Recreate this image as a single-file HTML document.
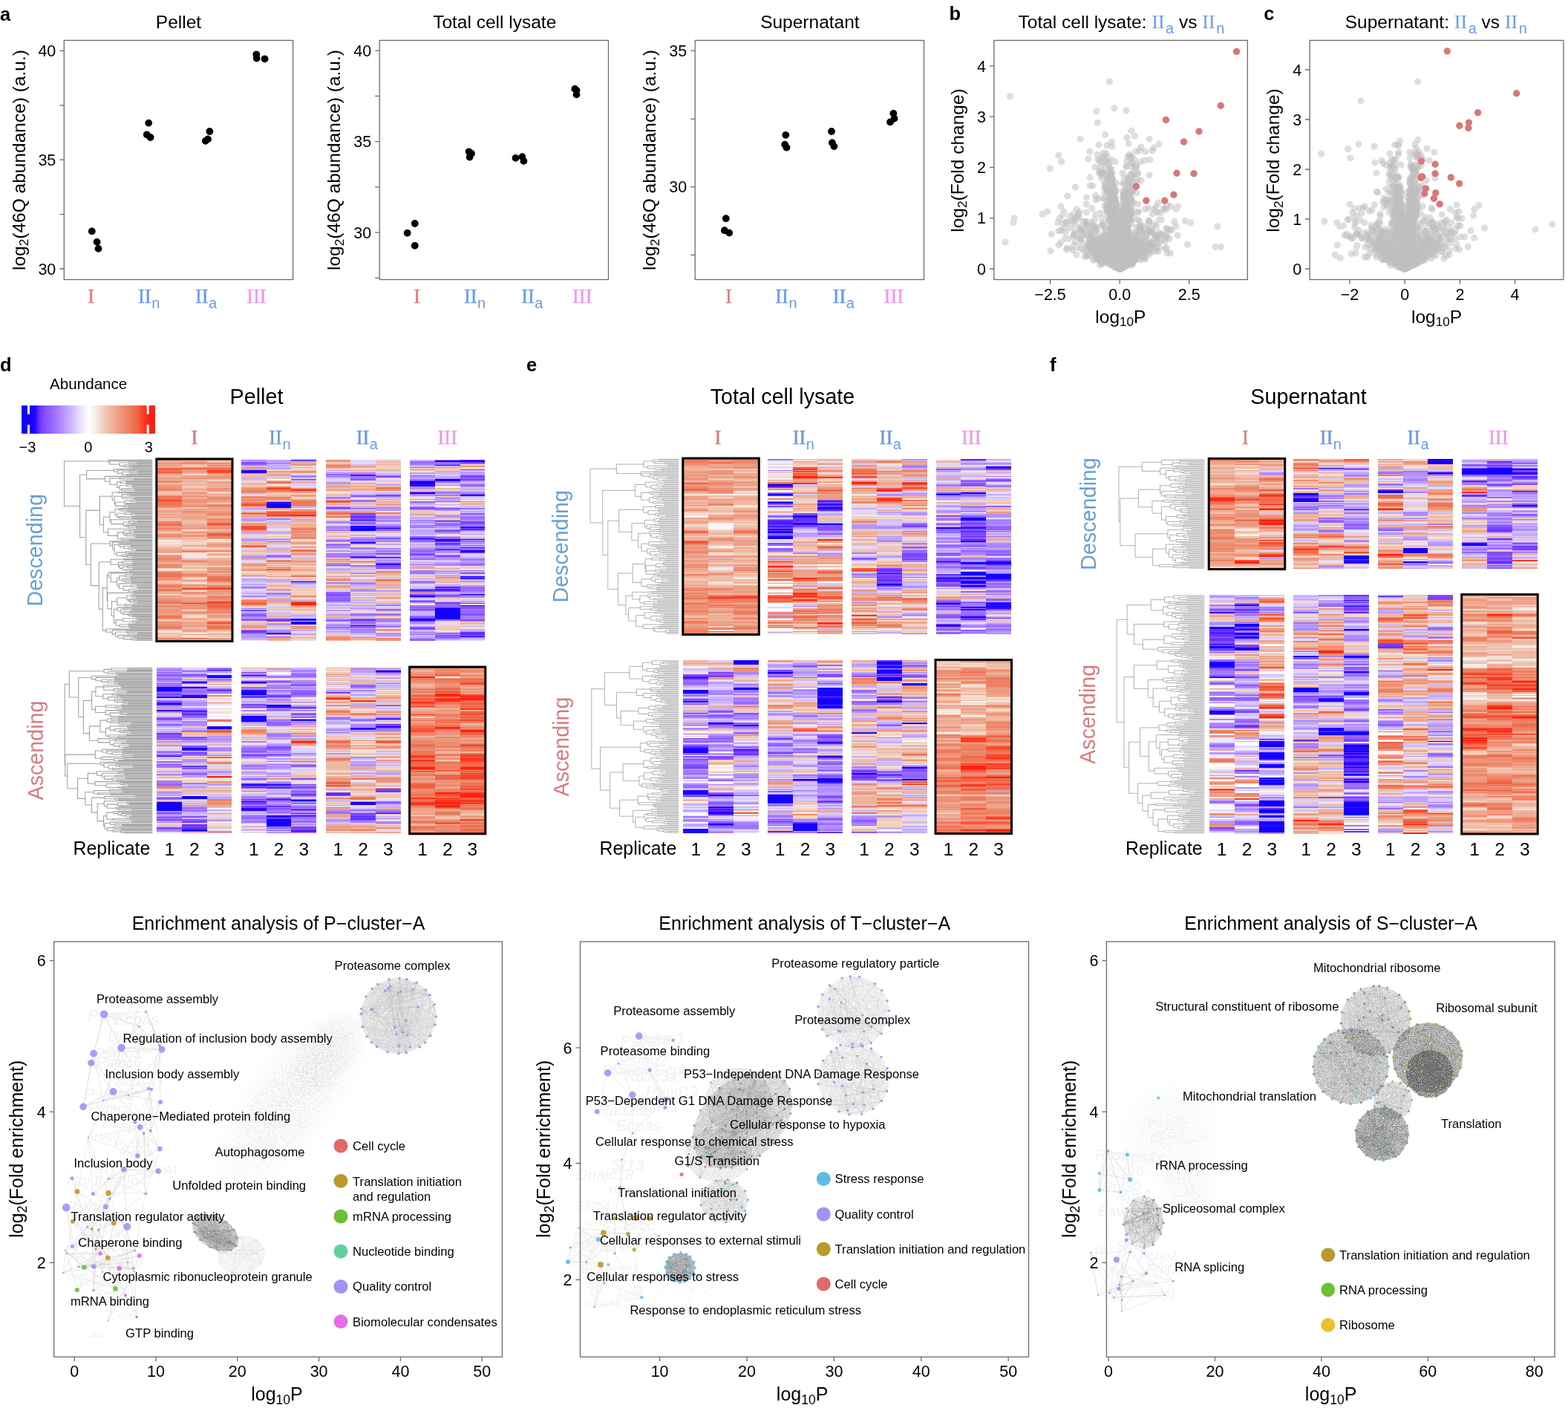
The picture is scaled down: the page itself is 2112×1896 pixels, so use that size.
<!DOCTYPE html><html><head><meta charset="utf-8"><style>html,body{margin:0;padding:0;background:#fff;}#w{position:relative;width:2112px;height:1896px;overflow:hidden;background:#fff;}#w>div{position:absolute;}svg{position:absolute;left:0;top:0;}text{font-family:'Liberation Sans',Arial,Helvetica,sans-serif;}</style></head><body><div id="w"><div style="left:211.3px;top:618.5px;width:34.1px;height:244.5px;background:linear-gradient(#f06c4f 0 1px,#eea790 0 3px,#efb29b 0 4px,#ed9479 0 6px,#efb29b 0 7px,#ed9479 0 8px,#eea790 0 10px,#efb29b 0 11px,#f25e42 0 13px,#f06c4f 0 14px,#ef7759 0 15px,#f06c4f 0 17px,#f25e42 0 18px,#ef7759 0 19px,#eea790 0 22px,#f0bda7 0 24px,#ee8b6e 0 25px,#eea790 0 29px,#ef7759 0 31px,#f3d6c6 0 32px,#eea790 0 35px,#ed9479 0 39px,#ee8163 0 40px,#ee8b6e 0 42px,#eea790 0 43px,#f3d6c6 0 44px,#f0bda7 0 46px,#f1c9b6 0 47px,#eea790 0 49px,#f06c4f 0 50px,#ef7759 0 54px,#fa492e 0 56px,#ef7759 0 61px,#ee8163 0 64px,#eea790 0 65px,#efb29b 0 67px,#f1c9b6 0 68px,#ed9479 0 69px,#eea790 0 71px,#efb29b 0 74px,#ed9479 0 75px,#f1c9b6 0 76px,#eea790 0 78px,#efb29b 0 79px,#f0bda7 0 81px,#f1c9b6 0 82px,#efb29b 0 83px,#ee8163 0 85px,#ee8b6e 0 86px,#f06c4f 0 89px,#ed9479 0 90px,#ed9d85 0 92px,#ef7759 0 93px,#ed9479 0 96px,#efb29b 0 97px,#f1c9b6 0 99px,#eea790 0 100px,#ed9479 0 101px,#ee8b6e 0 103px,#ee8163 0 104px,#eea790 0 106px,#f1c9b6 0 107px,#efb29b 0 108px,#f8ece5 0 110px,#f3d6c6 0 111px,#f4e2d7 0 114px,#f3d6c6 0 117px,#efb29b 0 118px,#f0bda7 0 119px,#efb29b 0 121px,#ed9d85 0 122px,#eea790 0 124px,#ed9479 0 125px,#f0bda7 0 126px,#f4e2d7 0 128px,#ed9d85 0 129px,#ed9479 0 132px,#ee8163 0 133px,#ee8b6e 0 136px,#ed9d85 0 138px,#eea790 0 139px,#f0bda7 0 140px,#ed9479 0 142px,#ee8163 0 143px,#ed9479 0 144px,#ee8b6e 0 146px,#f1c9b6 0 147px,#f8ece5 0 149px,#f4e2d7 0 150px,#ed9479 0 151px,#ee8b6e 0 153px,#f06c4f 0 154px,#ef7759 0 156px,#f06c4f 0 158px,#ed9479 0 160px,#ee8163 0 161px,#ed9d85 0 163px,#f0bda7 0 164px,#f1c9b6 0 165px,#f0bda7 0 167px,#eea790 0 168px,#ee8b6e 0 169px,#ee8163 0 171px,#f06c4f 0 172px,#ed9d85 0 174px,#ee8163 0 175px,#f25e42 0 176px,#ed9479 0 178px,#eea790 0 179px,#efb29b 0 181px,#f1c9b6 0 182px,#f3d6c6 0 183px,#ed9d85 0 185px,#efb29b 0 186px,#ed9d85 0 188px,#ee8b6e 0 189px,#ed9479 0 190px,#ee8163 0 192px,#ef7759 0 193px,#f06c4f 0 194px,#eea790 0 196px,#ee8b6e 0 199px,#eea790 0 200px,#ed9d85 0 201px,#ed9479 0 203px,#ed9d85 0 204px,#ed9479 0 206px,#ed9d85 0 207px,#eea790 0 208px,#ed9479 0 210px,#ef7759 0 213px,#ee8163 0 214px,#ee8b6e 0 215px,#f1c9b6 0 217px,#efb29b 0 218px,#ed9479 0 222px,#ee8b6e 0 225px,#f06c4f 0 226px,#ee8163 0 228px,#ed9479 0 229px,#f3d6c6 0 231px,#f8ece5 0 232px,#f4e2d7 0 233px,#f0bda7 0 235px,#f1c9b6 0 238px,#efb29b 0 239px,#f0bda7 0 240px,#ee8b6e 0 243px,#ed9479 0)"></div><div style="left:245px;top:618.5px;width:34.1px;height:244.5px;background:linear-gradient(#ed9479 0 1px,#eea790 0 3px,#ed9479 0 4px,#ee8b6e 0 6px,#f0bda7 0 8px,#f1c9b6 0 10px,#ee8b6e 0 11px,#f06c4f 0 13px,#ee8b6e 0 14px,#ed9479 0 15px,#ed9d85 0 18px,#f0bda7 0 19px,#f3d6c6 0 21px,#ed9d85 0 22px,#eea790 0 24px,#ed9479 0 25px,#ee8b6e 0 26px,#efb29b 0 31px,#e2d8ff 0 32px,#ed9d85 0 33px,#f0bda7 0 36px,#f1c9b6 0 38px,#f0bda7 0 39px,#eea790 0 42px,#f3d6c6 0 43px,#ed9d85 0 44px,#ed9479 0 46px,#efb29b 0 47px,#eea790 0 49px,#ee8b6e 0 50px,#ed9d85 0 51px,#efb29b 0 53px,#ed9479 0 57px,#ee8b6e 0 58px,#eea790 0 60px,#ed9d85 0 61px,#ed9479 0 63px,#ee8b6e 0 64px,#f1c9b6 0 65px,#efb29b 0 67px,#ed9479 0 68px,#efb29b 0 69px,#ee8b6e 0 71px,#ed9d85 0 72px,#eea790 0 74px,#efb29b 0 76px,#ed9d85 0 78px,#efb29b 0 79px,#ed9d85 0 81px,#f1c9b6 0 82px,#eea790 0 83px,#f1c9b6 0 85px,#efb29b 0 88px,#eea790 0 89px,#ed9d85 0 90px,#eea790 0 92px,#ee8b6e 0 93px,#f0bda7 0 94px,#f3d6c6 0 96px,#f0bda7 0 97px,#ed9479 0 99px,#eea790 0 100px,#f0bda7 0 101px,#ed9479 0 104px,#f0bda7 0 106px,#eea790 0 107px,#f1c9b6 0 110px,#f3d6c6 0 114px,#f1c9b6 0 115px,#eea790 0 117px,#f3d6c6 0 118px,#ece5ff 0 119px,#f1c9b6 0 121px,#f0bda7 0 122px,#ee8163 0 124px,#ed9479 0 125px,#f4e2d7 0 129px,#ece5ff 0 131px,#f4e2d7 0 133px,#f0bda7 0 135px,#ed9d85 0 136px,#ee8b6e 0 138px,#ed9d85 0 139px,#f0bda7 0 140px,#efb29b 0 142px,#f0bda7 0 143px,#f3d6c6 0 144px,#f0bda7 0 146px,#efb29b 0 147px,#f3d6c6 0 149px,#f1c9b6 0 150px,#eea790 0 151px,#efb29b 0 153px,#ed9479 0 154px,#ee8163 0 156px,#ee8b6e 0 157px,#ed9479 0 158px,#f1c9b6 0 160px,#f8ece5 0 161px,#eea790 0 164px,#f0bda7 0 165px,#f4e2d7 0 167px,#f1c9b6 0 168px,#ed9d85 0 169px,#ed9479 0 171px,#f0bda7 0 172px,#f25e42 0 174px,#fa492e 0 175px,#eea790 0 176px,#f3d6c6 0 178px,#ed9479 0 181px,#ed9d85 0 182px,#f3d6c6 0 183px,#f0bda7 0 186px,#ed9479 0 188px,#eea790 0 190px,#ed9479 0 192px,#ee8b6e 0 193px,#ff341c 0 194px,#ee8b6e 0 196px,#ed9d85 0 197px,#ed9479 0 199px,#ed9d85 0 200px,#ee8163 0 201px,#f0bda7 0 203px,#f3d6c6 0 204px,#ed9479 0 208px,#f1c9b6 0 210px,#f3d6c6 0 213px,#efb29b 0 214px,#eea790 0 217px,#f3d6c6 0 218px,#eea790 0 219px,#ed9d85 0 221px,#efb29b 0 222px,#ed9d85 0 224px,#eea790 0 225px,#ed9d85 0 226px,#f1c9b6 0 228px,#ed9479 0 229px,#eea790 0 231px,#ed9d85 0 232px,#f1c9b6 0 233px,#f4e2d7 0 235px,#ed9479 0 236px,#f4e2d7 0 238px,#f8ece5 0 239px,#f0bda7 0 240px,#ef7759 0 242px,#efb29b 0 243px,#ed9d85 0)"></div><div style="left:278.8px;top:618.5px;width:33.7px;height:244.5px;background:linear-gradient(#ed9d85 0 1px,#f0bda7 0 3px,#f1c9b6 0 4px,#ee8b6e 0 6px,#efb29b 0 7px,#ee8163 0 8px,#ed9d85 0 11px,#f06c4f 0 13px,#ef7759 0 14px,#ff341c 0 15px,#fa492e 0 18px,#ed9d85 0 19px,#eea790 0 22px,#ed9479 0 25px,#ed9d85 0 26px,#f0bda7 0 28px,#f4e2d7 0 29px,#ed9d85 0 31px,#efb29b 0 32px,#ed9d85 0 33px,#efb29b 0 35px,#eea790 0 36px,#efb29b 0 38px,#ed9d85 0 39px,#ee8b6e 0 40px,#ed9d85 0 43px,#f1c9b6 0 44px,#f3d6c6 0 46px,#ed9d85 0 47px,#efb29b 0 50px,#ee8163 0 51px,#ee8b6e 0 53px,#ed9479 0 54px,#ed9d85 0 56px,#eea790 0 58px,#f1c9b6 0 60px,#ee8b6e 0 61px,#ee8163 0 63px,#ee8b6e 0 64px,#efb29b 0 65px,#ed9d85 0 67px,#efb29b 0 68px,#eea790 0 69px,#ed9d85 0 71px,#ed9479 0 72px,#ee8b6e 0 74px,#ee8163 0 75px,#eea790 0 76px,#efb29b 0 79px,#ee8b6e 0 82px,#ed9479 0 83px,#ee8b6e 0 85px,#ef7759 0 86px,#fa492e 0 88px,#ee8163 0 89px,#ed9479 0 94px,#f0bda7 0 96px,#eea790 0 97px,#ed9479 0 99px,#f25e42 0 103px,#ee8b6e 0 104px,#ee8163 0 106px,#eea790 0 107px,#f8ece5 0 108px,#f3d6c6 0 110px,#f8ece5 0 111px,#efb29b 0 113px,#ed9d85 0 114px,#ed9479 0 115px,#ed9d85 0 117px,#eea790 0 118px,#f0bda7 0 119px,#f3d6c6 0 121px,#eea790 0 122px,#ed9479 0 124px,#eea790 0 125px,#fbf6f2 0 126px,#eea790 0 129px,#f3d6c6 0 132px,#f1c9b6 0 133px,#efb29b 0 135px,#eea790 0 138px,#ee8b6e 0 139px,#efb29b 0 140px,#ed9d85 0 142px,#efb29b 0 143px,#f4e2d7 0 144px,#eea790 0 146px,#ed9479 0 149px,#eea790 0 150px,#ee8b6e 0 151px,#ed9479 0 153px,#f0bda7 0 154px,#ed9d85 0 156px,#ed9479 0 157px,#ef7759 0 160px,#f06c4f 0 163px,#ef7759 0 164px,#ed9479 0 165px,#eea790 0 167px,#f1c9b6 0 168px,#eea790 0 169px,#ee8163 0 171px,#ee8b6e 0 172px,#fa492e 0 174px,#ff341c 0 175px,#eea790 0 176px,#ed9479 0 178px,#ed9d85 0 181px,#eea790 0 182px,#efb29b 0 183px,#ee8b6e 0 185px,#f06c4f 0 186px,#ee8b6e 0 189px,#eea790 0 190px,#f06c4f 0 192px,#ff2010 0 193px,#f25e42 0 194px,#f06c4f 0 196px,#f25e42 0 199px,#f06c4f 0 200px,#ef7759 0 201px,#ee8163 0 203px,#ed9479 0 204px,#ee8163 0 206px,#ee8b6e 0 207px,#efb29b 0 208px,#eea790 0 210px,#ee8163 0 211px,#eea790 0 213px,#ed9d85 0 214px,#f4e2d7 0 215px,#f0bda7 0 217px,#ed9d85 0 218px,#ef7759 0 219px,#fa492e 0 221px,#ed9479 0 222px,#ee8b6e 0 224px,#f06c4f 0 225px,#ee8163 0 226px,#f06c4f 0 228px,#ed9d85 0 229px,#eea790 0 231px,#f1c9b6 0 232px,#f8ece5 0 233px,#f0bda7 0 235px,#efb29b 0 236px,#f1c9b6 0 239px,#fbf6f2 0 240px,#ed9479 0 242px,#ed9d85 0 243px,#ee8b6e 0)"></div><div style="left:324.9px;top:618.5px;width:34.1px;height:244.5px;background:linear-gradient(#a074ff 0 1px,#bb9dff 0 3px,#854fff 0 6px,#9668ff 0 7px,#aa80ff 0 8px,#cebbff 0 10px,#ed9479 0 11px,#ed9d85 0 14px,#280bff 0 15px,#1400ff 0 18px,#ee8163 0 19px,#f0bda7 0 21px,#f1c9b6 0 22px,#efb29b 0 24px,#f0bda7 0 25px,#c4acff 0 26px,#cebbff 0 28px,#f3d6c6 0 31px,#f1c9b6 0 32px,#eea790 0 33px,#f0bda7 0 35px,#f3d6c6 0 36px,#efb29b 0 38px,#ee8b6e 0 39px,#ed9479 0 40px,#ee8b6e 0 42px,#ef7759 0 44px,#eea790 0 46px,#d8c9ff 0 47px,#f3d6c6 0 49px,#ed9479 0 50px,#ee8163 0 51px,#ed9479 0 54px,#ee8b6e 0 56px,#efb29b 0 57px,#ee8163 0 58px,#f06c4f 0 60px,#ff341c 0 61px,#f06c4f 0 63px,#eea790 0 64px,#d8c9ff 0 65px,#bb9dff 0 67px,#cebbff 0 68px,#e2d8ff 0 69px,#f0bda7 0 71px,#ee8163 0 72px,#f25e42 0 74px,#f3d6c6 0 75px,#ee8b6e 0 76px,#eea790 0 78px,#d8c9ff 0 79px,#b38fff 0 81px,#cebbff 0 82px,#a074ff 0 83px,#f3d6c6 0 85px,#ed9d85 0 86px,#ed9479 0 88px,#ed9d85 0 89px,#f25e42 0 90px,#fa492e 0 94px,#ef7759 0 96px,#f0bda7 0 97px,#bb9dff 0 99px,#cebbff 0 100px,#f0bda7 0 101px,#f3d6c6 0 103px,#e2d8ff 0 104px,#f1c9b6 0 106px,#c4acff 0 107px,#aa80ff 0 108px,#bb9dff 0 110px,#f1c9b6 0 111px,#efb29b 0 114px,#f0bda7 0 115px,#ef7759 0 117px,#ff341c 0 118px,#f3d6c6 0 119px,#d8c9ff 0 121px,#f3d6c6 0 122px,#efb29b 0 124px,#e2d8ff 0 125px,#f1c9b6 0 128px,#f0bda7 0 129px,#bb9dff 0 131px,#b38fff 0 133px,#eea790 0 135px,#d8c9ff 0 136px,#e2d8ff 0 138px,#f3d6c6 0 139px,#efb29b 0 140px,#ed9d85 0 142px,#ed9479 0 143px,#eea790 0 144px,#f0bda7 0 146px,#efb29b 0 147px,#ed9d85 0 149px,#ed9479 0 150px,#f4e2d7 0 151px,#f3d6c6 0 153px,#d8c9ff 0 154px,#f0bda7 0 156px,#aa80ff 0 157px,#f1c9b6 0 158px,#f4e2d7 0 160px,#b38fff 0 161px,#c4acff 0 164px,#d8c9ff 0 167px,#cebbff 0 168px,#b38fff 0 169px,#d8c9ff 0 171px,#8c5cff 0 172px,#b38fff 0 174px,#e2d8ff 0 175px,#f4e2d7 0 176px,#d8c9ff 0 179px,#c4acff 0 181px,#d8c9ff 0 183px,#aa80ff 0 185px,#d8c9ff 0 186px,#f3d6c6 0 188px,#eea790 0 189px,#ef7759 0 190px,#ee8b6e 0 192px,#f25e42 0 194px,#f06c4f 0 196px,#efb29b 0 197px,#f1c9b6 0 199px,#e2d8ff 0 200px,#aa80ff 0 201px,#bb9dff 0 203px,#1400ff 0 204px,#d8c9ff 0 206px,#9668ff 0 207px,#bb9dff 0 208px,#854fff 0 210px,#9668ff 0 211px,#aa80ff 0 213px,#c4acff 0 214px,#8c5cff 0 217px,#cebbff 0 218px,#f4e2d7 0 219px,#f0bda7 0 221px,#d8c9ff 0 222px,#eea790 0 224px,#ed9479 0 225px,#ee8b6e 0 226px,#eea790 0 228px,#e2d8ff 0 229px,#854fff 0 231px,#652eff 0 233px,#a074ff 0 235px,#bb9dff 0 238px,#b38fff 0 239px,#bb9dff 0 240px,#c4acff 0 242px,#cebbff 0 243px,#f4e2d7 0)"></div><div style="left:358.6px;top:618.5px;width:34.1px;height:244.5px;background:linear-gradient(#c4acff 0 1px,#bb9dff 0 3px,#c4acff 0 4px,#aa80ff 0 6px,#cebbff 0 7px,#c4acff 0 10px,#f0bda7 0 11px,#bb9dff 0 13px,#f3d6c6 0 14px,#f4e2d7 0 15px,#ed9d85 0 17px,#efb29b 0 18px,#f0bda7 0 19px,#eea790 0 21px,#bb9dff 0 22px,#d8c9ff 0 24px,#f0bda7 0 25px,#f1c9b6 0 26px,#ffffff 0 28px,#eea790 0 29px,#ee8163 0 31px,#f25e42 0 32px,#f1c9b6 0 33px,#f4e2d7 0 36px,#ee8163 0 38px,#ff341c 0 39px,#fa492e 0 40px,#f06c4f 0 42px,#ed9479 0 43px,#ee8b6e 0 44px,#f1c9b6 0 46px,#f3d6c6 0 47px,#f0bda7 0 49px,#efb29b 0 50px,#ee8b6e 0 51px,#ee8163 0 53px,#ee8b6e 0 54px,#efb29b 0 56px,#ed9479 0 57px,#1400ff 0 58px,#280bff 0 60px,#1400ff 0 65px,#ed9d85 0 67px,#efb29b 0 68px,#f4e2d7 0 69px,#ef7759 0 71px,#fa492e 0 72px,#f25e42 0 74px,#fa492e 0 75px,#ff2010 0 76px,#ed9d85 0 78px,#e2d8ff 0 79px,#a074ff 0 81px,#e2d8ff 0 82px,#cebbff 0 85px,#eea790 0 86px,#f0bda7 0 88px,#cebbff 0 89px,#d8c9ff 0 90px,#f0bda7 0 92px,#e2d8ff 0 94px,#f4e2d7 0 96px,#c4acff 0 100px,#f1c9b6 0 101px,#f4e2d7 0 103px,#f1c9b6 0 104px,#f3d6c6 0 106px,#c4acff 0 107px,#aa80ff 0 108px,#cebbff 0 110px,#9668ff 0 111px,#f0bda7 0 113px,#efb29b 0 114px,#e2d8ff 0 117px,#f1c9b6 0 118px,#d8c9ff 0 119px,#c4acff 0 121px,#eea790 0 122px,#f0bda7 0 124px,#bb9dff 0 125px,#f4e2d7 0 126px,#d8c9ff 0 128px,#b38fff 0 129px,#8c5cff 0 131px,#bb9dff 0 132px,#c4acff 0 133px,#f3d6c6 0 135px,#ee8b6e 0 136px,#ef7759 0 138px,#f3d6c6 0 139px,#b38fff 0 140px,#f1c9b6 0 142px,#ed9d85 0 143px,#f4e2d7 0 144px,#ed9479 0 146px,#eea790 0 147px,#f25e42 0 149px,#eea790 0 150px,#efb29b 0 151px,#f0bda7 0 153px,#f4e2d7 0 154px,#f0bda7 0 156px,#f3d6c6 0 157px,#ed9479 0 158px,#e2d8ff 0 160px,#f1c9b6 0 161px,#bb9dff 0 163px,#d8c9ff 0 164px,#aa80ff 0 165px,#f3d6c6 0 167px,#f0bda7 0 168px,#f3d6c6 0 169px,#eea790 0 171px,#f3d6c6 0 172px,#f1c9b6 0 174px,#ed9d85 0 175px,#ee8b6e 0 176px,#cebbff 0 178px,#f4e2d7 0 179px,#a074ff 0 181px,#b38fff 0 182px,#bb9dff 0 183px,#cebbff 0 185px,#f1c9b6 0 186px,#eea790 0 188px,#ed9d85 0 189px,#bb9dff 0 190px,#ed9d85 0 192px,#efb29b 0 193px,#cebbff 0 194px,#f1c9b6 0 196px,#f4e2d7 0 197px,#d8c9ff 0 199px,#f0bda7 0 200px,#f3d6c6 0 201px,#cebbff 0 203px,#f4e2d7 0 204px,#d8c9ff 0 206px,#f0bda7 0 207px,#c4acff 0 208px,#d8c9ff 0 210px,#eea790 0 211px,#efb29b 0 213px,#cebbff 0 214px,#7d41ff 0 217px,#652eff 0 218px,#f4e2d7 0 219px,#efb29b 0 221px,#a074ff 0 222px,#c4acff 0 224px,#f3d6c6 0 225px,#efb29b 0 226px,#e2d8ff 0 228px,#cebbff 0 229px,#b38fff 0 231px,#a074ff 0 232px,#bb9dff 0 233px,#280bff 0 235px,#aa80ff 0 236px,#f3d6c6 0 238px,#a074ff 0 239px,#aa80ff 0 240px,#eea790 0 243px,#efb29b 0)"></div><div style="left:392.4px;top:618.5px;width:33.7px;height:244.5px;background:linear-gradient(#1400ff 0 1px,#aa80ff 0 3px,#efb29b 0 4px,#eea790 0 6px,#ed9d85 0 7px,#aa80ff 0 8px,#f4e2d7 0 10px,#c4acff 0 11px,#f3d6c6 0 14px,#f1c9b6 0 15px,#ee8b6e 0 17px,#ed9d85 0 18px,#f1c9b6 0 19px,#e2d8ff 0 21px,#aa80ff 0 24px,#d8c9ff 0 26px,#8c5cff 0 28px,#f8ece5 0 29px,#eea790 0 31px,#efb29b 0 32px,#f4e2d7 0 33px,#d8c9ff 0 35px,#e2d8ff 0 38px,#ee8163 0 39px,#ee8b6e 0 40px,#ff2010 0 42px,#cebbff 0 43px,#f25e42 0 44px,#f1c9b6 0 46px,#f3d6c6 0 47px,#ed9d85 0 49px,#eea790 0 50px,#f1c9b6 0 51px,#f3d6c6 0 53px,#eea790 0 54px,#ee8b6e 0 56px,#f06c4f 0 57px,#ee8163 0 58px,#ef7759 0 61px,#ee8163 0 63px,#cebbff 0 64px,#eea790 0 65px,#e2d8ff 0 67px,#ee8b6e 0 68px,#ed9d85 0 69px,#ef7759 0 71px,#fa492e 0 72px,#f06c4f 0 74px,#ff2010 0 76px,#ed9479 0 78px,#f3d6c6 0 79px,#c4acff 0 81px,#eea790 0 82px,#efb29b 0 85px,#e2d8ff 0 86px,#eea790 0 88px,#f0bda7 0 89px,#efb29b 0 90px,#eea790 0 92px,#ee8b6e 0 93px,#f25e42 0 94px,#ed9479 0 96px,#ee8163 0 97px,#ed9479 0 99px,#ed9d85 0 100px,#ed9479 0 103px,#eea790 0 104px,#ef7759 0 106px,#eea790 0 107px,#f1c9b6 0 108px,#f4e2d7 0 110px,#efb29b 0 111px,#ed9d85 0 113px,#eea790 0 114px,#f1c9b6 0 115px,#e2d8ff 0 117px,#ee8163 0 118px,#f0bda7 0 119px,#f1c9b6 0 121px,#ee8b6e 0 122px,#f25e42 0 124px,#f4e2d7 0 125px,#ee8163 0 126px,#eea790 0 128px,#ed9479 0 129px,#e2d8ff 0 131px,#c4acff 0 132px,#d8c9ff 0 133px,#efb29b 0 136px,#ed9479 0 138px,#ed9d85 0 139px,#f3d6c6 0 140px,#eea790 0 142px,#f1c9b6 0 143px,#f4e2d7 0 144px,#f0bda7 0 147px,#efb29b 0 149px,#ed9d85 0 150px,#d8c9ff 0 151px,#f1c9b6 0 153px,#f4e2d7 0 154px,#efb29b 0 156px,#ef7759 0 158px,#e2d8ff 0 160px,#f0bda7 0 161px,#f1c9b6 0 163px,#aa80ff 0 164px,#280bff 0 165px,#b38fff 0 168px,#f3d6c6 0 169px,#d8c9ff 0 171px,#cebbff 0 172px,#f1c9b6 0 174px,#f3d6c6 0 175px,#f0bda7 0 176px,#f3d6c6 0 178px,#f1c9b6 0 179px,#f3d6c6 0 181px,#f1c9b6 0 183px,#ee8b6e 0 185px,#efb29b 0 186px,#f4e2d7 0 188px,#efb29b 0 189px,#cebbff 0 190px,#ee8163 0 192px,#ff2010 0 196px,#ed9479 0 199px,#f3d6c6 0 200px,#f0bda7 0 204px,#f4e2d7 0 206px,#f0bda7 0 207px,#f4e2d7 0 208px,#c4acff 0 211px,#cebbff 0 213px,#e2d8ff 0 214px,#1400ff 0 215px,#280bff 0 217px,#cebbff 0 218px,#280bff 0 219px,#1400ff 0 222px,#f3d6c6 0 224px,#ee8163 0 225px,#eea790 0 226px,#ed9479 0 228px,#cebbff 0 229px,#c4acff 0 231px,#f4e2d7 0 233px,#cebbff 0 235px,#b38fff 0 236px,#f3d6c6 0 239px,#eea790 0 240px,#f1c9b6 0 242px,#f3d6c6 0 243px,#e2d8ff 0)"></div><div style="left:438.5px;top:618.5px;width:34.1px;height:244.5px;background:linear-gradient(#ed9479 0 3px,#f1c9b6 0 6px,#ed9479 0 8px,#ee8163 0 10px,#ed9479 0 11px,#f0bda7 0 13px,#f4e2d7 0 14px,#bb9dff 0 15px,#f1c9b6 0 17px,#b38fff 0 18px,#c4acff 0 19px,#9668ff 0 21px,#aa80ff 0 24px,#d8c9ff 0 25px,#cebbff 0 26px,#e2d8ff 0 29px,#efb29b 0 31px,#aa80ff 0 32px,#bb9dff 0 33px,#cebbff 0 35px,#ed9479 0 36px,#eea790 0 38px,#f0bda7 0 39px,#efb29b 0 40px,#ed9d85 0 42px,#e2d8ff 0 43px,#f4e2d7 0 46px,#f0bda7 0 49px,#e2d8ff 0 50px,#a074ff 0 51px,#aa80ff 0 53px,#f3d6c6 0 54px,#ee8163 0 56px,#ff2010 0 57px,#ef7759 0 58px,#efb29b 0 60px,#eea790 0 61px,#d8c9ff 0 63px,#a074ff 0 64px,#854fff 0 67px,#e2d8ff 0 68px,#cebbff 0 69px,#ed9d85 0 71px,#f06c4f 0 72px,#ef7759 0 74px,#ed9d85 0 75px,#efb29b 0 76px,#ef7759 0 78px,#f1c9b6 0 79px,#f4e2d7 0 81px,#d8c9ff 0 82px,#f0bda7 0 83px,#aa80ff 0 85px,#b38fff 0 86px,#e2d8ff 0 88px,#d8c9ff 0 89px,#bb9dff 0 90px,#aa80ff 0 92px,#a074ff 0 93px,#c4acff 0 94px,#a074ff 0 96px,#d8c9ff 0 97px,#f0bda7 0 99px,#e2d8ff 0 101px,#f1c9b6 0 103px,#eea790 0 104px,#f3d6c6 0 106px,#cebbff 0 107px,#c4acff 0 108px,#9668ff 0 110px,#b38fff 0 111px,#f3d6c6 0 113px,#aa80ff 0 114px,#8c5cff 0 115px,#aa80ff 0 117px,#b38fff 0 118px,#a074ff 0 119px,#cebbff 0 121px,#f4e2d7 0 122px,#b38fff 0 124px,#f3d6c6 0 125px,#d8c9ff 0 126px,#a074ff 0 128px,#b38fff 0 129px,#a074ff 0 131px,#b38fff 0 132px,#e2d8ff 0 133px,#ed9479 0 135px,#efb29b 0 136px,#ed9d85 0 138px,#f3d6c6 0 139px,#aa80ff 0 142px,#854fff 0 143px,#c4acff 0 144px,#f3d6c6 0 146px,#c4acff 0 147px,#bb9dff 0 149px,#d8c9ff 0 150px,#efb29b 0 151px,#f0bda7 0 153px,#cebbff 0 154px,#f4e2d7 0 156px,#cebbff 0 157px,#eea790 0 158px,#f1c9b6 0 160px,#ed9479 0 161px,#ee8b6e 0 163px,#f0bda7 0 164px,#e2d8ff 0 165px,#aa80ff 0 167px,#f0bda7 0 168px,#d8c9ff 0 169px,#eea790 0 171px,#ee8b6e 0 172px,#f0bda7 0 174px,#f1c9b6 0 175px,#d8c9ff 0 178px,#9668ff 0 179px,#8c5cff 0 181px,#854fff 0 183px,#8c5cff 0 185px,#aa80ff 0 186px,#8c5cff 0 188px,#9668ff 0 189px,#854fff 0 190px,#a074ff 0 192px,#c4acff 0 193px,#f4e2d7 0 194px,#cebbff 0 196px,#bb9dff 0 197px,#d8c9ff 0 199px,#efb29b 0 200px,#d8c9ff 0 203px,#a074ff 0 204px,#e2d8ff 0 206px,#f0bda7 0 207px,#f1c9b6 0 208px,#bb9dff 0 210px,#efb29b 0 213px,#bb9dff 0 214px,#cebbff 0 215px,#8c5cff 0 217px,#a074ff 0 218px,#d8c9ff 0 221px,#c4acff 0 222px,#aa80ff 0 224px,#c4acff 0 225px,#8c5cff 0 226px,#aa80ff 0 228px,#bb9dff 0 229px,#cebbff 0 231px,#bb9dff 0 232px,#c4acff 0 233px,#d8c9ff 0 235px,#f1c9b6 0 236px,#f0bda7 0 238px,#ee8b6e 0 239px,#ed9d85 0 240px,#ee8163 0 242px,#ed9479 0 243px,#efb29b 0)"></div><div style="left:472.2px;top:618.5px;width:34.1px;height:244.5px;background:linear-gradient(#e2d8ff 0 6px,#cebbff 0 7px,#f0bda7 0 8px,#eea790 0 11px,#f3d6c6 0 14px,#eea790 0 15px,#f1c9b6 0 17px,#aa80ff 0 18px,#bb9dff 0 19px,#854fff 0 21px,#1400ff 0 22px,#a074ff 0 24px,#aa80ff 0 25px,#8c5cff 0 28px,#d8c9ff 0 29px,#f3d6c6 0 31px,#f0bda7 0 32px,#ed9479 0 33px,#f3d6c6 0 35px,#ee8b6e 0 36px,#f0bda7 0 38px,#efb29b 0 40px,#eea790 0 42px,#e2d8ff 0 43px,#d8c9ff 0 47px,#a074ff 0 49px,#854fff 0 50px,#b38fff 0 51px,#f4e2d7 0 53px,#e2d8ff 0 54px,#a074ff 0 56px,#9668ff 0 57px,#f1c9b6 0 58px,#cebbff 0 60px,#f1c9b6 0 63px,#bb9dff 0 64px,#c4acff 0 65px,#a074ff 0 67px,#e2d8ff 0 68px,#c4acff 0 69px,#eea790 0 71px,#ee8b6e 0 72px,#7d41ff 0 74px,#8c5cff 0 75px,#854fff 0 76px,#652eff 0 78px,#7d41ff 0 79px,#854fff 0 81px,#280bff 0 82px,#9668ff 0 83px,#aa80ff 0 85px,#854fff 0 86px,#a074ff 0 88px,#d8c9ff 0 89px,#1400ff 0 90px,#280bff 0 92px,#1400ff 0 96px,#c4acff 0 97px,#d8c9ff 0 99px,#f3d6c6 0 101px,#c4acff 0 103px,#f4e2d7 0 104px,#bb9dff 0 106px,#a074ff 0 110px,#8c5cff 0 111px,#280bff 0 113px,#bb9dff 0 114px,#cebbff 0 115px,#f4e2d7 0 117px,#f1c9b6 0 118px,#b38fff 0 119px,#a074ff 0 121px,#e2d8ff 0 122px,#c4acff 0 124px,#bb9dff 0 125px,#c4acff 0 126px,#a074ff 0 128px,#cebbff 0 129px,#854fff 0 131px,#1400ff 0 132px,#8c5cff 0 133px,#cebbff 0 135px,#fbf6f2 0 136px,#ee8163 0 138px,#f0bda7 0 139px,#c4acff 0 140px,#f4e2d7 0 142px,#9668ff 0 143px,#a074ff 0 144px,#c4acff 0 146px,#d8c9ff 0 147px,#efb29b 0 149px,#f1c9b6 0 150px,#f3d6c6 0 151px,#c4acff 0 153px,#a074ff 0 154px,#f3d6c6 0 156px,#b38fff 0 157px,#f0bda7 0 158px,#f4e2d7 0 160px,#e2d8ff 0 161px,#efb29b 0 163px,#cebbff 0 164px,#f1c9b6 0 165px,#aa80ff 0 167px,#9668ff 0 168px,#cebbff 0 169px,#c4acff 0 171px,#d8c9ff 0 172px,#f0bda7 0 174px,#b38fff 0 178px,#f4e2d7 0 179px,#cebbff 0 181px,#f1c9b6 0 182px,#c4acff 0 183px,#e2d8ff 0 185px,#eea790 0 186px,#f1c9b6 0 188px,#efb29b 0 189px,#c4acff 0 190px,#cebbff 0 193px,#efb29b 0 194px,#f1c9b6 0 196px,#ed9479 0 197px,#cebbff 0 199px,#c4acff 0 200px,#b38fff 0 201px,#f0bda7 0 203px,#e2d8ff 0 204px,#f4e2d7 0 206px,#c4acff 0 207px,#bb9dff 0 208px,#8c5cff 0 210px,#cebbff 0 211px,#c4acff 0 213px,#f8ece5 0 214px,#652eff 0 215px,#7d41ff 0 218px,#bb9dff 0 219px,#8c5cff 0 221px,#f3d6c6 0 222px,#652eff 0 224px,#854fff 0 225px,#7d41ff 0 226px,#b38fff 0 228px,#a074ff 0 229px,#aa80ff 0 231px,#b38fff 0 232px,#a074ff 0 233px,#c4acff 0 235px,#cebbff 0 236px,#f3d6c6 0 238px,#cebbff 0 239px,#b38fff 0 240px,#eea790 0 242px,#efb29b 0 243px,#f3d6c6 0)"></div><div style="left:506px;top:618.5px;width:33.7px;height:244.5px;background:linear-gradient(#f1c9b6 0 1px,#d8c9ff 0 3px,#efb29b 0 4px,#f1c9b6 0 6px,#efb29b 0 7px,#f1c9b6 0 10px,#e2d8ff 0 11px,#f1c9b6 0 13px,#efb29b 0 15px,#d8c9ff 0 17px,#e2d8ff 0 18px,#f0bda7 0 19px,#c4acff 0 21px,#aa80ff 0 22px,#7d41ff 0 24px,#d8c9ff 0 25px,#f3d6c6 0 26px,#e2d8ff 0 28px,#cebbff 0 29px,#f3d6c6 0 32px,#d8c9ff 0 33px,#bb9dff 0 35px,#f4e2d7 0 36px,#ed9479 0 38px,#f25e42 0 39px,#ed9479 0 40px,#ee8b6e 0 42px,#f4e2d7 0 43px,#e2d8ff 0 44px,#cebbff 0 47px,#7d41ff 0 49px,#a074ff 0 50px,#aa80ff 0 51px,#d8c9ff 0 53px,#bb9dff 0 54px,#f1c9b6 0 56px,#cebbff 0 57px,#eea790 0 58px,#cebbff 0 60px,#ee8163 0 61px,#f0bda7 0 63px,#cebbff 0 64px,#a074ff 0 65px,#bb9dff 0 67px,#aa80ff 0 68px,#bb9dff 0 69px,#f4e2d7 0 71px,#f06c4f 0 72px,#ed9d85 0 74px,#e2d8ff 0 75px,#bb9dff 0 76px,#b38fff 0 78px,#a074ff 0 79px,#bb9dff 0 82px,#8c5cff 0 83px,#c4acff 0 85px,#f5f2ff 0 86px,#bb9dff 0 88px,#b38fff 0 89px,#9668ff 0 90px,#854fff 0 92px,#1400ff 0 93px,#8c5cff 0 96px,#c4acff 0 97px,#f0bda7 0 99px,#f3d6c6 0 100px,#e2d8ff 0 103px,#c4acff 0 104px,#aa80ff 0 106px,#652eff 0 107px,#bb9dff 0 108px,#b38fff 0 110px,#9668ff 0 111px,#f4e2d7 0 113px,#b38fff 0 114px,#c4acff 0 115px,#f3d6c6 0 117px,#f4e2d7 0 118px,#d8c9ff 0 119px,#aa80ff 0 121px,#d8c9ff 0 122px,#9668ff 0 124px,#c4acff 0 125px,#a074ff 0 126px,#854fff 0 128px,#cebbff 0 131px,#280bff 0 132px,#8c5cff 0 133px,#c4acff 0 135px,#aa80ff 0 136px,#bb9dff 0 138px,#aa80ff 0 139px,#854fff 0 140px,#280bff 0 142px,#8c5cff 0 143px,#7d41ff 0 144px,#8c5cff 0 146px,#7d41ff 0 147px,#d8c9ff 0 149px,#f1c9b6 0 150px,#ee8163 0 151px,#ed9479 0 153px,#cebbff 0 154px,#efb29b 0 156px,#f3d6c6 0 157px,#f1c9b6 0 158px,#cebbff 0 160px,#f1c9b6 0 161px,#f06c4f 0 163px,#ed9479 0 164px,#ed9d85 0 165px,#f0bda7 0 167px,#ed9d85 0 168px,#efb29b 0 171px,#c4acff 0 172px,#efb29b 0 174px,#f4e2d7 0 175px,#cebbff 0 176px,#bb9dff 0 178px,#e2d8ff 0 179px,#f0bda7 0 182px,#d8c9ff 0 183px,#f1c9b6 0 185px,#ed9d85 0 186px,#eea790 0 188px,#f4e2d7 0 189px,#ece5ff 0 190px,#f1c9b6 0 192px,#efb29b 0 193px,#d8c9ff 0 194px,#bb9dff 0 196px,#8c5cff 0 197px,#e2d8ff 0 199px,#f0bda7 0 200px,#d8c9ff 0 201px,#9668ff 0 203px,#b38fff 0 204px,#f1c9b6 0 206px,#f4e2d7 0 207px,#9668ff 0 208px,#a074ff 0 210px,#eea790 0 211px,#f3d6c6 0 213px,#efb29b 0 214px,#a074ff 0 215px,#aa80ff 0 217px,#9668ff 0 218px,#bb9dff 0 219px,#d8c9ff 0 221px,#c4acff 0 222px,#bb9dff 0 224px,#8c5cff 0 225px,#aa80ff 0 226px,#f3d6c6 0 228px,#ee8b6e 0 229px,#ed9d85 0 231px,#f4e2d7 0 233px,#b38fff 0 236px,#bb9dff 0 238px,#d8c9ff 0 239px,#f3d6c6 0 240px,#ee8163 0 242px,#ed9d85 0 243px,#ed9479 0)"></div><div style="left:552.1px;top:618.5px;width:34.1px;height:244.5px;background:linear-gradient(#d8c9ff 0 1px,#b38fff 0 3px,#854fff 0 4px,#a074ff 0 7px,#c4acff 0 8px,#cebbff 0 10px,#a074ff 0 11px,#f1c9b6 0 13px,#ed9d85 0 14px,#f0bda7 0 15px,#f4e2d7 0 17px,#c4acff 0 18px,#b38fff 0 19px,#d8c9ff 0 21px,#9668ff 0 22px,#b38fff 0 25px,#cebbff 0 26px,#a074ff 0 28px,#7d41ff 0 29px,#1400ff 0 33px,#280bff 0 35px,#1400ff 0 36px,#b38fff 0 38px,#a074ff 0 39px,#efb29b 0 42px,#d8c9ff 0 43px,#8c5cff 0 44px,#1400ff 0 46px,#9668ff 0 47px,#b38fff 0 49px,#d8c9ff 0 50px,#e2d8ff 0 51px,#f4e2d7 0 53px,#b38fff 0 54px,#f4e2d7 0 56px,#8c5cff 0 57px,#9668ff 0 58px,#bb9dff 0 60px,#cebbff 0 61px,#d8c9ff 0 63px,#a074ff 0 64px,#8c5cff 0 65px,#854fff 0 67px,#bb9dff 0 68px,#f0bda7 0 69px,#d8c9ff 0 71px,#f1c9b6 0 72px,#efb29b 0 74px,#ed9d85 0 75px,#f1c9b6 0 76px,#d8c9ff 0 78px,#aa80ff 0 79px,#d8c9ff 0 81px,#9668ff 0 82px,#bb9dff 0 83px,#b38fff 0 86px,#cebbff 0 88px,#9668ff 0 89px,#b38fff 0 90px,#a074ff 0 92px,#d8c9ff 0 93px,#c4acff 0 96px,#b38fff 0 97px,#c4acff 0 100px,#bb9dff 0 101px,#d8c9ff 0 103px,#9668ff 0 104px,#854fff 0 106px,#1400ff 0 107px,#7d41ff 0 108px,#9668ff 0 110px,#8c5cff 0 111px,#cebbff 0 113px,#d8c9ff 0 114px,#bb9dff 0 115px,#cebbff 0 117px,#f0bda7 0 118px,#bb9dff 0 119px,#b38fff 0 121px,#8c5cff 0 122px,#a074ff 0 124px,#7d41ff 0 125px,#c4acff 0 126px,#7d41ff 0 128px,#854fff 0 129px,#b38fff 0 133px,#9668ff 0 135px,#e2d8ff 0 136px,#f1c9b6 0 138px,#bb9dff 0 139px,#e2d8ff 0 140px,#b38fff 0 142px,#c4acff 0 143px,#cebbff 0 144px,#eea790 0 146px,#ed9d85 0 147px,#e2d8ff 0 149px,#a074ff 0 150px,#aa80ff 0 151px,#a074ff 0 154px,#d8c9ff 0 156px,#f3d6c6 0 157px,#f0bda7 0 158px,#f3d6c6 0 160px,#bb9dff 0 161px,#d8c9ff 0 163px,#b38fff 0 164px,#8c5cff 0 165px,#aa80ff 0 167px,#d8c9ff 0 168px,#f3d6c6 0 169px,#d8c9ff 0 172px,#c4acff 0 174px,#aa80ff 0 175px,#1400ff 0 176px,#7d41ff 0 178px,#ee8b6e 0 179px,#b38fff 0 181px,#854fff 0 182px,#7d41ff 0 183px,#1400ff 0 185px,#a074ff 0 186px,#cebbff 0 188px,#f4e2d7 0 189px,#9668ff 0 190px,#854fff 0 192px,#b38fff 0 193px,#d8c9ff 0 194px,#f8ece5 0 196px,#9668ff 0 197px,#a074ff 0 199px,#854fff 0 200px,#aa80ff 0 201px,#854fff 0 203px,#aa80ff 0 204px,#cebbff 0 206px,#c4acff 0 207px,#cebbff 0 208px,#c4acff 0 210px,#aa80ff 0 211px,#854fff 0 213px,#7d41ff 0 214px,#1400ff 0 217px,#854fff 0 218px,#a074ff 0 219px,#b38fff 0 221px,#c4acff 0 222px,#e2d8ff 0 224px,#bb9dff 0 225px,#a074ff 0 226px,#7d41ff 0 228px,#8c5cff 0 229px,#cebbff 0 231px,#c4acff 0 232px,#aa80ff 0 233px,#bb9dff 0 235px,#9668ff 0 236px,#cebbff 0 238px,#c4acff 0 240px,#aa80ff 0 242px,#854fff 0 243px,#9668ff 0)"></div><div style="left:585.8px;top:618.5px;width:34.1px;height:244.5px;background:linear-gradient(#b38fff 0 1px,#1400ff 0 3px,#8c5cff 0 4px,#a074ff 0 7px,#280bff 0 8px,#c4acff 0 10px,#cebbff 0 11px,#f0bda7 0 13px,#e2d8ff 0 14px,#f1c9b6 0 15px,#eea790 0 17px,#cebbff 0 18px,#efb29b 0 19px,#d8c9ff 0 22px,#c4acff 0 24px,#bb9dff 0 25px,#b38fff 0 26px,#1400ff 0 28px,#280bff 0 29px,#a074ff 0 31px,#b38fff 0 32px,#f4e2d7 0 33px,#bb9dff 0 35px,#f3d6c6 0 36px,#f5f2ff 0 38px,#f0bda7 0 39px,#efb29b 0 40px,#f3d6c6 0 42px,#c4acff 0 43px,#aa80ff 0 44px,#a074ff 0 46px,#cebbff 0 47px,#a074ff 0 49px,#f3d6c6 0 50px,#ed9d85 0 51px,#b38fff 0 53px,#c4acff 0 54px,#bb9dff 0 56px,#a074ff 0 57px,#f0bda7 0 58px,#f4e2d7 0 60px,#c4acff 0 61px,#e2d8ff 0 64px,#bb9dff 0 65px,#8c5cff 0 67px,#aa80ff 0 68px,#b38fff 0 69px,#f3d6c6 0 74px,#bb9dff 0 75px,#b38fff 0 78px,#d8c9ff 0 79px,#f0bda7 0 81px,#f1c9b6 0 82px,#280bff 0 83px,#b38fff 0 85px,#aa80ff 0 86px,#9668ff 0 89px,#aa80ff 0 90px,#bb9dff 0 92px,#c4acff 0 93px,#e2d8ff 0 94px,#854fff 0 97px,#aa80ff 0 99px,#c4acff 0 100px,#f1c9b6 0 101px,#f4e2d7 0 103px,#bb9dff 0 104px,#9668ff 0 107px,#1400ff 0 108px,#280bff 0 110px,#7d41ff 0 111px,#9668ff 0 113px,#1400ff 0 114px,#9668ff 0 115px,#a074ff 0 117px,#cebbff 0 118px,#9668ff 0 121px,#1400ff 0 122px,#b38fff 0 124px,#a074ff 0 125px,#c4acff 0 126px,#d8c9ff 0 128px,#aa80ff 0 129px,#7d41ff 0 131px,#aa80ff 0 132px,#b38fff 0 135px,#cebbff 0 136px,#d8c9ff 0 138px,#bb9dff 0 140px,#aa80ff 0 142px,#b38fff 0 143px,#e2d8ff 0 144px,#f3d6c6 0 146px,#eea790 0 147px,#f1c9b6 0 149px,#cebbff 0 150px,#aa80ff 0 151px,#c4acff 0 154px,#d8c9ff 0 156px,#aa80ff 0 157px,#f1c9b6 0 158px,#ee8b6e 0 160px,#f1c9b6 0 161px,#efb29b 0 163px,#f3d6c6 0 164px,#bb9dff 0 165px,#f1c9b6 0 167px,#f3d6c6 0 168px,#bb9dff 0 169px,#c4acff 0 171px,#280bff 0 172px,#7d41ff 0 174px,#652eff 0 175px,#1400ff 0 176px,#7d41ff 0 178px,#cebbff 0 179px,#c4acff 0 181px,#aa80ff 0 182px,#7d41ff 0 183px,#8c5cff 0 185px,#bb9dff 0 186px,#f1c9b6 0 189px,#f4e2d7 0 190px,#cebbff 0 192px,#652eff 0 193px,#7d41ff 0 194px,#9668ff 0 199px,#652eff 0 200px,#1400ff 0 215px,#9668ff 0 217px,#cebbff 0 218px,#ece5ff 0 219px,#f3d6c6 0 221px,#e2d8ff 0 222px,#f3d6c6 0 224px,#f0bda7 0 225px,#e2d8ff 0 226px,#f1c9b6 0 228px,#cebbff 0 229px,#f3d6c6 0 231px,#f4e2d7 0 232px,#cebbff 0 233px,#9668ff 0 235px,#b38fff 0 236px,#854fff 0 238px,#9668ff 0 239px,#854fff 0 240px,#aa80ff 0 242px,#cebbff 0 243px,#d8c9ff 0)"></div><div style="left:619.6px;top:618.5px;width:33.7px;height:244.5px;background:linear-gradient(#7d41ff 0 1px,#1400ff 0 3px,#652eff 0 4px,#8c5cff 0 6px,#f3d6c6 0 7px,#d8c9ff 0 8px,#ed9479 0 10px,#f4e2d7 0 11px,#f3d6c6 0 13px,#7d41ff 0 14px,#cebbff 0 17px,#aa80ff 0 18px,#c4acff 0 19px,#bb9dff 0 21px,#7d41ff 0 24px,#9668ff 0 25px,#8c5cff 0 26px,#7d41ff 0 28px,#aa80ff 0 29px,#c4acff 0 31px,#d8c9ff 0 32px,#aa80ff 0 33px,#a074ff 0 35px,#854fff 0 36px,#c4acff 0 38px,#f4e2d7 0 39px,#aa80ff 0 40px,#d8c9ff 0 42px,#bb9dff 0 43px,#c4acff 0 44px,#aa80ff 0 46px,#8c5cff 0 47px,#280bff 0 49px,#c4acff 0 50px,#cebbff 0 51px,#e2d8ff 0 53px,#f0bda7 0 54px,#f4e2d7 0 56px,#aa80ff 0 57px,#f3d6c6 0 58px,#efb29b 0 61px,#d8c9ff 0 63px,#c4acff 0 64px,#e2d8ff 0 65px,#9668ff 0 67px,#e2d8ff 0 68px,#cebbff 0 69px,#c4acff 0 71px,#cebbff 0 72px,#8c5cff 0 74px,#b38fff 0 75px,#c4acff 0 76px,#a074ff 0 78px,#9668ff 0 79px,#a074ff 0 81px,#bb9dff 0 82px,#a074ff 0 83px,#854fff 0 85px,#652eff 0 86px,#9668ff 0 89px,#b38fff 0 90px,#280bff 0 92px,#8c5cff 0 93px,#1400ff 0 94px,#8c5cff 0 96px,#cebbff 0 97px,#d8c9ff 0 99px,#f1c9b6 0 100px,#bb9dff 0 101px,#e2d8ff 0 103px,#f3d6c6 0 104px,#cebbff 0 106px,#b38fff 0 107px,#280bff 0 108px,#aa80ff 0 110px,#854fff 0 111px,#bb9dff 0 113px,#aa80ff 0 114px,#e2d8ff 0 115px,#a074ff 0 117px,#cebbff 0 118px,#280bff 0 119px,#a074ff 0 121px,#854fff 0 122px,#1400ff 0 124px,#280bff 0 125px,#7d41ff 0 126px,#d8c9ff 0 128px,#e2d8ff 0 129px,#d8c9ff 0 131px,#c4acff 0 132px,#cebbff 0 133px,#a074ff 0 135px,#aa80ff 0 136px,#bb9dff 0 139px,#aa80ff 0 140px,#9668ff 0 142px,#a074ff 0 143px,#f3d6c6 0 144px,#f1c9b6 0 146px,#f3d6c6 0 147px,#f4e2d7 0 149px,#8c5cff 0 150px,#ece5ff 0 151px,#a074ff 0 153px,#854fff 0 154px,#e2d8ff 0 156px,#c4acff 0 157px,#1400ff 0 158px,#652eff 0 160px,#1400ff 0 161px,#cebbff 0 163px,#bb9dff 0 164px,#b38fff 0 165px,#f1c9b6 0 167px,#e2d8ff 0 168px,#f3d6c6 0 169px,#b38fff 0 171px,#aa80ff 0 172px,#8c5cff 0 174px,#b38fff 0 175px,#854fff 0 176px,#a074ff 0 178px,#b38fff 0 179px,#bb9dff 0 181px,#1400ff 0 182px,#854fff 0 183px,#aa80ff 0 185px,#b38fff 0 186px,#f3d6c6 0 188px,#d8c9ff 0 189px,#e2d8ff 0 190px,#bb9dff 0 192px,#cebbff 0 193px,#ff2010 0 194px,#f4e2d7 0 196px,#280bff 0 197px,#854fff 0 201px,#a074ff 0 203px,#9668ff 0 207px,#8c5cff 0 208px,#854fff 0 210px,#b38fff 0 211px,#a074ff 0 213px,#b38fff 0 214px,#a074ff 0 215px,#854fff 0 217px,#a074ff 0 218px,#f3d6c6 0 219px,#efb29b 0 221px,#f0bda7 0 222px,#f3d6c6 0 224px,#c4acff 0 225px,#f4e2d7 0 228px,#c4acff 0 231px,#b38fff 0 232px,#652eff 0 236px,#7d41ff 0 238px,#1400ff 0 239px,#aa80ff 0 240px,#c4acff 0 242px,#d8c9ff 0 243px,#e2d8ff 0)"></div><div style="left:211.3px;top:898.6px;width:34.1px;height:223.7px;background:linear-gradient(#b38fff 0 1px,#bb9dff 0 3px,#8c5cff 0 4px,#bb9dff 0 6px,#9668ff 0 7px,#aa80ff 0 8px,#a074ff 0 10px,#854fff 0 11px,#9668ff 0 12px,#b38fff 0 14px,#a074ff 0 15px,#9668ff 0 17px,#b38fff 0 18px,#a074ff 0 19px,#c4acff 0 21px,#854fff 0 22px,#b38fff 0 23px,#9668ff 0 25px,#a074ff 0 26px,#1400ff 0 32px,#854fff 0 33px,#8c5cff 0 36px,#652eff 0 37px,#9668ff 0 39px,#280bff 0 41px,#d8c9ff 0 43px,#c4acff 0 44px,#a074ff 0 46px,#652eff 0 47px,#7d41ff 0 48px,#1400ff 0 50px,#9668ff 0 51px,#a074ff 0 52px,#bb9dff 0 55px,#ed9479 0 57px,#280bff 0 59px,#b38fff 0 61px,#d8c9ff 0 62px,#f3d6c6 0 64px,#d8c9ff 0 65px,#e2d8ff 0 66px,#aa80ff 0 68px,#7d41ff 0 69px,#652eff 0 70px,#aa80ff 0 72px,#bb9dff 0 73px,#c4acff 0 76px,#854fff 0 77px,#a074ff 0 79px,#d8c9ff 0 80px,#c4acff 0 81px,#e2d8ff 0 83px,#bb9dff 0 84px,#d8c9ff 0 86px,#aa80ff 0 87px,#d8c9ff 0 88px,#652eff 0 90px,#9668ff 0 91px,#854fff 0 93px,#8c5cff 0 95px,#9668ff 0 97px,#aa80ff 0 98px,#f1c9b6 0 99px,#b38fff 0 101px,#f1c9b6 0 102px,#efb29b 0 104px,#c4acff 0 105px,#a074ff 0 106px,#e2d8ff 0 108px,#f8ece5 0 109px,#f0bda7 0 110px,#e2d8ff 0 112px,#b38fff 0 113px,#9668ff 0 115px,#c4acff 0 116px,#bb9dff 0 117px,#854fff 0 119px,#1400ff 0 120px,#cebbff 0 122px,#d8c9ff 0 123px,#cebbff 0 124px,#f4e2d7 0 126px,#9668ff 0 127px,#a074ff 0 128px,#c4acff 0 130px,#854fff 0 131px,#a074ff 0 134px,#aa80ff 0 135px,#f3d6c6 0 138px,#d8c9ff 0 139px,#c4acff 0 141px,#f1c9b6 0 142px,#cebbff 0 144px,#7d41ff 0 145px,#f4e2d7 0 146px,#f1c9b6 0 148px,#ed9d85 0 149px,#f8ece5 0 151px,#f1c9b6 0 152px,#b38fff 0 153px,#a074ff 0 155px,#b38fff 0 156px,#8c5cff 0 157px,#9668ff 0 159px,#aa80ff 0 160px,#ef7759 0 162px,#eea790 0 163px,#efb29b 0 164px,#f3d6c6 0 166px,#cebbff 0 167px,#aa80ff 0 168px,#bb9dff 0 170px,#c4acff 0 171px,#bb9dff 0 173px,#f4e2d7 0 174px,#b38fff 0 175px,#854fff 0 177px,#a074ff 0 178px,#f1c9b6 0 180px,#ee8b6e 0 181px,#1400ff 0 193px,#b38fff 0 195px,#7d41ff 0 196px,#8c5cff 0 197px,#b38fff 0 199px,#c4acff 0 200px,#9668ff 0 202px,#7d41ff 0 203px,#b38fff 0 204px,#7d41ff 0 206px,#bb9dff 0 207px,#b38fff 0 209px,#e2d8ff 0 210px,#d8c9ff 0 211px,#f1c9b6 0 213px,#c4acff 0 214px,#f0bda7 0 215px,#7d41ff 0 217px,#8c5cff 0 218px,#aa80ff 0 221px,#f4e2d7 0 222px,#e2d8ff 0)"></div><div style="left:245px;top:898.6px;width:34.1px;height:223.7px;background:linear-gradient(#d8c9ff 0 1px,#e2d8ff 0 3px,#bb9dff 0 4px,#a074ff 0 6px,#c4acff 0 7px,#e2d8ff 0 8px,#9668ff 0 10px,#854fff 0 11px,#8c5cff 0 12px,#bb9dff 0 14px,#f4e2d7 0 15px,#eea790 0 17px,#cebbff 0 18px,#854fff 0 19px,#280bff 0 21px,#9668ff 0 22px,#d8c9ff 0 23px,#f3d6c6 0 25px,#b38fff 0 26px,#1400ff 0 28px,#b38fff 0 29px,#a074ff 0 32px,#8c5cff 0 33px,#a074ff 0 35px,#bb9dff 0 36px,#7d41ff 0 37px,#280bff 0 39px,#1400ff 0 41px,#f1c9b6 0 43px,#cebbff 0 44px,#c4acff 0 46px,#b38fff 0 47px,#aa80ff 0 48px,#b38fff 0 52px,#e2d8ff 0 54px,#bb9dff 0 55px,#aa80ff 0 57px,#8c5cff 0 58px,#1400ff 0 59px,#7d41ff 0 62px,#652eff 0 64px,#7d41ff 0 65px,#a074ff 0 66px,#9668ff 0 68px,#d8c9ff 0 69px,#b38fff 0 70px,#d8c9ff 0 72px,#aa80ff 0 75px,#c4acff 0 76px,#9668ff 0 77px,#bb9dff 0 79px,#f0bda7 0 80px,#d8c9ff 0 81px,#c4acff 0 83px,#cebbff 0 84px,#a074ff 0 86px,#f06c4f 0 87px,#efb29b 0 88px,#f1c9b6 0 90px,#efb29b 0 91px,#d8c9ff 0 93px,#8c5cff 0 94px,#7d41ff 0 95px,#9668ff 0 97px,#a074ff 0 98px,#bb9dff 0 99px,#b38fff 0 101px,#f1c9b6 0 102px,#d8c9ff 0 105px,#7d41ff 0 106px,#854fff 0 108px,#1400ff 0 110px,#280bff 0 112px,#ece5ff 0 113px,#8c5cff 0 115px,#7d41ff 0 116px,#854fff 0 117px,#9668ff 0 119px,#f4e2d7 0 120px,#f0bda7 0 122px,#f4e2d7 0 123px,#b38fff 0 126px,#aa80ff 0 127px,#c4acff 0 128px,#efb29b 0 130px,#f4e2d7 0 131px,#aa80ff 0 133px,#1400ff 0 134px,#b38fff 0 135px,#854fff 0 137px,#d8c9ff 0 138px,#c4acff 0 141px,#a074ff 0 142px,#9668ff 0 144px,#8c5cff 0 145px,#f0bda7 0 146px,#bb9dff 0 148px,#f4e2d7 0 152px,#f1c9b6 0 153px,#f3d6c6 0 155px,#b38fff 0 156px,#8c5cff 0 157px,#cebbff 0 159px,#c4acff 0 160px,#bb9dff 0 162px,#c4acff 0 163px,#f3d6c6 0 164px,#efb29b 0 167px,#cebbff 0 168px,#f0bda7 0 170px,#cebbff 0 171px,#f4e2d7 0 173px,#1400ff 0 177px,#cebbff 0 178px,#e2d8ff 0 180px,#cebbff 0 181px,#d8c9ff 0 182px,#efb29b 0 184px,#f0bda7 0 185px,#bb9dff 0 188px,#9668ff 0 189px,#a074ff 0 191px,#bb9dff 0 192px,#854fff 0 193px,#b38fff 0 195px,#e2d8ff 0 196px,#b38fff 0 197px,#d8c9ff 0 199px,#bb9dff 0 200px,#854fff 0 202px,#cebbff 0 203px,#c4acff 0 204px,#8c5cff 0 206px,#7d41ff 0 209px,#cebbff 0 210px,#d8c9ff 0 211px,#652eff 0 213px,#7d41ff 0 215px,#652eff 0 218px,#1400ff 0 220px,#652eff 0 221px,#e2d8ff 0 222px,#ed9d85 0)"></div><div style="left:278.8px;top:898.6px;width:33.7px;height:223.7px;background:linear-gradient(#aa80ff 0 1px,#9668ff 0 3px,#280bff 0 4px,#aa80ff 0 6px,#c4acff 0 7px,#d8c9ff 0 8px,#e2d8ff 0 10px,#280bff 0 11px,#1400ff 0 14px,#c4acff 0 15px,#a074ff 0 17px,#b38fff 0 18px,#bb9dff 0 19px,#f1c9b6 0 21px,#f4e2d7 0 22px,#ed9d85 0 23px,#f4e2d7 0 25px,#d8c9ff 0 26px,#cebbff 0 28px,#a074ff 0 29px,#854fff 0 30px,#652eff 0 32px,#b38fff 0 33px,#a074ff 0 35px,#e2d8ff 0 36px,#fbf6f2 0 37px,#ee8163 0 39px,#f4e2d7 0 40px,#fbf6f2 0 41px,#f3d6c6 0 43px,#f8ece5 0 44px,#ece5ff 0 46px,#f5f2ff 0 47px,#ee8163 0 48px,#ece5ff 0 50px,#e2d8ff 0 51px,#ffffff 0 54px,#f4e2d7 0 55px,#f8ece5 0 57px,#ece5ff 0 58px,#f8ece5 0 59px,#f4e2d7 0 61px,#f3d6c6 0 62px,#ffffff 0 65px,#e2d8ff 0 66px,#ffffff 0 68px,#ece5ff 0 69px,#f3d6c6 0 70px,#ef7759 0 72px,#ee8163 0 73px,#f5f2ff 0 75px,#fbf6f2 0 76px,#f5f2ff 0 77px,#fbf6f2 0 79px,#1400ff 0 83px,#ef7759 0 84px,#f06c4f 0 86px,#ff2010 0 87px,#ed9d85 0 88px,#eea790 0 90px,#efb29b 0 91px,#c4acff 0 93px,#a074ff 0 94px,#cebbff 0 95px,#b38fff 0 97px,#aa80ff 0 98px,#c4acff 0 99px,#bb9dff 0 101px,#e2d8ff 0 102px,#f0bda7 0 104px,#eea790 0 105px,#ece5ff 0 106px,#cebbff 0 108px,#9668ff 0 109px,#b38fff 0 110px,#aa80ff 0 112px,#b38fff 0 113px,#f3d6c6 0 115px,#c4acff 0 116px,#f4e2d7 0 117px,#b38fff 0 119px,#f4e2d7 0 120px,#f25e42 0 122px,#f4e2d7 0 126px,#f0bda7 0 127px,#ee8163 0 130px,#f4e2d7 0 131px,#d8c9ff 0 133px,#e2d8ff 0 134px,#f3d6c6 0 135px,#f1c9b6 0 137px,#cebbff 0 138px,#d8c9ff 0 139px,#b38fff 0 142px,#cebbff 0 145px,#f1c9b6 0 146px,#ff2010 0 148px,#eea790 0 149px,#f4e2d7 0 151px,#f3d6c6 0 152px,#f4e2d7 0 153px,#ee8b6e 0 155px,#f0bda7 0 156px,#bb9dff 0 159px,#f4e2d7 0 160px,#d8c9ff 0 162px,#efb29b 0 163px,#e2d8ff 0 164px,#efb29b 0 168px,#f3d6c6 0 170px,#d8c9ff 0 171px,#cebbff 0 173px,#d8c9ff 0 174px,#b38fff 0 175px,#c4acff 0 177px,#aa80ff 0 178px,#ee8163 0 180px,#ed9d85 0 182px,#ee8163 0 184px,#eea790 0 185px,#ed9479 0 186px,#efb29b 0 188px,#f0bda7 0 189px,#ffffff 0 191px,#bb9dff 0 192px,#cebbff 0 193px,#e2d8ff 0 195px,#f4e2d7 0 196px,#b38fff 0 197px,#f3d6c6 0 200px,#e2d8ff 0 202px,#f0bda7 0 203px,#f4e2d7 0 204px,#bb9dff 0 206px,#aa80ff 0 207px,#fbf6f2 0 209px,#e2d8ff 0 210px,#f4e2d7 0 211px,#f3d6c6 0 214px,#f0bda7 0 215px,#d8c9ff 0 217px,#f4e2d7 0 220px,#b38fff 0 221px,#ef7759 0 222px,#c4acff 0)"></div><div style="left:324.9px;top:898.6px;width:34.1px;height:223.7px;background:linear-gradient(#eea790 0 1px,#f3d6c6 0 3px,#d8c9ff 0 6px,#7d41ff 0 7px,#b38fff 0 8px,#aa80ff 0 10px,#1400ff 0 11px,#8c5cff 0 12px,#bb9dff 0 14px,#f3d6c6 0 17px,#b38fff 0 18px,#8c5cff 0 19px,#280bff 0 21px,#854fff 0 22px,#f1c9b6 0 25px,#f3d6c6 0 26px,#9668ff 0 28px,#aa80ff 0 30px,#280bff 0 33px,#1400ff 0 37px,#8c5cff 0 39px,#280bff 0 40px,#8c5cff 0 41px,#cebbff 0 43px,#f1c9b6 0 44px,#cebbff 0 46px,#aa80ff 0 47px,#e2d8ff 0 48px,#aa80ff 0 50px,#1400ff 0 51px,#cebbff 0 52px,#7d41ff 0 54px,#bb9dff 0 55px,#f4e2d7 0 57px,#b38fff 0 58px,#aa80ff 0 59px,#f4e2d7 0 61px,#f1c9b6 0 62px,#bb9dff 0 64px,#b38fff 0 65px,#280bff 0 66px,#1400ff 0 69px,#280bff 0 70px,#1400ff 0 73px,#b38fff 0 75px,#d8c9ff 0 76px,#c4acff 0 77px,#cebbff 0 79px,#fbf6f2 0 80px,#c4acff 0 81px,#f0bda7 0 83px,#ed9479 0 84px,#ee8163 0 86px,#ee8b6e 0 87px,#ef7759 0 88px,#eea790 0 90px,#efb29b 0 91px,#e2d8ff 0 93px,#cebbff 0 95px,#f1c9b6 0 97px,#cebbff 0 98px,#f4e2d7 0 99px,#aa80ff 0 101px,#f4e2d7 0 104px,#cebbff 0 105px,#c4acff 0 106px,#aa80ff 0 108px,#a074ff 0 109px,#8c5cff 0 110px,#a074ff 0 112px,#854fff 0 113px,#9668ff 0 115px,#cebbff 0 116px,#9668ff 0 117px,#7d41ff 0 119px,#9668ff 0 120px,#aa80ff 0 122px,#cebbff 0 123px,#f3d6c6 0 124px,#f4e2d7 0 126px,#cebbff 0 127px,#e2d8ff 0 128px,#f0bda7 0 130px,#bb9dff 0 131px,#a074ff 0 134px,#bb9dff 0 135px,#aa80ff 0 137px,#efb29b 0 138px,#f4e2d7 0 139px,#c4acff 0 141px,#b38fff 0 142px,#c4acff 0 144px,#f1c9b6 0 145px,#e2d8ff 0 146px,#c4acff 0 148px,#cebbff 0 149px,#8c5cff 0 151px,#bb9dff 0 152px,#cebbff 0 153px,#f4e2d7 0 155px,#aa80ff 0 156px,#854fff 0 157px,#1400ff 0 159px,#854fff 0 160px,#652eff 0 162px,#9668ff 0 163px,#d8c9ff 0 164px,#f0bda7 0 166px,#aa80ff 0 167px,#f1c9b6 0 168px,#e2d8ff 0 170px,#c4acff 0 171px,#cebbff 0 173px,#a074ff 0 174px,#aa80ff 0 177px,#7d41ff 0 178px,#8c5cff 0 180px,#1400ff 0 181px,#7d41ff 0 184px,#854fff 0 185px,#bb9dff 0 186px,#7d41ff 0 189px,#280bff 0 191px,#1400ff 0 192px,#280bff 0 193px,#bb9dff 0 195px,#f3d6c6 0 196px,#bb9dff 0 197px,#cebbff 0 199px,#8c5cff 0 200px,#a074ff 0 202px,#8c5cff 0 203px,#9668ff 0 204px,#b38fff 0 206px,#a074ff 0 209px,#d8c9ff 0 211px,#f5f2ff 0 213px,#c4acff 0 214px,#efb29b 0 215px,#f3d6c6 0 217px,#f1c9b6 0 218px,#c4acff 0 220px,#ffffff 0 221px,#d8c9ff 0 222px,#f4e2d7 0)"></div><div style="left:358.6px;top:898.6px;width:34.1px;height:223.7px;background:linear-gradient(#cebbff 0 1px,#ed9479 0 3px,#d8c9ff 0 4px,#cebbff 0 6px,#f8ece5 0 7px,#ffffff 0 8px,#ece5ff 0 10px,#d8c9ff 0 11px,#a074ff 0 14px,#f4e2d7 0 17px,#aa80ff 0 18px,#7d41ff 0 19px,#a074ff 0 21px,#d8c9ff 0 22px,#cebbff 0 23px,#aa80ff 0 25px,#b38fff 0 26px,#a074ff 0 28px,#aa80ff 0 29px,#f3d6c6 0 30px,#a074ff 0 32px,#b38fff 0 33px,#bb9dff 0 35px,#d8c9ff 0 36px,#8c5cff 0 37px,#7d41ff 0 39px,#652eff 0 40px,#aa80ff 0 41px,#c4acff 0 43px,#8c5cff 0 44px,#c4acff 0 46px,#aa80ff 0 47px,#efb29b 0 48px,#c4acff 0 50px,#1400ff 0 52px,#280bff 0 54px,#9668ff 0 55px,#a074ff 0 57px,#8c5cff 0 58px,#bb9dff 0 59px,#e2d8ff 0 61px,#cebbff 0 62px,#e2d8ff 0 64px,#f0bda7 0 65px,#c4acff 0 66px,#f0bda7 0 68px,#f3d6c6 0 69px,#bb9dff 0 70px,#a074ff 0 72px,#b38fff 0 73px,#8c5cff 0 75px,#a074ff 0 76px,#854fff 0 77px,#a074ff 0 79px,#f3d6c6 0 80px,#d8c9ff 0 81px,#f4e2d7 0 83px,#f0bda7 0 84px,#e2d8ff 0 86px,#cebbff 0 87px,#f3d6c6 0 88px,#aa80ff 0 90px,#9668ff 0 91px,#aa80ff 0 93px,#b38fff 0 94px,#bb9dff 0 97px,#d8c9ff 0 98px,#f4e2d7 0 99px,#e2d8ff 0 102px,#bb9dff 0 104px,#b38fff 0 105px,#aa80ff 0 106px,#854fff 0 109px,#8c5cff 0 110px,#9668ff 0 112px,#c4acff 0 113px,#aa80ff 0 115px,#cebbff 0 116px,#7d41ff 0 117px,#8c5cff 0 119px,#b38fff 0 120px,#e2d8ff 0 122px,#b38fff 0 123px,#bb9dff 0 124px,#d8c9ff 0 126px,#a074ff 0 127px,#f5f2ff 0 128px,#d8c9ff 0 130px,#8c5cff 0 131px,#c4acff 0 133px,#a074ff 0 134px,#bb9dff 0 137px,#d8c9ff 0 138px,#e2d8ff 0 141px,#c4acff 0 142px,#b38fff 0 144px,#c4acff 0 145px,#cebbff 0 146px,#bb9dff 0 148px,#f4e2d7 0 149px,#ee8b6e 0 151px,#f4e2d7 0 152px,#e2d8ff 0 153px,#bb9dff 0 155px,#854fff 0 156px,#aa80ff 0 157px,#1400ff 0 159px,#aa80ff 0 160px,#652eff 0 163px,#c4acff 0 164px,#cebbff 0 166px,#bb9dff 0 167px,#d8c9ff 0 168px,#bb9dff 0 170px,#b38fff 0 171px,#d8c9ff 0 173px,#f4e2d7 0 174px,#c4acff 0 175px,#8c5cff 0 177px,#280bff 0 178px,#854fff 0 180px,#b38fff 0 182px,#bb9dff 0 184px,#a074ff 0 185px,#aa80ff 0 186px,#652eff 0 188px,#aa80ff 0 189px,#854fff 0 191px,#a074ff 0 192px,#9668ff 0 193px,#aa80ff 0 195px,#854fff 0 196px,#cebbff 0 197px,#c4acff 0 199px,#1400ff 0 200px,#280bff 0 202px,#854fff 0 203px,#652eff 0 204px,#1400ff 0 214px,#b38fff 0 215px,#8c5cff 0 217px,#d8c9ff 0 218px,#a074ff 0 220px,#d8c9ff 0 221px,#c4acff 0 222px,#a074ff 0)"></div><div style="left:392.4px;top:898.6px;width:33.7px;height:223.7px;background:linear-gradient(#c4acff 0 1px,#cebbff 0 3px,#a074ff 0 4px,#aa80ff 0 6px,#c4acff 0 7px,#b38fff 0 8px,#9668ff 0 10px,#aa80ff 0 11px,#7d41ff 0 12px,#b38fff 0 14px,#d8c9ff 0 15px,#f3d6c6 0 17px,#aa80ff 0 18px,#b38fff 0 19px,#aa80ff 0 22px,#9668ff 0 23px,#854fff 0 25px,#cebbff 0 26px,#b38fff 0 28px,#aa80ff 0 29px,#cebbff 0 30px,#9668ff 0 32px,#8c5cff 0 35px,#854fff 0 36px,#8c5cff 0 37px,#a074ff 0 39px,#bb9dff 0 40px,#f4e2d7 0 43px,#cebbff 0 44px,#e2d8ff 0 46px,#aa80ff 0 47px,#f0bda7 0 48px,#f4e2d7 0 50px,#c4acff 0 51px,#bb9dff 0 52px,#9668ff 0 54px,#1400ff 0 55px,#cebbff 0 57px,#a074ff 0 58px,#bb9dff 0 59px,#f3d6c6 0 61px,#9668ff 0 62px,#854fff 0 64px,#bb9dff 0 65px,#b38fff 0 66px,#9668ff 0 68px,#ffffff 0 69px,#7d41ff 0 70px,#280bff 0 72px,#c4acff 0 73px,#aa80ff 0 75px,#cebbff 0 76px,#aa80ff 0 77px,#cebbff 0 79px,#ed9d85 0 80px,#f3d6c6 0 83px,#efb29b 0 84px,#f3d6c6 0 86px,#d8c9ff 0 87px,#f0bda7 0 88px,#ee8b6e 0 90px,#f1c9b6 0 91px,#b38fff 0 93px,#cebbff 0 94px,#f3d6c6 0 95px,#b38fff 0 97px,#ed9479 0 98px,#ee8163 0 99px,#ff2010 0 101px,#f25e42 0 102px,#ed9479 0 104px,#cebbff 0 106px,#f4e2d7 0 108px,#e2d8ff 0 109px,#d8c9ff 0 110px,#e2d8ff 0 112px,#d8c9ff 0 115px,#aa80ff 0 116px,#b38fff 0 117px,#c4acff 0 119px,#f3d6c6 0 120px,#e2d8ff 0 122px,#c4acff 0 124px,#f0bda7 0 126px,#9668ff 0 127px,#cebbff 0 128px,#f1c9b6 0 130px,#b38fff 0 131px,#854fff 0 133px,#a074ff 0 134px,#cebbff 0 135px,#e2d8ff 0 137px,#cebbff 0 138px,#e2d8ff 0 141px,#f1c9b6 0 142px,#f3d6c6 0 144px,#f0bda7 0 148px,#c4acff 0 149px,#854fff 0 151px,#d8c9ff 0 152px,#e2d8ff 0 153px,#f4e2d7 0 156px,#d8c9ff 0 157px,#8c5cff 0 159px,#b38fff 0 160px,#7d41ff 0 162px,#8c5cff 0 163px,#bb9dff 0 164px,#b38fff 0 166px,#854fff 0 167px,#9668ff 0 170px,#652eff 0 171px,#7d41ff 0 173px,#b38fff 0 174px,#c4acff 0 175px,#d8c9ff 0 177px,#8c5cff 0 178px,#1400ff 0 180px,#aa80ff 0 181px,#b38fff 0 182px,#9668ff 0 184px,#e2d8ff 0 185px,#bb9dff 0 186px,#a074ff 0 188px,#9668ff 0 191px,#1400ff 0 192px,#9668ff 0 193px,#b38fff 0 195px,#aa80ff 0 196px,#652eff 0 197px,#aa80ff 0 199px,#1400ff 0 200px,#854fff 0 202px,#b38fff 0 203px,#8c5cff 0 204px,#b38fff 0 206px,#9668ff 0 209px,#c4acff 0 210px,#bb9dff 0 211px,#b38fff 0 213px,#f1c9b6 0 214px,#652eff 0 215px,#7d41ff 0 217px,#854fff 0 218px,#652eff 0 220px,#280bff 0 221px,#854fff 0 222px,#aa80ff 0)"></div><div style="left:438.5px;top:898.6px;width:34.1px;height:223.7px;background:linear-gradient(#eea790 0 1px,#f4e2d7 0 3px,#f0bda7 0 4px,#f4e2d7 0 6px,#f1c9b6 0 8px,#eea790 0 10px,#f1c9b6 0 11px,#bb9dff 0 12px,#f3d6c6 0 14px,#f0bda7 0 15px,#f1c9b6 0 17px,#f0bda7 0 18px,#f4e2d7 0 19px,#d8c9ff 0 22px,#ed9d85 0 23px,#e2d8ff 0 25px,#d8c9ff 0 26px,#ece5ff 0 28px,#efb29b 0 29px,#e2d8ff 0 30px,#bb9dff 0 33px,#7d41ff 0 35px,#d8c9ff 0 36px,#f3d6c6 0 37px,#efb29b 0 39px,#ee8b6e 0 40px,#ef7759 0 41px,#ff2010 0 43px,#f0bda7 0 44px,#f1c9b6 0 46px,#ed9479 0 47px,#eea790 0 48px,#f3d6c6 0 50px,#bb9dff 0 51px,#aa80ff 0 52px,#f3d6c6 0 54px,#f4e2d7 0 55px,#f0bda7 0 57px,#eea790 0 58px,#ee8163 0 59px,#ef7759 0 61px,#f0bda7 0 62px,#ed9479 0 64px,#d8c9ff 0 65px,#f4e2d7 0 66px,#aa80ff 0 68px,#a074ff 0 69px,#8c5cff 0 70px,#cebbff 0 72px,#efb29b 0 73px,#c4acff 0 75px,#bb9dff 0 76px,#cebbff 0 77px,#f4e2d7 0 79px,#e2d8ff 0 80px,#f4e2d7 0 81px,#c4acff 0 83px,#aa80ff 0 84px,#bb9dff 0 86px,#f1c9b6 0 87px,#9668ff 0 88px,#cebbff 0 90px,#f4e2d7 0 91px,#f1c9b6 0 93px,#f0bda7 0 94px,#f3d6c6 0 95px,#f1c9b6 0 97px,#ed9d85 0 98px,#ed9479 0 99px,#f25e42 0 101px,#ee8b6e 0 102px,#ed9479 0 104px,#ed9d85 0 105px,#f06c4f 0 106px,#ed9479 0 109px,#efb29b 0 110px,#f1c9b6 0 112px,#c4acff 0 113px,#e2d8ff 0 115px,#ee8163 0 116px,#ed9d85 0 117px,#d8c9ff 0 120px,#eea790 0 122px,#ee8163 0 123px,#f06c4f 0 124px,#ed9479 0 126px,#eea790 0 127px,#f1c9b6 0 128px,#efb29b 0 130px,#f1c9b6 0 131px,#efb29b 0 133px,#f0bda7 0 134px,#efb29b 0 135px,#f0bda7 0 137px,#efb29b 0 138px,#f3d6c6 0 141px,#f1c9b6 0 142px,#eea790 0 144px,#f3d6c6 0 145px,#ece5ff 0 146px,#efb29b 0 148px,#eea790 0 149px,#ed9479 0 152px,#efb29b 0 153px,#ef7759 0 155px,#fa492e 0 156px,#ef7759 0 157px,#ee8163 0 159px,#ff2010 0 160px,#f0bda7 0 162px,#f3d6c6 0 163px,#b38fff 0 164px,#f0bda7 0 166px,#f4e2d7 0 167px,#f3d6c6 0 168px,#7d41ff 0 170px,#280bff 0 171px,#7d41ff 0 173px,#e2d8ff 0 174px,#f1c9b6 0 175px,#ee8b6e 0 177px,#efb29b 0 178px,#cebbff 0 180px,#efb29b 0 181px,#f3d6c6 0 182px,#d8c9ff 0 184px,#f1c9b6 0 185px,#efb29b 0 186px,#e2d8ff 0 188px,#aa80ff 0 189px,#eea790 0 191px,#b38fff 0 192px,#bb9dff 0 193px,#a074ff 0 196px,#9668ff 0 197px,#eea790 0 202px,#f0bda7 0 203px,#d8c9ff 0 204px,#b38fff 0 207px,#c4acff 0 209px,#f3d6c6 0 210px,#c4acff 0 211px,#efb29b 0 213px,#ed9d85 0 214px,#ed9479 0 215px,#eea790 0 217px,#ed9d85 0 218px,#ed9479 0 220px,#f4e2d7 0 221px,#efb29b 0 222px,#f1c9b6 0)"></div><div style="left:472.2px;top:898.6px;width:34.1px;height:223.7px;background:linear-gradient(#ed9479 0 1px,#b38fff 0 3px,#bb9dff 0 7px,#d8c9ff 0 8px,#cebbff 0 10px,#e2d8ff 0 11px,#f3d6c6 0 12px,#f1c9b6 0 14px,#d8c9ff 0 17px,#efb29b 0 19px,#f0bda7 0 21px,#c4acff 0 23px,#9668ff 0 25px,#854fff 0 26px,#aa80ff 0 28px,#cebbff 0 29px,#d8c9ff 0 30px,#aa80ff 0 32px,#f0bda7 0 33px,#d8c9ff 0 35px,#e2d8ff 0 36px,#aa80ff 0 37px,#cebbff 0 39px,#f5f2ff 0 40px,#eea790 0 41px,#efb29b 0 43px,#f3d6c6 0 44px,#ff2010 0 46px,#f1c9b6 0 48px,#c4acff 0 50px,#bb9dff 0 51px,#c4acff 0 52px,#eea790 0 55px,#e2d8ff 0 57px,#f4e2d7 0 58px,#f1c9b6 0 59px,#f3d6c6 0 61px,#ed9479 0 62px,#ef7759 0 64px,#efb29b 0 65px,#f0bda7 0 66px,#d8c9ff 0 68px,#c4acff 0 69px,#aa80ff 0 70px,#9668ff 0 72px,#bb9dff 0 73px,#e2d8ff 0 75px,#f0bda7 0 76px,#aa80ff 0 77px,#b38fff 0 79px,#aa80ff 0 80px,#b38fff 0 81px,#280bff 0 83px,#652eff 0 84px,#b38fff 0 86px,#bb9dff 0 87px,#e2d8ff 0 88px,#f0bda7 0 90px,#f1c9b6 0 91px,#d8c9ff 0 93px,#f3d6c6 0 94px,#e2d8ff 0 97px,#f0bda7 0 98px,#ed9d85 0 99px,#f3d6c6 0 101px,#efb29b 0 102px,#f4e2d7 0 104px,#eea790 0 106px,#f1c9b6 0 108px,#ed9479 0 109px,#efb29b 0 110px,#f4e2d7 0 115px,#d8c9ff 0 116px,#f0bda7 0 117px,#f3d6c6 0 119px,#f4e2d7 0 120px,#aa80ff 0 122px,#cebbff 0 124px,#e2d8ff 0 126px,#bb9dff 0 127px,#b38fff 0 128px,#c4acff 0 130px,#b38fff 0 133px,#f0bda7 0 134px,#ed9d85 0 135px,#eea790 0 137px,#efb29b 0 138px,#cebbff 0 139px,#f3d6c6 0 141px,#c4acff 0 144px,#e2d8ff 0 145px,#eea790 0 146px,#efb29b 0 148px,#cebbff 0 149px,#f06c4f 0 151px,#fbf6f2 0 152px,#f4e2d7 0 155px,#bb9dff 0 156px,#d8c9ff 0 157px,#ed9d85 0 159px,#eea790 0 160px,#f1c9b6 0 163px,#efb29b 0 164px,#eea790 0 166px,#e2d8ff 0 167px,#f0bda7 0 168px,#f3d6c6 0 171px,#d8c9ff 0 173px,#ed9d85 0 174px,#ed9479 0 175px,#f06c4f 0 177px,#ef7759 0 178px,#f3d6c6 0 180px,#ee8b6e 0 181px,#1400ff 0 185px,#f1c9b6 0 186px,#f3d6c6 0 188px,#e2d8ff 0 189px,#cebbff 0 191px,#9668ff 0 192px,#a074ff 0 193px,#c4acff 0 196px,#652eff 0 197px,#854fff 0 199px,#7d41ff 0 200px,#652eff 0 202px,#8c5cff 0 203px,#280bff 0 204px,#854fff 0 206px,#a074ff 0 207px,#aa80ff 0 209px,#d8c9ff 0 211px,#f0bda7 0 213px,#ed9d85 0 215px,#efb29b 0 217px,#ed9479 0 218px,#ee8163 0 220px,#f3d6c6 0 221px,#f0bda7 0 222px,#efb29b 0)"></div><div style="left:506px;top:898.6px;width:33.7px;height:223.7px;background:linear-gradient(#efb29b 0 1px,#c4acff 0 3px,#9668ff 0 4px,#1400ff 0 6px,#854fff 0 7px,#a074ff 0 8px,#c4acff 0 10px,#cebbff 0 11px,#e2d8ff 0 12px,#f1c9b6 0 14px,#aa80ff 0 15px,#f4e2d7 0 17px,#f0bda7 0 18px,#f1c9b6 0 19px,#cebbff 0 21px,#a074ff 0 22px,#e2d8ff 0 23px,#c4acff 0 25px,#cebbff 0 28px,#f3d6c6 0 29px,#bb9dff 0 30px,#f4e2d7 0 32px,#f1c9b6 0 36px,#f4e2d7 0 37px,#efb29b 0 39px,#eea790 0 40px,#ed9479 0 41px,#eea790 0 43px,#d8c9ff 0 44px,#efb29b 0 46px,#d8c9ff 0 47px,#f0bda7 0 48px,#f1c9b6 0 50px,#a074ff 0 51px,#7d41ff 0 52px,#e2d8ff 0 54px,#c4acff 0 55px,#d8c9ff 0 58px,#efb29b 0 59px,#ee8b6e 0 61px,#f1c9b6 0 62px,#ed9479 0 64px,#efb29b 0 65px,#d8c9ff 0 66px,#b38fff 0 68px,#652eff 0 69px,#1400ff 0 70px,#cebbff 0 73px,#f3d6c6 0 75px,#cebbff 0 76px,#652eff 0 77px,#7d41ff 0 79px,#1400ff 0 80px,#280bff 0 81px,#9668ff 0 83px,#a074ff 0 84px,#aa80ff 0 86px,#eea790 0 87px,#f3d6c6 0 88px,#ed9d85 0 90px,#eea790 0 91px,#f4e2d7 0 93px,#ed9d85 0 94px,#eea790 0 95px,#f1c9b6 0 97px,#efb29b 0 98px,#ee8b6e 0 99px,#fa492e 0 101px,#ee8163 0 102px,#f0bda7 0 104px,#d8c9ff 0 105px,#ed9d85 0 106px,#ee8b6e 0 108px,#efb29b 0 109px,#eea790 0 110px,#f4e2d7 0 112px,#bb9dff 0 113px,#d8c9ff 0 115px,#f1c9b6 0 116px,#cebbff 0 117px,#f3d6c6 0 119px,#eea790 0 122px,#f4e2d7 0 123px,#e2d8ff 0 124px,#ed9479 0 126px,#f1c9b6 0 127px,#bb9dff 0 128px,#d8c9ff 0 130px,#f0bda7 0 131px,#cebbff 0 133px,#e2d8ff 0 134px,#d8c9ff 0 135px,#f3d6c6 0 137px,#f0bda7 0 138px,#f1c9b6 0 139px,#eea790 0 141px,#c4acff 0 142px,#bb9dff 0 144px,#c4acff 0 145px,#e2d8ff 0 146px,#f0bda7 0 148px,#ee8b6e 0 151px,#ed9d85 0 152px,#ed9479 0 155px,#e2d8ff 0 156px,#d8c9ff 0 157px,#f3d6c6 0 159px,#ee8163 0 160px,#fbf6f2 0 162px,#ed9479 0 163px,#7d41ff 0 166px,#652eff 0 167px,#7d41ff 0 168px,#e2d8ff 0 170px,#f3d6c6 0 171px,#f0bda7 0 173px,#f4e2d7 0 174px,#ed9d85 0 175px,#f4e2d7 0 178px,#d8c9ff 0 180px,#a074ff 0 181px,#7d41ff 0 182px,#a074ff 0 184px,#c4acff 0 185px,#f1c9b6 0 186px,#c4acff 0 189px,#efb29b 0 191px,#aa80ff 0 193px,#9668ff 0 195px,#854fff 0 196px,#1400ff 0 197px,#f3d6c6 0 199px,#e2d8ff 0 200px,#cebbff 0 202px,#f1c9b6 0 203px,#aa80ff 0 204px,#e2d8ff 0 207px,#b38fff 0 209px,#9668ff 0 210px,#f1c9b6 0 213px,#efb29b 0 214px,#e2d8ff 0 215px,#ee8b6e 0 217px,#f1c9b6 0 218px,#e2d8ff 0 220px,#f3d6c6 0 221px,#f0bda7 0 222px,#ed9479 0)"></div><div style="left:552.1px;top:898.6px;width:34.1px;height:223.7px;background:linear-gradient(#ef7759 0 1px,#ed9479 0 3px,#efb29b 0 6px,#ed9479 0 7px,#eea790 0 8px,#ee8b6e 0 12px,#ff2010 0 14px,#ee8b6e 0 15px,#ef7759 0 17px,#ee8b6e 0 19px,#ed9479 0 21px,#eea790 0 23px,#f0bda7 0 25px,#eea790 0 28px,#ee8b6e 0 29px,#f06c4f 0 30px,#ed9479 0 32px,#ef7759 0 33px,#ee8b6e 0 35px,#ed9d85 0 36px,#ee8163 0 37px,#f25e42 0 39px,#ee8163 0 41px,#f25e42 0 43px,#f06c4f 0 46px,#ff341c 0 47px,#ff2010 0 48px,#f25e42 0 50px,#ef7759 0 51px,#f25e42 0 54px,#f1c9b6 0 55px,#efb29b 0 57px,#eea790 0 58px,#efb29b 0 59px,#ed9479 0 61px,#efb29b 0 62px,#f25e42 0 64px,#ee8163 0 65px,#ed9d85 0 66px,#f1c9b6 0 68px,#ee8b6e 0 69px,#eea790 0 70px,#ee8163 0 72px,#eea790 0 73px,#ed9d85 0 75px,#ed9479 0 77px,#ee8163 0 79px,#f25e42 0 80px,#ef7759 0 81px,#f25e42 0 84px,#fa492e 0 86px,#f25e42 0 87px,#f06c4f 0 88px,#ed9479 0 90px,#f06c4f 0 91px,#eea790 0 93px,#f0bda7 0 94px,#ed9d85 0 97px,#ed9479 0 98px,#ee8b6e 0 99px,#ee8163 0 101px,#ed9d85 0 102px,#ef7759 0 104px,#f06c4f 0 106px,#ef7759 0 108px,#ed9d85 0 109px,#ef7759 0 110px,#ed9479 0 112px,#ef7759 0 116px,#ee8163 0 117px,#f25e42 0 119px,#ff2010 0 120px,#fa492e 0 122px,#ef7759 0 124px,#ff341c 0 127px,#ef7759 0 128px,#f25e42 0 130px,#f06c4f 0 133px,#fa492e 0 134px,#ff2010 0 137px,#f25e42 0 138px,#ee8b6e 0 139px,#f25e42 0 141px,#ed9d85 0 142px,#ee8163 0 144px,#ef7759 0 146px,#eea790 0 148px,#ed9d85 0 149px,#ee8b6e 0 151px,#ed9d85 0 152px,#eea790 0 153px,#ed9d85 0 155px,#ee8163 0 156px,#f06c4f 0 157px,#f25e42 0 162px,#f06c4f 0 163px,#ee8b6e 0 168px,#ee8163 0 170px,#f06c4f 0 171px,#ef7759 0 173px,#ee8163 0 175px,#ff341c 0 177px,#f06c4f 0 178px,#ef7759 0 180px,#fa492e 0 181px,#f25e42 0 182px,#ff2010 0 184px,#fa492e 0 186px,#ee8163 0 188px,#ee8b6e 0 189px,#ed9d85 0 191px,#efb29b 0 192px,#ee8b6e 0 193px,#efb29b 0 195px,#ed9d85 0 196px,#eea790 0 199px,#f3d6c6 0 200px,#ee8b6e 0 202px,#ed9d85 0 203px,#ee8b6e 0 204px,#eea790 0 206px,#ef7759 0 209px,#ee8b6e 0 210px,#eea790 0 211px,#f0bda7 0 213px,#ee8163 0 214px,#f06c4f 0 215px,#ef7759 0 218px,#ee8b6e 0 220px,#eea790 0 221px,#ed9479 0 222px,#ef7759 0)"></div><div style="left:585.8px;top:898.6px;width:34.1px;height:223.7px;background:linear-gradient(#ef7759 0 1px,#ee8b6e 0 3px,#ef7759 0 4px,#ed9479 0 6px,#ef7759 0 7px,#ed9479 0 8px,#f06c4f 0 11px,#ee8163 0 12px,#f5f2ff 0 14px,#ee8b6e 0 15px,#f06c4f 0 17px,#ef7759 0 18px,#ee8163 0 21px,#ed9479 0 26px,#ee8163 0 28px,#f25e42 0 30px,#ee8163 0 32px,#ff341c 0 33px,#f06c4f 0 35px,#ff341c 0 36px,#ff2010 0 39px,#f06c4f 0 40px,#ee8163 0 41px,#ff341c 0 43px,#ff2010 0 44px,#ff341c 0 46px,#f06c4f 0 47px,#ef7759 0 50px,#eea790 0 51px,#ee8b6e 0 52px,#ed9479 0 54px,#ed9d85 0 55px,#efb29b 0 57px,#ee8b6e 0 58px,#ed9d85 0 62px,#ee8163 0 64px,#ef7759 0 65px,#ee8163 0 66px,#ee8b6e 0 68px,#ed9479 0 69px,#ee8b6e 0 70px,#f06c4f 0 72px,#ee8163 0 73px,#f06c4f 0 75px,#ed9d85 0 76px,#ee8163 0 77px,#ef7759 0 79px,#f25e42 0 80px,#ff2010 0 81px,#ff341c 0 83px,#ef7759 0 84px,#ee8b6e 0 86px,#ed9d85 0 87px,#ed9479 0 90px,#ed9d85 0 91px,#eea790 0 93px,#ed9479 0 94px,#ef7759 0 95px,#ed9d85 0 97px,#ed9479 0 101px,#ee8163 0 102px,#ed9479 0 104px,#ee8163 0 105px,#ed9479 0 106px,#ef7759 0 108px,#efb29b 0 109px,#eea790 0 110px,#ee8b6e 0 112px,#eea790 0 113px,#efb29b 0 116px,#ee8b6e 0 117px,#ef7759 0 119px,#eea790 0 122px,#ee8b6e 0 124px,#f1c9b6 0 126px,#ed9479 0 127px,#ef7759 0 130px,#ee8163 0 131px,#ee8b6e 0 133px,#f06c4f 0 134px,#ee8b6e 0 135px,#ee8163 0 137px,#ed9479 0 138px,#ff341c 0 139px,#ee8b6e 0 141px,#f0bda7 0 142px,#ed9d85 0 144px,#ee8163 0 145px,#fa492e 0 146px,#f06c4f 0 148px,#fa492e 0 149px,#f06c4f 0 151px,#ef7759 0 152px,#eea790 0 153px,#ee8b6e 0 155px,#ed9d85 0 157px,#ee8b6e 0 160px,#eea790 0 163px,#ee8b6e 0 164px,#ee8163 0 166px,#ee8b6e 0 167px,#f25e42 0 168px,#ff2010 0 170px,#fa492e 0 173px,#f06c4f 0 174px,#ef7759 0 175px,#fa492e 0 178px,#ff341c 0 181px,#ff2010 0 184px,#fa492e 0 185px,#ff2010 0 188px,#fa492e 0 189px,#ee8163 0 191px,#efb29b 0 192px,#eea790 0 193px,#ee8b6e 0 195px,#ef7759 0 196px,#f25e42 0 197px,#ee8b6e 0 199px,#eea790 0 200px,#f0bda7 0 202px,#f1c9b6 0 203px,#f0bda7 0 204px,#ed9d85 0 206px,#ee8163 0 207px,#ef7759 0 209px,#ff341c 0 210px,#f06c4f 0 211px,#ed9d85 0 213px,#ef7759 0 214px,#ee8b6e 0 220px,#ee8163 0 221px,#f06c4f 0 222px,#ef7759 0)"></div><div style="left:619.6px;top:898.6px;width:33.7px;height:223.7px;background:linear-gradient(#f25e42 0 1px,#ed9d85 0 3px,#ee8163 0 4px,#ee8b6e 0 6px,#ed9479 0 7px,#efb29b 0 8px,#eea790 0 10px,#ef7759 0 11px,#ed9479 0 12px,#ed9d85 0 14px,#ee8163 0 15px,#f06c4f 0 17px,#ef7759 0 19px,#f25e42 0 21px,#fa492e 0 22px,#ff341c 0 23px,#ed9d85 0 26px,#efb29b 0 28px,#ed9479 0 29px,#ee8b6e 0 30px,#eea790 0 32px,#ee8b6e 0 33px,#ed9d85 0 35px,#ed9479 0 36px,#f25e42 0 37px,#ff341c 0 39px,#ff2010 0 40px,#ff341c 0 41px,#ff2010 0 44px,#f06c4f 0 46px,#ef7759 0 47px,#f25e42 0 50px,#ef7759 0 51px,#f06c4f 0 54px,#f25e42 0 55px,#ff341c 0 57px,#f0bda7 0 58px,#ed9479 0 59px,#f25e42 0 62px,#fa492e 0 64px,#ee8b6e 0 65px,#f06c4f 0 66px,#f25e42 0 68px,#ef7759 0 69px,#f06c4f 0 70px,#fa492e 0 72px,#f06c4f 0 73px,#ee8b6e 0 75px,#ed9d85 0 76px,#f1c9b6 0 77px,#ed9d85 0 80px,#ef7759 0 81px,#ee8b6e 0 83px,#f25e42 0 84px,#ff2010 0 87px,#f06c4f 0 88px,#f25e42 0 90px,#f06c4f 0 91px,#ee8b6e 0 93px,#ef7759 0 94px,#eea790 0 97px,#ee8b6e 0 99px,#ed9d85 0 101px,#eea790 0 102px,#ef7759 0 104px,#ff2010 0 105px,#f25e42 0 106px,#f06c4f 0 108px,#ee8163 0 112px,#ef7759 0 113px,#f0bda7 0 115px,#f06c4f 0 116px,#ef7759 0 117px,#ff341c 0 119px,#fa492e 0 122px,#ff341c 0 126px,#f25e42 0 127px,#fa492e 0 128px,#ef7759 0 130px,#f25e42 0 131px,#ef7759 0 133px,#fa492e 0 134px,#ff2010 0 137px,#fa492e 0 138px,#ef7759 0 139px,#f25e42 0 141px,#ee8163 0 142px,#ff341c 0 144px,#ef7759 0 145px,#ff2010 0 146px,#fa492e 0 148px,#ff2010 0 149px,#f25e42 0 151px,#f06c4f 0 152px,#ed9479 0 153px,#ee8b6e 0 155px,#ef7759 0 156px,#f06c4f 0 157px,#ef7759 0 159px,#f25e42 0 162px,#ee8163 0 163px,#ff2010 0 164px,#f06c4f 0 167px,#ef7759 0 168px,#ff341c 0 170px,#ff2010 0 175px,#f25e42 0 177px,#f06c4f 0 178px,#ff341c 0 180px,#ff2010 0 181px,#f25e42 0 182px,#ff341c 0 184px,#ed9479 0 185px,#f06c4f 0 186px,#ee8163 0 188px,#ef7759 0 189px,#f06c4f 0 191px,#ee8163 0 192px,#efb29b 0 193px,#eea790 0 195px,#f0bda7 0 196px,#efb29b 0 197px,#f1c9b6 0 199px,#eea790 0 200px,#ed9479 0 202px,#efb29b 0 204px,#ff341c 0 206px,#ee8b6e 0 209px,#f25e42 0 210px,#ee8b6e 0 211px,#ee8163 0 213px,#f25e42 0 214px,#ef7759 0 215px,#ee8163 0 217px,#f06c4f 0 221px,#ef7759 0 222px,#fa492e 0)"></div><div style="left:920.3px;top:617.6px;width:34.2px;height:236.4px;background:linear-gradient(#ee8163 0 3px,#ef7759 0 5px,#ee8b6e 0 8px,#ed9d85 0 10px,#eea790 0 11px,#efb29b 0 16px,#ed9d85 0 18px,#ed9479 0 19px,#eea790 0 21px,#ed9479 0 23px,#eea790 0 24px,#ed9d85 0 26px,#ed9479 0 29px,#f0bda7 0 31px,#ed9479 0 32px,#f06c4f 0 34px,#ee8b6e 0 36px,#eea790 0 37px,#ee8163 0 39px,#ed9479 0 40px,#f25e42 0 42px,#ee8163 0 44px,#efb29b 0 47px,#f4e2d7 0 49px,#f1c9b6 0 50px,#ed9d85 0 52px,#eea790 0 53px,#ed9d85 0 55px,#efb29b 0 57px,#f1c9b6 0 58px,#eea790 0 60px,#f0bda7 0 62px,#ed9479 0 63px,#f0bda7 0 65px,#f3d6c6 0 66px,#eea790 0 68px,#ed9479 0 70px,#eea790 0 71px,#f1c9b6 0 73px,#f8ece5 0 74px,#f3d6c6 0 76px,#fbf6f2 0 79px,#eea790 0 81px,#efb29b 0 84px,#ed9d85 0 86px,#eea790 0 87px,#f1c9b6 0 89px,#f3d6c6 0 91px,#f1c9b6 0 92px,#f0bda7 0 94px,#efb29b 0 96px,#ed9479 0 97px,#f06c4f 0 99px,#f25e42 0 100px,#eea790 0 102px,#efb29b 0 104px,#f3d6c6 0 105px,#efb29b 0 110px,#f25e42 0 112px,#fa492e 0 113px,#f06c4f 0 115px,#ed9479 0 117px,#eea790 0 118px,#ed9479 0 121px,#ed9d85 0 123px,#ed9479 0 125px,#ef7759 0 126px,#ed9479 0 128px,#eea790 0 130px,#ed9d85 0 133px,#eea790 0 134px,#efb29b 0 136px,#ed9d85 0 138px,#ed9479 0 139px,#efb29b 0 141px,#ed9479 0 144px,#ee8b6e 0 146px,#ed9479 0 147px,#eea790 0 151px,#efb29b 0 152px,#f0bda7 0 155px,#ee8163 0 157px,#eea790 0 159px,#f0bda7 0 162px,#f1c9b6 0 164px,#efb29b 0 167px,#f0bda7 0 168px,#efb29b 0 170px,#eea790 0 172px,#f0bda7 0 173px,#ee8b6e 0 175px,#ee8163 0 178px,#eea790 0 180px,#ef7759 0 181px,#ee8b6e 0 185px,#ee8163 0 188px,#f06c4f 0 189px,#ed9d85 0 191px,#eea790 0 193px,#ee8b6e 0 194px,#ef7759 0 196px,#ee8b6e 0 198px,#ed9479 0 199px,#ee8b6e 0 202px,#ed9479 0 204px,#ef7759 0 206px,#ee8b6e 0 207px,#ed9479 0 210px,#efb29b 0 212px,#f1c9b6 0 214px,#ef7759 0 215px,#eea790 0 217px,#ed9d85 0 219px,#f25e42 0 220px,#ee8163 0 222px,#eea790 0 223px,#ed9d85 0 227px,#ee8b6e 0 230px,#ee8163 0 235px,#ee8b6e 0)"></div><div style="left:954.1px;top:617.6px;width:34.2px;height:236.4px;background:linear-gradient(#ef7759 0 2px,#efb29b 0 3px,#ee8163 0 5px,#f25e42 0 6px,#ed9d85 0 8px,#eea790 0 10px,#ed9d85 0 13px,#f1c9b6 0 15px,#ed9d85 0 16px,#ed9479 0 21px,#efb29b 0 23px,#eea790 0 24px,#ed9d85 0 26px,#f1c9b6 0 28px,#f0bda7 0 29px,#ed9d85 0 31px,#ed9479 0 32px,#ee8163 0 34px,#ed9479 0 36px,#ed9d85 0 37px,#eea790 0 39px,#ee8b6e 0 40px,#ed9479 0 42px,#ee8163 0 44px,#ee8b6e 0 45px,#ed9479 0 47px,#f8ece5 0 49px,#f0bda7 0 52px,#f8ece5 0 53px,#eea790 0 60px,#ee8163 0 63px,#f3d6c6 0 65px,#f0bda7 0 66px,#f1c9b6 0 68px,#f0bda7 0 70px,#efb29b 0 71px,#f1c9b6 0 73px,#fbf6f2 0 74px,#f0bda7 0 76px,#eea790 0 79px,#ee8b6e 0 81px,#ed9d85 0 83px,#f1c9b6 0 84px,#f0bda7 0 86px,#f5f2ff 0 87px,#fbf6f2 0 89px,#f5f2ff 0 91px,#fbf6f2 0 92px,#f5f2ff 0 94px,#f8ece5 0 96px,#f0bda7 0 97px,#f1c9b6 0 99px,#f0bda7 0 100px,#efb29b 0 102px,#f3d6c6 0 104px,#f1c9b6 0 105px,#eea790 0 107px,#ee8163 0 108px,#ee8b6e 0 110px,#eea790 0 112px,#f0bda7 0 113px,#efb29b 0 115px,#f1c9b6 0 117px,#f4e2d7 0 118px,#fbf6f2 0 120px,#f1c9b6 0 121px,#efb29b 0 123px,#ed9d85 0 125px,#eea790 0 126px,#f4e2d7 0 128px,#f3d6c6 0 130px,#efb29b 0 131px,#ed9479 0 133px,#d8c9ff 0 134px,#ed9d85 0 136px,#efb29b 0 139px,#f1c9b6 0 142px,#eea790 0 144px,#f1c9b6 0 146px,#f8ece5 0 147px,#ece5ff 0 149px,#f3d6c6 0 151px,#f0bda7 0 152px,#efb29b 0 154px,#ee8163 0 155px,#ed9d85 0 157px,#f0bda7 0 164px,#efb29b 0 165px,#f4e2d7 0 168px,#f3d6c6 0 170px,#efb29b 0 172px,#f1c9b6 0 173px,#ed9479 0 175px,#ef7759 0 176px,#ed9479 0 178px,#eea790 0 180px,#ed9d85 0 181px,#f0bda7 0 183px,#ef7759 0 185px,#f25e42 0 186px,#ff341c 0 188px,#f06c4f 0 189px,#ef7759 0 191px,#ee8b6e 0 193px,#ef7759 0 194px,#ed9d85 0 196px,#ef7759 0 198px,#ee8b6e 0 201px,#efb29b 0 202px,#eea790 0 204px,#ed9d85 0 206px,#ee8b6e 0 207px,#eea790 0 209px,#f1c9b6 0 210px,#eea790 0 212px,#efb29b 0 214px,#eea790 0 215px,#efb29b 0 219px,#ed9479 0 220px,#eea790 0 222px,#ed9d85 0 225px,#f1c9b6 0 227px,#ed9479 0 228px,#ef7759 0 230px,#f8ece5 0 232px,#f25e42 0 233px,#efb29b 0 235px,#f0bda7 0)"></div><div style="left:988px;top:617.6px;width:33.8px;height:236.4px;background:linear-gradient(#ee8163 0 3px,#ee8b6e 0 5px,#ee8163 0 6px,#ed9d85 0 11px,#ee8b6e 0 13px,#f1c9b6 0 15px,#eea790 0 16px,#f0bda7 0 18px,#f3d6c6 0 19px,#eea790 0 23px,#ed9d85 0 24px,#ed9479 0 26px,#efb29b 0 28px,#f1c9b6 0 29px,#efb29b 0 31px,#ee8163 0 32px,#eea790 0 34px,#ed9d85 0 36px,#efb29b 0 37px,#f1c9b6 0 39px,#ed9d85 0 40px,#ed9479 0 42px,#f0bda7 0 44px,#fbf6f2 0 45px,#f1c9b6 0 47px,#f8ece5 0 49px,#f0bda7 0 50px,#efb29b 0 52px,#ed9d85 0 53px,#eea790 0 55px,#efb29b 0 58px,#f0bda7 0 60px,#efb29b 0 62px,#f8ece5 0 63px,#f4e2d7 0 65px,#f3d6c6 0 66px,#efb29b 0 68px,#eea790 0 70px,#ee8163 0 71px,#eea790 0 73px,#f1c9b6 0 74px,#eea790 0 76px,#ed9479 0 78px,#eea790 0 81px,#efb29b 0 83px,#f1c9b6 0 86px,#efb29b 0 87px,#f3d6c6 0 89px,#f0bda7 0 91px,#f1c9b6 0 92px,#efb29b 0 94px,#eea790 0 96px,#ee8163 0 97px,#ef7759 0 100px,#ed9d85 0 102px,#f0bda7 0 104px,#f4e2d7 0 105px,#efb29b 0 108px,#eea790 0 110px,#ed9479 0 112px,#efb29b 0 113px,#ed9d85 0 117px,#f3d6c6 0 118px,#f0bda7 0 120px,#eea790 0 121px,#f0bda7 0 123px,#efb29b 0 125px,#f0bda7 0 126px,#f1c9b6 0 128px,#f3d6c6 0 130px,#ed9d85 0 133px,#f1c9b6 0 134px,#f0bda7 0 136px,#eea790 0 138px,#efb29b 0 139px,#f0bda7 0 141px,#f3d6c6 0 142px,#ed9479 0 144px,#efb29b 0 146px,#ee8163 0 147px,#ed9479 0 149px,#ee8163 0 151px,#efb29b 0 152px,#eea790 0 154px,#f4e2d7 0 155px,#efb29b 0 157px,#f1c9b6 0 159px,#f3d6c6 0 160px,#f8ece5 0 162px,#efb29b 0 164px,#f3d6c6 0 165px,#efb29b 0 167px,#f0bda7 0 168px,#f4e2d7 0 170px,#eea790 0 172px,#ed9d85 0 176px,#eea790 0 178px,#ed9479 0 180px,#eea790 0 181px,#efb29b 0 183px,#ef7759 0 185px,#ff2010 0 186px,#fa492e 0 188px,#f06c4f 0 189px,#ee8163 0 191px,#ef7759 0 193px,#ed9d85 0 196px,#ee8163 0 198px,#ee8b6e 0 199px,#ef7759 0 201px,#ed9479 0 204px,#ee8163 0 206px,#ef7759 0 209px,#ee8b6e 0 210px,#eea790 0 212px,#efb29b 0 214px,#f25e42 0 215px,#ed9d85 0 217px,#efb29b 0 219px,#ed9479 0 220px,#ed9d85 0 222px,#f0bda7 0 223px,#ed9d85 0 225px,#ee8b6e 0 227px,#ef7759 0 228px,#ee8163 0 230px,#efb29b 0 232px,#eea790 0 233px,#ed9d85 0 235px,#ed9479 0)"></div><div style="left:1033.7px;top:617.6px;width:34.2px;height:236.4px;background:linear-gradient(#a074ff 0 2px,#ece5ff 0 5px,#ffffff 0 6px,#f3d6c6 0 8px,#ffffff 0 10px,#e2d8ff 0 13px,#ffffff 0 15px,#a074ff 0 16px,#f3d6c6 0 18px,#f0bda7 0 19px,#f8ece5 0 21px,#e2d8ff 0 23px,#f8ece5 0 24px,#f3d6c6 0 26px,#fbf6f2 0 28px,#ed9479 0 29px,#f3d6c6 0 31px,#ed9479 0 32px,#f25e42 0 34px,#1400ff 0 36px,#280bff 0 37px,#652eff 0 39px,#efb29b 0 40px,#ed9479 0 42px,#f8ece5 0 44px,#fbf6f2 0 45px,#9668ff 0 47px,#1400ff 0 49px,#652eff 0 50px,#ece5ff 0 52px,#fbf6f2 0 53px,#ee8163 0 55px,#fbf6f2 0 57px,#7d41ff 0 58px,#1400ff 0 60px,#854fff 0 62px,#d8c9ff 0 63px,#854fff 0 65px,#cebbff 0 66px,#ece5ff 0 68px,#f8ece5 0 70px,#f0bda7 0 71px,#efb29b 0 73px,#ffffff 0 74px,#d8c9ff 0 76px,#9668ff 0 78px,#8c5cff 0 79px,#e2d8ff 0 81px,#8c5cff 0 83px,#1400ff 0 84px,#652eff 0 86px,#1400ff 0 87px,#652eff 0 91px,#1400ff 0 92px,#854fff 0 94px,#1400ff 0 96px,#7d41ff 0 97px,#1400ff 0 100px,#9668ff 0 102px,#7d41ff 0 104px,#1400ff 0 108px,#ece5ff 0 110px,#d8c9ff 0 112px,#f5f2ff 0 113px,#7d41ff 0 115px,#9668ff 0 117px,#ece5ff 0 118px,#f5f2ff 0 120px,#9668ff 0 121px,#8c5cff 0 123px,#a074ff 0 125px,#eea790 0 126px,#e2d8ff 0 128px,#ece5ff 0 130px,#ed9d85 0 133px,#cebbff 0 134px,#bb9dff 0 136px,#eea790 0 138px,#ff341c 0 139px,#ed9479 0 141px,#cebbff 0 142px,#ed9d85 0 144px,#ff2010 0 146px,#ee8163 0 147px,#eea790 0 149px,#ee8163 0 151px,#ff341c 0 152px,#ed9d85 0 154px,#f06c4f 0 155px,#ee8b6e 0 159px,#ed9479 0 160px,#f0bda7 0 162px,#f25e42 0 164px,#fbf6f2 0 167px,#eea790 0 168px,#ffffff 0 170px,#f8ece5 0 172px,#ee8b6e 0 175px,#fbf6f2 0 176px,#f5f2ff 0 178px,#fbf6f2 0 180px,#ed9479 0 181px,#ece5ff 0 183px,#ee8163 0 185px,#ff341c 0 186px,#fa492e 0 188px,#f06c4f 0 193px,#ed9d85 0 194px,#ffffff 0 198px,#f5f2ff 0 199px,#e2d8ff 0 201px,#f5f2ff 0 202px,#ffffff 0 204px,#f5f2ff 0 206px,#ee8163 0 207px,#ee8b6e 0 209px,#c4acff 0 210px,#ed9479 0 212px,#ef7759 0 214px,#cebbff 0 215px,#fbf6f2 0 217px,#eea790 0 219px,#ed9d85 0 220px,#f06c4f 0 222px,#fbf6f2 0 223px,#ee8b6e 0 225px,#ed9479 0 228px,#ffffff 0 230px,#fbf6f2 0 232px,#f3d6c6 0 233px,#cebbff 0 235px,#ffffff 0)"></div><div style="left:1067.5px;top:617.6px;width:34.2px;height:236.4px;background:linear-gradient(#f1c9b6 0 2px,#f4e2d7 0 3px,#efb29b 0 5px,#f0bda7 0 6px,#f1c9b6 0 8px,#f3d6c6 0 10px,#f1c9b6 0 11px,#f25e42 0 13px,#ff341c 0 15px,#ee8b6e 0 16px,#fa492e 0 18px,#ed9d85 0 19px,#f25e42 0 21px,#f06c4f 0 23px,#ff2010 0 26px,#ee8163 0 28px,#f0bda7 0 29px,#ee8b6e 0 31px,#efb29b 0 32px,#ff2010 0 34px,#d8c9ff 0 36px,#c4acff 0 37px,#f1c9b6 0 40px,#f3d6c6 0 42px,#f1c9b6 0 44px,#f0bda7 0 45px,#ed9479 0 47px,#d8c9ff 0 49px,#eea790 0 50px,#efb29b 0 52px,#cebbff 0 53px,#f1c9b6 0 55px,#f3d6c6 0 57px,#d8c9ff 0 58px,#f3d6c6 0 60px,#ed9d85 0 62px,#f0bda7 0 63px,#efb29b 0 65px,#f4e2d7 0 66px,#eea790 0 68px,#f0bda7 0 71px,#f4e2d7 0 73px,#7d41ff 0 74px,#854fff 0 76px,#1400ff 0 79px,#652eff 0 84px,#7d41ff 0 86px,#1400ff 0 87px,#280bff 0 89px,#7d41ff 0 91px,#854fff 0 92px,#b38fff 0 94px,#cebbff 0 96px,#d8c9ff 0 97px,#e2d8ff 0 99px,#bb9dff 0 105px,#d8c9ff 0 107px,#f1c9b6 0 108px,#f3d6c6 0 110px,#f0bda7 0 112px,#ed9479 0 113px,#cebbff 0 115px,#efb29b 0 117px,#eea790 0 118px,#f1c9b6 0 120px,#efb29b 0 121px,#f3d6c6 0 123px,#f0bda7 0 125px,#cebbff 0 126px,#aa80ff 0 128px,#f3d6c6 0 130px,#cebbff 0 131px,#ed9479 0 133px,#f1c9b6 0 134px,#eea790 0 139px,#ed9d85 0 141px,#efb29b 0 142px,#f4e2d7 0 144px,#efb29b 0 146px,#d8c9ff 0 147px,#e2d8ff 0 149px,#ed9d85 0 151px,#eea790 0 152px,#ed9d85 0 154px,#efb29b 0 155px,#ed9d85 0 157px,#eea790 0 159px,#ee8b6e 0 160px,#ff341c 0 162px,#f06c4f 0 164px,#ef7759 0 165px,#f0bda7 0 167px,#c4acff 0 168px,#f0bda7 0 170px,#bb9dff 0 172px,#f0bda7 0 173px,#f1c9b6 0 175px,#f06c4f 0 176px,#ee8b6e 0 178px,#ed9479 0 180px,#ff341c 0 183px,#fa492e 0 185px,#ff2010 0 186px,#ef7759 0 188px,#eea790 0 189px,#ff2010 0 191px,#ee8b6e 0 193px,#efb29b 0 194px,#d8c9ff 0 196px,#f0bda7 0 198px,#aa80ff 0 199px,#e2d8ff 0 201px,#efb29b 0 202px,#ee8b6e 0 204px,#f06c4f 0 206px,#ee8b6e 0 207px,#ee8163 0 209px,#f1c9b6 0 210px,#ed9479 0 212px,#f25e42 0 214px,#ed9479 0 215px,#ee8163 0 217px,#ed9479 0 219px,#eea790 0 220px,#ed9479 0 222px,#f1c9b6 0 225px,#eea790 0 227px,#fa492e 0 228px,#f0bda7 0 230px,#fbf6f2 0 232px,#ee8b6e 0 233px,#f4e2d7 0 235px,#f3d6c6 0)"></div><div style="left:1101.4px;top:617.6px;width:33.8px;height:236.4px;background:linear-gradient(#efb29b 0 2px,#f1c9b6 0 3px,#e2d8ff 0 5px,#f1c9b6 0 6px,#ed9d85 0 8px,#f4e2d7 0 10px,#d8c9ff 0 11px,#efb29b 0 13px,#f1c9b6 0 15px,#ef7759 0 16px,#ed9d85 0 18px,#e2d8ff 0 19px,#f3d6c6 0 21px,#eea790 0 23px,#ed9479 0 24px,#ff341c 0 26px,#f0bda7 0 28px,#f3d6c6 0 29px,#f1c9b6 0 31px,#ef7759 0 32px,#f8ece5 0 34px,#efb29b 0 36px,#f1c9b6 0 37px,#ed9d85 0 40px,#ee8163 0 42px,#f25e42 0 44px,#eea790 0 45px,#ee8163 0 47px,#eea790 0 49px,#ed9479 0 50px,#ed9d85 0 52px,#ee8b6e 0 53px,#eea790 0 55px,#7d41ff 0 57px,#1400ff 0 58px,#854fff 0 60px,#280bff 0 62px,#652eff 0 65px,#1400ff 0 66px,#280bff 0 68px,#652eff 0 70px,#b38fff 0 71px,#d8c9ff 0 73px,#cebbff 0 74px,#bb9dff 0 76px,#f1c9b6 0 78px,#d8c9ff 0 79px,#f0bda7 0 83px,#d8c9ff 0 84px,#cebbff 0 86px,#b38fff 0 87px,#1400ff 0 89px,#8c5cff 0 91px,#854fff 0 96px,#9668ff 0 97px,#bb9dff 0 99px,#b38fff 0 100px,#8c5cff 0 102px,#c4acff 0 105px,#f1c9b6 0 107px,#f3d6c6 0 108px,#ff2010 0 110px,#eea790 0 112px,#ed9479 0 113px,#ffffff 0 115px,#f0bda7 0 117px,#ed9479 0 118px,#f25e42 0 120px,#ee8b6e 0 121px,#ed9d85 0 123px,#cebbff 0 125px,#ffffff 0 126px,#b38fff 0 128px,#bb9dff 0 130px,#b38fff 0 131px,#eea790 0 133px,#ee8163 0 134px,#eea790 0 138px,#f0bda7 0 139px,#ed9d85 0 141px,#f0bda7 0 142px,#f5f2ff 0 144px,#f0bda7 0 146px,#f5f2ff 0 149px,#ed9479 0 151px,#ef7759 0 152px,#f25e42 0 154px,#ee8163 0 155px,#ed9d85 0 157px,#eea790 0 159px,#ef7759 0 160px,#f06c4f 0 162px,#ee8163 0 164px,#ed9d85 0 165px,#ffffff 0 167px,#d8c9ff 0 170px,#f0bda7 0 172px,#ee8b6e 0 173px,#f06c4f 0 175px,#ee8b6e 0 176px,#e2d8ff 0 178px,#ee8b6e 0 180px,#ee8163 0 181px,#ee8b6e 0 183px,#ed9479 0 185px,#fa492e 0 186px,#f25e42 0 188px,#fa492e 0 189px,#efb29b 0 191px,#ed9479 0 193px,#ffffff 0 194px,#efb29b 0 196px,#ed9479 0 198px,#ee8b6e 0 199px,#ed9d85 0 201px,#ed9479 0 202px,#ef7759 0 204px,#ee8b6e 0 206px,#ef7759 0 207px,#ee8b6e 0 209px,#f5f2ff 0 210px,#ee8163 0 212px,#ee8b6e 0 214px,#eea790 0 215px,#ed9d85 0 217px,#eea790 0 219px,#f0bda7 0 220px,#ff2010 0 222px,#f25e42 0 223px,#ed9479 0 225px,#f06c4f 0 227px,#f0bda7 0 228px,#c4acff 0 230px,#efb29b 0 232px,#ee8163 0 233px,#eea790 0)"></div><div style="left:1147.1px;top:617.6px;width:34.2px;height:236.4px;background:linear-gradient(#f1c9b6 0 2px,#eea790 0 3px,#ed9d85 0 5px,#c4acff 0 6px,#d8c9ff 0 8px,#ed9d85 0 11px,#f0bda7 0 13px,#ef7759 0 16px,#f06c4f 0 18px,#ef7759 0 19px,#f25e42 0 21px,#ed9d85 0 23px,#fa492e 0 24px,#f25e42 0 26px,#e2d8ff 0 29px,#ee8b6e 0 31px,#ff2010 0 34px,#ee8163 0 36px,#d8c9ff 0 39px,#f06c4f 0 40px,#eea790 0 42px,#ed9d85 0 44px,#f0bda7 0 45px,#efb29b 0 47px,#f4e2d7 0 49px,#f3d6c6 0 50px,#efb29b 0 52px,#f1c9b6 0 53px,#ed9d85 0 55px,#efb29b 0 57px,#ee8b6e 0 58px,#ee8163 0 60px,#e2d8ff 0 63px,#f3d6c6 0 66px,#c4acff 0 68px,#e2d8ff 0 73px,#d8c9ff 0 74px,#f4e2d7 0 78px,#cebbff 0 79px,#f3d6c6 0 81px,#efb29b 0 83px,#ed9d85 0 84px,#ee8163 0 86px,#f0bda7 0 87px,#c4acff 0 89px,#b38fff 0 91px,#bb9dff 0 92px,#b38fff 0 94px,#f0bda7 0 96px,#f3d6c6 0 97px,#efb29b 0 100px,#eea790 0 102px,#f0bda7 0 104px,#ed9479 0 105px,#f3d6c6 0 107px,#e2d8ff 0 108px,#eea790 0 110px,#f3d6c6 0 113px,#cebbff 0 115px,#f0bda7 0 117px,#e2d8ff 0 121px,#f1c9b6 0 123px,#f0bda7 0 126px,#aa80ff 0 128px,#e2d8ff 0 130px,#cebbff 0 133px,#854fff 0 134px,#8c5cff 0 136px,#cebbff 0 138px,#f5f2ff 0 139px,#e2d8ff 0 141px,#f0bda7 0 144px,#f3d6c6 0 147px,#f25e42 0 149px,#fa492e 0 151px,#f06c4f 0 152px,#d8c9ff 0 154px,#aa80ff 0 157px,#bb9dff 0 159px,#a074ff 0 160px,#f3d6c6 0 162px,#f1c9b6 0 164px,#f0bda7 0 165px,#eea790 0 167px,#efb29b 0 168px,#f1c9b6 0 170px,#cebbff 0 173px,#e2d8ff 0 175px,#f3d6c6 0 176px,#ed9479 0 178px,#c4acff 0 180px,#cebbff 0 181px,#ed9d85 0 183px,#eea790 0 185px,#f1c9b6 0 186px,#ed9479 0 188px,#ee8b6e 0 191px,#f0bda7 0 193px,#aa80ff 0 194px,#efb29b 0 196px,#ee8b6e 0 198px,#f3d6c6 0 199px,#f0bda7 0 201px,#ed9479 0 202px,#efb29b 0 204px,#ed9479 0 206px,#f1c9b6 0 207px,#e2d8ff 0 209px,#f0bda7 0 210px,#ff341c 0 212px,#f3d6c6 0 214px,#efb29b 0 215px,#f25e42 0 217px,#ed9479 0 219px,#ee8b6e 0 220px,#f25e42 0 222px,#ee8b6e 0 225px,#efb29b 0 227px,#ed9d85 0 228px,#f1c9b6 0 230px,#f4e2d7 0 232px,#ed9479 0 233px,#e2d8ff 0 235px,#ed9d85 0)"></div><div style="left:1180.9px;top:617.6px;width:34.2px;height:236.4px;background:linear-gradient(#f3d6c6 0 2px,#ee8b6e 0 3px,#ee8163 0 5px,#eea790 0 6px,#f4e2d7 0 8px,#e2d8ff 0 10px,#f3d6c6 0 11px,#f0bda7 0 13px,#d8c9ff 0 15px,#f1c9b6 0 16px,#ee8b6e 0 18px,#eea790 0 19px,#ed9479 0 21px,#d8c9ff 0 23px,#f1c9b6 0 24px,#efb29b 0 26px,#f1c9b6 0 28px,#f0bda7 0 31px,#eea790 0 36px,#d8c9ff 0 37px,#efb29b 0 39px,#ef7759 0 40px,#ff341c 0 42px,#ff2010 0 44px,#f0bda7 0 45px,#d8c9ff 0 47px,#b38fff 0 50px,#f0bda7 0 52px,#fa492e 0 53px,#ff341c 0 57px,#f06c4f 0 58px,#ee8b6e 0 60px,#efb29b 0 62px,#f3d6c6 0 63px,#cebbff 0 66px,#e2d8ff 0 68px,#efb29b 0 70px,#d8c9ff 0 71px,#bb9dff 0 73px,#cebbff 0 76px,#f4e2d7 0 78px,#d8c9ff 0 79px,#f3d6c6 0 81px,#cebbff 0 84px,#d8c9ff 0 86px,#f1c9b6 0 87px,#d8c9ff 0 89px,#c4acff 0 91px,#aa80ff 0 92px,#b38fff 0 94px,#cebbff 0 96px,#f4e2d7 0 97px,#efb29b 0 99px,#f0bda7 0 102px,#d8c9ff 0 104px,#b38fff 0 105px,#c4acff 0 107px,#bb9dff 0 110px,#aa80ff 0 112px,#f1c9b6 0 113px,#d8c9ff 0 115px,#f4e2d7 0 117px,#f0bda7 0 118px,#f1c9b6 0 120px,#f0bda7 0 121px,#d8c9ff 0 123px,#f0bda7 0 125px,#f3d6c6 0 126px,#e2d8ff 0 128px,#f1c9b6 0 130px,#bb9dff 0 133px,#d8c9ff 0 134px,#e2d8ff 0 136px,#f3d6c6 0 138px,#f0bda7 0 141px,#e2d8ff 0 142px,#ee8b6e 0 144px,#ed9d85 0 146px,#c4acff 0 147px,#7d41ff 0 149px,#652eff 0 151px,#7d41ff 0 154px,#280bff 0 155px,#854fff 0 157px,#7d41ff 0 159px,#652eff 0 160px,#7d41ff 0 162px,#652eff 0 165px,#854fff 0 167px,#7d41ff 0 168px,#1400ff 0 170px,#652eff 0 172px,#cebbff 0 173px,#aa80ff 0 175px,#b38fff 0 176px,#c4acff 0 178px,#f4e2d7 0 180px,#efb29b 0 181px,#cebbff 0 183px,#ed9d85 0 186px,#ef7759 0 188px,#ee8b6e 0 189px,#ef7759 0 191px,#f3d6c6 0 193px,#f4e2d7 0 194px,#eea790 0 196px,#f4e2d7 0 199px,#cebbff 0 201px,#f0bda7 0 202px,#d8c9ff 0 204px,#f0bda7 0 206px,#ed9479 0 207px,#e2d8ff 0 209px,#f0bda7 0 210px,#cebbff 0 212px,#aa80ff 0 214px,#f3d6c6 0 215px,#eea790 0 217px,#f3d6c6 0 219px,#ed9479 0 220px,#eea790 0 222px,#ed9d85 0 223px,#ef7759 0 225px,#ee8b6e 0 227px,#ed9d85 0 228px,#fbf6f2 0 230px,#f3d6c6 0 232px,#f0bda7 0 233px,#c4acff 0 235px,#f3d6c6 0)"></div><div style="left:1214.8px;top:617.6px;width:33.8px;height:236.4px;background:linear-gradient(#b38fff 0 2px,#cebbff 0 3px,#ed9d85 0 5px,#eea790 0 8px,#b38fff 0 10px,#8c5cff 0 11px,#bb9dff 0 13px,#c4acff 0 15px,#f06c4f 0 16px,#ee8b6e 0 18px,#f0bda7 0 19px,#eea790 0 21px,#ee8b6e 0 23px,#eea790 0 24px,#c4acff 0 26px,#d8c9ff 0 28px,#c4acff 0 29px,#efb29b 0 31px,#ef7759 0 32px,#ff2010 0 34px,#f25e42 0 36px,#eea790 0 37px,#f06c4f 0 39px,#ff341c 0 40px,#ee8163 0 42px,#efb29b 0 44px,#f8ece5 0 45px,#bb9dff 0 50px,#efb29b 0 52px,#eea790 0 53px,#f4e2d7 0 55px,#f06c4f 0 57px,#f3d6c6 0 58px,#ed9d85 0 60px,#eea790 0 62px,#f06c4f 0 63px,#f1c9b6 0 66px,#ee8b6e 0 68px,#f3d6c6 0 71px,#bb9dff 0 73px,#b38fff 0 76px,#f3d6c6 0 78px,#e2d8ff 0 79px,#f1c9b6 0 81px,#e2d8ff 0 83px,#f1c9b6 0 84px,#d8c9ff 0 86px,#aa80ff 0 87px,#9668ff 0 89px,#7d41ff 0 92px,#bb9dff 0 94px,#cebbff 0 96px,#f1c9b6 0 97px,#b38fff 0 99px,#f0bda7 0 100px,#ee8b6e 0 102px,#efb29b 0 105px,#f3d6c6 0 107px,#e2d8ff 0 110px,#cebbff 0 112px,#f3d6c6 0 113px,#aa80ff 0 115px,#eea790 0 117px,#f3d6c6 0 118px,#854fff 0 120px,#bb9dff 0 121px,#c4acff 0 123px,#8c5cff 0 125px,#aa80ff 0 126px,#854fff 0 128px,#7d41ff 0 131px,#854fff 0 133px,#8c5cff 0 134px,#7d41ff 0 136px,#a074ff 0 138px,#aa80ff 0 139px,#f4e2d7 0 141px,#efb29b 0 146px,#cebbff 0 149px,#ed9479 0 151px,#f1c9b6 0 154px,#bb9dff 0 157px,#d8c9ff 0 159px,#9668ff 0 160px,#e2d8ff 0 162px,#f0bda7 0 164px,#f3d6c6 0 165px,#c4acff 0 167px,#cebbff 0 170px,#c4acff 0 172px,#9668ff 0 173px,#cebbff 0 176px,#efb29b 0 178px,#eea790 0 180px,#ed9479 0 181px,#f4e2d7 0 183px,#efb29b 0 185px,#ece5ff 0 186px,#efb29b 0 188px,#ff341c 0 189px,#ee8163 0 191px,#ee8b6e 0 193px,#ed9d85 0 194px,#efb29b 0 196px,#f3d6c6 0 198px,#e2d8ff 0 199px,#f0bda7 0 201px,#ee8163 0 204px,#f3d6c6 0 206px,#e2d8ff 0 207px,#c4acff 0 209px,#b38fff 0 212px,#f5f2ff 0 214px,#f1c9b6 0 215px,#ed9d85 0 217px,#f3d6c6 0 219px,#eea790 0 222px,#f1c9b6 0 223px,#f3d6c6 0 225px,#f0bda7 0 227px,#eea790 0 228px,#f0bda7 0 230px,#e2d8ff 0 232px,#f1c9b6 0 235px,#9668ff 0)"></div><div style="left:1260.5px;top:617.6px;width:34.2px;height:236.4px;background:linear-gradient(#f8ece5 0 2px,#f1c9b6 0 3px,#efb29b 0 5px,#e2d8ff 0 8px,#f3d6c6 0 11px,#c4acff 0 13px,#8c5cff 0 15px,#bb9dff 0 18px,#f3d6c6 0 19px,#d8c9ff 0 21px,#cebbff 0 23px,#bb9dff 0 24px,#c4acff 0 26px,#eea790 0 28px,#c4acff 0 29px,#e2d8ff 0 31px,#f3d6c6 0 32px,#cebbff 0 34px,#aa80ff 0 36px,#a074ff 0 37px,#c4acff 0 39px,#eea790 0 40px,#efb29b 0 42px,#eea790 0 44px,#cebbff 0 45px,#8c5cff 0 47px,#1400ff 0 49px,#bb9dff 0 50px,#aa80ff 0 52px,#d8c9ff 0 53px,#b38fff 0 55px,#e2d8ff 0 57px,#fbf6f2 0 58px,#efb29b 0 60px,#e2d8ff 0 62px,#bb9dff 0 65px,#cebbff 0 66px,#e2d8ff 0 68px,#c4acff 0 70px,#aa80ff 0 71px,#bb9dff 0 73px,#f1c9b6 0 76px,#7d41ff 0 78px,#e2d8ff 0 79px,#aa80ff 0 81px,#a074ff 0 83px,#f1c9b6 0 84px,#f4e2d7 0 86px,#b38fff 0 87px,#9668ff 0 89px,#c4acff 0 92px,#1400ff 0 94px,#8c5cff 0 96px,#9668ff 0 100px,#c4acff 0 104px,#d8c9ff 0 105px,#bb9dff 0 107px,#8c5cff 0 108px,#c4acff 0 110px,#b38fff 0 112px,#a074ff 0 113px,#e2d8ff 0 115px,#a074ff 0 117px,#854fff 0 118px,#aa80ff 0 120px,#c4acff 0 121px,#cebbff 0 123px,#bb9dff 0 125px,#e2d8ff 0 126px,#8c5cff 0 130px,#aa80ff 0 131px,#e2d8ff 0 133px,#9668ff 0 136px,#854fff 0 138px,#1400ff 0 139px,#854fff 0 141px,#aa80ff 0 142px,#b38fff 0 144px,#a074ff 0 146px,#8c5cff 0 147px,#bb9dff 0 149px,#c4acff 0 152px,#cebbff 0 154px,#d8c9ff 0 155px,#652eff 0 157px,#8c5cff 0 159px,#652eff 0 160px,#280bff 0 162px,#652eff 0 164px,#1400ff 0 165px,#8c5cff 0 167px,#9668ff 0 168px,#854fff 0 170px,#7d41ff 0 172px,#f4e2d7 0 173px,#c4acff 0 175px,#f1c9b6 0 176px,#f4e2d7 0 178px,#d8c9ff 0 180px,#e2d8ff 0 181px,#f1c9b6 0 183px,#f3d6c6 0 185px,#efb29b 0 186px,#ed9479 0 188px,#f0bda7 0 189px,#aa80ff 0 191px,#854fff 0 193px,#7d41ff 0 194px,#1400ff 0 196px,#9668ff 0 198px,#7d41ff 0 199px,#a074ff 0 204px,#cebbff 0 206px,#f0bda7 0 207px,#c4acff 0 209px,#9668ff 0 210px,#8c5cff 0 212px,#854fff 0 214px,#a074ff 0 215px,#cebbff 0 217px,#bb9dff 0 219px,#cebbff 0 222px,#8c5cff 0 223px,#1400ff 0 225px,#652eff 0 227px,#f1c9b6 0 228px,#854fff 0 230px,#aa80ff 0 232px,#e2d8ff 0 233px,#8c5cff 0 235px,#9668ff 0)"></div><div style="left:1294.3px;top:617.6px;width:34.2px;height:236.4px;background:linear-gradient(#652eff 0 2px,#a074ff 0 3px,#cebbff 0 5px,#b38fff 0 8px,#e2d8ff 0 10px,#f3d6c6 0 11px,#bb9dff 0 13px,#aa80ff 0 15px,#d8c9ff 0 16px,#f4e2d7 0 18px,#e2d8ff 0 19px,#d8c9ff 0 21px,#f0bda7 0 23px,#bb9dff 0 24px,#e2d8ff 0 26px,#f3d6c6 0 28px,#aa80ff 0 29px,#8c5cff 0 31px,#aa80ff 0 32px,#8c5cff 0 34px,#854fff 0 37px,#f1c9b6 0 39px,#ed9d85 0 40px,#f4e2d7 0 42px,#eea790 0 44px,#bb9dff 0 45px,#1400ff 0 47px,#9668ff 0 49px,#8c5cff 0 50px,#b38fff 0 52px,#d8c9ff 0 53px,#cebbff 0 55px,#f3d6c6 0 57px,#e2d8ff 0 58px,#cebbff 0 60px,#eea790 0 62px,#e2d8ff 0 63px,#a074ff 0 66px,#bb9dff 0 68px,#c4acff 0 70px,#8c5cff 0 71px,#d8c9ff 0 73px,#cebbff 0 74px,#bb9dff 0 76px,#8c5cff 0 79px,#1400ff 0 83px,#8c5cff 0 84px,#9668ff 0 86px,#652eff 0 87px,#854fff 0 89px,#8c5cff 0 91px,#652eff 0 92px,#280bff 0 94px,#854fff 0 97px,#652eff 0 99px,#854fff 0 100px,#7d41ff 0 102px,#854fff 0 104px,#652eff 0 105px,#8c5cff 0 107px,#854fff 0 108px,#652eff 0 110px,#280bff 0 112px,#a074ff 0 113px,#b38fff 0 115px,#a074ff 0 117px,#7d41ff 0 118px,#bb9dff 0 120px,#b38fff 0 123px,#9668ff 0 125px,#a074ff 0 126px,#aa80ff 0 128px,#b38fff 0 130px,#d8c9ff 0 131px,#efb29b 0 133px,#a074ff 0 134px,#aa80ff 0 136px,#bb9dff 0 138px,#a074ff 0 139px,#1400ff 0 142px,#a074ff 0 144px,#9668ff 0 146px,#652eff 0 147px,#8c5cff 0 149px,#f4e2d7 0 151px,#c4acff 0 152px,#1400ff 0 157px,#aa80ff 0 159px,#280bff 0 160px,#1400ff 0 162px,#854fff 0 164px,#1400ff 0 168px,#8c5cff 0 170px,#1400ff 0 172px,#652eff 0 173px,#aa80ff 0 175px,#cebbff 0 176px,#f3d6c6 0 178px,#9668ff 0 180px,#e2d8ff 0 181px,#efb29b 0 183px,#d8c9ff 0 185px,#b38fff 0 186px,#eea790 0 188px,#ed9d85 0 189px,#e2d8ff 0 191px,#c4acff 0 193px,#652eff 0 194px,#aa80ff 0 196px,#a074ff 0 199px,#280bff 0 201px,#a074ff 0 202px,#280bff 0 204px,#a074ff 0 206px,#9668ff 0 207px,#a074ff 0 209px,#9668ff 0 210px,#8c5cff 0 212px,#1400ff 0 214px,#7d41ff 0 215px,#652eff 0 217px,#bb9dff 0 219px,#f0bda7 0 220px,#e2d8ff 0 222px,#cebbff 0 223px,#b38fff 0 225px,#a074ff 0 227px,#e2d8ff 0 228px,#ece5ff 0 230px,#8c5cff 0 232px,#b38fff 0 233px,#a074ff 0 235px,#cebbff 0)"></div><div style="left:1328.2px;top:617.6px;width:33.8px;height:236.4px;background:linear-gradient(#c4acff 0 2px,#f4e2d7 0 3px,#e2d8ff 0 5px,#aa80ff 0 6px,#bb9dff 0 8px,#d8c9ff 0 10px,#1400ff 0 11px,#280bff 0 13px,#7d41ff 0 15px,#efb29b 0 16px,#f0bda7 0 18px,#bb9dff 0 19px,#d8c9ff 0 21px,#f4e2d7 0 23px,#9668ff 0 24px,#f4e2d7 0 26px,#aa80ff 0 28px,#652eff 0 29px,#9668ff 0 31px,#e2d8ff 0 32px,#f3d6c6 0 34px,#c4acff 0 36px,#7d41ff 0 37px,#bb9dff 0 39px,#e2d8ff 0 40px,#efb29b 0 42px,#f0bda7 0 44px,#e2d8ff 0 45px,#f4e2d7 0 47px,#c4acff 0 49px,#d8c9ff 0 50px,#e2d8ff 0 52px,#c4acff 0 53px,#e2d8ff 0 55px,#f1c9b6 0 57px,#f4e2d7 0 58px,#f0bda7 0 60px,#e2d8ff 0 62px,#f4e2d7 0 63px,#8c5cff 0 65px,#d8c9ff 0 66px,#eea790 0 68px,#f1c9b6 0 70px,#d8c9ff 0 71px,#ed9d85 0 73px,#bb9dff 0 74px,#b38fff 0 79px,#e2d8ff 0 81px,#b38fff 0 83px,#9668ff 0 84px,#b38fff 0 86px,#9668ff 0 87px,#b38fff 0 89px,#aa80ff 0 91px,#854fff 0 92px,#9668ff 0 94px,#8c5cff 0 96px,#bb9dff 0 97px,#aa80ff 0 99px,#f3d6c6 0 100px,#bb9dff 0 102px,#cebbff 0 104px,#a074ff 0 105px,#eea790 0 107px,#f0bda7 0 108px,#ed9d85 0 110px,#d8c9ff 0 112px,#c4acff 0 113px,#b38fff 0 115px,#aa80ff 0 117px,#b38fff 0 118px,#aa80ff 0 120px,#cebbff 0 121px,#b38fff 0 123px,#9668ff 0 125px,#8c5cff 0 126px,#a074ff 0 128px,#8c5cff 0 130px,#b38fff 0 131px,#e2d8ff 0 133px,#9668ff 0 134px,#a074ff 0 136px,#7d41ff 0 138px,#1400ff 0 142px,#7d41ff 0 144px,#a074ff 0 146px,#9668ff 0 149px,#c4acff 0 151px,#bb9dff 0 154px,#854fff 0 155px,#1400ff 0 162px,#652eff 0 164px,#7d41ff 0 165px,#b38fff 0 167px,#9668ff 0 170px,#aa80ff 0 172px,#854fff 0 173px,#bb9dff 0 175px,#fbf6f2 0 176px,#aa80ff 0 178px,#9668ff 0 180px,#f1c9b6 0 181px,#aa80ff 0 183px,#cebbff 0 186px,#efb29b 0 188px,#9668ff 0 189px,#8c5cff 0 191px,#bb9dff 0 193px,#280bff 0 198px,#1400ff 0 199px,#280bff 0 202px,#854fff 0 204px,#c4acff 0 206px,#cebbff 0 207px,#ed9d85 0 209px,#d8c9ff 0 210px,#f4e2d7 0 212px,#bb9dff 0 214px,#652eff 0 215px,#d8c9ff 0 217px,#f0bda7 0 219px,#f3d6c6 0 220px,#c4acff 0 222px,#aa80ff 0 223px,#a074ff 0 225px,#9668ff 0 227px,#d8c9ff 0 228px,#9668ff 0 230px,#aa80ff 0 232px,#b38fff 0 233px,#bb9dff 0 235px,#aa80ff 0)"></div><div style="left:920.3px;top:889px;width:34.2px;height:233px;background:linear-gradient(#efb29b 0 2px,#f1c9b6 0 3px,#eea790 0 5px,#efb29b 0 6px,#f1c9b6 0 8px,#f5f2ff 0 10px,#f4e2d7 0 11px,#cebbff 0 13px,#d8c9ff 0 15px,#f4e2d7 0 18px,#e2d8ff 0 19px,#854fff 0 21px,#652eff 0 23px,#1400ff 0 24px,#652eff 0 26px,#9668ff 0 28px,#aa80ff 0 29px,#9668ff 0 31px,#8c5cff 0 32px,#a074ff 0 34px,#c4acff 0 36px,#f0bda7 0 37px,#f3d6c6 0 39px,#d8c9ff 0 40px,#1400ff 0 45px,#aa80ff 0 47px,#a074ff 0 49px,#d8c9ff 0 50px,#cebbff 0 52px,#652eff 0 53px,#8c5cff 0 55px,#280bff 0 57px,#bb9dff 0 58px,#9668ff 0 60px,#efb29b 0 61px,#f3d6c6 0 63px,#f0bda7 0 65px,#e2d8ff 0 66px,#f0bda7 0 68px,#c4acff 0 70px,#bb9dff 0 71px,#8c5cff 0 73px,#d8c9ff 0 74px,#8c5cff 0 76px,#aa80ff 0 78px,#cebbff 0 79px,#f3d6c6 0 81px,#cebbff 0 83px,#f0bda7 0 84px,#bb9dff 0 86px,#b38fff 0 89px,#fbf6f2 0 91px,#aa80ff 0 92px,#b38fff 0 94px,#f0bda7 0 95px,#f8ece5 0 97px,#fbf6f2 0 99px,#9668ff 0 100px,#fbf6f2 0 102px,#f4e2d7 0 104px,#ffffff 0 105px,#854fff 0 107px,#c4acff 0 108px,#8c5cff 0 110px,#aa80ff 0 112px,#ffffff 0 113px,#9668ff 0 115px,#7d41ff 0 116px,#652eff 0 118px,#280bff 0 120px,#1400ff 0 125px,#8c5cff 0 126px,#a074ff 0 128px,#ffffff 0 129px,#854fff 0 131px,#bb9dff 0 133px,#7d41ff 0 134px,#9668ff 0 136px,#a074ff 0 138px,#aa80ff 0 139px,#9668ff 0 141px,#7d41ff 0 142px,#854fff 0 144px,#7d41ff 0 146px,#aa80ff 0 147px,#b38fff 0 149px,#9668ff 0 150px,#aa80ff 0 152px,#9668ff 0 154px,#bb9dff 0 155px,#c4acff 0 157px,#aa80ff 0 160px,#fbf6f2 0 162px,#bb9dff 0 163px,#ffffff 0 165px,#c4acff 0 167px,#aa80ff 0 168px,#a074ff 0 170px,#9668ff 0 172px,#c4acff 0 173px,#cebbff 0 175px,#280bff 0 176px,#1400ff 0 181px,#854fff 0 183px,#652eff 0 184px,#e2d8ff 0 186px,#f4e2d7 0 188px,#ef7759 0 189px,#f8ece5 0 193px,#c4acff 0 196px,#f5f2ff 0 197px,#cebbff 0 199px,#e2d8ff 0 201px,#cebbff 0 202px,#bb9dff 0 204px,#e2d8ff 0 205px,#f5f2ff 0 207px,#fbf6f2 0 209px,#e2d8ff 0 210px,#a074ff 0 212px,#cebbff 0 214px,#b38fff 0 215px,#aa80ff 0 217px,#c4acff 0 218px,#f5f2ff 0 220px,#c4acff 0 222px,#bb9dff 0 223px,#cebbff 0 225px,#ece5ff 0 227px,#280bff 0 228px,#1400ff 0 230px,#280bff 0 231px,#1400ff 0)"></div><div style="left:954.1px;top:889px;width:34.2px;height:233px;background:linear-gradient(#d8c9ff 0 2px,#f3d6c6 0 3px,#eea790 0 5px,#efb29b 0 6px,#d8c9ff 0 8px,#f4e2d7 0 10px,#ed9d85 0 11px,#efb29b 0 13px,#cebbff 0 15px,#c4acff 0 16px,#7d41ff 0 18px,#a074ff 0 19px,#854fff 0 21px,#7d41ff 0 23px,#c4acff 0 24px,#ed9479 0 26px,#e2d8ff 0 28px,#f4e2d7 0 29px,#bb9dff 0 32px,#cebbff 0 36px,#e2d8ff 0 37px,#d8c9ff 0 40px,#b38fff 0 42px,#aa80ff 0 44px,#b38fff 0 45px,#aa80ff 0 47px,#e2d8ff 0 49px,#c4acff 0 50px,#cebbff 0 52px,#bb9dff 0 53px,#c4acff 0 55px,#cebbff 0 57px,#c4acff 0 58px,#d8c9ff 0 60px,#f3d6c6 0 61px,#eea790 0 63px,#c4acff 0 65px,#cebbff 0 66px,#bb9dff 0 68px,#854fff 0 70px,#9668ff 0 71px,#cebbff 0 73px,#a074ff 0 74px,#854fff 0 76px,#a074ff 0 78px,#bb9dff 0 79px,#cebbff 0 81px,#c4acff 0 83px,#aa80ff 0 84px,#1400ff 0 86px,#652eff 0 87px,#9668ff 0 89px,#aa80ff 0 91px,#b38fff 0 92px,#f0bda7 0 94px,#f1c9b6 0 95px,#f4e2d7 0 99px,#bb9dff 0 100px,#b38fff 0 102px,#a074ff 0 104px,#9668ff 0 105px,#8c5cff 0 107px,#b38fff 0 108px,#8c5cff 0 110px,#bb9dff 0 112px,#fbf6f2 0 113px,#aa80ff 0 115px,#a074ff 0 116px,#b38fff 0 118px,#c4acff 0 120px,#b38fff 0 121px,#aa80ff 0 123px,#ffffff 0 125px,#b38fff 0 128px,#f8ece5 0 129px,#7d41ff 0 131px,#854fff 0 134px,#f1c9b6 0 136px,#f3d6c6 0 138px,#ed9479 0 139px,#f0bda7 0 141px,#fbf6f2 0 144px,#f4e2d7 0 146px,#ffffff 0 147px,#fbf6f2 0 149px,#f8ece5 0 150px,#f1c9b6 0 152px,#ffffff 0 154px,#8c5cff 0 155px,#f5f2ff 0 157px,#ffffff 0 159px,#bb9dff 0 160px,#aa80ff 0 162px,#854fff 0 163px,#fbf6f2 0 165px,#f5f2ff 0 167px,#aa80ff 0 168px,#f1c9b6 0 170px,#f3d6c6 0 172px,#c4acff 0 173px,#efb29b 0 175px,#f1c9b6 0 176px,#f3d6c6 0 178px,#8c5cff 0 180px,#7d41ff 0 181px,#280bff 0 183px,#8c5cff 0 184px,#b38fff 0 186px,#c4acff 0 188px,#e2d8ff 0 189px,#b38fff 0 191px,#854fff 0 193px,#9668ff 0 196px,#bb9dff 0 197px,#280bff 0 199px,#652eff 0 201px,#280bff 0 202px,#652eff 0 204px,#280bff 0 205px,#1400ff 0 207px,#652eff 0 209px,#efb29b 0 210px,#d8c9ff 0 212px,#e2d8ff 0 214px,#bb9dff 0 217px,#9668ff 0 218px,#854fff 0 220px,#1400ff 0 222px,#652eff 0 223px,#9668ff 0 225px,#a074ff 0 227px,#d8c9ff 0 228px,#c4acff 0 230px,#b38fff 0 231px,#aa80ff 0)"></div><div style="left:988px;top:889px;width:33.8px;height:233px;background:linear-gradient(#1400ff 0 6px,#f0bda7 0 10px,#ed9479 0 11px,#ee8163 0 13px,#ed9479 0 16px,#aa80ff 0 19px,#c4acff 0 21px,#d8c9ff 0 23px,#f0bda7 0 24px,#f3d6c6 0 26px,#efb29b 0 28px,#c4acff 0 29px,#e2d8ff 0 31px,#c4acff 0 32px,#aa80ff 0 34px,#bb9dff 0 36px,#aa80ff 0 37px,#1400ff 0 40px,#a074ff 0 44px,#e2d8ff 0 45px,#aa80ff 0 47px,#f0bda7 0 49px,#d8c9ff 0 50px,#aa80ff 0 52px,#a074ff 0 53px,#aa80ff 0 55px,#a074ff 0 57px,#8c5cff 0 58px,#a074ff 0 60px,#f3d6c6 0 61px,#ee8163 0 63px,#eea790 0 65px,#d8c9ff 0 66px,#f1c9b6 0 70px,#d8c9ff 0 71px,#854fff 0 73px,#a074ff 0 74px,#aa80ff 0 76px,#b38fff 0 78px,#9668ff 0 79px,#bb9dff 0 81px,#e2d8ff 0 83px,#f4e2d7 0 84px,#8c5cff 0 86px,#9668ff 0 87px,#280bff 0 89px,#9668ff 0 91px,#a074ff 0 92px,#bb9dff 0 94px,#f1c9b6 0 95px,#cebbff 0 97px,#8c5cff 0 99px,#bb9dff 0 100px,#ed9479 0 102px,#f1c9b6 0 105px,#f3d6c6 0 107px,#c4acff 0 108px,#f8ece5 0 110px,#cebbff 0 112px,#bb9dff 0 113px,#f4e2d7 0 115px,#c4acff 0 116px,#9668ff 0 118px,#a074ff 0 120px,#1400ff 0 121px,#652eff 0 123px,#7d41ff 0 125px,#854fff 0 126px,#652eff 0 128px,#b38fff 0 129px,#bb9dff 0 131px,#cebbff 0 133px,#d8c9ff 0 134px,#efb29b 0 136px,#c4acff 0 138px,#f3d6c6 0 139px,#c4acff 0 141px,#bb9dff 0 142px,#aa80ff 0 144px,#cebbff 0 146px,#c4acff 0 147px,#f1c9b6 0 149px,#bb9dff 0 150px,#f4e2d7 0 152px,#bb9dff 0 154px,#aa80ff 0 155px,#b38fff 0 157px,#aa80ff 0 159px,#d8c9ff 0 160px,#c4acff 0 162px,#b38fff 0 163px,#f4e2d7 0 165px,#bb9dff 0 168px,#f1c9b6 0 170px,#f8ece5 0 173px,#ece5ff 0 175px,#c4acff 0 176px,#d8c9ff 0 178px,#bb9dff 0 180px,#cebbff 0 181px,#9668ff 0 183px,#d8c9ff 0 184px,#e2d8ff 0 186px,#d8c9ff 0 188px,#f8ece5 0 189px,#d8c9ff 0 191px,#bb9dff 0 193px,#a074ff 0 194px,#f5f2ff 0 196px,#ece5ff 0 197px,#cebbff 0 199px,#e2d8ff 0 201px,#ee8163 0 202px,#f4e2d7 0 204px,#f3d6c6 0 205px,#f25e42 0 207px,#f8ece5 0 209px,#ed9479 0 210px,#f5f2ff 0 212px,#ece5ff 0 214px,#f5f2ff 0 215px,#e2d8ff 0 217px,#c4acff 0 218px,#aa80ff 0 222px,#9668ff 0 223px,#a074ff 0 227px,#b38fff 0 228px,#e2d8ff 0 230px,#cebbff 0 231px,#e2d8ff 0)"></div><div style="left:1033.7px;top:889px;width:34.2px;height:233px;background:linear-gradient(#ed9479 0 2px,#efb29b 0 3px,#e2d8ff 0 5px,#c4acff 0 6px,#bb9dff 0 10px,#d8c9ff 0 13px,#7d41ff 0 15px,#854fff 0 16px,#1400ff 0 18px,#854fff 0 19px,#aa80ff 0 21px,#8c5cff 0 23px,#f0bda7 0 24px,#f3d6c6 0 26px,#eea790 0 28px,#cebbff 0 29px,#f3d6c6 0 31px,#f1c9b6 0 32px,#ee8b6e 0 34px,#cebbff 0 36px,#ed9d85 0 39px,#cebbff 0 42px,#aa80ff 0 44px,#854fff 0 45px,#cebbff 0 47px,#b38fff 0 50px,#f4e2d7 0 52px,#f3d6c6 0 53px,#f0bda7 0 55px,#d8c9ff 0 57px,#f1c9b6 0 58px,#f4e2d7 0 60px,#ee8163 0 61px,#ee8b6e 0 63px,#ed9479 0 65px,#f0bda7 0 66px,#f4e2d7 0 68px,#bb9dff 0 70px,#e2d8ff 0 71px,#b38fff 0 73px,#aa80ff 0 74px,#cebbff 0 76px,#f4e2d7 0 78px,#d8c9ff 0 79px,#f3d6c6 0 81px,#ed9d85 0 83px,#efb29b 0 84px,#ee8b6e 0 86px,#efb29b 0 87px,#f3d6c6 0 89px,#ed9479 0 91px,#efb29b 0 92px,#d8c9ff 0 94px,#eea790 0 95px,#f1c9b6 0 97px,#cebbff 0 99px,#f1c9b6 0 100px,#d8c9ff 0 102px,#bb9dff 0 104px,#9668ff 0 105px,#7d41ff 0 107px,#a074ff 0 108px,#d8c9ff 0 110px,#c4acff 0 112px,#854fff 0 113px,#9668ff 0 115px,#854fff 0 116px,#c4acff 0 118px,#bb9dff 0 120px,#b38fff 0 121px,#c4acff 0 123px,#8c5cff 0 125px,#652eff 0 126px,#bb9dff 0 128px,#a074ff 0 129px,#b38fff 0 131px,#f1c9b6 0 133px,#d8c9ff 0 134px,#cebbff 0 136px,#b38fff 0 142px,#f3d6c6 0 144px,#d8c9ff 0 146px,#e2d8ff 0 147px,#c4acff 0 150px,#f0bda7 0 152px,#f3d6c6 0 154px,#c4acff 0 155px,#d8c9ff 0 157px,#cebbff 0 159px,#f4e2d7 0 160px,#b38fff 0 162px,#c4acff 0 163px,#ed9d85 0 165px,#ed9479 0 167px,#eea790 0 168px,#d8c9ff 0 170px,#eea790 0 172px,#e2d8ff 0 173px,#bb9dff 0 175px,#d8c9ff 0 176px,#8c5cff 0 178px,#d8c9ff 0 180px,#b38fff 0 181px,#1400ff 0 193px,#c4acff 0 194px,#9668ff 0 196px,#b38fff 0 197px,#f3d6c6 0 199px,#d8c9ff 0 201px,#f5f2ff 0 202px,#bb9dff 0 204px,#eea790 0 205px,#c4acff 0 209px,#8c5cff 0 210px,#aa80ff 0 212px,#bb9dff 0 214px,#8c5cff 0 215px,#9668ff 0 217px,#7d41ff 0 218px,#9668ff 0 220px,#b38fff 0 222px,#8c5cff 0 223px,#e2d8ff 0 225px,#bb9dff 0 227px,#d8c9ff 0 228px,#f0bda7 0 230px,#1400ff 0 231px,#a074ff 0)"></div><div style="left:1067.5px;top:889px;width:34.2px;height:233px;background:linear-gradient(#f0bda7 0 2px,#e2d8ff 0 3px,#bb9dff 0 5px,#c4acff 0 6px,#9668ff 0 8px,#8c5cff 0 10px,#f3d6c6 0 11px,#c4acff 0 15px,#b38fff 0 18px,#bb9dff 0 19px,#c4acff 0 21px,#cebbff 0 23px,#f06c4f 0 24px,#f0bda7 0 26px,#cebbff 0 28px,#e2d8ff 0 31px,#d8c9ff 0 32px,#f1c9b6 0 34px,#d8c9ff 0 36px,#ee8b6e 0 37px,#ffffff 0 39px,#b38fff 0 40px,#aa80ff 0 42px,#bb9dff 0 44px,#b38fff 0 45px,#bb9dff 0 47px,#cebbff 0 49px,#aa80ff 0 50px,#cebbff 0 52px,#f4e2d7 0 53px,#cebbff 0 55px,#f1c9b6 0 57px,#ee8b6e 0 58px,#eea790 0 63px,#f3d6c6 0 65px,#f1c9b6 0 66px,#f0bda7 0 68px,#f3d6c6 0 70px,#efb29b 0 71px,#bb9dff 0 73px,#c4acff 0 74px,#9668ff 0 76px,#bb9dff 0 78px,#cebbff 0 79px,#eea790 0 81px,#f1c9b6 0 83px,#c4acff 0 84px,#bb9dff 0 86px,#f3d6c6 0 87px,#f4e2d7 0 89px,#e2d8ff 0 91px,#ee8b6e 0 92px,#ef7759 0 94px,#ff2010 0 95px,#ed9479 0 97px,#e2d8ff 0 99px,#bb9dff 0 100px,#b38fff 0 102px,#e2d8ff 0 104px,#f3d6c6 0 105px,#cebbff 0 107px,#b38fff 0 108px,#a074ff 0 110px,#bb9dff 0 113px,#cebbff 0 115px,#b38fff 0 116px,#e2d8ff 0 118px,#aa80ff 0 120px,#854fff 0 121px,#b38fff 0 123px,#9668ff 0 125px,#d8c9ff 0 126px,#f3d6c6 0 128px,#bb9dff 0 131px,#f1c9b6 0 133px,#f3d6c6 0 134px,#d8c9ff 0 136px,#e2d8ff 0 139px,#cebbff 0 141px,#b38fff 0 144px,#f4e2d7 0 146px,#d8c9ff 0 147px,#f1c9b6 0 149px,#cebbff 0 150px,#f1c9b6 0 152px,#e2d8ff 0 154px,#8c5cff 0 155px,#b38fff 0 159px,#cebbff 0 160px,#1400ff 0 162px,#7d41ff 0 163px,#cebbff 0 165px,#f0bda7 0 167px,#cebbff 0 168px,#c4acff 0 170px,#d8c9ff 0 175px,#a074ff 0 176px,#c4acff 0 178px,#d8c9ff 0 181px,#b38fff 0 183px,#c4acff 0 184px,#cebbff 0 186px,#d8c9ff 0 189px,#cebbff 0 191px,#f1c9b6 0 193px,#efb29b 0 194px,#f4e2d7 0 196px,#e2d8ff 0 197px,#f4e2d7 0 199px,#f3d6c6 0 202px,#efb29b 0 204px,#f3d6c6 0 205px,#f4e2d7 0 207px,#ee8b6e 0 209px,#f3d6c6 0 212px,#f1c9b6 0 214px,#a074ff 0 215px,#b38fff 0 218px,#652eff 0 220px,#1400ff 0 227px,#280bff 0 228px,#1400ff 0 230px,#bb9dff 0 231px,#a074ff 0)"></div><div style="left:1101.4px;top:889px;width:33.8px;height:233px;background:linear-gradient(#eea790 0 2px,#ef7759 0 3px,#f1c9b6 0 5px,#f3d6c6 0 6px,#9668ff 0 8px,#e2d8ff 0 11px,#b38fff 0 13px,#f3d6c6 0 15px,#aa80ff 0 16px,#c4acff 0 18px,#b38fff 0 19px,#7d41ff 0 21px,#854fff 0 23px,#e2d8ff 0 24px,#f4e2d7 0 26px,#d8c9ff 0 28px,#aa80ff 0 29px,#bb9dff 0 31px,#7d41ff 0 32px,#bb9dff 0 34px,#d8c9ff 0 36px,#e2d8ff 0 37px,#1400ff 0 40px,#280bff 0 42px,#1400ff 0 44px,#280bff 0 45px,#1400ff 0 47px,#280bff 0 49px,#652eff 0 50px,#280bff 0 52px,#1400ff 0 60px,#652eff 0 61px,#1400ff 0 63px,#280bff 0 65px,#bb9dff 0 66px,#d8c9ff 0 68px,#f0bda7 0 71px,#aa80ff 0 73px,#f3d6c6 0 74px,#bb9dff 0 76px,#d8c9ff 0 78px,#b38fff 0 79px,#bb9dff 0 81px,#f3d6c6 0 83px,#cebbff 0 84px,#f1c9b6 0 86px,#bb9dff 0 87px,#f1c9b6 0 89px,#ed9479 0 91px,#ed9d85 0 92px,#f3d6c6 0 94px,#ee8b6e 0 95px,#ed9479 0 97px,#ece5ff 0 99px,#bb9dff 0 100px,#8c5cff 0 102px,#7d41ff 0 105px,#9668ff 0 107px,#a074ff 0 108px,#854fff 0 110px,#280bff 0 112px,#652eff 0 113px,#b38fff 0 115px,#cebbff 0 116px,#f3d6c6 0 118px,#d8c9ff 0 120px,#aa80ff 0 121px,#bb9dff 0 123px,#d8c9ff 0 125px,#efb29b 0 126px,#f1c9b6 0 128px,#9668ff 0 129px,#1400ff 0 131px,#854fff 0 133px,#a074ff 0 134px,#cebbff 0 136px,#a074ff 0 138px,#8c5cff 0 141px,#bb9dff 0 144px,#aa80ff 0 146px,#c4acff 0 147px,#9668ff 0 150px,#e2d8ff 0 152px,#bb9dff 0 154px,#9668ff 0 155px,#8c5cff 0 159px,#1400ff 0 165px,#854fff 0 167px,#bb9dff 0 168px,#aa80ff 0 170px,#bb9dff 0 172px,#b38fff 0 178px,#bb9dff 0 180px,#c4acff 0 181px,#aa80ff 0 183px,#652eff 0 184px,#8c5cff 0 186px,#aa80ff 0 188px,#c4acff 0 189px,#652eff 0 191px,#8c5cff 0 193px,#d8c9ff 0 194px,#c4acff 0 196px,#bb9dff 0 197px,#d8c9ff 0 199px,#bb9dff 0 201px,#f0bda7 0 202px,#eea790 0 205px,#d8c9ff 0 209px,#c4acff 0 212px,#9668ff 0 214px,#854fff 0 215px,#aa80ff 0 217px,#cebbff 0 218px,#aa80ff 0 220px,#9668ff 0 222px,#bb9dff 0 223px,#b38fff 0 227px,#aa80ff 0 228px,#a074ff 0 230px,#f3d6c6 0 231px,#652eff 0)"></div><div style="left:1147.1px;top:889px;width:34.2px;height:233px;background:linear-gradient(#eea790 0 2px,#f0bda7 0 3px,#cebbff 0 5px,#b38fff 0 6px,#bb9dff 0 8px,#c4acff 0 10px,#f3d6c6 0 11px,#f1c9b6 0 13px,#f0bda7 0 15px,#f4e2d7 0 16px,#bb9dff 0 18px,#aa80ff 0 19px,#a074ff 0 21px,#8c5cff 0 23px,#d8c9ff 0 24px,#ef7759 0 26px,#ee8b6e 0 28px,#ed9479 0 29px,#ee8163 0 31px,#ed9479 0 32px,#eea790 0 34px,#c4acff 0 37px,#f3d6c6 0 39px,#e2d8ff 0 40px,#9668ff 0 42px,#a074ff 0 44px,#bb9dff 0 45px,#d8c9ff 0 47px,#b38fff 0 49px,#c4acff 0 50px,#bb9dff 0 52px,#f4e2d7 0 55px,#8c5cff 0 57px,#9668ff 0 58px,#a074ff 0 60px,#bb9dff 0 61px,#f0bda7 0 63px,#eea790 0 65px,#cebbff 0 66px,#9668ff 0 68px,#aa80ff 0 70px,#bb9dff 0 71px,#cebbff 0 73px,#efb29b 0 74px,#f0bda7 0 76px,#d8c9ff 0 78px,#bb9dff 0 79px,#c4acff 0 81px,#ed9d85 0 83px,#f0bda7 0 84px,#f4e2d7 0 86px,#ed9d85 0 87px,#efb29b 0 89px,#f1c9b6 0 91px,#d8c9ff 0 92px,#c4acff 0 94px,#f0bda7 0 95px,#eea790 0 97px,#280bff 0 99px,#cebbff 0 100px,#f3d6c6 0 102px,#efb29b 0 104px,#e2d8ff 0 105px,#d8c9ff 0 107px,#e2d8ff 0 108px,#eea790 0 110px,#f3d6c6 0 112px,#efb29b 0 113px,#f0bda7 0 115px,#efb29b 0 116px,#ed9479 0 118px,#f3d6c6 0 120px,#cebbff 0 121px,#f3d6c6 0 123px,#f4e2d7 0 125px,#cebbff 0 126px,#f4e2d7 0 129px,#c4acff 0 131px,#f3d6c6 0 133px,#f1c9b6 0 134px,#f0bda7 0 136px,#cebbff 0 138px,#f0bda7 0 139px,#ed9d85 0 141px,#f4e2d7 0 142px,#bb9dff 0 144px,#aa80ff 0 146px,#d8c9ff 0 147px,#854fff 0 149px,#652eff 0 150px,#854fff 0 152px,#1400ff 0 154px,#7d41ff 0 157px,#652eff 0 159px,#854fff 0 162px,#cebbff 0 163px,#e2d8ff 0 165px,#eea790 0 167px,#ef7759 0 168px,#c4acff 0 170px,#f1c9b6 0 172px,#efb29b 0 175px,#f3d6c6 0 176px,#eea790 0 178px,#ed9479 0 180px,#ed9d85 0 181px,#f0bda7 0 183px,#f1c9b6 0 184px,#efb29b 0 193px,#c4acff 0 194px,#f1c9b6 0 196px,#f06c4f 0 197px,#ed9479 0 199px,#f3d6c6 0 201px,#cebbff 0 205px,#ef7759 0 207px,#e2d8ff 0 209px,#bb9dff 0 210px,#b38fff 0 212px,#aa80ff 0 215px,#8c5cff 0 217px,#9668ff 0 218px,#a074ff 0 220px,#b38fff 0 222px,#9668ff 0 223px,#f4e2d7 0 227px,#cebbff 0 228px,#f0bda7 0 230px,#cebbff 0 231px,#8c5cff 0)"></div><div style="left:1180.9px;top:889px;width:34.2px;height:233px;background:linear-gradient(#652eff 0 2px,#1400ff 0 6px,#652eff 0 8px,#1400ff 0 10px,#652eff 0 11px,#854fff 0 13px,#1400ff 0 15px,#280bff 0 16px,#1400ff 0 18px,#7d41ff 0 19px,#652eff 0 21px,#7d41ff 0 23px,#1400ff 0 28px,#f0bda7 0 29px,#ee8b6e 0 31px,#f0bda7 0 32px,#f3d6c6 0 34px,#d8c9ff 0 37px,#cebbff 0 40px,#f0bda7 0 42px,#d8c9ff 0 44px,#efb29b 0 45px,#ed9479 0 47px,#f1c9b6 0 49px,#1400ff 0 50px,#8c5cff 0 52px,#aa80ff 0 53px,#652eff 0 55px,#1400ff 0 57px,#aa80ff 0 58px,#a074ff 0 60px,#e2d8ff 0 61px,#efb29b 0 63px,#ee8163 0 65px,#f4e2d7 0 66px,#f3d6c6 0 68px,#f1c9b6 0 70px,#c4acff 0 71px,#f1c9b6 0 73px,#efb29b 0 74px,#f0bda7 0 76px,#ee8b6e 0 78px,#ee8163 0 79px,#ed9d85 0 81px,#d8c9ff 0 83px,#cebbff 0 84px,#c4acff 0 86px,#aa80ff 0 87px,#8c5cff 0 89px,#cebbff 0 91px,#c4acff 0 94px,#ee8163 0 95px,#efb29b 0 97px,#f4e2d7 0 99px,#f1c9b6 0 100px,#f3d6c6 0 102px,#f4e2d7 0 104px,#aa80ff 0 105px,#d8c9ff 0 108px,#cebbff 0 110px,#c4acff 0 112px,#f4e2d7 0 113px,#f3d6c6 0 115px,#cebbff 0 116px,#f4e2d7 0 118px,#f0bda7 0 120px,#efb29b 0 121px,#f1c9b6 0 123px,#f0bda7 0 126px,#f3d6c6 0 128px,#f0bda7 0 129px,#f4e2d7 0 131px,#efb29b 0 133px,#bb9dff 0 134px,#c4acff 0 136px,#d8c9ff 0 138px,#bb9dff 0 139px,#d8c9ff 0 141px,#bb9dff 0 142px,#f4e2d7 0 144px,#f3d6c6 0 146px,#f1c9b6 0 147px,#cebbff 0 149px,#9668ff 0 150px,#8c5cff 0 152px,#a074ff 0 154px,#1400ff 0 155px,#8c5cff 0 157px,#a074ff 0 159px,#e2d8ff 0 160px,#854fff 0 163px,#c4acff 0 165px,#cebbff 0 167px,#f1c9b6 0 168px,#e2d8ff 0 170px,#efb29b 0 172px,#f25e42 0 173px,#efb29b 0 175px,#f3d6c6 0 176px,#f0bda7 0 178px,#e2d8ff 0 180px,#f3d6c6 0 181px,#ed9d85 0 183px,#f1c9b6 0 184px,#efb29b 0 186px,#ee8163 0 189px,#f0bda7 0 191px,#f06c4f 0 193px,#f0bda7 0 194px,#ed9479 0 196px,#ff341c 0 197px,#f1c9b6 0 199px,#f4e2d7 0 201px,#f8ece5 0 202px,#ed9479 0 204px,#f3d6c6 0 205px,#f0bda7 0 207px,#f4e2d7 0 209px,#b38fff 0 212px,#f1c9b6 0 214px,#d8c9ff 0 215px,#f1c9b6 0 217px,#f3d6c6 0 222px,#d8c9ff 0 223px,#f3d6c6 0 225px,#c4acff 0 227px,#f3d6c6 0 228px,#fbf6f2 0 230px,#d8c9ff 0 231px,#b38fff 0)"></div><div style="left:1214.8px;top:889px;width:33.8px;height:233px;background:linear-gradient(#eea790 0 2px,#cebbff 0 3px,#aa80ff 0 5px,#cebbff 0 6px,#8c5cff 0 8px,#a074ff 0 10px,#f0bda7 0 11px,#efb29b 0 13px,#ed9479 0 15px,#e2d8ff 0 16px,#b38fff 0 18px,#f4e2d7 0 19px,#8c5cff 0 21px,#854fff 0 23px,#a074ff 0 24px,#f3d6c6 0 26px,#ed9479 0 28px,#eea790 0 29px,#d8c9ff 0 31px,#1400ff 0 34px,#ed9479 0 39px,#efb29b 0 40px,#ed9d85 0 42px,#f0bda7 0 45px,#efb29b 0 47px,#f1c9b6 0 49px,#b38fff 0 50px,#a074ff 0 52px,#f4e2d7 0 53px,#d8c9ff 0 55px,#a074ff 0 57px,#f3d6c6 0 58px,#c4acff 0 60px,#f3d6c6 0 61px,#efb29b 0 63px,#c4acff 0 65px,#bb9dff 0 66px,#f3d6c6 0 68px,#b38fff 0 70px,#f0bda7 0 71px,#f1c9b6 0 73px,#f4e2d7 0 74px,#f0bda7 0 78px,#ed9479 0 79px,#efb29b 0 81px,#ed9479 0 83px,#f3d6c6 0 84px,#1400ff 0 86px,#f0bda7 0 87px,#f3d6c6 0 89px,#c4acff 0 92px,#f1c9b6 0 94px,#ee8b6e 0 95px,#ed9d85 0 97px,#f3d6c6 0 99px,#cebbff 0 100px,#c4acff 0 102px,#bb9dff 0 104px,#d8c9ff 0 105px,#f4e2d7 0 108px,#f5f2ff 0 110px,#f3d6c6 0 115px,#ee8163 0 116px,#e2d8ff 0 118px,#f0bda7 0 120px,#ed9d85 0 121px,#f1c9b6 0 123px,#efb29b 0 125px,#ed9d85 0 126px,#ef7759 0 128px,#ee8b6e 0 129px,#f1c9b6 0 131px,#f3d6c6 0 133px,#f0bda7 0 134px,#ed9479 0 136px,#f3d6c6 0 138px,#f0bda7 0 139px,#e2d8ff 0 141px,#efb29b 0 142px,#a074ff 0 144px,#1400ff 0 146px,#9668ff 0 147px,#854fff 0 150px,#9668ff 0 155px,#8c5cff 0 157px,#9668ff 0 160px,#1400ff 0 162px,#eea790 0 163px,#f25e42 0 165px,#ee8163 0 167px,#ff2010 0 168px,#f3d6c6 0 170px,#eea790 0 172px,#d8c9ff 0 173px,#bb9dff 0 175px,#f3d6c6 0 176px,#efb29b 0 180px,#e2d8ff 0 181px,#c4acff 0 183px,#d8c9ff 0 184px,#ed9d85 0 186px,#f0bda7 0 188px,#ee8163 0 189px,#e2d8ff 0 193px,#d8c9ff 0 194px,#ee8b6e 0 196px,#f06c4f 0 197px,#efb29b 0 199px,#f1c9b6 0 201px,#f4e2d7 0 202px,#f1c9b6 0 204px,#f0bda7 0 205px,#f4e2d7 0 207px,#cebbff 0 209px,#bb9dff 0 210px,#d8c9ff 0 212px,#e2d8ff 0 215px,#f3d6c6 0 217px,#cebbff 0 220px,#f4e2d7 0 222px,#e2d8ff 0 223px,#c4acff 0 225px,#d8c9ff 0 227px,#c4acff 0 230px,#cebbff 0 231px,#c4acff 0)"></div><div style="left:1260.5px;top:889px;width:34.2px;height:233px;background:linear-gradient(#f0bda7 0 3px,#f3d6c6 0 5px,#efb29b 0 6px,#f4e2d7 0 8px,#efb29b 0 10px,#f0bda7 0 11px,#f1c9b6 0 13px,#ed9479 0 15px,#ee8163 0 16px,#ed9479 0 21px,#ed9d85 0 23px,#efb29b 0 24px,#ee8163 0 26px,#eea790 0 29px,#f3d6c6 0 31px,#eea790 0 32px,#ed9d85 0 34px,#efb29b 0 36px,#ee8b6e 0 37px,#f1c9b6 0 39px,#f0bda7 0 40px,#ed9479 0 42px,#f3d6c6 0 44px,#f0bda7 0 45px,#ef7759 0 47px,#ed9479 0 49px,#f1c9b6 0 50px,#f0bda7 0 52px,#f4e2d7 0 53px,#efb29b 0 55px,#eea790 0 58px,#f4e2d7 0 60px,#ed9d85 0 61px,#efb29b 0 63px,#eea790 0 65px,#f1c9b6 0 66px,#f4e2d7 0 68px,#f8ece5 0 70px,#f4e2d7 0 71px,#f8ece5 0 73px,#efb29b 0 74px,#ed9479 0 76px,#ed9d85 0 78px,#f0bda7 0 79px,#efb29b 0 81px,#eea790 0 83px,#efb29b 0 87px,#f0bda7 0 89px,#ed9479 0 91px,#ed9d85 0 92px,#efb29b 0 94px,#ed9d85 0 95px,#f0bda7 0 97px,#fbf6f2 0 99px,#f3d6c6 0 100px,#ee8163 0 102px,#ee8b6e 0 105px,#efb29b 0 107px,#eea790 0 108px,#ed9479 0 110px,#f0bda7 0 112px,#ee8b6e 0 113px,#ee8163 0 116px,#eea790 0 118px,#ed9d85 0 120px,#ee8b6e 0 121px,#ef7759 0 125px,#ed9479 0 126px,#ee8b6e 0 128px,#ed9d85 0 131px,#ee8163 0 133px,#ef7759 0 134px,#ee8163 0 136px,#ed9d85 0 139px,#ed9479 0 141px,#ef7759 0 142px,#ee8163 0 144px,#f06c4f 0 146px,#ee8163 0 147px,#eea790 0 149px,#f1c9b6 0 150px,#ed9d85 0 152px,#eea790 0 154px,#ee8163 0 155px,#ed9d85 0 157px,#f06c4f 0 159px,#ee8163 0 160px,#ef7759 0 162px,#fa492e 0 163px,#ef7759 0 165px,#ee8b6e 0 167px,#ee8163 0 168px,#f25e42 0 170px,#ef7759 0 172px,#ed9479 0 173px,#ed9d85 0 175px,#ed9479 0 176px,#ee8163 0 180px,#ed9d85 0 181px,#f1c9b6 0 183px,#ee8b6e 0 184px,#ed9479 0 189px,#ee8b6e 0 191px,#eea790 0 194px,#ed9d85 0 196px,#ed9479 0 199px,#ed9d85 0 201px,#ed9479 0 202px,#efb29b 0 205px,#f1c9b6 0 207px,#eea790 0 210px,#efb29b 0 212px,#ed9d85 0 214px,#ee8b6e 0 215px,#eea790 0 217px,#ee8163 0 218px,#ef7759 0 220px,#ed9479 0 223px,#f06c4f 0 225px,#ee8163 0 228px,#f06c4f 0 230px,#ee8163 0 231px,#f06c4f 0)"></div><div style="left:1294.3px;top:889px;width:34.2px;height:233px;background:linear-gradient(#ed9479 0 2px,#ee8b6e 0 3px,#f3d6c6 0 5px,#f1c9b6 0 6px,#f4e2d7 0 8px,#f1c9b6 0 10px,#ed9479 0 11px,#ee8b6e 0 15px,#ef7759 0 18px,#ed9d85 0 19px,#ef7759 0 21px,#eea790 0 23px,#ee8b6e 0 26px,#eea790 0 28px,#ed9d85 0 29px,#ee8163 0 31px,#ed9d85 0 32px,#f3d6c6 0 34px,#f4e2d7 0 36px,#f3d6c6 0 37px,#efb29b 0 39px,#f0bda7 0 42px,#f1c9b6 0 44px,#f4e2d7 0 45px,#efb29b 0 47px,#f4e2d7 0 50px,#f3d6c6 0 52px,#f8ece5 0 53px,#f1c9b6 0 55px,#ffffff 0 57px,#f1c9b6 0 58px,#f8ece5 0 60px,#efb29b 0 61px,#ed9d85 0 63px,#efb29b 0 65px,#ed9d85 0 66px,#eea790 0 68px,#efb29b 0 70px,#ed9d85 0 71px,#f0bda7 0 74px,#fbf6f2 0 76px,#f0bda7 0 78px,#efb29b 0 79px,#ed9479 0 81px,#eea790 0 83px,#ed9d85 0 84px,#eea790 0 86px,#f0bda7 0 87px,#f3d6c6 0 89px,#f0bda7 0 91px,#f3d6c6 0 92px,#efb29b 0 95px,#f1c9b6 0 97px,#f3d6c6 0 99px,#f8ece5 0 100px,#eea790 0 102px,#ef7759 0 104px,#fa492e 0 105px,#ff341c 0 107px,#fa492e 0 108px,#ff341c 0 110px,#ee8163 0 112px,#eea790 0 113px,#ee8163 0 120px,#f06c4f 0 121px,#ee8b6e 0 125px,#ef7759 0 126px,#ee8b6e 0 128px,#ef7759 0 129px,#f06c4f 0 133px,#ef7759 0 136px,#ee8163 0 138px,#ef7759 0 139px,#fa492e 0 141px,#f25e42 0 142px,#ff2010 0 147px,#fa492e 0 149px,#f25e42 0 150px,#ef7759 0 152px,#ee8b6e 0 154px,#ed9d85 0 155px,#ef7759 0 157px,#fa492e 0 160px,#f06c4f 0 162px,#fa492e 0 163px,#ee8163 0 167px,#ff341c 0 170px,#ef7759 0 172px,#ee8163 0 173px,#f25e42 0 176px,#ee8b6e 0 178px,#ee8163 0 180px,#ee8b6e 0 181px,#f0bda7 0 183px,#ee8b6e 0 184px,#ee8163 0 186px,#ef7759 0 189px,#eea790 0 191px,#efb29b 0 193px,#ef7759 0 194px,#ee8b6e 0 196px,#ee8163 0 197px,#ed9479 0 199px,#f25e42 0 201px,#f06c4f 0 202px,#ee8b6e 0 204px,#ed9479 0 205px,#ef7759 0 207px,#ee8163 0 209px,#eea790 0 210px,#ee8163 0 212px,#ef7759 0 214px,#ed9d85 0 215px,#ee8b6e 0 217px,#ee8163 0 218px,#fa492e 0 220px,#ef7759 0 222px,#ed9d85 0 223px,#ee8b6e 0 227px,#f06c4f 0 228px,#ff341c 0 230px,#f06c4f 0)"></div><div style="left:1328.2px;top:889px;width:33.8px;height:233px;background:linear-gradient(#ee8b6e 0 2px,#ed9479 0 3px,#efb29b 0 5px,#f1c9b6 0 6px,#f0bda7 0 10px,#f1c9b6 0 11px,#efb29b 0 13px,#ee8b6e 0 15px,#ed9d85 0 16px,#eea790 0 18px,#f0bda7 0 19px,#ed9d85 0 23px,#ef7759 0 26px,#ee8163 0 36px,#ee8b6e 0 37px,#ed9d85 0 39px,#ed9479 0 40px,#ed9d85 0 42px,#ed9479 0 44px,#eea790 0 45px,#ed9d85 0 47px,#eea790 0 49px,#f0bda7 0 50px,#f4e2d7 0 52px,#f0bda7 0 53px,#f4e2d7 0 55px,#f3d6c6 0 57px,#f1c9b6 0 58px,#f0bda7 0 60px,#ed9d85 0 61px,#ee8163 0 63px,#eea790 0 65px,#f3d6c6 0 68px,#f1c9b6 0 70px,#eea790 0 71px,#ed9d85 0 73px,#ee8b6e 0 74px,#eea790 0 76px,#f0bda7 0 78px,#efb29b 0 79px,#f0bda7 0 81px,#eea790 0 83px,#ef7759 0 84px,#ee8b6e 0 89px,#ee8163 0 91px,#ed9479 0 95px,#efb29b 0 97px,#ed9d85 0 100px,#ee8163 0 102px,#f25e42 0 104px,#ee8163 0 105px,#ee8b6e 0 107px,#f06c4f 0 110px,#ee8b6e 0 112px,#eea790 0 113px,#ed9d85 0 115px,#ef7759 0 116px,#fa492e 0 120px,#f25e42 0 121px,#f06c4f 0 123px,#ef7759 0 125px,#ee8163 0 126px,#f25e42 0 128px,#ff341c 0 129px,#fa492e 0 131px,#ff341c 0 133px,#f25e42 0 134px,#f06c4f 0 136px,#ee8b6e 0 139px,#ff341c 0 141px,#f25e42 0 142px,#fa492e 0 146px,#ff341c 0 147px,#ed9d85 0 149px,#ee8163 0 150px,#ed9d85 0 154px,#ee8b6e 0 155px,#f25e42 0 157px,#ff2010 0 159px,#f06c4f 0 162px,#f25e42 0 163px,#ef7759 0 165px,#f25e42 0 167px,#ff341c 0 168px,#f06c4f 0 170px,#ef7759 0 172px,#f25e42 0 173px,#ef7759 0 175px,#eea790 0 176px,#bb9dff 0 178px,#ee8163 0 180px,#ed9479 0 181px,#f1c9b6 0 183px,#efb29b 0 184px,#ed9479 0 188px,#eea790 0 189px,#ed9479 0 191px,#ee8b6e 0 193px,#ed9479 0 194px,#eea790 0 196px,#ed9d85 0 197px,#eea790 0 199px,#ed9479 0 201px,#ee8163 0 202px,#ee8b6e 0 204px,#ee8163 0 207px,#ee8b6e 0 209px,#efb29b 0 210px,#f25e42 0 212px,#ff341c 0 214px,#ef7759 0 215px,#ed9479 0 217px,#f06c4f 0 218px,#f25e42 0 220px,#ef7759 0 222px,#ed9d85 0 223px,#ed9479 0 225px,#ed9d85 0 227px,#fa492e 0 228px,#ff2010 0 231px,#f25e42 0)"></div><div style="left:1628.7px;top:618px;width:34.2px;height:148px;background:linear-gradient(#ee8b6e 0 2px,#ee8163 0 3px,#eea790 0 8px,#f1c9b6 0 10px,#efb29b 0 12px,#eea790 0 13px,#efb29b 0 15px,#f1c9b6 0 16px,#efb29b 0 20px,#f3d6c6 0 21px,#ed9d85 0 23px,#efb29b 0 25px,#ee8163 0 26px,#ed9d85 0 28px,#efb29b 0 30px,#eea790 0 31px,#f0bda7 0 33px,#f4e2d7 0 35px,#f0bda7 0 36px,#eea790 0 38px,#efb29b 0 39px,#ee8b6e 0 41px,#ed9d85 0 43px,#eea790 0 48px,#ee8163 0 49px,#ed9479 0 51px,#fa492e 0 53px,#ff2010 0 56px,#fa492e 0 58px,#ef7759 0 61px,#ee8b6e 0 62px,#ed9d85 0 64px,#eea790 0 66px,#ef7759 0 69px,#efb29b 0 71px,#eea790 0 72px,#f1c9b6 0 74px,#ed9479 0 76px,#eea790 0 77px,#ee8b6e 0 79px,#ee8163 0 81px,#ee8b6e 0 82px,#eea790 0 84px,#efb29b 0 86px,#f0bda7 0 87px,#ed9479 0 89px,#ee8163 0 90px,#f0bda7 0 92px,#f3d6c6 0 94px,#eea790 0 95px,#ee8163 0 97px,#ed9479 0 99px,#ef7759 0 100px,#ed9479 0 105px,#ef7759 0 107px,#ee8163 0 109px,#eea790 0 110px,#ed9d85 0 113px,#ee8b6e 0 117px,#ee8163 0 118px,#ed9479 0 120px,#ee8163 0 122px,#ed9479 0 123px,#ee8163 0 125px,#efb29b 0 127px,#eea790 0 128px,#ed9479 0 130px,#efb29b 0 132px,#eea790 0 133px,#ed9d85 0 135px,#ed9479 0 136px,#ee8163 0 138px,#eea790 0 140px,#ed9d85 0 141px,#eea790 0 143px,#efb29b 0 145px,#f3d6c6 0 146px,#f4e2d7 0)"></div><div style="left:1662.5px;top:618px;width:34.2px;height:148px;background:linear-gradient(#ee8163 0 2px,#ed9479 0 3px,#ee8b6e 0 5px,#efb29b 0 7px,#ee8163 0 8px,#f3d6c6 0 10px,#f0bda7 0 12px,#efb29b 0 13px,#f8ece5 0 15px,#eea790 0 16px,#f1c9b6 0 18px,#f3d6c6 0 20px,#f4e2d7 0 21px,#f0bda7 0 25px,#efb29b 0 26px,#eea790 0 28px,#f1c9b6 0 30px,#ed9d85 0 31px,#f0bda7 0 35px,#eea790 0 36px,#ed9479 0 38px,#ee8163 0 41px,#ee8b6e 0 43px,#ed9479 0 44px,#eea790 0 46px,#f0bda7 0 48px,#eea790 0 49px,#ed9d85 0 51px,#ef7759 0 53px,#f06c4f 0 54px,#fa492e 0 56px,#ed9479 0 58px,#ee8b6e 0 59px,#ed9d85 0 61px,#f3d6c6 0 62px,#f0bda7 0 64px,#ed9d85 0 66px,#eea790 0 67px,#f1c9b6 0 69px,#ed9479 0 71px,#efb29b 0 72px,#ed9479 0 76px,#ee8b6e 0 77px,#ed9479 0 79px,#eea790 0 81px,#ee8b6e 0 82px,#f06c4f 0 84px,#ed9d85 0 86px,#ee8b6e 0 87px,#ed9d85 0 89px,#ee8b6e 0 90px,#eea790 0 92px,#f0bda7 0 94px,#f5f2ff 0 95px,#f4e2d7 0 97px,#f1c9b6 0 99px,#eea790 0 100px,#f4e2d7 0 102px,#fbf6f2 0 104px,#f0bda7 0 107px,#ed9479 0 113px,#eea790 0 115px,#ee8b6e 0 117px,#ee8163 0 118px,#ed9479 0 120px,#ed9d85 0 122px,#f0bda7 0 125px,#efb29b 0 127px,#f0bda7 0 128px,#ee8b6e 0 130px,#ed9d85 0 132px,#f3d6c6 0 136px,#fa492e 0 138px,#ff2010 0 141px,#ed9d85 0 143px,#efb29b 0 145px,#f3d6c6 0 146px,#efb29b 0)"></div><div style="left:1696.4px;top:618px;width:33.8px;height:148px;background:linear-gradient(#eea790 0 5px,#f0bda7 0 7px,#ed9479 0 8px,#ed9d85 0 10px,#f1c9b6 0 12px,#efb29b 0 13px,#cebbff 0 15px,#f1c9b6 0 16px,#d8c9ff 0 18px,#b38fff 0 20px,#a074ff 0 21px,#c4acff 0 23px,#efb29b 0 25px,#ed9479 0 26px,#f06c4f 0 28px,#ee8163 0 30px,#ed9d85 0 31px,#f0bda7 0 33px,#ed9d85 0 35px,#f1c9b6 0 36px,#f0bda7 0 38px,#efb29b 0 39px,#eea790 0 41px,#f25e42 0 43px,#ee8163 0 44px,#efb29b 0 46px,#f06c4f 0 48px,#ff341c 0 51px,#ef7759 0 53px,#f06c4f 0 58px,#ef7759 0 59px,#f06c4f 0 61px,#ff2010 0 62px,#ee8b6e 0 64px,#ed9479 0 66px,#f25e42 0 67px,#ff2010 0 69px,#f0bda7 0 72px,#d8c9ff 0 74px,#efb29b 0 76px,#ed9479 0 79px,#ee8163 0 81px,#fa492e 0 82px,#ff2010 0 84px,#ff341c 0 86px,#ff2010 0 89px,#ed9d85 0 92px,#ef7759 0 94px,#f0bda7 0 95px,#ed9d85 0 97px,#f0bda7 0 99px,#f4e2d7 0 100px,#e2d8ff 0 102px,#f0bda7 0 105px,#ed9479 0 107px,#f0bda7 0 109px,#ff2010 0 110px,#ed9479 0 112px,#f25e42 0 113px,#fa492e 0 115px,#f06c4f 0 118px,#ed9479 0 120px,#ee8b6e 0 122px,#efb29b 0 123px,#e2d8ff 0 125px,#eea790 0 127px,#ef7759 0 128px,#fa492e 0 130px,#ff2010 0 132px,#f1c9b6 0 133px,#bb9dff 0 135px,#efb29b 0 136px,#ed9d85 0 138px,#eea790 0 140px,#ed9479 0 143px,#f1c9b6 0 145px,#f0bda7 0 146px,#ee8163 0)"></div><div style="left:1742.2px;top:618px;width:34.2px;height:148px;background:linear-gradient(#ee8163 0 2px,#eea790 0 3px,#f3d6c6 0 5px,#ee8b6e 0 7px,#f06c4f 0 8px,#ee8b6e 0 10px,#ed9d85 0 12px,#ff2010 0 13px,#eea790 0 15px,#ee8163 0 16px,#f0bda7 0 18px,#e2d8ff 0 20px,#f3d6c6 0 21px,#efb29b 0 25px,#ed9d85 0 26px,#f3d6c6 0 28px,#ee8b6e 0 30px,#f1c9b6 0 31px,#efb29b 0 33px,#f1c9b6 0 36px,#eea790 0 38px,#d8c9ff 0 39px,#a074ff 0 41px,#f4e2d7 0 43px,#f3d6c6 0 44px,#efb29b 0 46px,#1400ff 0 49px,#652eff 0 51px,#7d41ff 0 53px,#1400ff 0 58px,#f1c9b6 0 59px,#bb9dff 0 64px,#9668ff 0 66px,#aa80ff 0 67px,#9668ff 0 69px,#cebbff 0 72px,#b38fff 0 74px,#efb29b 0 79px,#f0bda7 0 81px,#ed9d85 0 84px,#d8c9ff 0 86px,#e2d8ff 0 87px,#cebbff 0 89px,#bb9dff 0 92px,#cebbff 0 94px,#a074ff 0 95px,#c4acff 0 97px,#f3d6c6 0 99px,#e2d8ff 0 100px,#eea790 0 102px,#ee8b6e 0 104px,#ed9d85 0 105px,#ee8b6e 0 107px,#f3d6c6 0 109px,#bb9dff 0 110px,#d8c9ff 0 112px,#f0bda7 0 113px,#ee8b6e 0 115px,#f0bda7 0 117px,#ee8b6e 0 118px,#ee8163 0 120px,#fa492e 0 122px,#ff341c 0 123px,#f06c4f 0 127px,#ee8163 0 128px,#ee8b6e 0 130px,#f1c9b6 0 132px,#f3d6c6 0 133px,#ed9479 0 136px,#eea790 0 138px,#f1c9b6 0 140px,#eea790 0 141px,#efb29b 0 143px,#f1c9b6 0 145px,#f4e2d7 0 146px,#ed9d85 0)"></div><div style="left:1776px;top:618px;width:34.2px;height:148px;background:linear-gradient(#efb29b 0 2px,#ef7759 0 3px,#eea790 0 5px,#f3d6c6 0 7px,#f4e2d7 0 8px,#eea790 0 10px,#d8c9ff 0 12px,#1400ff 0 13px,#aa80ff 0 15px,#c4acff 0 16px,#e2d8ff 0 18px,#efb29b 0 20px,#f4e2d7 0 23px,#f0bda7 0 25px,#efb29b 0 26px,#d8c9ff 0 28px,#f1c9b6 0 30px,#f0bda7 0 31px,#ee8b6e 0 33px,#f1c9b6 0 36px,#f0bda7 0 38px,#bb9dff 0 39px,#d8c9ff 0 41px,#ed9d85 0 43px,#c4acff 0 44px,#f1c9b6 0 46px,#cebbff 0 48px,#bb9dff 0 49px,#a074ff 0 51px,#b38fff 0 53px,#aa80ff 0 54px,#f3d6c6 0 56px,#9668ff 0 58px,#d8c9ff 0 59px,#b38fff 0 61px,#cebbff 0 62px,#a074ff 0 64px,#bb9dff 0 66px,#b38fff 0 67px,#e2d8ff 0 69px,#f1c9b6 0 71px,#efb29b 0 72px,#e2d8ff 0 74px,#f0bda7 0 77px,#f1c9b6 0 79px,#9668ff 0 81px,#c4acff 0 82px,#9668ff 0 84px,#8c5cff 0 86px,#f4e2d7 0 87px,#f1c9b6 0 89px,#c4acff 0 90px,#f4e2d7 0 92px,#ed9d85 0 94px,#e2d8ff 0 95px,#a074ff 0 99px,#f1c9b6 0 100px,#ed9479 0 102px,#ee8163 0 104px,#fa492e 0 105px,#ed9479 0 107px,#f0bda7 0 109px,#f4e2d7 0 110px,#f3d6c6 0 113px,#cebbff 0 115px,#ed9d85 0 117px,#ff2010 0 118px,#f06c4f 0 120px,#ed9d85 0 123px,#f1c9b6 0 125px,#f4e2d7 0 127px,#d8c9ff 0 128px,#ee8b6e 0 130px,#f0bda7 0 132px,#efb29b 0 133px,#f0bda7 0 135px,#efb29b 0 136px,#e2d8ff 0 138px,#f4e2d7 0 140px,#e2d8ff 0 141px,#f0bda7 0 143px,#b38fff 0 145px,#aa80ff 0 146px,#c4acff 0)"></div><div style="left:1809.9px;top:618px;width:33.8px;height:148px;background:linear-gradient(#f25e42 0 2px,#f06c4f 0 3px,#ed9479 0 5px,#f0bda7 0 7px,#d8c9ff 0 8px,#f4e2d7 0 10px,#d8c9ff 0 12px,#a074ff 0 13px,#854fff 0 15px,#e2d8ff 0 16px,#d8c9ff 0 18px,#bb9dff 0 20px,#cebbff 0 21px,#a074ff 0 23px,#c4acff 0 25px,#efb29b 0 26px,#ee8b6e 0 28px,#efb29b 0 31px,#f1c9b6 0 33px,#c4acff 0 35px,#b38fff 0 36px,#bb9dff 0 38px,#cebbff 0 39px,#f4e2d7 0 41px,#d8c9ff 0 43px,#a074ff 0 44px,#cebbff 0 46px,#a074ff 0 48px,#c4acff 0 49px,#eea790 0 51px,#efb29b 0 53px,#f0bda7 0 54px,#e2d8ff 0 56px,#c4acff 0 58px,#f4e2d7 0 59px,#bb9dff 0 62px,#d8c9ff 0 64px,#b38fff 0 66px,#cebbff 0 67px,#652eff 0 69px,#bb9dff 0 71px,#f0bda7 0 72px,#a074ff 0 74px,#cebbff 0 76px,#d8c9ff 0 77px,#c4acff 0 79px,#b38fff 0 81px,#9668ff 0 82px,#bb9dff 0 84px,#aa80ff 0 86px,#b38fff 0 87px,#8c5cff 0 90px,#a074ff 0 92px,#9668ff 0 95px,#e2d8ff 0 97px,#ece5ff 0 99px,#d8c9ff 0 100px,#f3d6c6 0 102px,#d8c9ff 0 104px,#ee8b6e 0 105px,#cebbff 0 107px,#f3d6c6 0 109px,#b38fff 0 110px,#aa80ff 0 112px,#f1c9b6 0 113px,#f3d6c6 0 115px,#eea790 0 117px,#ed9d85 0 118px,#f25e42 0 120px,#ed9479 0 122px,#eea790 0 125px,#fa492e 0 127px,#eea790 0 128px,#f3d6c6 0 130px,#1400ff 0 135px,#652eff 0 136px,#280bff 0 138px,#1400ff 0 140px,#280bff 0 141px,#f1c9b6 0 143px,#f4e2d7 0 145px,#cebbff 0 146px,#d8c9ff 0)"></div><div style="left:1855.7px;top:618px;width:34.2px;height:148px;background:linear-gradient(#eea790 0 2px,#f3d6c6 0 3px,#eea790 0 5px,#e2d8ff 0 7px,#eea790 0 8px,#f1c9b6 0 10px,#ed9479 0 12px,#efb29b 0 13px,#bb9dff 0 15px,#f4e2d7 0 16px,#b38fff 0 18px,#9668ff 0 20px,#c4acff 0 21px,#ef7759 0 23px,#f4e2d7 0 26px,#cebbff 0 28px,#e2d8ff 0 30px,#c4acff 0 31px,#f3d6c6 0 33px,#a074ff 0 36px,#cebbff 0 38px,#efb29b 0 39px,#f3d6c6 0 41px,#652eff 0 43px,#1400ff 0 46px,#d8c9ff 0 48px,#f06c4f 0 53px,#ee8b6e 0 54px,#f4e2d7 0 56px,#efb29b 0 58px,#ed9479 0 59px,#f06c4f 0 61px,#f25e42 0 62px,#ef7759 0 64px,#eea790 0 66px,#ef7759 0 67px,#ff2010 0 69px,#f0bda7 0 71px,#cebbff 0 72px,#c4acff 0 74px,#f4e2d7 0 76px,#f3d6c6 0 77px,#f1c9b6 0 79px,#c4acff 0 81px,#ed9d85 0 82px,#ee8b6e 0 84px,#f1c9b6 0 86px,#d8c9ff 0 89px,#bb9dff 0 90px,#efb29b 0 92px,#aa80ff 0 94px,#a074ff 0 95px,#8c5cff 0 97px,#d8c9ff 0 99px,#bb9dff 0 100px,#b38fff 0 102px,#cebbff 0 104px,#f0bda7 0 105px,#f4e2d7 0 107px,#f0bda7 0 110px,#cebbff 0 112px,#d8c9ff 0 113px,#eea790 0 115px,#f3d6c6 0 118px,#f0bda7 0 120px,#f1c9b6 0 122px,#ed9d85 0 123px,#ee8b6e 0 125px,#ed9d85 0 127px,#ed9479 0 128px,#ff2010 0 130px,#f25e42 0 132px,#f06c4f 0 133px,#f1c9b6 0 136px,#eea790 0 138px,#ed9d85 0 140px,#ee8b6e 0 141px,#f25e42 0 143px,#efb29b 0 145px,#ed9479 0)"></div><div style="left:1889.5px;top:618px;width:34.2px;height:148px;background:linear-gradient(#f3d6c6 0 2px,#f1c9b6 0 3px,#ed9479 0 5px,#ed9d85 0 8px,#f3d6c6 0 10px,#f4e2d7 0 12px,#e2d8ff 0 13px,#cebbff 0 15px,#f1c9b6 0 16px,#a074ff 0 18px,#b38fff 0 23px,#bb9dff 0 25px,#c4acff 0 26px,#aa80ff 0 30px,#bb9dff 0 33px,#d8c9ff 0 35px,#e2d8ff 0 38px,#ed9d85 0 39px,#efb29b 0 41px,#cebbff 0 43px,#c4acff 0 44px,#aa80ff 0 46px,#f4e2d7 0 48px,#d8c9ff 0 49px,#f4e2d7 0 51px,#d8c9ff 0 53px,#eea790 0 54px,#e2d8ff 0 56px,#f4e2d7 0 58px,#d8c9ff 0 59px,#f3d6c6 0 61px,#d8c9ff 0 62px,#f1c9b6 0 64px,#f3d6c6 0 66px,#f4e2d7 0 69px,#d8c9ff 0 71px,#bb9dff 0 72px,#aa80ff 0 74px,#b38fff 0 76px,#aa80ff 0 77px,#f4e2d7 0 79px,#b38fff 0 81px,#d8c9ff 0 82px,#ed9d85 0 84px,#e2d8ff 0 86px,#f8ece5 0 87px,#c4acff 0 89px,#d8c9ff 0 90px,#ed9d85 0 94px,#bb9dff 0 95px,#cebbff 0 97px,#f3d6c6 0 99px,#ed9d85 0 100px,#eea790 0 102px,#f0bda7 0 104px,#c4acff 0 105px,#bb9dff 0 107px,#b38fff 0 109px,#bb9dff 0 110px,#f4e2d7 0 112px,#f3d6c6 0 113px,#f4e2d7 0 115px,#e2d8ff 0 117px,#efb29b 0 118px,#f1c9b6 0 120px,#1400ff 0 127px,#efb29b 0 128px,#ee8163 0 130px,#ed9d85 0 132px,#f4e2d7 0 135px,#ed9d85 0 136px,#d8c9ff 0 138px,#1400ff 0 140px,#aa80ff 0 141px,#a074ff 0 143px,#c4acff 0 145px,#f4e2d7 0 146px,#c4acff 0)"></div><div style="left:1923.4px;top:618px;width:33.8px;height:148px;background:linear-gradient(#1400ff 0 2px,#280bff 0 3px,#1400ff 0 7px,#eea790 0 8px,#f1c9b6 0 10px,#f0bda7 0 12px,#efb29b 0 13px,#f0bda7 0 15px,#e2d8ff 0 16px,#b38fff 0 18px,#1400ff 0 20px,#652eff 0 21px,#aa80ff 0 23px,#f1c9b6 0 25px,#efb29b 0 26px,#e2d8ff 0 28px,#f0bda7 0 30px,#ed9479 0 31px,#ed9d85 0 33px,#efb29b 0 35px,#ed9d85 0 36px,#cebbff 0 38px,#f4e2d7 0 39px,#e2d8ff 0 41px,#ed9479 0 43px,#efb29b 0 44px,#ed9479 0 46px,#ee8163 0 48px,#eea790 0 49px,#f1c9b6 0 51px,#f3d6c6 0 53px,#ee8b6e 0 56px,#cebbff 0 58px,#eea790 0 59px,#ef7759 0 62px,#f06c4f 0 64px,#ee8b6e 0 67px,#ed9d85 0 69px,#efb29b 0 71px,#d8c9ff 0 72px,#cebbff 0 74px,#f1c9b6 0 76px,#f4e2d7 0 77px,#efb29b 0 79px,#f1c9b6 0 82px,#efb29b 0 84px,#f0bda7 0 86px,#f1c9b6 0 87px,#a074ff 0 89px,#f4e2d7 0 90px,#ef7759 0 92px,#ed9479 0 94px,#f1c9b6 0 95px,#cebbff 0 97px,#e2d8ff 0 99px,#f4e2d7 0 100px,#efb29b 0 102px,#d8c9ff 0 104px,#f3d6c6 0 105px,#f4e2d7 0 107px,#f3d6c6 0 109px,#cebbff 0 112px,#b38fff 0 113px,#bb9dff 0 115px,#b38fff 0 117px,#cebbff 0 118px,#f3d6c6 0 120px,#f1c9b6 0 122px,#f0bda7 0 123px,#f4e2d7 0 125px,#e2d8ff 0 127px,#eea790 0 128px,#ef7759 0 130px,#ee8163 0 132px,#ee8b6e 0 133px,#efb29b 0 135px,#f4e2d7 0 136px,#c4acff 0 138px,#a074ff 0 140px,#9668ff 0 141px,#f4e2d7 0 143px,#c4acff 0 145px,#cebbff 0 146px,#f1c9b6 0)"></div><div style="left:1969.2px;top:618px;width:34.2px;height:148px;background:linear-gradient(#d8c9ff 0 2px,#aa80ff 0 3px,#c4acff 0 5px,#d8c9ff 0 7px,#8c5cff 0 10px,#c4acff 0 12px,#8c5cff 0 13px,#1400ff 0 15px,#280bff 0 16px,#1400ff 0 21px,#8c5cff 0 23px,#c4acff 0 25px,#e2d8ff 0 26px,#f4e2d7 0 28px,#9668ff 0 30px,#1400ff 0 31px,#a074ff 0 35px,#d8c9ff 0 36px,#f3d6c6 0 38px,#ed9d85 0 39px,#ee8b6e 0 41px,#ef7759 0 43px,#f1c9b6 0 44px,#ff2010 0 46px,#c4acff 0 48px,#652eff 0 51px,#cebbff 0 53px,#d8c9ff 0 54px,#c4acff 0 56px,#bb9dff 0 58px,#b38fff 0 59px,#e2d8ff 0 61px,#f1c9b6 0 62px,#aa80ff 0 64px,#b38fff 0 66px,#ed9d85 0 67px,#ed9479 0 71px,#c4acff 0 72px,#aa80ff 0 74px,#e2d8ff 0 76px,#d8c9ff 0 77px,#cebbff 0 79px,#aa80ff 0 81px,#bb9dff 0 82px,#f1c9b6 0 84px,#f3d6c6 0 86px,#d8c9ff 0 87px,#f3d6c6 0 89px,#b38fff 0 90px,#c4acff 0 92px,#efb29b 0 94px,#f4e2d7 0 95px,#eea790 0 99px,#f1c9b6 0 100px,#d8c9ff 0 102px,#f4e2d7 0 104px,#e2d8ff 0 105px,#cebbff 0 107px,#f3d6c6 0 109px,#f1c9b6 0 110px,#d8c9ff 0 112px,#9668ff 0 113px,#280bff 0 115px,#1400ff 0 117px,#b38fff 0 118px,#bb9dff 0 120px,#aa80ff 0 122px,#8c5cff 0 123px,#bb9dff 0 125px,#9668ff 0 127px,#bb9dff 0 128px,#cebbff 0 130px,#d8c9ff 0 132px,#b38fff 0 133px,#f0bda7 0 135px,#eea790 0 136px,#ed9479 0 138px,#f4e2d7 0 140px,#c4acff 0 141px,#efb29b 0 143px,#f0bda7 0 145px,#cebbff 0)"></div><div style="left:2003px;top:618px;width:34.2px;height:148px;background:linear-gradient(#efb29b 0 2px,#bb9dff 0 3px,#652eff 0 5px,#8c5cff 0 7px,#a074ff 0 8px,#7d41ff 0 10px,#854fff 0 12px,#1400ff 0 21px,#8c5cff 0 23px,#9668ff 0 25px,#bb9dff 0 26px,#a074ff 0 28px,#9668ff 0 30px,#b38fff 0 31px,#cebbff 0 33px,#8c5cff 0 35px,#652eff 0 36px,#b38fff 0 38px,#f4e2d7 0 41px,#b38fff 0 44px,#bb9dff 0 46px,#c4acff 0 48px,#b38fff 0 49px,#cebbff 0 51px,#9668ff 0 53px,#f4e2d7 0 56px,#aa80ff 0 58px,#f1c9b6 0 59px,#d8c9ff 0 61px,#a074ff 0 62px,#bb9dff 0 64px,#aa80ff 0 66px,#f3d6c6 0 67px,#f4e2d7 0 69px,#cebbff 0 72px,#aa80ff 0 76px,#9668ff 0 77px,#c4acff 0 79px,#aa80ff 0 81px,#a074ff 0 82px,#bb9dff 0 84px,#aa80ff 0 86px,#bb9dff 0 87px,#b38fff 0 89px,#854fff 0 90px,#8c5cff 0 92px,#7d41ff 0 94px,#854fff 0 95px,#652eff 0 97px,#854fff 0 99px,#c4acff 0 100px,#d8c9ff 0 102px,#f3d6c6 0 104px,#efb29b 0 105px,#c4acff 0 107px,#652eff 0 109px,#bb9dff 0 110px,#c4acff 0 112px,#b38fff 0 113px,#c4acff 0 115px,#aa80ff 0 118px,#b38fff 0 120px,#8c5cff 0 122px,#e2d8ff 0 123px,#f0bda7 0 125px,#854fff 0 127px,#7d41ff 0 128px,#854fff 0 130px,#8c5cff 0 133px,#7d41ff 0 135px,#854fff 0 138px,#652eff 0 141px,#b38fff 0 143px,#9668ff 0 145px,#b38fff 0 146px,#8c5cff 0)"></div><div style="left:2036.9px;top:618px;width:33.8px;height:148px;background:linear-gradient(#c4acff 0 2px,#bb9dff 0 3px,#b38fff 0 5px,#8c5cff 0 7px,#e2d8ff 0 8px,#a074ff 0 10px,#cebbff 0 12px,#aa80ff 0 13px,#1400ff 0 15px,#7d41ff 0 18px,#280bff 0 20px,#1400ff 0 21px,#aa80ff 0 23px,#652eff 0 26px,#854fff 0 28px,#cebbff 0 30px,#c4acff 0 31px,#aa80ff 0 33px,#7d41ff 0 35px,#e2d8ff 0 36px,#f1c9b6 0 38px,#f3d6c6 0 39px,#f1c9b6 0 41px,#ed9d85 0 43px,#280bff 0 44px,#9668ff 0 46px,#aa80ff 0 48px,#cebbff 0 49px,#b38fff 0 51px,#c4acff 0 53px,#b38fff 0 54px,#cebbff 0 56px,#a074ff 0 58px,#f4e2d7 0 59px,#aa80ff 0 61px,#7d41ff 0 62px,#280bff 0 64px,#8c5cff 0 66px,#f3d6c6 0 67px,#f4e2d7 0 69px,#b38fff 0 71px,#aa80ff 0 72px,#d8c9ff 0 74px,#854fff 0 76px,#a074ff 0 77px,#bb9dff 0 79px,#f1c9b6 0 81px,#a074ff 0 82px,#cebbff 0 84px,#f4e2d7 0 86px,#cebbff 0 87px,#bb9dff 0 89px,#f3d6c6 0 90px,#b38fff 0 92px,#c4acff 0 94px,#aa80ff 0 95px,#b38fff 0 97px,#cebbff 0 100px,#c4acff 0 104px,#d8c9ff 0 105px,#f0bda7 0 107px,#d8c9ff 0 109px,#cebbff 0 110px,#f3d6c6 0 112px,#b38fff 0 113px,#854fff 0 115px,#b38fff 0 117px,#652eff 0 118px,#7d41ff 0 123px,#bb9dff 0 125px,#aa80ff 0 127px,#efb29b 0 128px,#f0bda7 0 130px,#e2d8ff 0 132px,#bb9dff 0 133px,#cebbff 0 135px,#e2d8ff 0 136px,#ff341c 0 138px,#f4e2d7 0 140px,#e2d8ff 0 141px,#f0bda7 0 143px,#f3d6c6 0 145px,#d8c9ff 0 146px,#eea790 0)"></div><div style="left:1628.7px;top:801px;width:34.2px;height:321.5px;background:linear-gradient(#c4acff 0 2px,#a074ff 0 3px,#cebbff 0 5px,#f3d6c6 0 7px,#cebbff 0 10px,#f1c9b6 0 11px,#f4e2d7 0 13px,#aa80ff 0 15px,#bb9dff 0 16px,#efb29b 0 18px,#a074ff 0 20px,#652eff 0 21px,#aa80ff 0 23px,#280bff 0 25px,#cebbff 0 26px,#efb29b 0 28px,#eea790 0 30px,#f1c9b6 0 34px,#f3d6c6 0 36px,#bb9dff 0 38px,#aa80ff 0 39px,#b38fff 0 41px,#d8c9ff 0 43px,#1400ff 0 46px,#652eff 0 51px,#280bff 0 52px,#652eff 0 56px,#854fff 0 57px,#7d41ff 0 59px,#652eff 0 62px,#854fff 0 66px,#1400ff 0 67px,#7d41ff 0 69px,#1400ff 0 72px,#7d41ff 0 74px,#652eff 0 75px,#b38fff 0 77px,#aa80ff 0 79px,#f8ece5 0 80px,#f0bda7 0 82px,#f8ece5 0 84px,#f4e2d7 0 85px,#ffffff 0 87px,#9668ff 0 90px,#280bff 0 92px,#1400ff 0 95px,#280bff 0 97px,#1400ff 0 98px,#854fff 0 100px,#9668ff 0 102px,#aa80ff 0 103px,#a074ff 0 105px,#aa80ff 0 107px,#a074ff 0 108px,#8c5cff 0 110px,#280bff 0 112px,#f4e2d7 0 113px,#f8ece5 0 115px,#f3d6c6 0 116px,#bb9dff 0 118px,#8c5cff 0 121px,#f3d6c6 0 123px,#ffffff 0 125px,#f4e2d7 0 126px,#f0bda7 0 128px,#fbf6f2 0 130px,#b38fff 0 131px,#a074ff 0 133px,#aa80ff 0 136px,#fbf6f2 0 138px,#854fff 0 139px,#9668ff 0 143px,#f8ece5 0 144px,#bb9dff 0 146px,#fbf6f2 0 148px,#ffffff 0 149px,#f8ece5 0 151px,#b38fff 0 154px,#8c5cff 0 156px,#1400ff 0 161px,#a074ff 0 162px,#ffffff 0 164px,#f4e2d7 0 166px,#f8ece5 0 167px,#aa80ff 0 169px,#ffffff 0 171px,#f5f2ff 0 172px,#b38fff 0 174px,#aa80ff 0 176px,#b38fff 0 177px,#9668ff 0 179px,#b38fff 0 180px,#f3d6c6 0 182px,#ee8163 0 184px,#ef7759 0 185px,#ee8163 0 187px,#f5f2ff 0 189px,#b38fff 0 190px,#ed9d85 0 192px,#ece5ff 0 197px,#fbf6f2 0 198px,#d8c9ff 0 200px,#aa80ff 0 202px,#a074ff 0 203px,#9668ff 0 205px,#c4acff 0 207px,#bb9dff 0 208px,#eea790 0 210px,#fbf6f2 0 212px,#b38fff 0 213px,#bb9dff 0 215px,#ece5ff 0 217px,#f5f2ff 0 218px,#ece5ff 0 220px,#ed9d85 0 221px,#ee8163 0 223px,#ef7759 0 225px,#ee8b6e 0 226px,#ece5ff 0 228px,#ffffff 0 231px,#fbf6f2 0 235px,#e2d8ff 0 238px,#ed9d85 0 239px,#e2d8ff 0 241px,#ece5ff 0 243px,#ed9479 0 244px,#ece5ff 0 246px,#ee8163 0 248px,#ece5ff 0 249px,#ffffff 0 251px,#eea790 0 253px,#ef7759 0 254px,#ed9d85 0 256px,#f5f2ff 0 258px,#ed9d85 0 259px,#fbf6f2 0 261px,#ff2010 0 262px,#f25e42 0 264px,#ed9479 0 266px,#ef7759 0 267px,#eea790 0 269px,#ed9d85 0 272px,#fbf6f2 0 274px,#eea790 0 276px,#cebbff 0 277px,#a074ff 0 279px,#854fff 0 280px,#c4acff 0 282px,#ffffff 0 284px,#fbf6f2 0 287px,#ffffff 0 289px,#e2d8ff 0 292px,#ffffff 0 294px,#ee8163 0 295px,#ed9479 0 297px,#d8c9ff 0 299px,#a074ff 0 300px,#ffffff 0 302px,#e2d8ff 0 303px,#cebbff 0 305px,#b38fff 0 307px,#bb9dff 0 308px,#ee8b6e 0 310px,#ed9479 0 312px,#bb9dff 0 313px,#7d41ff 0 315px,#9668ff 0 317px,#aa80ff 0 318px,#cebbff 0 320px,#fbf6f2 0)"></div><div style="left:1662.5px;top:801px;width:34.2px;height:321.5px;background:linear-gradient(#cebbff 0 3px,#aa80ff 0 5px,#bb9dff 0 7px,#cebbff 0 8px,#efb29b 0 10px,#f3d6c6 0 11px,#8c5cff 0 13px,#280bff 0 15px,#a074ff 0 18px,#8c5cff 0 20px,#280bff 0 21px,#9668ff 0 23px,#854fff 0 25px,#c4acff 0 26px,#9668ff 0 28px,#c4acff 0 30px,#bb9dff 0 31px,#cebbff 0 33px,#bb9dff 0 34px,#eea790 0 36px,#aa80ff 0 38px,#b38fff 0 39px,#1400ff 0 43px,#8c5cff 0 44px,#652eff 0 46px,#280bff 0 48px,#a074ff 0 49px,#aa80ff 0 51px,#1400ff 0 54px,#7d41ff 0 56px,#1400ff 0 59px,#aa80ff 0 61px,#bb9dff 0 62px,#eea790 0 64px,#d8c9ff 0 66px,#f3d6c6 0 67px,#7d41ff 0 71px,#1400ff 0 74px,#280bff 0 75px,#efb29b 0 77px,#cebbff 0 79px,#e2d8ff 0 80px,#ed9479 0 82px,#f1c9b6 0 84px,#cebbff 0 85px,#f0bda7 0 87px,#bb9dff 0 89px,#c4acff 0 90px,#a074ff 0 92px,#c4acff 0 93px,#a074ff 0 95px,#aa80ff 0 97px,#bb9dff 0 100px,#7d41ff 0 102px,#b38fff 0 103px,#f0bda7 0 105px,#f1c9b6 0 107px,#b38fff 0 110px,#854fff 0 112px,#b38fff 0 113px,#c4acff 0 116px,#d8c9ff 0 118px,#c4acff 0 120px,#b38fff 0 121px,#8c5cff 0 123px,#aa80ff 0 125px,#b38fff 0 126px,#d8c9ff 0 128px,#f3d6c6 0 130px,#cebbff 0 133px,#b38fff 0 135px,#854fff 0 136px,#c4acff 0 138px,#8c5cff 0 141px,#9668ff 0 143px,#f1c9b6 0 144px,#d8c9ff 0 148px,#c4acff 0 151px,#f4e2d7 0 153px,#d8c9ff 0 154px,#9668ff 0 156px,#8c5cff 0 157px,#7d41ff 0 159px,#d8c9ff 0 161px,#cebbff 0 162px,#d8c9ff 0 164px,#e2d8ff 0 166px,#cebbff 0 167px,#a074ff 0 169px,#9668ff 0 171px,#854fff 0 172px,#bb9dff 0 174px,#a074ff 0 176px,#280bff 0 177px,#7d41ff 0 179px,#9668ff 0 180px,#f1c9b6 0 182px,#ee8163 0 184px,#f5f2ff 0 185px,#ee8163 0 187px,#ed9479 0 189px,#ed9d85 0 190px,#eea790 0 192px,#bb9dff 0 194px,#c4acff 0 195px,#fbf6f2 0 197px,#c4acff 0 198px,#ffffff 0 203px,#e2d8ff 0 205px,#ece5ff 0 207px,#f5f2ff 0 208px,#ece5ff 0 210px,#c4acff 0 212px,#bb9dff 0 213px,#aa80ff 0 215px,#d8c9ff 0 217px,#eea790 0 218px,#ece5ff 0 220px,#cebbff 0 221px,#e2d8ff 0 223px,#efb29b 0 225px,#cebbff 0 228px,#d8c9ff 0 230px,#ffffff 0 231px,#ece5ff 0 233px,#efb29b 0 235px,#eea790 0 236px,#652eff 0 238px,#c4acff 0 239px,#9668ff 0 241px,#ffffff 0 243px,#e2d8ff 0 244px,#aa80ff 0 246px,#ece5ff 0 248px,#cebbff 0 249px,#ed9d85 0 251px,#ee8163 0 253px,#ee8b6e 0 254px,#fbf6f2 0 256px,#ffffff 0 259px,#b38fff 0 261px,#f5f2ff 0 262px,#d8c9ff 0 264px,#f5f2ff 0 266px,#fbf6f2 0 267px,#ee8163 0 269px,#ee8b6e 0 272px,#f5f2ff 0 274px,#ff341c 0 276px,#fbf6f2 0 277px,#d8c9ff 0 279px,#cebbff 0 280px,#b38fff 0 282px,#7d41ff 0 284px,#854fff 0 285px,#c4acff 0 287px,#b38fff 0 289px,#aa80ff 0 290px,#bb9dff 0 292px,#d8c9ff 0 294px,#f5f2ff 0 295px,#eea790 0 297px,#e2d8ff 0 299px,#ece5ff 0 300px,#d8c9ff 0 302px,#cebbff 0 303px,#b38fff 0 305px,#8c5cff 0 308px,#9668ff 0 310px,#cebbff 0 312px,#ffffff 0 313px,#fbf6f2 0 315px,#bb9dff 0 317px,#cebbff 0 318px,#b38fff 0 320px,#d8c9ff 0)"></div><div style="left:1696.4px;top:801px;width:33.8px;height:321.5px;background:linear-gradient(#d8c9ff 0 2px,#ffffff 0 3px,#efb29b 0 5px,#ee8163 0 8px,#f25e42 0 10px,#f06c4f 0 11px,#d8c9ff 0 13px,#e2d8ff 0 15px,#d8c9ff 0 16px,#aa80ff 0 20px,#8c5cff 0 21px,#c4acff 0 23px,#b38fff 0 25px,#ee8b6e 0 26px,#f25e42 0 28px,#efb29b 0 30px,#ed9479 0 31px,#fa492e 0 33px,#ee8b6e 0 34px,#ef7759 0 36px,#f1c9b6 0 38px,#ece5ff 0 39px,#e2d8ff 0 41px,#ed9479 0 43px,#f5f2ff 0 44px,#eea790 0 46px,#ed9d85 0 48px,#ef7759 0 49px,#ed9479 0 51px,#f5f2ff 0 52px,#efb29b 0 54px,#f0bda7 0 56px,#ece5ff 0 57px,#d8c9ff 0 59px,#e2d8ff 0 61px,#eea790 0 64px,#efb29b 0 66px,#ece5ff 0 67px,#ffffff 0 69px,#efb29b 0 71px,#d8c9ff 0 72px,#f0bda7 0 74px,#eea790 0 75px,#efb29b 0 77px,#f5f2ff 0 79px,#efb29b 0 80px,#f3d6c6 0 82px,#eea790 0 84px,#efb29b 0 85px,#eea790 0 87px,#f0bda7 0 89px,#ee8163 0 90px,#efb29b 0 92px,#f0bda7 0 93px,#ed9d85 0 95px,#efb29b 0 97px,#ff2010 0 98px,#ee8b6e 0 100px,#e2d8ff 0 102px,#efb29b 0 103px,#ffffff 0 105px,#f5f2ff 0 107px,#cebbff 0 108px,#d8c9ff 0 110px,#e2d8ff 0 112px,#ffffff 0 113px,#f0bda7 0 115px,#efb29b 0 116px,#ffffff 0 118px,#ef7759 0 120px,#ee8b6e 0 121px,#ef7759 0 123px,#fa492e 0 125px,#f25e42 0 128px,#f06c4f 0 130px,#ece5ff 0 131px,#ed9d85 0 133px,#fa492e 0 136px,#f25e42 0 138px,#f06c4f 0 139px,#eea790 0 141px,#ffffff 0 143px,#d8c9ff 0 144px,#ece5ff 0 146px,#eea790 0 148px,#f25e42 0 151px,#ff341c 0 153px,#ef7759 0 154px,#f5f2ff 0 156px,#c4acff 0 157px,#d8c9ff 0 159px,#eea790 0 161px,#ff341c 0 162px,#fa492e 0 164px,#ff2010 0 166px,#ed9479 0 167px,#f5f2ff 0 169px,#f0bda7 0 171px,#b38fff 0 172px,#ed9d85 0 174px,#f0bda7 0 176px,#ed9479 0 177px,#eea790 0 179px,#efb29b 0 180px,#f1c9b6 0 182px,#f3d6c6 0 184px,#fbf6f2 0 185px,#f5f2ff 0 187px,#ece5ff 0 189px,#c4acff 0 190px,#d8c9ff 0 194px,#1400ff 0 195px,#bb9dff 0 197px,#1400ff 0 198px,#280bff 0 200px,#1400ff 0 205px,#bb9dff 0 207px,#652eff 0 208px,#c4acff 0 212px,#1400ff 0 221px,#652eff 0 223px,#ece5ff 0 225px,#cebbff 0 226px,#bb9dff 0 228px,#1400ff 0 233px,#cebbff 0 235px,#ece5ff 0 236px,#bb9dff 0 238px,#c4acff 0 239px,#bb9dff 0 241px,#cebbff 0 243px,#f5f2ff 0 246px,#1400ff 0 248px,#652eff 0 249px,#1400ff 0 251px,#280bff 0 253px,#1400ff 0 256px,#bb9dff 0 258px,#e2d8ff 0 259px,#c4acff 0 261px,#ece5ff 0 262px,#f4e2d7 0 264px,#fbf6f2 0 266px,#e2d8ff 0 267px,#ece5ff 0 269px,#c4acff 0 271px,#e2d8ff 0 272px,#aa80ff 0 274px,#c4acff 0 276px,#b38fff 0 277px,#1400ff 0 285px,#bb9dff 0 287px,#652eff 0 289px,#1400ff 0 294px,#bb9dff 0 297px,#1400ff 0 299px,#280bff 0 300px,#c4acff 0 303px,#b38fff 0 305px,#1400ff 0 310px,#280bff 0 312px,#1400ff 0 320px,#b38fff 0)"></div><div style="left:1742.2px;top:801px;width:34.2px;height:321.5px;background:linear-gradient(#cebbff 0 2px,#bb9dff 0 3px,#d8c9ff 0 5px,#c4acff 0 7px,#cebbff 0 8px,#f3d6c6 0 10px,#f4e2d7 0 11px,#d8c9ff 0 15px,#cebbff 0 16px,#c4acff 0 18px,#f1c9b6 0 20px,#bb9dff 0 23px,#8c5cff 0 25px,#f1c9b6 0 26px,#e2d8ff 0 28px,#f3d6c6 0 30px,#cebbff 0 31px,#e2d8ff 0 33px,#d8c9ff 0 34px,#f0bda7 0 36px,#b38fff 0 38px,#9668ff 0 39px,#bb9dff 0 41px,#b38fff 0 43px,#c4acff 0 44px,#b38fff 0 46px,#aa80ff 0 48px,#cebbff 0 49px,#eea790 0 52px,#ee8163 0 54px,#f3d6c6 0 56px,#eea790 0 57px,#bb9dff 0 59px,#e2d8ff 0 62px,#ee8163 0 64px,#f0bda7 0 69px,#efb29b 0 71px,#ee8b6e 0 72px,#ef7759 0 74px,#f3d6c6 0 75px,#aa80ff 0 77px,#e2d8ff 0 79px,#bb9dff 0 80px,#e2d8ff 0 82px,#1400ff 0 84px,#854fff 0 87px,#f4e2d7 0 89px,#c4acff 0 92px,#bb9dff 0 93px,#a074ff 0 95px,#b38fff 0 97px,#bb9dff 0 98px,#aa80ff 0 100px,#f4e2d7 0 102px,#d8c9ff 0 103px,#e2d8ff 0 105px,#cebbff 0 108px,#f1c9b6 0 110px,#b38fff 0 112px,#e2d8ff 0 113px,#c4acff 0 115px,#f4e2d7 0 116px,#c4acff 0 118px,#cebbff 0 120px,#eea790 0 121px,#f4e2d7 0 123px,#eea790 0 125px,#1400ff 0 131px,#aa80ff 0 133px,#bb9dff 0 136px,#7d41ff 0 138px,#9668ff 0 139px,#8c5cff 0 143px,#9668ff 0 144px,#aa80ff 0 146px,#d8c9ff 0 148px,#cebbff 0 149px,#a074ff 0 153px,#f3d6c6 0 154px,#f1c9b6 0 156px,#f0bda7 0 157px,#e2d8ff 0 159px,#ee8b6e 0 161px,#efb29b 0 162px,#c4acff 0 164px,#efb29b 0 167px,#cebbff 0 169px,#aa80ff 0 171px,#cebbff 0 172px,#bb9dff 0 174px,#cebbff 0 176px,#d8c9ff 0 177px,#c4acff 0 179px,#aa80ff 0 180px,#bb9dff 0 182px,#f4e2d7 0 185px,#c4acff 0 187px,#d8c9ff 0 190px,#cebbff 0 192px,#efb29b 0 194px,#c4acff 0 195px,#652eff 0 197px,#a074ff 0 198px,#f1c9b6 0 200px,#a074ff 0 202px,#c4acff 0 203px,#a074ff 0 205px,#aa80ff 0 207px,#eea790 0 208px,#ee8b6e 0 210px,#f06c4f 0 212px,#f1c9b6 0 215px,#c4acff 0 217px,#f4e2d7 0 218px,#a074ff 0 220px,#f4e2d7 0 221px,#ed9d85 0 223px,#f3d6c6 0 225px,#f4e2d7 0 226px,#f0bda7 0 228px,#f1c9b6 0 230px,#efb29b 0 231px,#eea790 0 233px,#ee8b6e 0 235px,#ef7759 0 236px,#f1c9b6 0 238px,#f3d6c6 0 239px,#b38fff 0 241px,#f3d6c6 0 243px,#efb29b 0 248px,#bb9dff 0 249px,#c4acff 0 251px,#f4e2d7 0 253px,#f1c9b6 0 254px,#bb9dff 0 256px,#b38fff 0 258px,#c4acff 0 262px,#efb29b 0 264px,#eea790 0 266px,#f0bda7 0 267px,#f1c9b6 0 269px,#f0bda7 0 271px,#f1c9b6 0 272px,#b38fff 0 274px,#f1c9b6 0 276px,#d8c9ff 0 277px,#f3d6c6 0 279px,#f0bda7 0 280px,#d8c9ff 0 282px,#cebbff 0 285px,#a074ff 0 287px,#f3d6c6 0 289px,#d8c9ff 0 290px,#cebbff 0 292px,#f4e2d7 0 294px,#ed9d85 0 297px,#f1c9b6 0 299px,#e2d8ff 0 300px,#ed9d85 0 302px,#efb29b 0 303px,#ff2010 0 305px,#ee8b6e 0 308px,#f06c4f 0 310px,#ed9d85 0 312px,#f1c9b6 0 313px,#ee8163 0 315px,#eea790 0 317px,#f3d6c6 0 318px,#ed9d85 0 320px,#efb29b 0)"></div><div style="left:1776px;top:801px;width:34.2px;height:321.5px;background:linear-gradient(#aa80ff 0 2px,#d8c9ff 0 5px,#f4e2d7 0 7px,#bb9dff 0 10px,#c4acff 0 11px,#a074ff 0 13px,#9668ff 0 15px,#8c5cff 0 16px,#e2d8ff 0 18px,#ed9d85 0 20px,#cebbff 0 21px,#f1c9b6 0 23px,#e2d8ff 0 25px,#f0bda7 0 26px,#ed9d85 0 28px,#f0bda7 0 31px,#cebbff 0 33px,#aa80ff 0 34px,#f0bda7 0 36px,#ed9d85 0 38px,#c4acff 0 39px,#f0bda7 0 41px,#ef7759 0 43px,#f3d6c6 0 44px,#cebbff 0 46px,#efb29b 0 48px,#ef7759 0 49px,#f0bda7 0 51px,#f3d6c6 0 52px,#f25e42 0 54px,#f0bda7 0 56px,#f3d6c6 0 57px,#efb29b 0 59px,#f06c4f 0 61px,#ed9d85 0 62px,#d8c9ff 0 64px,#efb29b 0 66px,#eea790 0 67px,#efb29b 0 69px,#ee8163 0 71px,#eea790 0 72px,#ee8b6e 0 75px,#ff2010 0 77px,#ff341c 0 79px,#ee8163 0 80px,#ed9479 0 82px,#aa80ff 0 84px,#f3d6c6 0 85px,#eea790 0 87px,#ed9d85 0 89px,#e2d8ff 0 90px,#cebbff 0 92px,#ed9d85 0 93px,#ee8163 0 95px,#efb29b 0 97px,#e2d8ff 0 98px,#d8c9ff 0 100px,#e2d8ff 0 102px,#aa80ff 0 103px,#f4e2d7 0 107px,#f3d6c6 0 108px,#d8c9ff 0 110px,#a074ff 0 112px,#f4e2d7 0 115px,#e2d8ff 0 116px,#efb29b 0 118px,#e2d8ff 0 120px,#c4acff 0 121px,#bb9dff 0 123px,#cebbff 0 125px,#aa80ff 0 126px,#cebbff 0 128px,#b38fff 0 130px,#aa80ff 0 131px,#bb9dff 0 133px,#cebbff 0 135px,#aa80ff 0 136px,#854fff 0 138px,#a074ff 0 139px,#280bff 0 141px,#1400ff 0 144px,#c4acff 0 146px,#f4e2d7 0 148px,#d8c9ff 0 149px,#cebbff 0 151px,#f3d6c6 0 154px,#d8c9ff 0 156px,#f0bda7 0 157px,#f25e42 0 159px,#ed9d85 0 161px,#f0bda7 0 164px,#f1c9b6 0 166px,#cebbff 0 167px,#c4acff 0 169px,#b38fff 0 171px,#eea790 0 172px,#f4e2d7 0 174px,#cebbff 0 176px,#b38fff 0 177px,#c4acff 0 179px,#1400ff 0 182px,#280bff 0 184px,#652eff 0 185px,#1400ff 0 189px,#ed9479 0 190px,#eea790 0 192px,#ee8b6e 0 194px,#efb29b 0 195px,#eea790 0 198px,#d8c9ff 0 200px,#e2d8ff 0 202px,#bb9dff 0 203px,#f1c9b6 0 207px,#ed9d85 0 208px,#ef7759 0 210px,#ed9d85 0 212px,#d8c9ff 0 215px,#854fff 0 217px,#aa80ff 0 220px,#e2d8ff 0 221px,#bb9dff 0 223px,#f1c9b6 0 226px,#ed9d85 0 228px,#f1c9b6 0 230px,#efb29b 0 231px,#f1c9b6 0 233px,#c4acff 0 235px,#f3d6c6 0 236px,#e2d8ff 0 238px,#eea790 0 239px,#f1c9b6 0 241px,#f0bda7 0 243px,#f1c9b6 0 244px,#f0bda7 0 246px,#ed9d85 0 248px,#f3d6c6 0 249px,#eea790 0 251px,#d8c9ff 0 253px,#f4e2d7 0 254px,#f3d6c6 0 256px,#efb29b 0 258px,#f1c9b6 0 261px,#f0bda7 0 262px,#ed9479 0 264px,#efb29b 0 266px,#e2d8ff 0 267px,#ece5ff 0 269px,#f3d6c6 0 271px,#f0bda7 0 272px,#7d41ff 0 274px,#f1c9b6 0 276px,#cebbff 0 277px,#e2d8ff 0 279px,#f4e2d7 0 282px,#efb29b 0 284px,#f3d6c6 0 285px,#bb9dff 0 287px,#e2d8ff 0 289px,#eea790 0 290px,#efb29b 0 292px,#eea790 0 294px,#ee8163 0 295px,#f0bda7 0 297px,#f1c9b6 0 299px,#f4e2d7 0 300px,#d8c9ff 0 302px,#f1c9b6 0 303px,#ee8b6e 0 305px,#ee8163 0 307px,#f06c4f 0 308px,#ff2010 0 310px,#ed9479 0 312px,#ed9d85 0 313px,#ef7759 0 315px,#ed9d85 0 317px,#ee8b6e 0 318px,#f4e2d7 0 320px,#f3d6c6 0)"></div><div style="left:1809.9px;top:801px;width:33.8px;height:321.5px;background:linear-gradient(#652eff 0 2px,#9668ff 0 3px,#8c5cff 0 5px,#a074ff 0 7px,#280bff 0 8px,#9668ff 0 10px,#652eff 0 11px,#b38fff 0 13px,#854fff 0 15px,#1400ff 0 16px,#854fff 0 18px,#7d41ff 0 21px,#a074ff 0 23px,#652eff 0 25px,#cebbff 0 26px,#f3d6c6 0 30px,#ed9d85 0 31px,#bb9dff 0 33px,#cebbff 0 34px,#aa80ff 0 36px,#b38fff 0 38px,#d8c9ff 0 39px,#e2d8ff 0 41px,#c4acff 0 43px,#b38fff 0 44px,#c4acff 0 46px,#1400ff 0 48px,#9668ff 0 49px,#cebbff 0 54px,#b38fff 0 56px,#aa80ff 0 57px,#b38fff 0 59px,#aa80ff 0 61px,#a074ff 0 62px,#efb29b 0 64px,#e2d8ff 0 66px,#f3d6c6 0 67px,#f1c9b6 0 69px,#f0bda7 0 71px,#f3d6c6 0 72px,#cebbff 0 74px,#f1c9b6 0 75px,#f3d6c6 0 77px,#efb29b 0 79px,#aa80ff 0 80px,#a074ff 0 82px,#1400ff 0 84px,#280bff 0 85px,#a074ff 0 87px,#c4acff 0 89px,#aa80ff 0 90px,#b38fff 0 92px,#bb9dff 0 93px,#8c5cff 0 95px,#d8c9ff 0 97px,#854fff 0 98px,#8c5cff 0 100px,#9668ff 0 102px,#aa80ff 0 103px,#1400ff 0 105px,#9668ff 0 107px,#aa80ff 0 108px,#9668ff 0 110px,#c4acff 0 112px,#bb9dff 0 113px,#c4acff 0 115px,#d8c9ff 0 116px,#f3d6c6 0 118px,#d8c9ff 0 120px,#bb9dff 0 121px,#a074ff 0 123px,#bb9dff 0 125px,#9668ff 0 126px,#d8c9ff 0 128px,#a074ff 0 130px,#854fff 0 131px,#1400ff 0 135px,#a074ff 0 136px,#c4acff 0 139px,#f5f2ff 0 141px,#9668ff 0 143px,#aa80ff 0 144px,#8c5cff 0 146px,#a074ff 0 148px,#bb9dff 0 151px,#aa80ff 0 153px,#854fff 0 154px,#7d41ff 0 156px,#a074ff 0 157px,#d8c9ff 0 159px,#f3d6c6 0 164px,#f4e2d7 0 166px,#d8c9ff 0 167px,#b38fff 0 169px,#8c5cff 0 171px,#c4acff 0 172px,#d8c9ff 0 174px,#aa80ff 0 176px,#d8c9ff 0 177px,#b38fff 0 179px,#bb9dff 0 180px,#b38fff 0 182px,#9668ff 0 184px,#1400ff 0 189px,#a074ff 0 190px,#9668ff 0 192px,#8c5cff 0 194px,#854fff 0 195px,#7d41ff 0 197px,#8c5cff 0 198px,#ece5ff 0 200px,#7d41ff 0 202px,#1400ff 0 205px,#280bff 0 210px,#1400ff 0 212px,#652eff 0 213px,#1400ff 0 215px,#652eff 0 217px,#280bff 0 220px,#652eff 0 225px,#280bff 0 230px,#854fff 0 231px,#280bff 0 233px,#652eff 0 238px,#280bff 0 239px,#8c5cff 0 241px,#1400ff 0 243px,#652eff 0 244px,#d8c9ff 0 246px,#9668ff 0 248px,#1400ff 0 249px,#652eff 0 251px,#1400ff 0 253px,#8c5cff 0 254px,#a074ff 0 258px,#9668ff 0 261px,#a074ff 0 262px,#ece5ff 0 264px,#e2d8ff 0 266px,#9668ff 0 269px,#ece5ff 0 271px,#a074ff 0 272px,#7d41ff 0 274px,#8c5cff 0 276px,#9668ff 0 277px,#652eff 0 279px,#1400ff 0 285px,#280bff 0 287px,#1400ff 0 297px,#e2d8ff 0 299px,#a074ff 0 300px,#e2d8ff 0 302px,#f0bda7 0 303px,#f3d6c6 0 305px,#e2d8ff 0 307px,#ffffff 0 308px,#f8ece5 0 310px,#a074ff 0 312px,#ffffff 0 315px,#8c5cff 0 317px,#f5f2ff 0 318px,#652eff 0 320px,#f5f2ff 0)"></div><div style="left:1855.7px;top:801px;width:34.2px;height:321.5px;background:linear-gradient(#b38fff 0 2px,#1400ff 0 3px,#cebbff 0 5px,#f1c9b6 0 7px,#f3d6c6 0 8px,#efb29b 0 10px,#ee8163 0 11px,#ed9d85 0 13px,#f1c9b6 0 15px,#f3d6c6 0 16px,#cebbff 0 18px,#ee8b6e 0 20px,#c4acff 0 23px,#bb9dff 0 25px,#cebbff 0 26px,#efb29b 0 28px,#f0bda7 0 30px,#ee8163 0 31px,#f25e42 0 34px,#ef7759 0 36px,#eea790 0 38px,#f3d6c6 0 39px,#cebbff 0 41px,#efb29b 0 43px,#eea790 0 44px,#d8c9ff 0 48px,#ef7759 0 49px,#efb29b 0 51px,#f1c9b6 0 52px,#ee8b6e 0 54px,#efb29b 0 56px,#cebbff 0 57px,#f1c9b6 0 59px,#ee8163 0 61px,#ff341c 0 62px,#f25e42 0 64px,#fa492e 0 66px,#652eff 0 67px,#7d41ff 0 69px,#652eff 0 72px,#ed9479 0 74px,#f0bda7 0 75px,#eea790 0 77px,#f1c9b6 0 79px,#f5f2ff 0 80px,#f3d6c6 0 82px,#f1c9b6 0 84px,#f3d6c6 0 85px,#ed9479 0 87px,#e2d8ff 0 89px,#c4acff 0 90px,#f3d6c6 0 92px,#e2d8ff 0 93px,#eea790 0 95px,#e2d8ff 0 97px,#d8c9ff 0 98px,#f4e2d7 0 100px,#f3d6c6 0 102px,#854fff 0 103px,#cebbff 0 108px,#b38fff 0 112px,#f3d6c6 0 115px,#efb29b 0 116px,#ee8163 0 118px,#eea790 0 120px,#ef7759 0 121px,#ed9479 0 125px,#f1c9b6 0 126px,#ee8163 0 130px,#f06c4f 0 131px,#ed9d85 0 133px,#efb29b 0 135px,#f0bda7 0 136px,#eea790 0 138px,#f1c9b6 0 139px,#c4acff 0 141px,#a074ff 0 143px,#bb9dff 0 144px,#cebbff 0 146px,#f4e2d7 0 148px,#f0bda7 0 151px,#f1c9b6 0 153px,#d8c9ff 0 154px,#8c5cff 0 156px,#d8c9ff 0 157px,#a074ff 0 159px,#b38fff 0 161px,#bb9dff 0 162px,#f4e2d7 0 164px,#efb29b 0 166px,#f1c9b6 0 167px,#f4e2d7 0 169px,#b38fff 0 171px,#9668ff 0 172px,#aa80ff 0 174px,#8c5cff 0 176px,#9668ff 0 177px,#c4acff 0 179px,#d8c9ff 0 180px,#cebbff 0 182px,#f4e2d7 0 184px,#ee8b6e 0 185px,#f5f2ff 0 187px,#ffffff 0 189px,#ed9d85 0 190px,#f06c4f 0 192px,#ed9479 0 194px,#ef7759 0 195px,#fbf6f2 0 197px,#f5f2ff 0 198px,#f25e42 0 200px,#ee8163 0 202px,#f25e42 0 203px,#ee8163 0 205px,#f25e42 0 207px,#ed9479 0 208px,#ee8b6e 0 210px,#f5f2ff 0 212px,#f8ece5 0 215px,#ed9d85 0 217px,#ed9479 0 218px,#ee8163 0 220px,#ed9d85 0 221px,#ffffff 0 223px,#f06c4f 0 225px,#ef7759 0 226px,#ed9d85 0 230px,#ffffff 0 231px,#d8c9ff 0 235px,#e2d8ff 0 236px,#f8ece5 0 238px,#ed9d85 0 239px,#ee8163 0 241px,#f8ece5 0 243px,#ee8b6e 0 244px,#e2d8ff 0 246px,#f8ece5 0 248px,#ee8b6e 0 249px,#eea790 0 253px,#f1c9b6 0 256px,#f06c4f 0 258px,#ef7759 0 259px,#ee8163 0 261px,#eea790 0 262px,#f0bda7 0 264px,#d8c9ff 0 266px,#f3d6c6 0 267px,#eea790 0 269px,#f3d6c6 0 271px,#d8c9ff 0 272px,#bb9dff 0 274px,#cebbff 0 276px,#b38fff 0 277px,#cebbff 0 279px,#8c5cff 0 280px,#f3d6c6 0 282px,#f4e2d7 0 284px,#cebbff 0 285px,#c4acff 0 287px,#9668ff 0 289px,#d8c9ff 0 290px,#f0bda7 0 292px,#eea790 0 294px,#ef7759 0 295px,#f0bda7 0 297px,#ee8b6e 0 299px,#ee8163 0 300px,#eea790 0 303px,#f0bda7 0 305px,#f1c9b6 0 307px,#f3d6c6 0 308px,#f8ece5 0 310px,#ed9479 0 312px,#f0bda7 0 313px,#d8c9ff 0 315px,#b38fff 0 317px,#c4acff 0 318px,#aa80ff 0 320px,#f3d6c6 0)"></div><div style="left:1889.5px;top:801px;width:34.2px;height:321.5px;background:linear-gradient(#f0bda7 0 2px,#e2d8ff 0 3px,#f1c9b6 0 5px,#f0bda7 0 7px,#f3d6c6 0 8px,#efb29b 0 10px,#ef7759 0 11px,#f1c9b6 0 15px,#ed9d85 0 16px,#efb29b 0 18px,#ed9479 0 20px,#f0bda7 0 21px,#f1c9b6 0 23px,#efb29b 0 25px,#f0bda7 0 26px,#fa492e 0 28px,#ee8163 0 30px,#f25e42 0 31px,#ef7759 0 33px,#fbf6f2 0 34px,#ed9d85 0 38px,#f4e2d7 0 39px,#f0bda7 0 41px,#ee8163 0 43px,#ed9d85 0 44px,#e2d8ff 0 46px,#bb9dff 0 48px,#f3d6c6 0 49px,#cebbff 0 51px,#c4acff 0 52px,#f1c9b6 0 54px,#bb9dff 0 56px,#aa80ff 0 57px,#d8c9ff 0 59px,#f0bda7 0 61px,#ef7759 0 62px,#ee8b6e 0 64px,#f25e42 0 66px,#f06c4f 0 67px,#eea790 0 69px,#ef7759 0 71px,#efb29b 0 72px,#f25e42 0 74px,#ee8163 0 75px,#eea790 0 77px,#ef7759 0 79px,#eea790 0 80px,#f4e2d7 0 82px,#f3d6c6 0 84px,#cebbff 0 85px,#d8c9ff 0 87px,#f4e2d7 0 89px,#f0bda7 0 92px,#f06c4f 0 93px,#ef7759 0 95px,#f1c9b6 0 97px,#f4e2d7 0 98px,#eea790 0 100px,#ed9d85 0 102px,#efb29b 0 103px,#f1c9b6 0 105px,#eea790 0 107px,#efb29b 0 108px,#a074ff 0 110px,#f1c9b6 0 113px,#ed9d85 0 115px,#ee8b6e 0 116px,#eea790 0 118px,#ed9479 0 120px,#efb29b 0 121px,#f1c9b6 0 125px,#bb9dff 0 126px,#e2d8ff 0 128px,#eea790 0 130px,#ed9d85 0 131px,#efb29b 0 133px,#ed9d85 0 135px,#f1c9b6 0 136px,#f3d6c6 0 138px,#b38fff 0 139px,#c4acff 0 141px,#e2d8ff 0 143px,#bb9dff 0 144px,#c4acff 0 146px,#d8c9ff 0 148px,#c4acff 0 149px,#f0bda7 0 151px,#f1c9b6 0 153px,#d8c9ff 0 154px,#cebbff 0 156px,#efb29b 0 157px,#eea790 0 159px,#efb29b 0 161px,#ed9d85 0 162px,#f1c9b6 0 164px,#ed9d85 0 166px,#efb29b 0 167px,#eea790 0 171px,#f4e2d7 0 172px,#e2d8ff 0 174px,#c4acff 0 176px,#f0bda7 0 177px,#f3d6c6 0 179px,#efb29b 0 180px,#f25e42 0 182px,#efb29b 0 184px,#f1c9b6 0 185px,#f0bda7 0 187px,#f1c9b6 0 190px,#ef7759 0 192px,#ed9d85 0 194px,#fa492e 0 195px,#ee8b6e 0 197px,#f3d6c6 0 198px,#efb29b 0 200px,#d8c9ff 0 202px,#cebbff 0 205px,#f3d6c6 0 207px,#f4e2d7 0 208px,#efb29b 0 210px,#eea790 0 212px,#f4e2d7 0 213px,#cebbff 0 215px,#f3d6c6 0 217px,#bb9dff 0 218px,#f4e2d7 0 220px,#f3d6c6 0 223px,#cebbff 0 225px,#eea790 0 226px,#ee8163 0 228px,#f3d6c6 0 230px,#f1c9b6 0 231px,#efb29b 0 233px,#f3d6c6 0 235px,#f1c9b6 0 236px,#aa80ff 0 238px,#d8c9ff 0 239px,#e2d8ff 0 244px,#aa80ff 0 246px,#cebbff 0 248px,#f1c9b6 0 249px,#eea790 0 251px,#ed9d85 0 253px,#eea790 0 254px,#f4e2d7 0 256px,#ed9479 0 258px,#fa492e 0 259px,#eea790 0 261px,#bb9dff 0 262px,#e2d8ff 0 264px,#d8c9ff 0 266px,#b38fff 0 267px,#d8c9ff 0 269px,#f4e2d7 0 271px,#c4acff 0 272px,#bb9dff 0 276px,#c4acff 0 277px,#bb9dff 0 279px,#d8c9ff 0 280px,#efb29b 0 282px,#f0bda7 0 284px,#cebbff 0 285px,#ed9479 0 287px,#f8ece5 0 289px,#f06c4f 0 290px,#fa492e 0 292px,#f25e42 0 294px,#ee8163 0 295px,#ed9479 0 297px,#eea790 0 299px,#f3d6c6 0 300px,#efb29b 0 302px,#f25e42 0 303px,#f06c4f 0 305px,#fa492e 0 307px,#ef7759 0 308px,#ff341c 0 310px,#ee8163 0 312px,#ed9479 0 313px,#ed9d85 0 315px,#f3d6c6 0 317px,#eea790 0 318px,#f3d6c6 0 320px,#ff2010 0)"></div><div style="left:1923.4px;top:801px;width:33.8px;height:321.5px;background:linear-gradient(#854fff 0 2px,#7d41ff 0 7px,#ed9479 0 8px,#ef7759 0 10px,#ee8b6e 0 11px,#ed9479 0 13px,#ee8163 0 15px,#eea790 0 16px,#f4e2d7 0 18px,#f3d6c6 0 20px,#bb9dff 0 21px,#e2d8ff 0 23px,#efb29b 0 25px,#eea790 0 26px,#ed9d85 0 28px,#f3d6c6 0 30px,#eea790 0 31px,#e2d8ff 0 33px,#d8c9ff 0 34px,#f0bda7 0 36px,#efb29b 0 38px,#e2d8ff 0 43px,#aa80ff 0 44px,#9668ff 0 46px,#a074ff 0 48px,#f0bda7 0 49px,#cebbff 0 51px,#e2d8ff 0 52px,#ed9d85 0 54px,#f1c9b6 0 56px,#aa80ff 0 57px,#a074ff 0 59px,#e2d8ff 0 61px,#f06c4f 0 62px,#ef7759 0 64px,#ee8163 0 66px,#f0bda7 0 67px,#e2d8ff 0 69px,#ed9d85 0 71px,#eea790 0 72px,#f0bda7 0 74px,#eea790 0 75px,#ee8163 0 77px,#ef7759 0 79px,#f0bda7 0 80px,#eea790 0 82px,#f3d6c6 0 84px,#aa80ff 0 85px,#c4acff 0 87px,#b38fff 0 89px,#a074ff 0 90px,#e2d8ff 0 92px,#d8c9ff 0 93px,#ece5ff 0 95px,#f0bda7 0 97px,#ed9479 0 98px,#ed9d85 0 100px,#ff2010 0 102px,#f3d6c6 0 105px,#ed9479 0 107px,#ed9d85 0 108px,#f4e2d7 0 110px,#e2d8ff 0 112px,#f1c9b6 0 113px,#e2d8ff 0 115px,#eea790 0 116px,#ed9479 0 118px,#efb29b 0 120px,#cebbff 0 123px,#efb29b 0 125px,#eea790 0 126px,#ee8163 0 128px,#ef7759 0 130px,#ee8b6e 0 131px,#eea790 0 133px,#cebbff 0 135px,#c4acff 0 138px,#cebbff 0 141px,#f3d6c6 0 143px,#eea790 0 144px,#ee8163 0 146px,#efb29b 0 148px,#ee8163 0 149px,#efb29b 0 151px,#f0bda7 0 153px,#ed9d85 0 154px,#bb9dff 0 156px,#f4e2d7 0 157px,#aa80ff 0 159px,#f1c9b6 0 162px,#ed9479 0 164px,#eea790 0 166px,#f3d6c6 0 167px,#aa80ff 0 169px,#f0bda7 0 171px,#cebbff 0 172px,#c4acff 0 174px,#bb9dff 0 176px,#aa80ff 0 177px,#c4acff 0 180px,#eea790 0 182px,#bb9dff 0 184px,#7d41ff 0 185px,#cebbff 0 187px,#c4acff 0 189px,#a074ff 0 190px,#e2d8ff 0 192px,#ed9d85 0 194px,#f0bda7 0 195px,#cebbff 0 197px,#1400ff 0 198px,#f3d6c6 0 200px,#a074ff 0 202px,#c4acff 0 203px,#e2d8ff 0 205px,#d8c9ff 0 207px,#c4acff 0 208px,#f1c9b6 0 210px,#f4e2d7 0 212px,#d8c9ff 0 213px,#9668ff 0 217px,#aa80ff 0 218px,#c4acff 0 220px,#f4e2d7 0 221px,#d8c9ff 0 223px,#f1c9b6 0 225px,#e2d8ff 0 228px,#d8c9ff 0 230px,#bb9dff 0 231px,#a074ff 0 233px,#f3d6c6 0 235px,#b38fff 0 236px,#f1c9b6 0 238px,#f0bda7 0 239px,#efb29b 0 241px,#b38fff 0 243px,#f4e2d7 0 244px,#cebbff 0 246px,#efb29b 0 248px,#b38fff 0 249px,#f3d6c6 0 251px,#efb29b 0 253px,#f1c9b6 0 254px,#ee8b6e 0 256px,#ed9479 0 258px,#fa492e 0 259px,#ed9d85 0 261px,#e2d8ff 0 264px,#b38fff 0 267px,#c4acff 0 269px,#f4e2d7 0 271px,#f3d6c6 0 272px,#c4acff 0 274px,#d8c9ff 0 279px,#aa80ff 0 280px,#cebbff 0 282px,#b38fff 0 284px,#9668ff 0 285px,#b38fff 0 287px,#d8c9ff 0 289px,#f4e2d7 0 290px,#e2d8ff 0 292px,#f0bda7 0 294px,#ff341c 0 295px,#ee8b6e 0 297px,#efb29b 0 299px,#ed9479 0 300px,#ed9d85 0 302px,#ee8b6e 0 305px,#efb29b 0 308px,#ed9479 0 310px,#aa80ff 0 312px,#e2d8ff 0 313px,#f0bda7 0 315px,#d8c9ff 0 317px,#cebbff 0 318px,#b38fff 0 320px,#f4e2d7 0)"></div><div style="left:1969.2px;top:801px;width:34.2px;height:321.5px;background:linear-gradient(#eea790 0 2px,#efb29b 0 3px,#f0bda7 0 5px,#ed9d85 0 7px,#ed9479 0 8px,#eea790 0 13px,#efb29b 0 15px,#ed9d85 0 16px,#ed9479 0 18px,#efb29b 0 20px,#fbf6f2 0 21px,#ed9479 0 23px,#f0bda7 0 25px,#eea790 0 26px,#ee8163 0 28px,#ed9479 0 30px,#ed9d85 0 31px,#eea790 0 33px,#ef7759 0 34px,#ee8b6e 0 36px,#f3d6c6 0 38px,#f8ece5 0 39px,#f1c9b6 0 41px,#eea790 0 43px,#b38fff 0 44px,#f0bda7 0 46px,#efb29b 0 48px,#ed9d85 0 49px,#f0bda7 0 52px,#f1c9b6 0 56px,#ed9479 0 57px,#ee8163 0 61px,#ef7759 0 62px,#ed9d85 0 64px,#f0bda7 0 66px,#efb29b 0 67px,#f3d6c6 0 69px,#eea790 0 71px,#f1c9b6 0 72px,#efb29b 0 74px,#f1c9b6 0 77px,#eea790 0 79px,#ed9d85 0 80px,#eea790 0 82px,#f0bda7 0 84px,#f4e2d7 0 85px,#fbf6f2 0 87px,#f4e2d7 0 89px,#f1c9b6 0 92px,#f0bda7 0 93px,#f8ece5 0 97px,#f5f2ff 0 98px,#efb29b 0 100px,#ef7759 0 102px,#ee8b6e 0 103px,#ef7759 0 105px,#fa492e 0 107px,#ff341c 0 108px,#ee8b6e 0 110px,#f25e42 0 112px,#f06c4f 0 113px,#ee8b6e 0 115px,#ee8163 0 116px,#ef7759 0 118px,#ff341c 0 120px,#fa492e 0 121px,#ed9479 0 123px,#eea790 0 125px,#ed9479 0 126px,#ee8163 0 128px,#ed9479 0 131px,#f4e2d7 0 133px,#f8ece5 0 135px,#f1c9b6 0 136px,#f4e2d7 0 139px,#fbf6f2 0 141px,#f1c9b6 0 146px,#f0bda7 0 148px,#eea790 0 149px,#ed9479 0 151px,#ed9d85 0 153px,#ee8b6e 0 154px,#ed9479 0 156px,#fa492e 0 157px,#efb29b 0 159px,#ee8163 0 161px,#f25e42 0 164px,#fa492e 0 166px,#ee8b6e 0 167px,#ed9d85 0 169px,#ed9479 0 171px,#ed9d85 0 172px,#eea790 0 174px,#ee8163 0 176px,#ee8b6e 0 177px,#ef7759 0 179px,#f25e42 0 180px,#ff2010 0 182px,#fa492e 0 184px,#ef7759 0 185px,#ee8163 0 187px,#f25e42 0 190px,#f06c4f 0 192px,#ff2010 0 194px,#fa492e 0 195px,#ff2010 0 197px,#fa492e 0 198px,#ff341c 0 200px,#f25e42 0 202px,#ef7759 0 205px,#fa492e 0 207px,#f06c4f 0 208px,#ed9479 0 210px,#f1c9b6 0 213px,#f3d6c6 0 215px,#ed9479 0 217px,#ef7759 0 220px,#ed9479 0 223px,#ed9d85 0 225px,#ee8b6e 0 228px,#ef7759 0 230px,#ee8b6e 0 231px,#efb29b 0 233px,#ed9d85 0 236px,#ee8b6e 0 238px,#ed9479 0 239px,#ed9d85 0 241px,#ee8163 0 243px,#ee8b6e 0 244px,#ed9479 0 246px,#ed9d85 0 249px,#ed9479 0 253px,#f06c4f 0 254px,#ef7759 0 256px,#ee8163 0 259px,#ee8b6e 0 262px,#f25e42 0 264px,#ed9479 0 266px,#ee8163 0 267px,#efb29b 0 271px,#eea790 0 274px,#f0bda7 0 276px,#efb29b 0 277px,#f3d6c6 0 279px,#efb29b 0 280px,#ee8163 0 282px,#f06c4f 0 285px,#eea790 0 287px,#f4e2d7 0 289px,#f3d6c6 0 290px,#efb29b 0 292px,#ed9d85 0 294px,#f0bda7 0 295px,#ed9d85 0 297px,#ed9479 0 299px,#eea790 0 300px,#f3d6c6 0 302px,#f0bda7 0 303px,#ed9479 0 305px,#eea790 0 307px,#f0bda7 0 308px,#f1c9b6 0 310px,#f0bda7 0 315px,#f4e2d7 0 317px,#f0bda7 0 318px,#ed9d85 0 320px,#ef7759 0)"></div><div style="left:2003px;top:801px;width:34.2px;height:321.5px;background:linear-gradient(#eea790 0 2px,#efb29b 0 3px,#ed9d85 0 5px,#f0bda7 0 7px,#f1c9b6 0 8px,#ed9d85 0 13px,#efb29b 0 15px,#f0bda7 0 16px,#eea790 0 20px,#f4e2d7 0 21px,#eea790 0 25px,#ee8b6e 0 26px,#ff2010 0 28px,#f06c4f 0 31px,#ed9d85 0 33px,#ee8b6e 0 36px,#efb29b 0 38px,#f1c9b6 0 39px,#eea790 0 41px,#efb29b 0 43px,#ee8163 0 44px,#ee8b6e 0 46px,#ed9479 0 48px,#f25e42 0 52px,#ee8b6e 0 54px,#ed9479 0 56px,#f06c4f 0 57px,#eea790 0 59px,#efb29b 0 61px,#ed9479 0 62px,#ed9d85 0 64px,#efb29b 0 66px,#f1c9b6 0 67px,#f0bda7 0 69px,#f1c9b6 0 72px,#f0bda7 0 74px,#f4e2d7 0 75px,#f0bda7 0 77px,#f1c9b6 0 79px,#efb29b 0 80px,#eea790 0 82px,#f4e2d7 0 84px,#f3d6c6 0 85px,#f4e2d7 0 87px,#f0bda7 0 90px,#f8ece5 0 92px,#f3d6c6 0 93px,#efb29b 0 95px,#eea790 0 97px,#f0bda7 0 98px,#ef7759 0 100px,#f25e42 0 102px,#ee8163 0 103px,#f06c4f 0 105px,#f25e42 0 107px,#ff2010 0 108px,#ee8163 0 110px,#fa492e 0 112px,#ff341c 0 115px,#f06c4f 0 116px,#ef7759 0 118px,#f25e42 0 121px,#ff341c 0 123px,#f06c4f 0 125px,#fa492e 0 126px,#f25e42 0 128px,#ed9479 0 130px,#ee8163 0 131px,#ed9479 0 133px,#efb29b 0 136px,#f0bda7 0 138px,#efb29b 0 139px,#f1c9b6 0 141px,#f4e2d7 0 143px,#f0bda7 0 144px,#ed9d85 0 146px,#ee8163 0 148px,#ef7759 0 149px,#ff341c 0 151px,#ff2010 0 154px,#ef7759 0 156px,#f06c4f 0 157px,#f25e42 0 159px,#ee8163 0 161px,#ee8b6e 0 162px,#fa492e 0 164px,#f25e42 0 166px,#ef7759 0 167px,#f06c4f 0 169px,#ed9479 0 172px,#ed9d85 0 176px,#ef7759 0 177px,#ee8b6e 0 179px,#fa492e 0 180px,#ff341c 0 184px,#ff2010 0 185px,#f25e42 0 187px,#fa492e 0 189px,#ed9479 0 190px,#f25e42 0 192px,#ef7759 0 195px,#ed9d85 0 197px,#eea790 0 198px,#ee8163 0 200px,#ed9d85 0 202px,#ee8163 0 203px,#ed9d85 0 205px,#efb29b 0 208px,#f0bda7 0 210px,#ed9479 0 212px,#f0bda7 0 213px,#ed9d85 0 215px,#f06c4f 0 217px,#f25e42 0 218px,#ee8b6e 0 220px,#ed9479 0 221px,#ee8b6e 0 223px,#ed9479 0 225px,#ed9d85 0 226px,#ee8163 0 228px,#ee8b6e 0 230px,#ee8163 0 231px,#eea790 0 233px,#f1c9b6 0 235px,#f0bda7 0 238px,#f1c9b6 0 239px,#efb29b 0 241px,#ed9479 0 244px,#ee8b6e 0 246px,#ee8163 0 248px,#ee8b6e 0 249px,#f06c4f 0 253px,#fa492e 0 254px,#ef7759 0 258px,#ed9d85 0 259px,#ee8163 0 261px,#ed9479 0 262px,#f06c4f 0 264px,#ee8163 0 266px,#ee8b6e 0 267px,#ed9479 0 269px,#efb29b 0 271px,#f06c4f 0 272px,#eea790 0 274px,#f1c9b6 0 277px,#efb29b 0 279px,#f0bda7 0 280px,#ee8163 0 284px,#ee8b6e 0 285px,#ee8163 0 287px,#f06c4f 0 289px,#ee8b6e 0 290px,#ed9d85 0 294px,#ed9479 0 295px,#ee8b6e 0 297px,#f1c9b6 0 299px,#f5f2ff 0 300px,#f0bda7 0 302px,#ed9d85 0 303px,#ed9479 0 305px,#ed9d85 0 307px,#f0bda7 0 310px,#f3d6c6 0 312px,#efb29b 0 313px,#f0bda7 0 315px,#f1c9b6 0 317px,#efb29b 0 318px,#eea790 0 320px,#ed9d85 0)"></div><div style="left:2036.9px;top:801px;width:33.8px;height:321.5px;background:linear-gradient(#efb29b 0 2px,#f0bda7 0 3px,#ed9d85 0 7px,#eea790 0 11px,#ed9d85 0 13px,#f1c9b6 0 15px,#efb29b 0 16px,#f3d6c6 0 18px,#f8ece5 0 20px,#ece5ff 0 21px,#f0bda7 0 25px,#ed9479 0 26px,#f06c4f 0 28px,#ed9479 0 30px,#f1c9b6 0 31px,#f3d6c6 0 33px,#f1c9b6 0 34px,#efb29b 0 36px,#f1c9b6 0 39px,#efb29b 0 41px,#eea790 0 44px,#f0bda7 0 46px,#f4e2d7 0 48px,#eea790 0 49px,#ee8163 0 51px,#f06c4f 0 52px,#ee8163 0 54px,#efb29b 0 56px,#ed9479 0 57px,#fa492e 0 59px,#f1c9b6 0 62px,#efb29b 0 64px,#f0bda7 0 66px,#efb29b 0 67px,#f3d6c6 0 69px,#fbf6f2 0 71px,#f1c9b6 0 75px,#f0bda7 0 77px,#efb29b 0 79px,#f0bda7 0 84px,#eea790 0 85px,#f3d6c6 0 87px,#f8ece5 0 89px,#f1c9b6 0 92px,#f0bda7 0 95px,#f3d6c6 0 97px,#f5f2ff 0 98px,#ee8b6e 0 100px,#ed9d85 0 102px,#ef7759 0 103px,#ee8163 0 105px,#ed9d85 0 107px,#f06c4f 0 108px,#ed9479 0 110px,#ee8163 0 113px,#ed9479 0 115px,#f25e42 0 116px,#ff2010 0 118px,#f06c4f 0 121px,#ff341c 0 123px,#f25e42 0 126px,#ff2010 0 128px,#f25e42 0 131px,#efb29b 0 133px,#f8ece5 0 135px,#f0bda7 0 136px,#fbf6f2 0 138px,#eea790 0 139px,#ed9d85 0 141px,#f8ece5 0 143px,#f0bda7 0 144px,#eea790 0 146px,#ed9d85 0 148px,#eea790 0 149px,#ee8163 0 151px,#ed9479 0 153px,#ef7759 0 154px,#ed9479 0 156px,#ed9d85 0 157px,#f06c4f 0 159px,#eea790 0 161px,#ef7759 0 162px,#fa492e 0 164px,#ff2010 0 166px,#fa492e 0 167px,#ee8163 0 169px,#ef7759 0 171px,#ed9479 0 172px,#ef7759 0 174px,#f06c4f 0 177px,#ef7759 0 179px,#ee8163 0 182px,#ee8b6e 0 184px,#eea790 0 185px,#ed9d85 0 187px,#fa492e 0 189px,#f1c9b6 0 190px,#ed9479 0 192px,#ee8163 0 195px,#ed9479 0 197px,#ee8b6e 0 198px,#ee8163 0 200px,#f3d6c6 0 203px,#f0bda7 0 205px,#efb29b 0 207px,#eea790 0 208px,#ee8b6e 0 210px,#eea790 0 212px,#ed9d85 0 213px,#efb29b 0 215px,#ed9d85 0 217px,#ed9479 0 218px,#ee8163 0 220px,#f06c4f 0 221px,#ee8163 0 223px,#ee8b6e 0 225px,#ed9479 0 226px,#ed9d85 0 228px,#ed9479 0 230px,#eea790 0 233px,#efb29b 0 235px,#ed9d85 0 236px,#f0bda7 0 241px,#ed9479 0 243px,#f06c4f 0 244px,#ee8163 0 246px,#ed9479 0 249px,#eea790 0 251px,#ed9479 0 254px,#f06c4f 0 256px,#ee8163 0 258px,#ed9479 0 259px,#efb29b 0 261px,#ee8b6e 0 262px,#ed9479 0 264px,#ef7759 0 266px,#f25e42 0 267px,#efb29b 0 269px,#eea790 0 271px,#ef7759 0 272px,#ee8b6e 0 274px,#ef7759 0 276px,#ed9d85 0 277px,#f0bda7 0 279px,#f1c9b6 0 280px,#efb29b 0 285px,#f1c9b6 0 287px,#f3d6c6 0 289px,#f8ece5 0 290px,#efb29b 0 294px,#eea790 0 295px,#efb29b 0 297px,#eea790 0 299px,#ed9d85 0 300px,#ee8163 0 302px,#ef7759 0 303px,#ee8163 0 305px,#ed9479 0 307px,#eea790 0 310px,#ed9d85 0 313px,#ed9479 0 315px,#f0bda7 0 317px,#eea790 0 318px,#efb29b 0 320px,#ed9479 0)"></div><div style="left:29.1px;top:545.8px;width:179.8px;height:38.2px;background:linear-gradient(90deg,#1400ff 0.3%,#1400ff 2.8%,#1400ff 5.3%,#1400ff 7.8%,#2308ff 10.3%,#612bff 12.8%,#7d40ff 15.3%,#844eff 17.8%,#8c5bff 20.3%,#9567ff 22.8%,#a073ff 25.3%,#aa7fff 27.8%,#b28eff 30.2%,#bb9dff 32.7%,#c4acff 35.2%,#cebaff 37.7%,#d8c9ff 40.2%,#e2d8ff 42.7%,#ece5ff 45.2%,#f5f2ff 47.7%,#ffffff 50.2%,#fbf6f2 52.7%,#f8ece5 55.2%,#f4e2d7 57.7%,#f3d5c6 60.2%,#f1c9b5 62.7%,#f0bca6 65.2%,#efb29b 67.7%,#eea78f 70.2%,#ed9d84 72.7%,#ed9379 75.2%,#ee8a6d 77.7%,#ee8062 80.2%,#ef7658 82.7%,#f06c4e 85.2%,#f35d40 87.7%,#fa472c 90.2%,#ff321b 92.7%,#ff2010 95.2%,#ff2010 97.7%,#ff2010 100.2%)"></div><svg width="2112" height="1896" viewBox="0 0 2112 1896"><defs><filter id="spk" x="-5%" y="-5%" width="110%" height="110%"><feTurbulence type="fractalNoise" baseFrequency="0.55" numOctaves="2" seed="5"/><feColorMatrix type="matrix" values="0 0 0 0 1 0 0 0 0 1 0 0 0 0 1 5 0 0 0 -2.3" result="n"/><feComposite in="SourceGraphic" in2="n" operator="arithmetic" k1="1"/></filter><filter id="tx" x="-5%" y="-5%" width="110%" height="110%"><feTurbulence type="fractalNoise" baseFrequency="0.9" numOctaves="2" seed="9"/><feColorMatrix type="matrix" values="0 0 0 0 1 0 0 0 0 1 0 0 0 0 1 3.2 0 0 0 -0.9" result="n"/><feComposite in="SourceGraphic" in2="n" operator="arithmetic" k1="1"/></filter><radialGradient id="rg"><stop offset="0" stop-color="#444" stop-opacity=".16"/><stop offset=".6" stop-color="#444" stop-opacity=".1"/><stop offset="1" stop-color="#444" stop-opacity="0"/></radialGradient><radialGradient id="rb"><stop offset="0" stop-color="#579" stop-opacity=".14"/><stop offset=".6" stop-color="#579" stop-opacity=".08"/><stop offset="1" stop-color="#468" stop-opacity="0"/></radialGradient></defs><text x="0" y="27.8" font-size="25.5" font-weight="bold">a</text><text x="1278.5" y="27.3" font-size="25.5" font-weight="bold">b</text><text x="1702.2" y="27.3" font-size="25.5" font-weight="bold">c</text><text x="0" y="499.5" font-size="25.5" font-weight="bold">d</text><text x="709" y="499.5" font-size="25.5" font-weight="bold">e</text><text x="1414" y="499.5" font-size="25.5" font-weight="bold">f</text><rect x="86.3" y="54.4" width="308.3" height="322.1" fill="none" stroke="#6a6a6a" stroke-width="1.3"/><path d="M86.3 362h-6M86.3 288.6h-6M86.3 215.2h-6M86.3 141.8h-6M86.3 68.4h-6" stroke="#6a6a6a" stroke-width="1.3"/><text x="75.3" y="369.7" font-size="21.5" text-anchor="end">30</text><text x="75.3" y="222.9" font-size="21.5" text-anchor="end">35</text><text x="75.3" y="76.1" font-size="21.5" text-anchor="end">40</text><text x="240.5" y="37.5" font-size="24.5" text-anchor="middle">Pellet</text><text transform="rotate(-90 33.5 215.5)" x="33.5" y="215.5" font-size="24.5" text-anchor="middle">log<tspan font-size="17.1" dy="4.9">2</tspan><tspan dy="-4.9">(46Q abundance) (a.u.)</tspan></text><path d="M123.8 311.4h0M130.6 325.9h0M132.5 334.9h0M200.2 165.6h0M197.8 181.3h0M202.6 185h0M282.4 177h0M280 187.4h0M276.8 189.8h0M345.3 73.3h0M345.7 78.6h0M356.6 79.3h0" stroke="#000" stroke-width="9.8" stroke-linecap="round"/><text x="118.2" y="407.6" font-size="26.5" fill="#e07a82" style="font-family:'Liberation Serif','Times New Roman',serif" stroke="#e07a82" stroke-width=".45">I</text><text x="186" y="407.6" fill="#6b9be8"><tspan font-family="'Liberation Serif','Times New Roman',serif" font-size="26.5" stroke="#6b9be8" stroke-width=".45">II</tspan><tspan font-size="20" dx=".5" dy="7">n</tspan></text><text x="262.9" y="407.6" fill="#6b9be8"><tspan font-family="'Liberation Serif','Times New Roman',serif" font-size="26.5" stroke="#6b9be8" stroke-width=".45">II</tspan><tspan font-size="20" dx=".5" dy="7">a</tspan></text><text x="332.2" y="407.6" font-size="26.5" fill="#ee98f0" style="font-family:'Liberation Serif','Times New Roman',serif" stroke="#ee98f0" stroke-width=".45">III</text><rect x="511.2" y="54.4" width="308.3" height="322.1" fill="none" stroke="#6a6a6a" stroke-width="1.3"/><path d="M511.2 374.4h-6M511.2 313.1h-6M511.2 251.9h-6M511.2 190.6h-6M511.2 129.4h-6M511.2 68.1h-6" stroke="#6a6a6a" stroke-width="1.3"/><text x="500.2" y="320.8" font-size="21.5" text-anchor="end">30</text><text x="500.2" y="198.3" font-size="21.5" text-anchor="end">35</text><text x="500.2" y="75.8" font-size="21.5" text-anchor="end">40</text><text x="666.2" y="37.5" font-size="24.5" text-anchor="middle">Total cell lysate</text><text transform="rotate(-90 458.1 215.5)" x="458.1" y="215.5" font-size="24.5" text-anchor="middle">log<tspan font-size="17.1" dy="4.9">2</tspan><tspan dy="-4.9">(46Q abundance) (a.u.)</tspan></text><path d="M548.7 313.8h0M558.8 301h0M558.8 330.8h0M631.6 204.3h0M635 206.7h0M632.6 211.6h0M694.5 212.8h0M703.4 211.1h0M705.4 216.9h0M774.3 119.7h0M776.5 121.6h0M776.5 127.4h0" stroke="#000" stroke-width="9.8" stroke-linecap="round"/><text x="557.2" y="407.6" font-size="26.5" fill="#e07a82" style="font-family:'Liberation Serif','Times New Roman',serif" stroke="#e07a82" stroke-width=".45">I</text><text x="624.9" y="407.6" fill="#6b9be8"><tspan font-family="'Liberation Serif','Times New Roman',serif" font-size="26.5" stroke="#6b9be8" stroke-width=".45">II</tspan><tspan font-size="20" dx=".5" dy="7">n</tspan></text><text x="702.2" y="407.6" fill="#6b9be8"><tspan font-family="'Liberation Serif','Times New Roman',serif" font-size="26.5" stroke="#6b9be8" stroke-width=".45">II</tspan><tspan font-size="20" dx=".5" dy="7">a</tspan></text><text x="771" y="407.6" font-size="26.5" fill="#ee98f0" style="font-family:'Liberation Serif','Times New Roman',serif" stroke="#ee98f0" stroke-width=".45">III</text><rect x="936.2" y="54.4" width="308.3" height="322.1" fill="none" stroke="#6a6a6a" stroke-width="1.3"/><path d="M936.2 343.3h-6M936.2 251.7h-6M936.2 160.1h-6M936.2 68.4h-6" stroke="#6a6a6a" stroke-width="1.3"/><text x="925.2" y="259.4" font-size="21.5" text-anchor="end">30</text><text x="925.2" y="76.1" font-size="21.5" text-anchor="end">35</text><text x="1090.9" y="37.5" font-size="24.5" text-anchor="middle">Supernatant</text><text transform="rotate(-90 883.2 215.5)" x="883.2" y="215.5" font-size="24.5" text-anchor="middle">log<tspan font-size="17.1" dy="4.9">2</tspan><tspan dy="-4.9">(46Q abundance) (a.u.)</tspan></text><path d="M977.8 294.2h0M975.9 310.2h0M982.2 313.6h0M1058.3 181.8h0M1057.1 194.6h0M1059.5 198.7h0M1120 177h0M1120.9 192.2h0M1123.4 197.1h0M1203.4 152.8h0M1204.6 159.6h0M1199 164.4h0" stroke="#000" stroke-width="9.8" stroke-linecap="round"/><text x="977.1" y="407.6" font-size="26.5" fill="#e07a82" style="font-family:'Liberation Serif','Times New Roman',serif" stroke="#e07a82" stroke-width=".45">I</text><text x="1044.3" y="407.6" fill="#6b9be8"><tspan font-family="'Liberation Serif','Times New Roman',serif" font-size="26.5" stroke="#6b9be8" stroke-width=".45">II</tspan><tspan font-size="20" dx=".5" dy="7">n</tspan></text><text x="1121.7" y="407.6" fill="#6b9be8"><tspan font-family="'Liberation Serif','Times New Roman',serif" font-size="26.5" stroke="#6b9be8" stroke-width=".45">II</tspan><tspan font-size="20" dx=".5" dy="7">a</tspan></text><text x="1190.6" y="407.6" font-size="26.5" fill="#ee98f0" style="font-family:'Liberation Serif','Times New Roman',serif" stroke="#ee98f0" stroke-width=".45">III</text><path d="M1508 362h0M1508 362h0M1508 362h0M1508 362h0M1508 362h0M1508 362h0M1508 362h0M1509 362h0M1508 362h0M1509 362h0M1508 361h0M1509 361h0M1508 361h0M1508 361h0M1509 361h0M1508 361h0M1509 361h0M1508 361h0M1509 361h0M1509 361h0M1507 361h0M1508 361h0M1508 361h0M1508 361h0M1510 361h0M1507 361h0M1508 361h0M1508 361h0M1508 361h0M1508 361h0M1508 360h0M1508 360h0M1511 360h0M1508 360h0M1508 360h0M1509 360h0M1509 360h0M1509 360h0M1509 360h0M1507 360h0M1508 360h0M1508 360h0M1511 360h0M1506 360h0M1509 360h0M1508 360h0M1509 360h0M1507 360h0M1507 360h0M1508 360h0M1511 360h0M1508 359h0M1507 359h0M1509 359h0M1510 359h0M1507 359h0M1506 359h0M1514 359h0M1509 359h0M1505 359h0M1509 359h0M1508 359h0M1509 359h0M1508 359h0M1508 359h0M1508 359h0M1509 359h0M1508 359h0M1508 359h0M1509 358h0M1510 358h0M1513 358h0M1505 358h0M1507 358h0M1517 358h0M1511 358h0M1509 358h0M1508 358h0M1508 358h0M1515 358h0M1508 358h0M1509 358h0M1504 358h0M1509 358h0M1509 358h0M1508 357h0M1499 357h0M1509 357h0M1510 357h0M1507 357h0M1509 357h0M1513 357h0M1509 357h0M1509 357h0M1508 357h0M1508 357h0M1501 357h0M1509 357h0M1512 357h0M1506 357h0M1513 357h0M1509 356h0M1502 356h0M1507 356h0M1506 356h0M1509 356h0M1510 356h0M1513 356h0M1506 356h0M1507 356h0M1504 356h0M1508 356h0M1507 356h0M1510 356h0M1509 356h0M1509 356h0M1509 356h0M1507 355h0M1510 355h0M1520 355h0M1497 355h0M1509 355h0M1507 355h0M1509 355h0M1507 355h0M1508 355h0M1509 355h0M1499 355h0M1501 355h0M1507 354h0M1510 354h0M1504 354h0M1510 354h0M1507 354h0M1509 354h0M1506 354h0M1507 354h0M1492 354h0M1500 354h0M1509 354h0M1498 354h0M1521 354h0M1510 354h0M1523 354h0M1509 353h0M1496 353h0M1503 353h0M1515 353h0M1508 353h0M1513 353h0M1507 353h0M1516 353h0M1510 353h0M1509 353h0M1510 353h0M1488 353h0M1498 353h0M1499 353h0M1507 353h0M1511 353h0M1507 352h0M1518 352h0M1510 352h0M1519 352h0M1494 352h0M1507 352h0M1501 352h0M1506 352h0M1510 352h0M1507 352h0M1507 352h0M1509 352h0M1507 352h0M1527 352h0M1511 351h0M1508 351h0M1509 351h0M1496 351h0M1500 351h0M1506 351h0M1509 351h0M1482 351h0M1510 351h0M1520 351h0M1511 351h0M1499 351h0M1511 351h0M1510 351h0M1510 350h0M1496 350h0M1513 350h0M1536 350h0M1527 350h0M1517 350h0M1508 350h0M1505 350h0M1492 350h0M1520 350h0M1529 350h0M1499 350h0M1516 350h0M1506 350h0M1516 349h0M1509 349h0M1508 349h0M1522 349h0M1507 349h0M1509 349h0M1500 349h0M1517 349h0M1511 349h0M1509 349h0M1510 349h0M1507 349h0M1507 349h0M1510 348h0M1506 348h0M1518 348h0M1507 348h0M1511 348h0M1510 348h0M1521 348h0M1530 348h0M1499 348h0M1512 348h0M1528 348h0M1495 347h0M1503 347h0M1505 347h0M1510 347h0M1543 347h0M1479 347h0M1506 347h0M1504 347h0M1509 347h0M1510 347h0M1523 347h0M1509 347h0M1510 347h0M1505 346h0M1505 346h0M1506 346h0M1506 346h0M1487 346h0M1517 346h0M1507 346h0M1511 346h0M1506 346h0M1506 346h0M1507 346h0M1509 346h0M1510 345h0M1507 345h0M1510 345h0M1511 345h0M1523 345h0M1465 345h0M1488 345h0M1512 345h0M1511 345h0M1522 345h0M1506 344h0M1510 344h0M1506 344h0M1505 344h0M1511 344h0M1521 344h0M1505 344h0M1530 344h0M1542 344h0M1524 344h0M1505 344h0M1510 343h0M1512 343h0M1510 343h0M1505 343h0M1509 343h0M1496 343h0M1450 343h0M1511 343h0M1511 343h0M1510 343h0M1506 342h0M1525 342h0M1524 342h0M1506 342h0M1506 342h0M1481 342h0M1506 342h0M1506 342h0M1512 342h0M1505 342h0M1481 342h0M1497 341h0M1507 341h0M1505 341h0M1478 341h0M1510 341h0M1509 341h0M1475 341h0M1516 341h0M1520 341h0M1505 341h0M1511 340h0M1505 340h0M1495 340h0M1506 340h0M1505 340h0M1506 340h0M1498 340h0M1507 340h0M1510 340h0M1515 339h0M1496 339h0M1531 339h0M1520 339h0M1504 339h0M1511 339h0M1482 339h0M1505 339h0M1511 339h0M1510 338h0M1541 338h0M1524 338h0M1514 338h0M1506 338h0M1543 338h0M1504 338h0M1528 338h0M1512 338h0M1533 337h0M1491 337h0M1506 337h0M1511 337h0M1501 337h0M1513 337h0M1499 337h0M1489 337h0M1505 336h0M1487 336h0M1516 336h0M1536 336h0M1511 336h0M1506 336h0M1495 336h0M1512 336h0M1503 336h0M1505 336h0M1511 336h0M1510 336h0M1511 335h0M1473 335h0M1513 335h0M1511 335h0M1511 335h0M1504 335h0M1511 334h0M1510 334h0M1504 334h0M1511 334h0M1512 334h0M1507 334h0M1503 334h0M1510 334h0M1504 334h0M1512 333h0M1468 333h0M1505 333h0M1512 333h0M1478 333h0M1490 333h0M1444 333h0M1512 333h0M1452 333h0M1557 333h0M1552 332h0M1511 332h0M1511 332h0M1507 332h0M1513 332h0M1511 332h0M1505 332h0M1505 332h0M1506 332h0M1512 332h0M1516 331h0M1504 331h0M1503 331h0M1490 331h0M1480 331h0M1532 331h0M1504 331h0M1511 331h0M1513 330h0M1447 330h0M1512 330h0M1476 330h0M1513 330h0M1510 330h0M1512 330h0M1511 330h0M1511 330h0M1464 330h0M1506 330h0M1513 329h0M1504 329h0M1502 329h0M1510 329h0M1504 329h0M1515 329h0M1512 328h0M1512 328h0M1545 328h0M1522 328h0M1502 328h0M1473 328h0M1511 328h0M1495 327h0M1514 327h0M1501 327h0M1511 327h0M1505 327h0M1501 326h0M1542 326h0M1562 326h0M1504 326h0M1510 326h0M1504 325h0M1512 325h0M1532 325h0M1542 325h0M1506 325h0M1553 325h0M1503 325h0M1510 324h0M1510 324h0M1485 324h0M1516 324h0M1502 324h0M1510 323h0M1511 323h0M1481 323h0M1544 323h0M1530 323h0M1512 323h0M1512 322h0M1515 322h0M1504 322h0M1517 322h0M1477 322h0M1500 322h0M1506 322h0M1503 322h0M1510 321h0M1516 321h0M1502 321h0M1521 321h0M1492 321h0M1557 320h0M1511 320h0M1506 320h0M1471 320h0M1505 319h0M1503 319h0M1502 319h0M1524 319h0M1514 319h0M1512 319h0M1557 319h0M1528 319h0M1504 318h0M1506 318h0M1512 318h0M1511 318h0M1505 317h0M1503 317h0M1503 317h0M1502 317h0M1503 317h0M1490 316h0M1507 316h0M1511 316h0M1514 316h0M1502 316h0M1513 315h0M1564 315h0M1513 315h0M1503 315h0M1540 314h0M1520 314h0M1513 314h0M1511 314h0M1512 313h0M1503 313h0M1548 313h0M1502 313h0M1518 313h0M1504 312h0M1515 312h0M1489 312h0M1516 312h0M1539 312h0M1516 312h0M1547 311h0M1531 311h0M1514 311h0M1512 311h0M1514 311h0M1463 310h0M1502 310h0M1501 310h0M1578 310h0M1503 309h0M1513 309h0M1515 309h0M1516 309h0M1503 309h0M1500 308h0M1502 308h0M1457 308h0M1504 308h0M1503 307h0M1495 307h0M1516 307h0M1513 307h0M1511 306h0M1503 306h0M1531 306h0M1515 305h0M1499 305h0M1476 305h0M1539 304h0M1502 304h0M1514 304h0M1501 303h0M1499 303h0M1511 302h0M1514 302h0M1502 302h0M1504 301h0M1432 301h0M1502 300h0M1501 300h0M1514 300h0M1459 299h0M1512 299h0M1535 298h0M1515 298h0M1458 298h0M1516 297h0M1502 297h0M1499 297h0M1515 296h0M1474 296h0M1504 296h0M1499 296h0M1515 295h0M1495 295h0M1504 294h0M1514 294h0M1515 294h0M1498 293h0M1515 293h0M1500 292h0M1513 292h0M1502 291h0M1515 291h0M1498 291h0M1519 290h0M1513 290h0M1522 289h0M1499 289h0M1502 288h0M1518 288h0M1502 288h0M1512 287h0M1517 287h0M1524 287h0M1520 286h0M1497 286h0M1516 285h0M1503 285h0M1518 285h0M1503 284h0M1515 284h0M1513 284h0M1525 283h0M1516 283h0M1514 282h0M1502 282h0M1512 281h0M1492 281h0M1519 281h0M1521 280h0M1514 279h0M1513 278h0M1514 278h0M1503 277h0M1516 277h0M1494 276h0M1496 275h0M1495 275h0M1498 274h0M1560 273h0M1513 272h0M1496 271h0M1502 270h0M1520 269h0M1514 268h0M1524 268h0M1521 267h0M1519 265h0M1496 265h0M1500 263h0M1517 261h0M1497 261h0M1521 260h0M1495 259h0M1520 258h0M1526 257h0M1522 257h0M1501 256h0M1521 254h0M1488 253h0M1522 251h0M1499 249h0M1498 247h0M1518 246h0M1537 243h0M1495 242h0M1492 240h0M1498 240h0M1548 236h0M1497 234h0M1512 233h0M1484 230h0M1482 225h0M1530 222h0M1489 218h0M1479 215h0M1523 214h0M1519 211h0M1530 204h0M1498 197h0M1518 185h0" stroke="#bdbdbd" stroke-opacity=".5" stroke-width="9.2" stroke-linecap="round"/><path d="M1508 362h0M1508 362h0M1508 362h0M1508 362h0M1508 362h0M1508 362h0M1508 362h0M1508 362h0M1509 362h0M1508 362h0M1508 361h0M1508 361h0M1508 361h0M1508 361h0M1506 361h0M1508 361h0M1509 361h0M1510 361h0M1508 361h0M1508 361h0M1507 361h0M1508 361h0M1508 361h0M1508 361h0M1510 361h0M1509 361h0M1509 361h0M1510 361h0M1506 361h0M1508 361h0M1508 360h0M1509 360h0M1508 360h0M1506 360h0M1508 360h0M1508 360h0M1508 360h0M1508 360h0M1507 360h0M1506 360h0M1512 360h0M1508 360h0M1511 360h0M1510 360h0M1509 360h0M1508 360h0M1508 360h0M1508 360h0M1512 360h0M1506 360h0M1509 360h0M1509 359h0M1508 359h0M1507 359h0M1508 359h0M1508 359h0M1506 359h0M1505 359h0M1508 359h0M1506 359h0M1509 359h0M1508 359h0M1509 359h0M1505 359h0M1508 359h0M1508 359h0M1504 359h0M1508 359h0M1508 359h0M1509 358h0M1506 358h0M1509 358h0M1509 358h0M1509 358h0M1508 358h0M1502 358h0M1509 358h0M1507 358h0M1508 358h0M1507 358h0M1507 358h0M1509 358h0M1509 358h0M1507 358h0M1509 357h0M1510 357h0M1509 357h0M1510 357h0M1509 357h0M1509 357h0M1509 357h0M1509 357h0M1513 357h0M1518 357h0M1501 357h0M1507 357h0M1507 357h0M1514 357h0M1509 357h0M1509 357h0M1501 356h0M1501 356h0M1509 356h0M1513 356h0M1509 356h0M1507 356h0M1513 356h0M1503 356h0M1509 356h0M1509 356h0M1509 356h0M1518 356h0M1508 356h0M1503 356h0M1509 356h0M1511 356h0M1507 356h0M1516 355h0M1524 355h0M1508 355h0M1506 355h0M1509 355h0M1507 355h0M1509 355h0M1510 355h0M1503 355h0M1509 355h0M1501 355h0M1510 355h0M1507 354h0M1516 354h0M1514 354h0M1509 354h0M1509 354h0M1516 354h0M1509 354h0M1509 354h0M1513 354h0M1509 354h0M1508 354h0M1517 354h0M1502 354h0M1504 354h0M1522 353h0M1499 353h0M1512 353h0M1507 353h0M1506 353h0M1509 353h0M1507 353h0M1508 353h0M1507 353h0M1499 353h0M1510 353h0M1511 353h0M1519 353h0M1509 353h0M1509 353h0M1510 353h0M1506 353h0M1507 352h0M1510 352h0M1506 352h0M1516 352h0M1510 352h0M1507 352h0M1526 352h0M1507 352h0M1514 352h0M1499 352h0M1507 352h0M1510 352h0M1512 352h0M1506 352h0M1509 351h0M1500 351h0M1507 351h0M1507 351h0M1506 351h0M1507 351h0M1506 351h0M1510 351h0M1509 351h0M1506 351h0M1500 351h0M1510 351h0M1507 351h0M1519 351h0M1510 350h0M1510 350h0M1509 350h0M1523 350h0M1526 350h0M1509 350h0M1490 350h0M1517 350h0M1515 350h0M1499 350h0M1512 350h0M1509 350h0M1521 350h0M1506 350h0M1511 349h0M1510 349h0M1521 349h0M1510 349h0M1511 349h0M1516 349h0M1510 349h0M1510 349h0M1498 349h0M1492 349h0M1506 349h0M1513 349h0M1510 349h0M1505 348h0M1506 348h0M1506 348h0M1518 348h0M1510 348h0M1509 348h0M1510 348h0M1510 348h0M1506 348h0M1505 348h0M1507 348h0M1510 347h0M1506 347h0M1500 347h0M1506 347h0M1509 347h0M1514 347h0M1514 347h0M1488 347h0M1507 347h0M1524 347h0M1506 347h0M1499 347h0M1499 347h0M1540 346h0M1510 346h0M1521 346h0M1507 346h0M1511 346h0M1511 346h0M1516 346h0M1513 346h0M1512 346h0M1507 346h0M1523 346h0M1506 346h0M1511 345h0M1506 345h0M1507 345h0M1479 345h0M1512 345h0M1494 345h0M1507 345h0M1490 345h0M1509 345h0M1504 345h0M1465 344h0M1523 344h0M1504 344h0M1507 344h0M1505 344h0M1510 344h0M1506 344h0M1512 344h0M1505 344h0M1507 344h0M1510 344h0M1509 343h0M1506 343h0M1506 343h0M1534 343h0M1507 343h0M1510 343h0M1513 343h0M1511 343h0M1509 343h0M1506 343h0M1506 342h0M1506 342h0M1510 342h0M1517 342h0M1506 342h0M1490 342h0M1511 342h0M1511 342h0M1477 342h0M1501 342h0M1512 341h0M1490 341h0M1511 341h0M1513 341h0M1506 341h0M1516 341h0M1478 341h0M1507 341h0M1572 341h0M1493 341h0M1511 341h0M1487 340h0M1526 340h0M1505 340h0M1541 340h0M1530 340h0M1512 340h0M1503 340h0M1486 340h0M1506 340h0M1553 339h0M1506 339h0M1506 339h0M1504 339h0M1523 339h0M1511 339h0M1481 339h0M1512 339h0M1511 338h0M1507 338h0M1485 338h0M1503 338h0M1470 338h0M1512 338h0M1495 338h0M1511 338h0M1520 338h0M1511 338h0M1510 337h0M1525 337h0M1505 337h0M1512 337h0M1505 337h0M1511 337h0M1528 337h0M1505 337h0M1511 336h0M1504 336h0M1506 336h0M1495 336h0M1551 336h0M1483 336h0M1527 336h0M1502 336h0M1512 336h0M1501 336h0M1483 336h0M1537 336h0M1518 335h0M1511 335h0M1505 335h0M1527 335h0M1513 335h0M1510 335h0M1504 334h0M1513 334h0M1505 334h0M1437 334h0M1514 334h0M1502 334h0M1503 334h0M1510 334h0M1514 334h0M1503 333h0M1473 333h0M1478 333h0M1540 333h0M1473 333h0M1541 333h0M1475 333h0M1533 333h0M1503 333h0M1493 333h0M1510 332h0M1511 332h0M1511 332h0M1511 332h0M1501 332h0M1511 332h0M1506 332h0M1501 332h0M1510 332h0M1468 332h0M1541 331h0M1494 331h0M1505 331h0M1512 331h0M1505 331h0M1511 331h0M1511 331h0M1484 331h0M1511 330h0M1494 330h0M1518 330h0M1511 330h0M1513 330h0M1527 330h0M1503 330h0M1547 330h0M1495 330h0M1461 330h0M1515 329h0M1513 329h0M1520 329h0M1504 329h0M1471 329h0M1477 329h0M1505 329h0M1512 328h0M1512 328h0M1511 328h0M1521 328h0M1510 328h0M1506 328h0M1506 327h0M1511 327h0M1532 327h0M1503 327h0M1511 327h0M1505 327h0M1502 326h0M1457 326h0M1512 326h0M1512 326h0M1504 326h0M1533 325h0M1512 325h0M1505 325h0M1505 325h0M1467 325h0M1522 325h0M1516 325h0M1503 324h0M1511 324h0M1522 324h0M1512 324h0M1505 324h0M1498 323h0M1512 323h0M1505 323h0M1502 323h0M1515 323h0M1502 323h0M1513 322h0M1511 322h0M1514 322h0M1502 322h0M1511 322h0M1531 322h0M1513 322h0M1532 322h0M1504 321h0M1469 321h0M1468 321h0M1518 321h0M1512 321h0M1512 320h0M1504 320h0M1454 320h0M1559 320h0M1505 319h0M1514 319h0M1504 319h0M1514 319h0M1512 319h0M1509 319h0M1510 319h0M1513 318h0M1569 318h0M1512 318h0M1524 318h0M1505 318h0M1514 317h0M1503 317h0M1544 317h0M1586 317h0M1504 316h0M1523 316h0M1514 316h0M1497 316h0M1515 316h0M1486 316h0M1505 315h0M1506 315h0M1448 315h0M1514 315h0M1496 314h0M1460 314h0M1499 314h0M1548 313h0M1545 313h0M1502 313h0M1515 313h0M1519 313h0M1500 313h0M1504 312h0M1469 312h0M1505 312h0M1503 312h0M1501 312h0M1551 312h0M1517 311h0M1514 311h0M1489 311h0M1505 311h0M1503 311h0M1505 310h0M1504 310h0M1489 310h0M1429 310h0M1504 309h0M1513 309h0M1502 309h0M1541 309h0M1576 309h0M1511 308h0M1512 308h0M1518 308h0M1513 308h0M1502 307h0M1535 307h0M1504 307h0M1543 306h0M1489 306h0M1516 306h0M1511 305h0M1506 305h0M1502 305h0M1515 305h0M1513 304h0M1498 304h0M1502 303h0M1518 303h0M1503 303h0M1504 302h0M1517 302h0M1499 302h0M1503 301h0M1485 301h0M1547 300h0M1500 300h0M1521 300h0M1514 299h0M1500 299h0M1519 298h0M1500 298h0M1504 298h0M1518 297h0M1501 297h0M1516 297h0M1564 296h0M1515 296h0M1561 296h0M1523 296h0M1518 295h0M1518 295h0M1516 294h0M1514 294h0M1516 294h0M1449 293h0M1501 293h0M1514 292h0M1515 292h0M1500 291h0M1516 291h0M1502 291h0M1517 290h0M1498 290h0M1476 289h0M1497 289h0M1512 288h0M1524 288h0M1520 288h0M1500 287h0M1498 287h0M1482 287h0M1493 286h0M1559 286h0M1499 285h0M1515 285h0M1533 285h0M1516 284h0M1503 284h0M1521 284h0M1500 283h0M1493 283h0M1519 282h0M1555 282h0M1502 281h0M1519 281h0M1512 280h0M1501 280h0M1516 279h0M1503 278h0M1577 278h0M1488 277h0M1503 277h0M1502 276h0M1505 275h0M1502 275h0M1516 274h0M1523 273h0M1517 272h0M1494 271h0M1517 270h0M1516 269h0M1497 268h0M1486 267h0M1503 267h0M1513 265h0M1499 265h0M1520 263h0M1522 261h0M1501 261h0M1494 260h0M1519 259h0M1492 258h0M1497 257h0M1495 257h0M1494 255h0M1491 254h0M1492 252h0M1521 250h0M1491 249h0M1525 247h0M1530 246h0M1497 243h0M1492 241h0M1498 240h0M1495 239h0M1483 236h0M1488 234h0M1533 233h0M1497 228h0M1475 225h0M1525 220h0M1536 218h0M1489 215h0M1484 213h0M1521 210h0M1543 204h0M1491 196h0" stroke="#bdbdbd" stroke-opacity=".5" stroke-width="9.2" stroke-linecap="round"/><path d="M1508 362h0M1508 362h0M1508 362h0M1508 362h0M1509 362h0M1508 362h0M1508 362h0M1508 362h0M1508 362h0M1508 362h0M1507 361h0M1508 361h0M1507 361h0M1508 361h0M1508 361h0M1508 361h0M1509 361h0M1507 361h0M1508 361h0M1507 361h0M1508 361h0M1508 361h0M1508 361h0M1509 361h0M1508 361h0M1508 361h0M1508 361h0M1507 361h0M1508 361h0M1507 361h0M1508 360h0M1508 360h0M1509 360h0M1508 360h0M1508 360h0M1505 360h0M1508 360h0M1511 360h0M1506 360h0M1505 360h0M1509 360h0M1509 360h0M1508 360h0M1508 360h0M1508 360h0M1508 360h0M1509 360h0M1509 360h0M1508 360h0M1511 360h0M1508 359h0M1503 359h0M1508 359h0M1508 359h0M1511 359h0M1509 359h0M1509 359h0M1508 359h0M1508 359h0M1510 359h0M1509 359h0M1509 359h0M1508 359h0M1511 359h0M1508 359h0M1507 359h0M1509 359h0M1515 359h0M1504 358h0M1507 358h0M1512 358h0M1508 358h0M1508 358h0M1517 358h0M1515 358h0M1507 358h0M1508 358h0M1515 358h0M1509 358h0M1508 358h0M1514 358h0M1504 358h0M1509 358h0M1507 358h0M1504 357h0M1509 357h0M1504 357h0M1512 357h0M1509 357h0M1507 357h0M1503 357h0M1507 357h0M1502 357h0M1509 357h0M1508 357h0M1502 357h0M1508 357h0M1509 357h0M1508 357h0M1524 357h0M1507 356h0M1510 356h0M1504 356h0M1507 356h0M1509 356h0M1509 356h0M1509 356h0M1515 356h0M1510 356h0M1507 356h0M1516 356h0M1515 356h0M1509 356h0M1509 356h0M1507 356h0M1494 356h0M1509 355h0M1507 355h0M1510 355h0M1509 355h0M1517 355h0M1508 355h0M1509 355h0M1503 355h0M1506 355h0M1521 355h0M1522 355h0M1507 355h0M1507 354h0M1518 354h0M1516 354h0M1509 354h0M1502 354h0M1515 354h0M1500 354h0M1517 354h0M1502 354h0M1507 354h0M1507 354h0M1509 354h0M1509 354h0M1510 354h0M1509 354h0M1517 353h0M1498 353h0M1508 353h0M1509 353h0M1507 353h0M1509 353h0M1503 353h0M1513 353h0M1510 353h0M1509 353h0M1501 353h0M1516 353h0M1511 353h0M1506 353h0M1519 353h0M1515 353h0M1509 353h0M1510 352h0M1510 352h0M1505 352h0M1493 352h0M1516 352h0M1510 352h0M1502 352h0M1518 352h0M1506 352h0M1509 352h0M1507 352h0M1505 352h0M1509 352h0M1507 352h0M1499 351h0M1514 351h0M1509 351h0M1487 351h0M1509 351h0M1514 351h0M1496 351h0M1507 351h0M1502 351h0M1511 351h0M1516 351h0M1506 351h0M1497 351h0M1507 351h0M1507 350h0M1520 350h0M1522 350h0M1521 350h0M1505 350h0M1509 350h0M1499 350h0M1509 350h0M1504 350h0M1479 350h0M1489 350h0M1503 350h0M1509 350h0M1500 349h0M1506 349h0M1496 349h0M1511 349h0M1507 349h0M1509 349h0M1496 349h0M1520 349h0M1511 349h0M1525 349h0M1516 349h0M1495 349h0M1507 349h0M1510 349h0M1520 348h0M1509 348h0M1530 348h0M1510 348h0M1511 348h0M1509 348h0M1510 348h0M1477 348h0M1505 348h0M1510 348h0M1510 348h0M1526 347h0M1500 347h0M1510 347h0M1509 347h0M1513 347h0M1510 347h0M1505 347h0M1510 347h0M1504 347h0M1507 347h0M1510 347h0M1507 347h0M1527 347h0M1510 346h0M1515 346h0M1510 346h0M1504 346h0M1509 346h0M1509 346h0M1511 346h0M1509 346h0M1519 346h0M1512 346h0M1477 346h0M1507 346h0M1489 345h0M1499 345h0M1506 345h0M1509 345h0M1506 345h0M1499 345h0M1527 345h0M1532 345h0M1506 345h0M1512 345h0M1504 344h0M1505 344h0M1509 344h0M1510 344h0M1505 344h0M1511 344h0M1524 344h0M1506 344h0M1495 344h0M1519 344h0M1531 344h0M1505 343h0M1492 343h0M1490 343h0M1526 343h0M1505 343h0M1482 343h0M1512 343h0M1511 343h0M1518 343h0M1505 343h0M1507 342h0M1505 342h0M1505 342h0M1512 342h0M1511 342h0M1505 342h0M1510 342h0M1512 342h0M1509 342h0M1505 342h0M1490 341h0M1511 341h0M1510 341h0M1505 341h0M1510 341h0M1505 341h0M1506 341h0M1511 341h0M1498 341h0M1519 341h0M1530 341h0M1479 340h0M1511 340h0M1491 340h0M1510 340h0M1506 340h0M1529 340h0M1505 340h0M1504 340h0M1505 340h0M1506 339h0M1506 339h0M1480 339h0M1510 339h0M1513 339h0M1505 339h0M1536 339h0M1504 339h0M1513 338h0M1504 338h0M1511 338h0M1506 338h0M1505 338h0M1505 338h0M1512 338h0M1510 338h0M1524 338h0M1531 337h0M1511 337h0M1486 337h0M1493 337h0M1511 337h0M1510 337h0M1504 337h0M1512 337h0M1481 336h0M1511 336h0M1511 336h0M1533 336h0M1529 336h0M1510 336h0M1506 336h0M1470 336h0M1510 336h0M1528 336h0M1511 336h0M1502 336h0M1504 336h0M1516 335h0M1504 335h0M1512 335h0M1489 335h0M1456 335h0M1513 335h0M1500 334h0M1486 334h0M1505 334h0M1510 334h0M1512 334h0M1510 334h0M1510 334h0M1512 334h0M1506 333h0M1560 333h0M1514 333h0M1562 333h0M1512 333h0M1506 333h0M1502 333h0M1504 333h0M1511 333h0M1479 333h0M1523 332h0M1504 332h0M1510 332h0M1501 332h0M1511 332h0M1546 332h0M1511 332h0M1502 332h0M1504 332h0M1512 332h0M1531 331h0M1492 331h0M1511 331h0M1507 331h0M1511 331h0M1512 331h0M1511 331h0M1539 331h0M1504 331h0M1514 330h0M1539 330h0M1492 330h0M1519 330h0M1506 330h0M1484 330h0M1504 330h0M1510 330h0M1426 330h0M1500 330h0M1470 329h0M1509 329h0M1468 329h0M1505 329h0M1501 329h0M1505 329h0M1512 329h0M1486 328h0M1513 328h0M1512 328h0M1504 328h0M1513 328h0M1506 328h0M1515 327h0M1513 327h0M1506 327h0M1504 327h0M1551 327h0M1535 327h0M1511 326h0M1497 326h0M1512 326h0M1505 326h0M1505 326h0M1512 325h0M1482 325h0M1537 325h0M1505 325h0M1484 325h0M1511 325h0M1501 325h0M1475 324h0M1512 324h0M1505 324h0M1504 324h0M1524 324h0M1527 323h0M1566 323h0M1512 323h0M1507 323h0M1510 323h0M1513 323h0M1503 322h0M1503 322h0M1510 322h0M1560 322h0M1456 322h0M1513 322h0M1505 322h0M1506 322h0M1510 321h0M1513 321h0M1538 321h0M1480 321h0M1512 321h0M1513 320h0M1503 320h0M1561 320h0M1500 320h0M1511 319h0M1501 319h0M1502 319h0M1478 319h0M1516 319h0M1484 319h0M1480 319h0M1511 318h0M1504 318h0M1478 318h0M1493 318h0M1512 318h0M1516 317h0M1513 317h0M1532 317h0M1463 317h0M1514 316h0M1517 316h0M1511 316h0M1514 316h0M1519 316h0M1510 315h0M1515 315h0M1502 315h0M1468 315h0M1504 314h0M1517 314h0M1501 314h0M1503 314h0M1514 313h0M1514 313h0M1506 313h0M1519 313h0M1502 313h0M1561 313h0M1471 312h0M1514 312h0M1506 312h0M1506 312h0M1504 312h0M1497 311h0M1515 311h0M1501 311h0M1511 311h0M1426 311h0M1503 310h0M1547 310h0M1504 310h0M1499 310h0M1520 310h0M1500 309h0M1503 309h0M1455 309h0M1514 309h0M1513 309h0M1503 308h0M1504 308h0M1515 308h0M1505 308h0M1504 307h0M1498 307h0M1472 307h0M1514 306h0M1535 306h0M1503 306h0M1515 305h0M1514 305h0M1506 305h0M1512 304h0M1512 304h0M1518 304h0M1503 303h0M1471 303h0M1511 303h0M1554 302h0M1502 302h0M1524 302h0M1500 301h0M1503 301h0M1513 300h0M1515 300h0M1524 300h0M1504 299h0M1502 299h0M1503 298h0M1495 298h0M1512 298h0M1494 297h0M1519 297h0M1448 297h0M1503 296h0M1520 296h0M1514 296h0M1533 296h0M1502 295h0M1499 294h0M1500 294h0M1503 294h0M1521 294h0M1453 293h0M1518 292h0M1505 292h0M1514 292h0M1504 291h0M1515 291h0M1515 291h0M1513 290h0M1502 290h0M1500 289h0M1519 289h0M1514 288h0M1520 288h0M1523 288h0M1517 287h0M1518 287h0M1519 287h0M1497 286h0M1500 286h0M1520 285h0M1515 285h0M1517 285h0M1505 284h0M1495 284h0M1502 284h0M1516 283h0M1499 283h0M1571 282h0M1520 282h0M1499 281h0M1515 281h0M1503 280h0M1547 280h0M1499 279h0M1517 278h0M1499 278h0M1519 277h0M1498 276h0M1494 276h0M1518 275h0M1517 274h0M1497 274h0M1520 273h0M1503 272h0M1522 270h0M1523 270h0M1476 269h0M1498 268h0M1496 267h0M1501 266h0M1500 265h0M1513 265h0M1515 262h0M1517 261h0M1500 260h0M1495 260h0M1524 259h0M1517 258h0M1503 257h0M1492 256h0M1527 255h0M1497 254h0M1498 251h0M1501 250h0M1496 248h0M1494 247h0M1494 246h0M1499 243h0M1498 241h0M1491 240h0M1468 239h0M1494 236h0M1527 234h0M1485 233h0M1492 228h0M1488 224h0M1494 220h0M1502 218h0M1497 215h0M1492 212h0M1478 208h0M1535 203h0M1480 195h0" stroke="#bdbdbd" stroke-opacity=".5" stroke-width="9.2" stroke-linecap="round"/><path d="M1508 362h0M1508 362h0M1508 362h0M1508 362h0M1508 362h0M1509 362h0M1508 362h0M1509 362h0M1509 362h0M1508 362h0M1508 361h0M1508 361h0M1508 361h0M1508 361h0M1508 361h0M1510 361h0M1507 361h0M1508 361h0M1508 361h0M1508 361h0M1509 361h0M1510 361h0M1509 361h0M1508 361h0M1508 361h0M1505 361h0M1509 361h0M1508 361h0M1508 361h0M1508 361h0M1508 360h0M1506 360h0M1509 360h0M1508 360h0M1508 360h0M1509 360h0M1512 360h0M1509 360h0M1508 360h0M1510 360h0M1508 360h0M1508 360h0M1508 360h0M1504 360h0M1508 360h0M1511 360h0M1508 360h0M1505 360h0M1505 360h0M1509 360h0M1509 359h0M1512 359h0M1504 359h0M1509 359h0M1508 359h0M1509 359h0M1508 359h0M1507 359h0M1505 359h0M1509 359h0M1512 359h0M1508 359h0M1512 359h0M1510 359h0M1513 359h0M1508 359h0M1509 359h0M1503 359h0M1503 358h0M1512 358h0M1507 358h0M1509 358h0M1514 358h0M1509 358h0M1509 358h0M1505 358h0M1508 358h0M1508 358h0M1505 358h0M1508 358h0M1513 358h0M1509 358h0M1508 358h0M1509 358h0M1513 357h0M1509 357h0M1511 357h0M1505 357h0M1504 357h0M1512 357h0M1504 357h0M1509 357h0M1508 357h0M1509 357h0M1501 357h0M1509 357h0M1508 357h0M1500 357h0M1509 357h0M1507 357h0M1513 356h0M1500 356h0M1507 356h0M1504 356h0M1509 356h0M1502 356h0M1503 356h0M1509 356h0M1509 356h0M1517 356h0M1511 356h0M1500 356h0M1519 356h0M1509 356h0M1509 356h0M1512 356h0M1512 355h0M1502 355h0M1509 355h0M1502 355h0M1499 355h0M1515 355h0M1509 355h0M1504 355h0M1507 355h0M1509 355h0M1508 355h0M1509 355h0M1509 354h0M1507 354h0M1509 354h0M1507 354h0M1507 354h0M1508 354h0M1507 354h0M1507 354h0M1507 354h0M1513 354h0M1503 354h0M1507 354h0M1509 354h0M1509 354h0M1506 354h0M1508 353h0M1509 353h0M1507 353h0M1520 353h0M1507 353h0M1507 353h0M1499 353h0M1507 353h0M1509 353h0M1495 353h0M1514 353h0M1509 353h0M1509 353h0M1510 353h0M1507 353h0M1500 353h0M1510 352h0M1509 352h0M1494 352h0M1509 352h0M1507 352h0M1517 352h0M1507 352h0M1509 352h0M1507 352h0M1506 352h0M1507 352h0M1495 352h0M1509 352h0M1508 352h0M1510 352h0M1498 351h0M1509 351h0M1494 351h0M1508 351h0M1511 351h0M1505 351h0M1490 351h0M1501 351h0M1507 351h0M1511 351h0M1528 351h0M1494 351h0M1507 351h0M1494 351h0M1510 350h0M1500 350h0M1506 350h0M1510 350h0M1527 350h0M1510 350h0M1506 350h0M1501 350h0M1509 350h0M1496 350h0M1507 350h0M1510 350h0M1510 350h0M1507 349h0M1478 349h0M1473 349h0M1510 349h0M1507 349h0M1507 349h0M1506 349h0M1517 349h0M1511 349h0M1507 349h0M1492 349h0M1510 349h0M1509 349h0M1527 349h0M1507 348h0M1502 348h0M1511 348h0M1507 348h0M1519 348h0M1511 348h0M1509 348h0M1493 348h0M1506 348h0M1499 348h0M1510 348h0M1506 347h0M1495 347h0M1510 347h0M1510 347h0M1510 347h0M1505 347h0M1506 347h0M1507 347h0M1510 347h0M1492 347h0M1517 347h0M1518 347h0M1508 347h0M1507 346h0M1505 346h0M1505 346h0M1499 346h0M1529 346h0M1505 346h0M1504 346h0M1505 346h0M1486 346h0M1485 346h0M1525 346h0M1506 346h0M1505 345h0M1511 345h0M1494 345h0M1494 345h0M1506 345h0M1510 345h0M1521 345h0M1506 345h0M1505 345h0M1520 345h0M1511 344h0M1497 344h0M1507 344h0M1495 344h0M1528 344h0M1512 344h0M1487 344h0M1491 344h0M1510 344h0M1505 344h0M1505 344h0M1468 343h0M1505 343h0M1471 343h0M1507 343h0M1511 343h0M1513 343h0M1524 343h0M1515 343h0M1513 343h0M1506 343h0M1505 342h0M1506 342h0M1504 342h0M1496 342h0M1505 342h0M1520 342h0M1506 342h0M1510 342h0M1507 342h0M1504 342h0M1510 341h0M1505 341h0M1527 341h0M1511 341h0M1497 341h0M1511 341h0M1526 341h0M1465 341h0M1507 341h0M1499 341h0M1514 341h0M1492 340h0M1503 340h0M1469 340h0M1510 340h0M1507 340h0M1535 340h0M1503 340h0M1510 340h0M1495 340h0M1512 339h0M1511 339h0M1511 339h0M1510 339h0M1510 339h0M1506 339h0M1480 339h0M1507 339h0M1522 338h0M1504 338h0M1506 338h0M1478 338h0M1531 338h0M1542 338h0M1511 338h0M1460 338h0M1482 338h0M1526 337h0M1510 337h0M1506 337h0M1549 337h0M1509 337h0M1445 337h0M1484 337h0M1506 337h0M1506 336h0M1507 336h0M1510 336h0M1506 336h0M1512 336h0M1514 336h0M1514 336h0M1510 336h0M1510 336h0M1505 336h0M1506 336h0M1507 336h0M1509 336h0M1528 335h0M1537 335h0M1510 335h0M1570 335h0M1507 335h0M1506 335h0M1506 334h0M1505 334h0M1478 334h0M1467 334h0M1496 334h0M1528 334h0M1491 334h0M1502 334h0M1523 333h0M1486 333h0M1506 333h0M1510 333h0M1504 333h0M1535 333h0M1511 333h0M1473 333h0M1488 333h0M1536 333h0M1503 332h0M1512 332h0M1545 332h0M1530 332h0M1540 332h0M1478 332h0M1505 332h0M1510 332h0M1502 332h0M1511 332h0M1505 331h0M1510 331h0M1506 331h0M1504 331h0M1550 331h0M1504 331h0M1506 331h0M1512 331h0M1531 330h0M1502 330h0M1516 330h0M1504 330h0M1494 330h0M1481 330h0M1506 330h0M1527 330h0M1505 330h0M1505 330h0M1504 330h0M1519 329h0M1502 329h0M1507 329h0M1494 329h0M1542 329h0M1483 329h0M1546 329h0M1517 328h0M1547 328h0M1511 328h0M1514 328h0M1504 328h0M1533 328h0M1507 327h0M1512 327h0M1514 327h0M1514 327h0M1471 327h0M1503 326h0M1501 326h0M1521 326h0M1448 326h0M1504 326h0M1505 326h0M1512 325h0M1502 325h0M1511 325h0M1475 325h0M1517 325h0M1511 325h0M1504 324h0M1503 324h0M1537 324h0M1511 324h0M1514 324h0M1473 324h0M1513 323h0M1515 323h0M1485 323h0M1475 323h0M1504 323h0M1506 323h0M1520 322h0M1512 322h0M1510 322h0M1534 322h0M1456 322h0M1511 322h0M1502 322h0M1469 321h0M1515 321h0M1491 321h0M1532 321h0M1501 321h0M1513 320h0M1511 320h0M1505 320h0M1506 320h0M1511 320h0M1467 319h0M1449 319h0M1512 319h0M1511 319h0M1503 319h0M1518 319h0M1572 319h0M1510 318h0M1503 318h0M1513 318h0M1467 318h0M1502 318h0M1515 317h0M1531 317h0M1490 317h0M1560 317h0M1489 316h0M1555 316h0M1502 316h0M1565 316h0M1446 316h0M1517 315h0M1505 315h0M1533 315h0M1506 315h0M1502 314h0M1503 314h0M1500 314h0M1515 314h0M1515 313h0M1514 313h0M1501 313h0M1503 313h0M1511 313h0M1511 312h0M1537 312h0M1538 312h0M1511 312h0M1511 312h0M1515 312h0M1502 311h0M1517 311h0M1504 311h0M1513 311h0M1516 311h0M1505 310h0M1519 310h0M1514 310h0M1517 310h0M1503 310h0M1513 309h0M1500 309h0M1503 309h0M1505 309h0M1476 308h0M1504 308h0M1503 308h0M1504 308h0M1513 308h0M1571 307h0M1516 307h0M1501 307h0M1515 306h0M1506 306h0M1514 306h0M1469 305h0M1584 305h0M1511 305h0M1465 304h0M1484 304h0M1518 304h0M1464 303h0M1449 303h0M1502 303h0M1515 302h0M1503 302h0M1511 302h0M1514 301h0M1507 301h0M1506 300h0M1513 300h0M1518 300h0M1437 299h0M1505 299h0M1512 298h0M1512 298h0M1502 298h0M1445 297h0M1441 297h0M1501 297h0M1518 296h0M1518 296h0M1515 296h0M1522 296h0M1498 295h0M1515 294h0M1500 294h0M1497 294h0M1512 294h0M1505 293h0M1514 292h0M1501 292h0M1512 292h0M1512 291h0M1500 291h0M1441 291h0M1431 290h0M1516 289h0M1503 289h0M1503 289h0M1504 288h0M1517 288h0M1515 287h0M1498 287h0M1495 287h0M1510 287h0M1463 286h0M1499 286h0M1433 285h0M1514 285h0M1513 285h0M1514 284h0M1505 284h0M1501 284h0M1499 283h0M1520 283h0M1520 282h0M1490 282h0M1524 281h0M1515 281h0M1498 280h0M1516 280h0M1494 279h0M1501 278h0M1429 278h0M1500 277h0M1516 276h0M1517 276h0M1524 275h0M1515 274h0M1527 274h0M1524 273h0M1498 272h0M1492 270h0M1499 269h0M1513 268h0M1497 268h0M1479 267h0M1499 266h0M1519 265h0M1522 264h0M1517 262h0M1514 261h0M1501 260h0M1488 260h0M1499 259h0M1514 258h0M1494 257h0M1493 256h0M1516 255h0M1488 253h0M1501 251h0M1468 250h0M1501 248h0M1488 247h0M1503 246h0M1522 242h0M1492 241h0M1484 240h0M1520 238h0M1523 235h0M1498 233h0M1487 232h0M1495 227h0M1517 224h0M1524 219h0M1481 217h0M1528 215h0M1525 212h0M1490 207h0M1552 203h0M1561 194h0" stroke="#bdbdbd" stroke-opacity=".5" stroke-width="9.2" stroke-linecap="round"/><path d="M1508 362h0M1508 362h0M1508 362h0M1508 362h0M1508 362h0M1509 362h0M1508 362h0M1508 362h0M1507 362h0M1508 361h0M1508 361h0M1508 361h0M1508 361h0M1508 361h0M1508 361h0M1508 361h0M1507 361h0M1508 361h0M1507 361h0M1508 361h0M1508 361h0M1511 361h0M1508 361h0M1507 361h0M1506 361h0M1507 361h0M1508 361h0M1509 361h0M1508 361h0M1508 361h0M1506 360h0M1509 360h0M1508 360h0M1509 360h0M1511 360h0M1508 360h0M1509 360h0M1505 360h0M1509 360h0M1506 360h0M1508 360h0M1511 360h0M1504 360h0M1513 360h0M1501 360h0M1509 360h0M1510 360h0M1509 360h0M1508 360h0M1508 360h0M1507 359h0M1509 359h0M1512 359h0M1509 359h0M1503 359h0M1509 359h0M1512 359h0M1508 359h0M1514 359h0M1508 359h0M1512 359h0M1509 359h0M1509 359h0M1510 359h0M1509 359h0M1509 359h0M1515 359h0M1508 359h0M1500 358h0M1505 358h0M1508 358h0M1504 358h0M1509 358h0M1506 358h0M1503 358h0M1508 358h0M1507 358h0M1517 358h0M1501 358h0M1508 358h0M1509 358h0M1517 358h0M1507 358h0M1507 358h0M1515 357h0M1507 357h0M1510 357h0M1507 357h0M1517 357h0M1509 357h0M1497 357h0M1509 357h0M1509 357h0M1516 357h0M1507 357h0M1509 357h0M1507 357h0M1509 357h0M1511 357h0M1509 357h0M1507 356h0M1510 356h0M1506 356h0M1509 356h0M1508 356h0M1512 356h0M1516 356h0M1508 356h0M1509 356h0M1510 356h0M1507 356h0M1515 356h0M1505 356h0M1509 356h0M1509 356h0M1511 356h0M1507 355h0M1522 355h0M1513 355h0M1509 355h0M1521 355h0M1508 355h0M1495 355h0M1513 355h0M1507 355h0M1499 355h0M1501 355h0M1485 355h0M1509 354h0M1514 354h0M1512 354h0M1506 354h0M1510 354h0M1507 354h0M1488 354h0M1507 354h0M1508 354h0M1507 354h0M1513 354h0M1508 354h0M1509 354h0M1508 354h0M1514 354h0M1507 353h0M1508 353h0M1507 353h0M1509 353h0M1509 353h0M1509 353h0M1509 353h0M1515 353h0M1509 353h0M1507 353h0M1521 353h0M1507 353h0M1511 353h0M1514 353h0M1507 353h0M1509 353h0M1507 352h0M1502 352h0M1482 352h0M1507 352h0M1506 352h0M1509 352h0M1515 352h0M1508 352h0M1514 352h0M1507 352h0M1518 352h0M1515 352h0M1490 352h0M1507 352h0M1504 351h0M1507 351h0M1501 351h0M1509 351h0M1507 351h0M1506 351h0M1507 351h0M1507 351h0M1499 351h0M1509 351h0M1506 351h0M1507 351h0M1525 351h0M1518 351h0M1525 351h0M1506 350h0M1507 350h0M1519 350h0M1507 350h0M1507 350h0M1525 350h0M1493 350h0M1509 350h0M1510 350h0M1509 350h0M1524 350h0M1507 350h0M1506 350h0M1506 349h0M1506 349h0M1528 349h0M1499 349h0M1521 349h0M1542 349h0M1490 349h0M1519 349h0M1506 349h0M1509 349h0M1510 349h0M1511 349h0M1507 349h0M1511 348h0M1510 348h0M1510 348h0M1506 348h0M1511 348h0M1522 348h0M1509 348h0M1506 348h0M1506 348h0M1479 348h0M1505 348h0M1507 348h0M1527 347h0M1507 347h0M1515 347h0M1510 347h0M1512 347h0M1528 347h0M1520 347h0M1510 347h0M1506 347h0M1509 347h0M1506 347h0M1509 347h0M1523 347h0M1479 346h0M1510 346h0M1524 346h0M1511 346h0M1512 346h0M1506 346h0M1497 346h0M1513 346h0M1511 346h0M1505 346h0M1520 346h0M1532 346h0M1487 345h0M1522 345h0M1509 345h0M1494 345h0M1510 345h0M1509 345h0M1510 345h0M1511 345h0M1505 345h0M1514 345h0M1510 344h0M1504 344h0M1511 344h0M1506 344h0M1477 344h0M1509 344h0M1510 344h0M1510 344h0M1500 344h0M1490 344h0M1496 344h0M1510 343h0M1510 343h0M1511 343h0M1507 343h0M1479 343h0M1493 343h0M1510 343h0M1504 343h0M1511 343h0M1507 343h0M1505 342h0M1511 342h0M1472 342h0M1511 342h0M1507 342h0M1490 342h0M1504 342h0M1506 342h0M1505 342h0M1517 342h0M1511 341h0M1532 341h0M1511 341h0M1504 341h0M1476 341h0M1504 341h0M1504 341h0M1511 341h0M1542 341h0M1511 341h0M1487 341h0M1502 340h0M1511 340h0M1505 340h0M1491 340h0M1549 340h0M1532 340h0M1505 340h0M1540 340h0M1504 340h0M1502 339h0M1527 339h0M1498 339h0M1506 339h0M1493 339h0M1533 339h0M1523 339h0M1510 339h0M1510 338h0M1512 338h0M1549 338h0M1504 338h0M1511 338h0M1522 338h0M1511 338h0M1523 338h0M1489 338h0M1506 337h0M1507 337h0M1505 337h0M1511 337h0M1501 337h0M1510 337h0M1490 337h0M1476 337h0M1497 336h0M1548 336h0M1496 336h0M1506 336h0M1528 336h0M1473 336h0M1523 336h0M1506 336h0M1511 336h0M1507 336h0M1505 336h0M1521 336h0M1506 336h0M1485 335h0M1498 335h0M1529 335h0M1506 335h0M1465 335h0M1506 335h0M1489 334h0M1530 334h0M1506 334h0M1498 334h0M1505 334h0M1505 334h0M1506 334h0M1512 334h0M1483 333h0M1506 333h0M1512 333h0M1526 333h0M1504 333h0M1511 333h0M1525 333h0M1529 333h0M1532 333h0M1482 333h0M1494 332h0M1469 332h0M1487 332h0M1513 332h0M1512 332h0M1506 332h0M1528 332h0M1506 332h0M1512 332h0M1503 332h0M1520 331h0M1505 331h0M1473 331h0M1526 331h0M1496 331h0M1513 331h0M1513 331h0M1513 331h0M1490 330h0M1500 330h0M1504 330h0M1505 330h0M1525 330h0M1483 330h0M1505 330h0M1534 330h0M1505 330h0M1536 330h0M1511 330h0M1552 329h0M1503 329h0M1506 329h0M1512 329h0M1513 329h0M1512 329h0M1510 329h0M1505 328h0M1477 328h0M1506 328h0M1488 328h0M1511 328h0M1484 328h0M1513 327h0M1511 327h0M1510 327h0M1504 327h0M1496 327h0M1534 326h0M1532 326h0M1541 326h0M1529 326h0M1514 326h0M1515 325h0M1542 325h0M1513 325h0M1569 325h0M1550 325h0M1531 325h0M1530 325h0M1515 324h0M1513 324h0M1515 324h0M1510 324h0M1529 324h0M1505 324h0M1492 323h0M1520 323h0M1544 323h0M1511 323h0M1512 323h0M1467 323h0M1506 322h0M1511 322h0M1476 322h0M1477 322h0M1513 322h0M1504 322h0M1510 322h0M1484 321h0M1514 321h0M1516 321h0M1503 321h0M1555 321h0M1504 320h0M1505 320h0M1492 320h0M1501 320h0M1511 320h0M1510 319h0M1557 319h0M1514 319h0M1502 319h0M1505 319h0M1504 319h0M1513 319h0M1501 318h0M1521 318h0M1512 318h0M1446 318h0M1544 318h0M1517 317h0M1527 317h0M1458 317h0M1503 317h0M1511 316h0M1502 316h0M1505 316h0M1504 316h0M1502 316h0M1504 315h0M1512 315h0M1514 315h0M1519 315h0M1546 314h0M1513 314h0M1500 314h0M1514 314h0M1528 313h0M1456 313h0M1515 313h0M1457 313h0M1505 313h0M1448 312h0M1500 312h0M1499 312h0M1505 312h0M1477 312h0M1515 312h0M1505 311h0M1518 311h0M1513 311h0M1478 311h0M1519 311h0M1552 310h0M1503 310h0M1536 310h0M1511 310h0M1519 310h0M1504 309h0M1499 309h0M1515 309h0M1572 309h0M1504 308h0M1506 308h0M1506 308h0M1504 308h0M1495 307h0M1503 307h0M1518 307h0M1512 307h0M1455 306h0M1501 306h0M1464 306h0M1515 305h0M1498 305h0M1513 305h0M1517 304h0M1497 304h0M1511 304h0M1515 303h0M1536 303h0M1513 302h0M1512 302h0M1505 302h0M1496 301h0M1503 301h0M1496 300h0M1518 300h0M1505 300h0M1499 300h0M1470 299h0M1464 299h0M1504 298h0M1503 298h0M1515 298h0M1493 297h0M1547 297h0M1512 297h0M1495 296h0M1522 296h0M1499 296h0M1516 295h0M1517 295h0M1513 294h0M1427 294h0M1496 294h0M1505 294h0M1505 293h0M1499 292h0M1502 292h0M1501 292h0M1519 291h0M1493 291h0M1522 290h0M1503 290h0M1519 289h0M1491 289h0M1500 289h0M1517 288h0M1453 288h0M1516 287h0M1492 287h0M1516 287h0M1516 287h0M1520 286h0M1517 286h0M1517 285h0M1499 285h0M1515 285h0M1501 284h0M1516 284h0M1515 284h0M1517 283h0M1521 283h0M1517 282h0M1502 282h0M1517 281h0M1517 281h0M1515 280h0M1497 279h0M1496 279h0M1497 278h0M1491 277h0M1516 277h0M1518 276h0M1515 276h0M1533 275h0M1525 274h0M1527 273h0M1518 273h0M1498 272h0M1514 270h0M1502 269h0M1502 268h0M1501 268h0M1496 267h0M1495 266h0M1517 265h0M1438 264h0M1522 262h0M1499 261h0M1531 260h0M1515 259h0M1525 259h0M1513 257h0M1519 257h0M1491 256h0M1527 255h0M1516 253h0M1496 251h0M1498 250h0M1515 248h0M1512 247h0M1521 245h0M1532 242h0M1519 241h0M1497 240h0M1525 238h0M1523 235h0M1484 233h0M1496 232h0M1525 226h0M1518 224h0M1484 219h0M1518 217h0M1549 215h0M1524 212h0M1486 206h0M1554 199h0M1548 187h0" stroke="#bdbdbd" stroke-opacity=".5" stroke-width="9.2" stroke-linecap="round"/><path d="M1508 362h0M1508 362h0M1508 362h0M1508 362h0M1508 362h0M1508 362h0M1508 362h0M1508 362h0M1508 362h0M1508 361h0M1508 361h0M1508 361h0M1509 361h0M1510 361h0M1509 361h0M1508 361h0M1508 361h0M1508 361h0M1508 361h0M1509 361h0M1510 361h0M1508 361h0M1511 361h0M1508 361h0M1508 361h0M1507 361h0M1508 361h0M1507 361h0M1513 361h0M1508 361h0M1508 360h0M1509 360h0M1508 360h0M1508 360h0M1507 360h0M1508 360h0M1509 360h0M1510 360h0M1504 360h0M1510 360h0M1505 360h0M1508 360h0M1508 360h0M1507 360h0M1508 360h0M1510 360h0M1508 360h0M1508 360h0M1508 360h0M1510 360h0M1508 359h0M1505 359h0M1509 359h0M1508 359h0M1508 359h0M1508 359h0M1515 359h0M1512 359h0M1505 359h0M1508 359h0M1507 359h0M1507 359h0M1509 359h0M1509 359h0M1508 359h0M1507 359h0M1509 359h0M1509 359h0M1509 358h0M1508 358h0M1509 358h0M1500 358h0M1504 358h0M1511 358h0M1506 358h0M1507 358h0M1510 358h0M1505 358h0M1512 358h0M1511 358h0M1508 358h0M1504 358h0M1502 358h0M1509 358h0M1508 357h0M1510 357h0M1510 357h0M1509 357h0M1508 357h0M1507 357h0M1508 357h0M1513 357h0M1509 357h0M1509 357h0M1508 357h0M1503 357h0M1508 357h0M1509 357h0M1507 357h0M1508 357h0M1512 356h0M1507 356h0M1507 356h0M1509 356h0M1510 356h0M1509 356h0M1512 356h0M1514 356h0M1508 356h0M1499 356h0M1509 356h0M1507 356h0M1504 356h0M1507 356h0M1507 356h0M1513 356h0M1508 355h0M1507 355h0M1484 355h0M1507 355h0M1509 355h0M1502 355h0M1516 355h0M1507 355h0M1498 355h0M1507 355h0M1507 355h0M1508 355h0M1496 354h0M1510 354h0M1507 354h0M1508 354h0M1509 354h0M1507 354h0M1507 354h0M1514 354h0M1509 354h0M1506 354h0M1496 354h0M1505 354h0M1509 354h0M1508 354h0M1514 354h0M1509 353h0M1507 353h0M1510 353h0M1506 353h0M1510 353h0M1509 353h0M1500 353h0M1507 353h0M1510 353h0M1506 353h0M1505 353h0M1497 353h0M1506 353h0M1508 353h0M1507 353h0M1524 353h0M1509 352h0M1510 352h0M1518 352h0M1509 352h0M1507 352h0M1511 352h0M1510 352h0M1508 352h0M1509 352h0M1507 352h0M1519 352h0M1510 352h0M1507 352h0M1509 352h0M1510 351h0M1510 351h0M1511 351h0M1511 351h0M1507 351h0M1506 351h0M1495 351h0M1506 351h0M1509 351h0M1507 351h0M1510 351h0M1516 351h0M1510 351h0M1507 351h0M1510 351h0M1507 350h0M1486 350h0M1518 350h0M1515 350h0M1510 350h0M1510 350h0M1510 350h0M1509 350h0M1499 350h0M1516 350h0M1506 350h0M1506 350h0M1493 350h0M1511 349h0M1495 349h0M1494 349h0M1495 349h0M1507 349h0M1498 349h0M1530 349h0M1520 349h0M1506 349h0M1505 349h0M1499 349h0M1517 349h0M1498 349h0M1511 348h0M1506 348h0M1510 348h0M1496 348h0M1510 348h0M1501 348h0M1510 348h0M1509 348h0M1511 348h0M1511 348h0M1510 348h0M1494 347h0M1524 347h0M1507 347h0M1507 347h0M1506 347h0M1510 347h0M1510 347h0M1527 347h0M1510 347h0M1507 347h0M1506 347h0M1517 347h0M1540 347h0M1496 346h0M1506 346h0M1506 346h0M1509 346h0M1511 346h0M1506 346h0M1513 346h0M1515 346h0M1511 346h0M1506 346h0M1528 346h0M1506 346h0M1493 346h0M1539 345h0M1512 345h0M1505 345h0M1510 345h0M1523 345h0M1520 345h0M1521 345h0M1510 345h0M1511 345h0M1520 344h0M1503 344h0M1504 344h0M1510 344h0M1511 344h0M1505 344h0M1506 344h0M1511 344h0M1501 344h0M1510 344h0M1527 344h0M1547 343h0M1511 343h0M1480 343h0M1510 343h0M1510 343h0M1510 343h0M1511 343h0M1506 343h0M1495 343h0M1506 343h0M1511 342h0M1510 342h0M1506 342h0M1507 342h0M1519 342h0M1507 342h0M1492 342h0M1505 342h0M1513 342h0M1507 342h0M1514 342h0M1494 341h0M1510 341h0M1519 341h0M1524 341h0M1489 341h0M1507 341h0M1526 341h0M1521 341h0M1513 341h0M1483 341h0M1523 340h0M1477 340h0M1510 340h0M1504 340h0M1539 340h0M1495 340h0M1506 340h0M1506 340h0M1505 340h0M1473 340h0M1506 339h0M1506 339h0M1507 339h0M1511 339h0M1527 339h0M1511 339h0M1540 339h0M1507 339h0M1513 338h0M1511 338h0M1525 338h0M1495 338h0M1486 338h0M1544 338h0M1505 338h0M1464 338h0M1523 338h0M1511 337h0M1535 337h0M1558 337h0M1498 337h0M1512 337h0M1546 337h0M1506 337h0M1504 337h0M1488 336h0M1504 336h0M1527 336h0M1482 336h0M1504 336h0M1506 336h0M1505 336h0M1503 336h0M1506 336h0M1549 336h0M1512 336h0M1511 336h0M1526 336h0M1511 335h0M1492 335h0M1505 335h0M1524 335h0M1510 335h0M1510 334h0M1505 334h0M1495 334h0M1511 334h0M1493 334h0M1513 334h0M1502 334h0M1537 334h0M1506 334h0M1487 333h0M1511 333h0M1472 333h0M1488 333h0M1535 333h0M1502 333h0M1505 333h0M1557 333h0M1556 333h0M1492 333h0M1515 332h0M1526 332h0M1511 332h0M1513 332h0M1512 332h0M1510 332h0M1539 332h0M1512 332h0M1512 332h0M1479 332h0M1534 331h0M1511 331h0M1506 331h0M1515 331h0M1531 331h0M1481 331h0M1549 331h0M1513 331h0M1513 330h0M1470 330h0M1504 330h0M1517 330h0M1504 330h0M1472 330h0M1504 330h0M1505 330h0M1534 330h0M1525 330h0M1489 330h0M1511 329h0M1482 329h0M1504 329h0M1524 329h0M1467 329h0M1558 329h0M1504 328h0M1507 328h0M1482 328h0M1522 328h0M1512 328h0M1530 328h0M1505 328h0M1506 327h0M1499 327h0M1516 327h0M1511 327h0M1558 327h0M1515 326h0M1502 326h0M1515 326h0M1514 326h0M1488 326h0M1505 325h0M1538 325h0M1504 325h0M1473 325h0M1511 325h0M1532 325h0M1511 325h0M1507 324h0M1511 324h0M1511 324h0M1513 324h0M1515 324h0M1526 324h0M1511 323h0M1482 323h0M1505 323h0M1505 323h0M1510 323h0M1505 322h0M1505 322h0M1511 322h0M1471 322h0M1512 322h0M1512 322h0M1519 322h0M1506 322h0M1502 321h0M1513 321h0M1482 321h0M1499 321h0M1503 321h0M1511 320h0M1501 320h0M1502 320h0M1511 320h0M1499 320h0M1543 319h0M1513 319h0M1507 319h0M1513 319h0M1513 319h0M1516 319h0M1505 319h0M1557 318h0M1522 318h0M1514 318h0M1498 318h0M1504 318h0M1503 317h0M1503 317h0M1497 317h0M1522 317h0M1502 316h0M1512 316h0M1515 316h0M1513 316h0M1512 316h0M1516 315h0M1572 315h0M1497 315h0M1471 315h0M1514 314h0M1514 314h0M1502 314h0M1514 314h0M1511 313h0M1514 313h0M1503 313h0M1511 313h0M1435 313h0M1499 312h0M1499 312h0M1518 312h0M1472 312h0M1515 312h0M1511 312h0M1476 311h0M1513 311h0M1502 311h0M1503 311h0M1504 311h0M1518 310h0M1549 310h0M1513 310h0M1511 310h0M1511 309h0M1504 309h0M1517 309h0M1502 309h0M1512 309h0M1516 308h0M1502 308h0M1503 308h0M1505 308h0M1548 307h0M1513 307h0M1441 307h0M1503 307h0M1535 306h0M1498 306h0M1515 306h0M1498 305h0M1487 305h0M1475 305h0M1519 304h0M1442 304h0M1501 304h0M1499 303h0M1440 303h0M1513 302h0M1514 302h0M1498 302h0M1486 301h0M1506 301h0M1512 300h0M1501 300h0M1499 300h0M1516 300h0M1497 299h0M1436 299h0M1513 298h0M1462 298h0M1515 298h0M1512 297h0M1514 297h0M1443 297h0M1518 296h0M1501 296h0M1504 296h0M1526 295h0M1499 295h0M1484 294h0M1516 294h0M1494 294h0M1505 293h0M1512 293h0M1503 292h0M1504 292h0M1501 292h0M1515 291h0M1501 291h0M1501 290h0M1528 290h0M1512 289h0M1514 289h0M1446 288h0M1501 288h0M1552 288h0M1517 287h0M1513 287h0M1519 287h0M1517 286h0M1533 286h0M1556 285h0M1496 285h0M1516 285h0M1504 285h0M1503 284h0M1502 284h0M1499 284h0M1491 283h0M1498 282h0M1516 282h0M1450 282h0M1567 281h0M1515 281h0M1501 280h0M1518 279h0M1515 279h0M1557 278h0M1505 277h0M1515 277h0M1514 276h0M1572 276h0M1463 275h0M1495 274h0M1517 273h0M1495 273h0M1491 271h0M1517 270h0M1500 269h0M1524 268h0M1488 268h0M1489 267h0M1499 266h0M1497 265h0M1517 264h0M1496 262h0M1513 261h0M1492 260h0M1495 259h0M1492 259h0M1503 257h0M1516 257h0M1525 256h0M1499 255h0M1499 253h0M1525 251h0M1472 250h0M1488 248h0M1514 247h0M1525 244h0M1520 242h0M1521 241h0M1514 240h0M1526 237h0M1532 234h0M1496 233h0M1481 231h0M1531 225h0M1493 223h0M1494 218h0M1542 216h0M1466 214h0M1487 211h0M1468 204h0M1537 198h0M1455 187h0" stroke="#bdbdbd" stroke-opacity=".5" stroke-width="9.2" stroke-linecap="round"/><path d="M1494.4 110h0M1360.7 129.8h0M1476.7 149.9h0M1500.9 145.8h0M1517.1 148.7h0M1478.4 165.1h0M1425.9 209.1h0M1429.6 217.6h0M1414.3 226.8h0M1480.3 232.8h0M1448.4 251.9h0M1354.1 325.9h0M1366.2 293.8h0M1364.8 299.8h0M1404.2 288.4h0M1411 284.8h0M1416.3 315.5h0M1415.1 337.8h0M1639.9 305.1h0M1637 332.4h0M1644.3 332.4h0M1599.5 329.3h0M1523.9 176h0M1528.2 183h0M1488.8 181.3h0M1520.2 193.4h0M1521.5 207.9h0M1528.7 226.1h0M1497.3 191h0M1542 281.7h0M1584.3 281.7h0M1603.7 299.8h0M1596.4 297.4h0M1581.9 298.6h0M1575.1 321.6h0M1571 333.7h0M1576.6 340.9h0M1540.8 340.9h0M1548 297.4h0M1557.7 304.6h0M1563.8 286.5h0M1568.6 280.5h0M1586.7 278h0M1434.4 321.6h0M1429.1 326.4h0M1436.8 336.1h0M1461 345.7h0M1473.1 350.6h0M1481.6 356.6h0M1456.2 310.7h0M1450.1 292.6h0M1463.4 301h0M1424.7 299.8h0M1433.2 307.1h0M1439.2 321.6h0M1470.7 280.5h0M1463.4 266h0M1475.5 263.5h0M1453.8 285.3h0M1536 314.3h0M1550.5 311.9h0M1552.9 328.8h0M1560.1 338.5h0M1533.5 348.2h0M1526.3 355.4h0" stroke="#bdbdbd" stroke-opacity=".5" stroke-width="9.2" stroke-linecap="round"/><path d="M1665.6 69.4h0M1644.3 142.2h0M1570.5 161.5h0M1615 177h0M1594.5 191h0M1585 233.3h0M1608 233.8h0M1530.4 251h0M1580.9 262.3h0M1543.9 270.3h0M1568.8 270.3h0" stroke="#d9777a" stroke-width="9.4" stroke-linecap="round"/><rect x="1338.9" y="54.4" width="341.4" height="322.1" fill="none" stroke="#6a6a6a" stroke-width="1.3"/><path d="M1338.9 362h-6M1338.9 293.7h-6M1338.9 225.4h-6M1338.9 157.1h-6M1338.9 88.8h-6" stroke="#6a6a6a" stroke-width="1.3"/><text x="1327.9" y="369.7" font-size="21.5" text-anchor="end">0</text><text x="1327.9" y="301.4" font-size="21.5" text-anchor="end">1</text><text x="1327.9" y="233.1" font-size="21.5" text-anchor="end">2</text><text x="1327.9" y="164.8" font-size="21.5" text-anchor="end">3</text><text x="1327.9" y="96.5" font-size="21.5" text-anchor="end">4</text><path d="M1414.6 376.5v6M1508.2 376.5v6M1601.8 376.5v6" stroke="#6a6a6a" stroke-width="1.3"/><text x="1414.6" y="404.3" font-size="21.5" text-anchor="middle">−2.5</text><text x="1508.2" y="404.3" font-size="21.5" text-anchor="middle">0.0</text><text x="1601.8" y="404.3" font-size="21.5" text-anchor="middle">2.5</text><text x="1371.5" y="37.5" font-size="24.5">Total cell lysate: <tspan font-family="'Liberation Serif','Times New Roman',serif" font-size="26" fill="#6b9be8">II</tspan><tspan font-size="20" fill="#6b9be8" dx="1.5" dy="7">a</tspan><tspan dy="-7"> vs </tspan><tspan font-family="'Liberation Serif','Times New Roman',serif" font-size="26" fill="#6b9be8">II</tspan><tspan font-size="20" fill="#6b9be8" dx="1.5" dy="7">n</tspan></text><text transform="rotate(-90 1297.6 216)" x="1297.6" y="216" font-size="24.5" text-anchor="middle">log<tspan font-size="17.1" dy="4.9">2</tspan><tspan dy="-4.9">(Fold change)</tspan></text><text x="1509.4" y="434.5" font-size="24.5" text-anchor="middle">log<tspan font-size="17.1" dy="4.9">10</tspan><tspan dy="-4.9">P</tspan></text><path d="M1892 362h0M1892 362h0M1892 362h0M1892 362h0M1892 362h0M1892 362h0M1892 362h0M1892 362h0M1892 362h0M1892 362h0M1892 361h0M1892 361h0M1892 361h0M1892 361h0M1893 361h0M1893 361h0M1892 361h0M1892 361h0M1891 361h0M1892 361h0M1891 361h0M1892 361h0M1891 361h0M1892 361h0M1892 361h0M1894 361h0M1892 361h0M1891 361h0M1892 361h0M1892 361h0M1894 361h0M1892 361h0M1892 361h0M1895 360h0M1892 360h0M1892 360h0M1893 360h0M1892 360h0M1892 360h0M1894 360h0M1892 360h0M1892 360h0M1892 360h0M1892 360h0M1892 360h0M1892 360h0M1893 360h0M1893 360h0M1892 360h0M1887 360h0M1895 360h0M1886 360h0M1896 359h0M1892 359h0M1890 359h0M1888 359h0M1894 359h0M1896 359h0M1892 359h0M1889 359h0M1892 359h0M1896 359h0M1893 359h0M1892 359h0M1888 359h0M1881 359h0M1890 359h0M1893 359h0M1892 359h0M1890 359h0M1893 358h0M1893 358h0M1893 358h0M1890 358h0M1893 358h0M1892 358h0M1892 358h0M1895 358h0M1895 358h0M1893 358h0M1887 358h0M1891 358h0M1891 358h0M1884 358h0M1897 358h0M1891 357h0M1893 357h0M1892 357h0M1893 357h0M1905 357h0M1893 357h0M1893 357h0M1893 357h0M1887 357h0M1891 357h0M1873 357h0M1897 357h0M1893 357h0M1894 357h0M1893 356h0M1893 356h0M1902 356h0M1902 356h0M1897 356h0M1885 356h0M1891 356h0M1892 356h0M1893 356h0M1887 356h0M1893 356h0M1887 356h0M1892 356h0M1884 356h0M1893 356h0M1893 356h0M1883 355h0M1892 355h0M1896 355h0M1892 355h0M1887 355h0M1893 355h0M1891 355h0M1893 355h0M1892 355h0M1893 355h0M1885 355h0M1907 355h0M1891 354h0M1900 354h0M1898 354h0M1883 354h0M1891 354h0M1894 354h0M1892 354h0M1890 354h0M1885 354h0M1891 354h0M1893 354h0M1893 354h0M1894 354h0M1902 354h0M1891 354h0M1887 354h0M1886 353h0M1884 353h0M1894 353h0M1891 353h0M1894 353h0M1898 353h0M1892 353h0M1894 353h0M1887 353h0M1891 353h0M1881 353h0M1896 353h0M1890 353h0M1891 353h0M1878 353h0M1894 353h0M1899 353h0M1892 352h0M1890 352h0M1893 352h0M1895 352h0M1894 352h0M1883 352h0M1892 352h0M1891 352h0M1896 352h0M1895 352h0M1890 352h0M1894 352h0M1889 352h0M1884 352h0M1907 352h0M1890 352h0M1912 351h0M1893 351h0M1880 351h0M1890 351h0M1895 351h0M1893 351h0M1893 351h0M1891 351h0M1895 351h0M1881 351h0M1891 351h0M1893 351h0M1881 350h0M1907 350h0M1891 350h0M1893 350h0M1893 350h0M1881 350h0M1892 350h0M1880 350h0M1890 350h0M1894 350h0M1874 350h0M1863 349h0M1899 349h0M1879 349h0M1890 349h0M1891 349h0M1891 349h0M1872 349h0M1892 349h0M1896 349h0M1881 349h0M1891 349h0M1891 349h0M1882 349h0M1914 349h0M1902 348h0M1890 348h0M1900 348h0M1896 348h0M1890 348h0M1865 348h0M1905 348h0M1861 348h0M1891 348h0M1874 348h0M1894 348h0M1890 348h0M1894 347h0M1884 347h0M1897 347h0M1914 347h0M1866 347h0M1893 347h0M1883 347h0M1896 347h0M1894 347h0M1889 347h0M1867 347h0M1893 347h0M1894 346h0M1894 346h0M1888 346h0M1874 346h0M1895 346h0M1886 346h0M1884 346h0M1862 346h0M1895 346h0M1921 346h0M1894 346h0M1891 346h0M1889 346h0M1890 346h0M1888 345h0M1905 345h0M1917 345h0M1895 345h0M1900 345h0M1895 345h0M1890 345h0M1890 345h0M1899 345h0M1873 345h0M1904 345h0M1895 344h0M1886 344h0M1889 344h0M1864 344h0M1895 344h0M1875 344h0M1890 344h0M1895 344h0M1894 344h0M1890 344h0M1882 344h0M1895 344h0M1891 344h0M1896 343h0M1906 343h0M1890 343h0M1891 343h0M1890 343h0M1894 343h0M1952 343h0M1891 343h0M1898 343h0M1894 343h0M1894 343h0M1888 342h0M1890 342h0M1915 342h0M1889 342h0M1890 342h0M1890 342h0M1924 342h0M1889 342h0M1891 342h0M1885 342h0M1890 342h0M1894 341h0M1909 341h0M1870 341h0M1889 341h0M1870 341h0M1889 341h0M1891 341h0M1895 341h0M1891 341h0M1890 341h0M1891 341h0M1894 340h0M1888 340h0M1914 340h0M1877 340h0M1917 340h0M1895 340h0M1886 340h0M1896 340h0M1915 340h0M1875 340h0M1866 339h0M1884 339h0M1868 339h0M1905 339h0M1888 339h0M1894 339h0M1890 339h0M1909 339h0M1879 339h0M1891 339h0M1890 338h0M1877 338h0M1890 338h0M1884 338h0M1890 338h0M1881 338h0M1908 338h0M1894 337h0M1896 337h0M1884 337h0M1890 337h0M1889 337h0M1890 337h0M1869 337h0M1896 337h0M1934 337h0M1894 337h0M1895 337h0M1888 336h0M1874 336h0M1896 336h0M1877 336h0M1863 336h0M1896 336h0M1890 336h0M1894 336h0M1898 336h0M1896 335h0M1888 335h0M1961 335h0M1897 335h0M1846 335h0M1883 335h0M1889 335h0M1877 335h0M1890 335h0M1889 334h0M1895 334h0M1865 334h0M1899 334h0M1891 334h0M1887 334h0M1895 334h0M1894 334h0M1897 334h0M1905 333h0M1915 333h0M1899 333h0M1890 333h0M1847 333h0M1894 333h0M1889 333h0M1865 333h0M1889 333h0M1896 332h0M1890 332h0M1896 332h0M1890 332h0M1896 332h0M1871 332h0M1901 332h0M1922 332h0M1933 332h0M1887 331h0M1869 331h0M1887 331h0M1888 331h0M1869 331h0M1894 331h0M1846 331h0M1891 331h0M1856 330h0M1897 330h0M1889 330h0M1889 330h0M1888 330h0M1890 330h0M1946 330h0M1889 329h0M1887 329h0M1888 329h0M1851 329h0M1888 329h0M1897 329h0M1864 329h0M1888 328h0M1887 328h0M1889 328h0M1890 328h0M1898 328h0M1889 328h0M1873 328h0M1889 328h0M1921 328h0M1933 327h0M1899 327h0M1899 327h0M1922 327h0M1896 327h0M1889 327h0M1896 327h0M1887 326h0M1894 326h0M1867 326h0M1897 326h0M1889 326h0M1900 326h0M1896 326h0M1847 325h0M1865 325h0M1871 325h0M1916 325h0M1899 325h0M1887 325h0M1889 324h0M1904 324h0M1895 324h0M1895 324h0M1896 324h0M1885 324h0M1897 324h0M1897 324h0M1846 323h0M1869 323h0M1886 323h0M1895 323h0M1887 323h0M1888 323h0M1889 322h0M1873 322h0M1897 322h0M1914 322h0M1885 322h0M1939 322h0M1841 322h0M1835 321h0M1889 321h0M1889 321h0M1902 321h0M1886 321h0M1888 321h0M1901 320h0M1887 320h0M1877 320h0M1867 320h0M1884 320h0M1973 319h0M1884 319h0M1895 319h0M1861 319h0M1889 319h0M1887 319h0M1835 319h0M1888 318h0M1899 318h0M1923 318h0M1928 318h0M1888 318h0M1898 318h0M1897 318h0M1899 317h0M1833 317h0M1906 317h0M1897 317h0M1889 317h0M1898 316h0M1886 316h0M1897 316h0M1871 316h0M1899 315h0M1899 315h0M1924 315h0M1889 315h0M1896 315h0M1897 315h0M1959 314h0M1837 314h0M1948 314h0M1894 313h0M1900 313h0M1896 313h0M1909 313h0M1879 312h0M1896 312h0M1862 312h0M1890 312h0M1888 311h0M1898 311h0M1879 311h0M1888 311h0M1889 311h0M1896 310h0M1872 310h0M1888 310h0M1943 309h0M1871 309h0M1934 309h0M1909 309h0M1931 308h0M1931 308h0M1897 307h0M1908 307h0M1879 307h0M1887 307h0M1882 307h0M1888 306h0M1897 306h0M1884 305h0M1900 305h0M1874 305h0M1883 305h0M1876 304h0M1887 304h0M1885 304h0M1899 303h0M1898 302h0M1935 302h0M1884 302h0M1888 301h0M1924 301h0M1885 301h0M1896 300h0M1955 300h0M1898 300h0M1901 299h0M1916 299h0M1885 298h0M1899 298h0M1897 298h0M1900 297h0M1889 297h0M1896 296h0M1889 296h0M1888 295h0M1886 295h0M1886 294h0M1901 294h0M1897 293h0M1905 293h0M1882 293h0M1885 292h0M1885 292h0M1898 291h0M1878 291h0M1906 291h0M1885 291h0M1884 291h0M1898 290h0M1888 289h0M1876 289h0M1859 288h0M1885 288h0M1834 287h0M1906 287h0M1886 287h0M1884 286h0M1871 286h0M1908 285h0M1903 284h0M1898 283h0M1902 283h0M1899 282h0M1888 282h0M1884 281h0M1883 281h0M1836 280h0M1897 280h0M1901 279h0M1886 279h0M1883 278h0M1902 278h0M1868 277h0M1897 276h0M1897 276h0M1885 276h0M1896 275h0M1899 274h0M1880 273h0M1900 272h0M1908 271h0M1898 270h0M1867 269h0M1884 268h0M1901 267h0M1900 266h0M1903 265h0M1901 264h0M1904 263h0M1902 262h0M1881 262h0M1882 261h0M1905 260h0M1856 259h0M1873 258h0M1908 257h0M1909 256h0M1901 255h0M1867 254h0M1878 253h0M1873 252h0M1901 250h0M1900 248h0M1899 245h0M1899 242h0M1883 240h0M1882 238h0M1872 236h0M1879 233h0M1905 228h0M1878 226h0M1874 223h0M1900 221h0M1916 215h0M1909 213h0M1909 208h0M1932 205h0M1879 195h0" stroke="#bdbdbd" stroke-opacity=".5" stroke-width="9.2" stroke-linecap="round"/><path d="M1892 362h0M1892 362h0M1892 362h0M1892 362h0M1892 362h0M1892 362h0M1892 362h0M1892 362h0M1892 362h0M1892 362h0M1893 361h0M1892 361h0M1893 361h0M1892 361h0M1891 361h0M1892 361h0M1892 361h0M1892 361h0M1892 361h0M1892 361h0M1893 361h0M1892 361h0M1891 361h0M1892 361h0M1892 361h0M1891 361h0M1892 361h0M1892 361h0M1891 361h0M1889 361h0M1892 361h0M1892 361h0M1890 361h0M1889 360h0M1892 360h0M1895 360h0M1896 360h0M1892 360h0M1891 360h0M1892 360h0M1891 360h0M1892 360h0M1890 360h0M1890 360h0M1890 360h0M1894 360h0M1893 360h0M1892 360h0M1896 360h0M1892 360h0M1891 360h0M1892 360h0M1894 359h0M1892 359h0M1894 359h0M1892 359h0M1892 359h0M1893 359h0M1892 359h0M1889 359h0M1896 359h0M1892 359h0M1892 359h0M1893 359h0M1890 359h0M1894 359h0M1897 359h0M1893 359h0M1892 359h0M1894 358h0M1893 358h0M1894 358h0M1893 358h0M1893 358h0M1893 358h0M1892 358h0M1895 358h0M1892 358h0M1896 358h0M1892 358h0M1892 358h0M1893 358h0M1891 358h0M1893 358h0M1893 358h0M1898 357h0M1888 357h0M1891 357h0M1902 357h0M1891 357h0M1893 357h0M1895 357h0M1893 357h0M1891 357h0M1892 357h0M1893 357h0M1891 357h0M1891 357h0M1889 357h0M1893 356h0M1894 356h0M1906 356h0M1890 356h0M1892 356h0M1886 356h0M1891 356h0M1893 356h0M1891 356h0M1892 356h0M1891 356h0M1891 356h0M1892 356h0M1893 356h0M1890 356h0M1894 356h0M1892 355h0M1883 355h0M1893 355h0M1896 355h0M1892 355h0M1894 355h0M1899 355h0M1899 355h0M1891 355h0M1889 355h0M1885 355h0M1900 355h0M1893 354h0M1887 354h0M1888 354h0M1893 354h0M1887 354h0M1899 354h0M1910 354h0M1891 354h0M1898 354h0M1898 354h0M1898 354h0M1900 354h0M1899 354h0M1891 354h0M1891 354h0M1893 354h0M1905 353h0M1891 353h0M1893 353h0M1892 353h0M1891 353h0M1894 353h0M1883 353h0M1894 353h0M1902 353h0M1895 353h0M1883 353h0M1881 353h0M1893 353h0M1894 353h0M1894 353h0M1910 353h0M1874 353h0M1891 352h0M1904 352h0M1898 352h0M1889 352h0M1899 352h0M1889 352h0M1890 352h0M1893 352h0M1875 352h0M1906 352h0M1891 352h0M1874 352h0M1884 352h0M1894 352h0M1888 352h0M1902 352h0M1894 351h0M1894 351h0M1893 351h0M1892 351h0M1890 351h0M1894 351h0M1881 351h0M1895 351h0M1895 351h0M1891 351h0M1880 351h0M1895 350h0M1862 350h0M1899 350h0M1915 350h0M1920 350h0M1890 350h0M1889 350h0M1895 350h0M1894 350h0M1879 350h0M1891 350h0M1910 350h0M1894 349h0M1890 349h0M1895 349h0M1911 349h0M1895 349h0M1894 349h0M1893 349h0M1879 349h0M1893 349h0M1882 349h0M1894 349h0M1912 349h0M1894 349h0M1895 349h0M1883 348h0M1889 348h0M1902 348h0M1894 348h0M1894 348h0M1888 348h0M1891 348h0M1890 348h0M1898 348h0M1893 348h0M1877 348h0M1868 348h0M1889 347h0M1893 347h0M1918 347h0M1894 347h0M1882 347h0M1895 347h0M1890 347h0M1895 347h0M1905 347h0M1894 347h0M1908 347h0M1894 347h0M1890 346h0M1889 346h0M1871 346h0M1871 346h0M1896 346h0M1894 346h0M1891 346h0M1888 346h0M1896 346h0M1890 346h0M1894 346h0M1914 346h0M1890 346h0M1877 346h0M1904 345h0M1894 345h0M1889 345h0M1894 345h0M1896 345h0M1895 345h0M1889 345h0M1890 345h0M1894 345h0M1891 345h0M1890 345h0M1890 344h0M1896 344h0M1890 344h0M1890 344h0M1877 344h0M1894 344h0M1879 344h0M1910 344h0M1891 344h0M1890 344h0M1897 344h0M1886 344h0M1894 343h0M1894 343h0M1887 343h0M1855 343h0M1888 343h0M1890 343h0M1882 343h0M1896 343h0M1919 343h0M1894 343h0M1890 343h0M1894 342h0M1860 342h0M1894 342h0M1896 342h0M1894 342h0M1872 342h0M1889 342h0M1905 342h0M1914 342h0M1882 342h0M1890 342h0M1871 342h0M1895 341h0M1869 341h0M1908 341h0M1889 341h0M1863 341h0M1826 341h0M1915 341h0M1914 341h0M1869 341h0M1890 341h0M1895 341h0M1897 340h0M1894 340h0M1894 340h0M1894 340h0M1909 340h0M1890 340h0M1928 340h0M1888 340h0M1891 340h0M1894 340h0M1895 339h0M1891 339h0M1907 339h0M1875 339h0M1894 339h0M1895 339h0M1871 339h0M1890 339h0M1888 339h0M1896 339h0M1896 338h0M1887 338h0M1888 338h0M1863 338h0M1930 338h0M1895 338h0M1863 338h0M1894 337h0M1897 337h0M1888 337h0M1853 337h0M1896 337h0M1890 337h0M1888 337h0M1889 337h0M1882 337h0M1890 337h0M1894 336h0M1888 336h0M1898 336h0M1890 336h0M1901 336h0M1932 336h0M1910 336h0M1889 336h0M1887 336h0M1896 336h0M1865 335h0M1907 335h0M1868 335h0M1895 335h0M1891 335h0M1918 335h0M1897 335h0M1889 335h0M1888 335h0M1855 334h0M1888 334h0M1895 334h0M1889 334h0M1890 334h0M1887 334h0M1889 334h0M1890 334h0M1890 334h0M1937 333h0M1894 333h0M1890 333h0M1897 333h0M1870 333h0M1866 333h0M1871 333h0M1903 333h0M1889 333h0M1898 332h0M1918 332h0M1885 332h0M1895 332h0M1894 332h0M1874 332h0M1901 332h0M1871 332h0M1938 332h0M1889 331h0M1872 331h0M1862 331h0M1895 331h0M1921 331h0M1890 331h0M1927 331h0M1885 331h0M1844 330h0M1896 330h0M1899 330h0M1894 330h0M1883 330h0M1898 330h0M1931 330h0M1921 329h0M1842 329h0M1878 329h0M1919 329h0M1856 329h0M1929 329h0M1897 329h0M1869 328h0M1897 328h0M1921 328h0M1894 328h0M1884 328h0M1896 328h0M1866 328h0M1890 328h0M1846 328h0M1888 327h0M1894 327h0M1888 327h0M1880 327h0M1886 327h0M1896 327h0M1884 326h0M1928 326h0M1889 326h0M1897 326h0M1878 326h0M1889 326h0M1888 326h0M1870 325h0M1864 325h0M1900 325h0M1896 325h0M1887 325h0M1890 325h0M1888 325h0M1896 324h0M1894 324h0M1898 324h0M1922 324h0M1858 324h0M1895 324h0M1891 324h0M1897 323h0M1885 323h0M1886 323h0M1856 323h0M1924 323h0M1889 323h0M1889 323h0M1887 322h0M1886 322h0M1896 322h0M1896 322h0M1887 322h0M1888 322h0M1885 322h0M1887 321h0M1890 321h0M1908 321h0M1888 321h0M1923 321h0M1896 321h0M1858 320h0M1884 320h0M1896 320h0M1897 320h0M1834 320h0M1887 319h0M1855 319h0M1896 319h0M1939 319h0M1885 319h0M1901 319h0M1897 319h0M1888 318h0M1889 318h0M1897 318h0M1888 318h0M1883 318h0M1873 318h0M1894 317h0M1885 317h0M1903 317h0M1910 317h0M1930 317h0M1897 316h0M1888 316h0M1878 316h0M1886 316h0M1928 316h0M1888 315h0M1880 315h0M1896 315h0M1898 315h0M1884 315h0M1898 315h0M1887 314h0M1891 314h0M1888 314h0M1889 313h0M1899 313h0M1889 313h0M1895 313h0M1882 312h0M1901 312h0M1889 312h0M1884 312h0M1888 311h0M1902 311h0M1887 311h0M1888 311h0M1852 311h0M1890 310h0M1885 310h0M1859 310h0M1904 309h0M1899 309h0M1881 309h0M1895 309h0M1889 308h0M1884 308h0M1885 307h0M1883 307h0M1888 307h0M1890 307h0M1897 307h0M1930 306h0M1898 306h0M1885 305h0M1856 305h0M1886 305h0M1898 304h0M1886 304h0M1888 304h0M1896 303h0M1885 303h0M1854 302h0M1883 302h0M1885 302h0M1899 301h0M1897 301h0M1888 301h0M1885 300h0M1900 300h0M1859 300h0M1881 299h0M1889 299h0M1947 298h0M1882 298h0M1904 298h0M1886 297h0M1899 297h0M1886 296h0M1903 296h0M1899 295h0M1886 295h0M1969 294h0M1896 294h0M1902 293h0M1886 293h0M1900 293h0M1876 292h0M1889 292h0M1898 291h0M1879 291h0M1897 291h0M1880 291h0M1886 290h0M1898 289h0M1899 289h0M1902 289h0M1881 288h0M1879 288h0M1884 287h0M1897 287h0M1900 287h0M1887 286h0M1903 286h0M1883 285h0M1902 284h0M1899 283h0M1887 283h0M1907 282h0M1902 282h0M1900 281h0M1900 280h0M1928 280h0M1901 279h0M1910 279h0M1884 279h0M1896 278h0M1904 278h0M1880 277h0M1889 276h0M1887 276h0M1899 275h0M1898 275h0M1876 274h0M1901 273h0M1874 272h0M1903 271h0M1883 270h0M1886 269h0M1879 268h0M1906 267h0M1910 266h0M1906 265h0M1906 264h0M1884 263h0M1899 262h0M1879 262h0M1884 261h0M1881 260h0M1887 258h0M1900 258h0M1905 256h0M1909 256h0M1882 255h0M1881 254h0M1912 253h0M1879 251h0M1885 249h0M1878 247h0M1880 245h0M1874 241h0M1874 240h0M1910 238h0M1906 236h0M1854 233h0M1906 228h0M1902 225h0M1914 223h0M1863 220h0M1877 215h0M1910 211h0M1883 208h0M1911 204h0M1910 188h0" stroke="#bdbdbd" stroke-opacity=".5" stroke-width="9.2" stroke-linecap="round"/><path d="M1892 362h0M1892 362h0M1892 362h0M1892 362h0M1892 362h0M1892 362h0M1892 362h0M1892 362h0M1892 362h0M1893 362h0M1892 361h0M1892 361h0M1892 361h0M1892 361h0M1892 361h0M1892 361h0M1893 361h0M1892 361h0M1893 361h0M1891 361h0M1892 361h0M1894 361h0M1893 361h0M1889 361h0M1893 361h0M1893 361h0M1894 361h0M1894 361h0M1892 361h0M1893 361h0M1892 361h0M1889 361h0M1892 361h0M1895 360h0M1892 360h0M1895 360h0M1892 360h0M1892 360h0M1892 360h0M1895 360h0M1892 360h0M1892 360h0M1893 360h0M1893 360h0M1892 360h0M1890 360h0M1892 360h0M1892 360h0M1892 360h0M1888 360h0M1892 360h0M1889 360h0M1890 359h0M1889 359h0M1892 359h0M1889 359h0M1893 359h0M1893 359h0M1892 359h0M1893 359h0M1892 359h0M1896 359h0M1893 359h0M1892 359h0M1890 359h0M1897 359h0M1894 359h0M1895 359h0M1895 359h0M1893 358h0M1892 358h0M1898 358h0M1888 358h0M1886 358h0M1893 358h0M1887 358h0M1893 358h0M1901 358h0M1890 358h0M1892 358h0M1892 358h0M1892 358h0M1892 358h0M1892 358h0M1891 358h0M1888 357h0M1894 357h0M1897 357h0M1891 357h0M1885 357h0M1891 357h0M1892 357h0M1893 357h0M1893 357h0M1893 357h0M1887 357h0M1888 357h0M1884 357h0M1893 357h0M1883 356h0M1893 356h0M1901 356h0M1891 356h0M1885 356h0M1887 356h0M1891 356h0M1898 356h0M1898 356h0M1885 356h0M1889 356h0M1891 356h0M1893 356h0M1890 356h0M1886 356h0M1891 355h0M1893 355h0M1897 355h0M1891 355h0M1884 355h0M1891 355h0M1894 355h0M1892 355h0M1893 355h0M1908 355h0M1890 355h0M1885 355h0M1891 355h0M1892 354h0M1893 354h0M1902 354h0M1893 354h0M1893 354h0M1897 354h0M1893 354h0M1887 354h0M1890 354h0M1889 354h0M1892 354h0M1899 354h0M1884 354h0M1885 354h0M1891 354h0M1891 354h0M1891 353h0M1891 353h0M1893 353h0M1881 353h0M1893 353h0M1890 353h0M1906 353h0M1892 353h0M1892 353h0M1892 353h0M1904 353h0M1890 353h0M1893 353h0M1903 353h0M1891 353h0M1891 353h0M1891 353h0M1893 352h0M1893 352h0M1892 352h0M1897 352h0M1884 352h0M1894 352h0M1891 352h0M1894 352h0M1891 352h0M1880 352h0M1894 352h0M1898 352h0M1895 352h0M1891 352h0M1895 352h0M1881 351h0M1905 351h0M1889 351h0M1891 351h0M1916 351h0M1893 351h0M1899 351h0M1893 351h0M1900 351h0M1891 351h0M1891 351h0M1894 351h0M1893 350h0M1903 350h0M1879 350h0M1906 350h0M1884 350h0M1895 350h0M1885 350h0M1894 350h0M1891 350h0M1895 350h0M1888 350h0M1891 350h0M1889 349h0M1890 349h0M1891 349h0M1869 349h0M1882 349h0M1891 349h0M1901 349h0M1901 349h0M1897 349h0M1868 349h0M1880 349h0M1893 349h0M1890 349h0M1894 349h0M1903 348h0M1894 348h0M1883 348h0M1882 348h0M1907 348h0M1878 348h0M1907 348h0M1912 348h0M1906 348h0M1889 348h0M1894 348h0M1891 348h0M1893 347h0M1890 347h0M1889 347h0M1890 347h0M1910 347h0M1893 347h0M1874 347h0M1890 347h0M1890 347h0M1876 347h0M1891 347h0M1888 347h0M1891 346h0M1903 346h0M1894 346h0M1893 346h0M1894 346h0M1893 346h0M1895 346h0M1887 346h0M1890 346h0M1838 346h0M1894 346h0M1895 346h0M1909 346h0M1872 346h0M1905 345h0M1895 345h0M1894 345h0M1894 345h0M1873 345h0M1888 345h0M1891 345h0M1894 345h0M1868 345h0M1887 345h0M1889 345h0M1868 344h0M1894 344h0M1905 344h0M1894 344h0M1905 344h0M1895 344h0M1919 344h0M1894 344h0M1889 344h0M1895 344h0M1894 344h0M1908 344h0M1913 343h0M1870 343h0M1918 343h0M1912 343h0M1896 343h0M1893 343h0M1906 343h0M1898 343h0M1925 343h0M1903 343h0M1896 343h0M1897 342h0M1887 342h0M1875 342h0M1880 342h0M1889 342h0M1921 342h0M1868 342h0M1897 342h0M1893 342h0M1862 342h0M1895 342h0M1893 342h0M1888 341h0M1871 341h0M1881 341h0M1893 341h0M1872 341h0M1891 341h0M1891 341h0M1894 341h0M1890 341h0M1889 341h0M1889 340h0M1919 340h0M1894 340h0M1890 340h0M1895 340h0M1863 340h0M1894 340h0M1895 340h0M1891 340h0M1889 340h0M1909 340h0M1904 339h0M1891 339h0M1899 339h0M1869 339h0M1896 339h0M1870 339h0M1943 339h0M1864 339h0M1891 339h0M1931 339h0M1889 338h0M1889 338h0M1913 338h0M1889 338h0M1890 338h0M1889 338h0M1895 337h0M1910 337h0M1859 337h0M1889 337h0M1889 337h0M1917 337h0M1889 337h0M1890 337h0M1895 337h0M1870 337h0M1890 337h0M1888 336h0M1854 336h0M1874 336h0M1895 336h0M1891 336h0M1914 336h0M1891 336h0M1895 336h0M1876 336h0M1890 336h0M1896 335h0M1895 335h0M1866 335h0M1905 335h0M1890 335h0M1928 335h0M1919 335h0M1896 335h0M1889 335h0M1909 334h0M1889 334h0M1894 334h0M1874 334h0M1890 334h0M1894 334h0M1885 334h0M1919 334h0M1902 334h0M1887 333h0M1827 333h0M1890 333h0M1890 333h0M1888 333h0M1900 333h0M1894 333h0M1891 333h0M1932 333h0M1890 332h0M1889 332h0M1900 332h0M1895 332h0M1897 332h0M1947 332h0M1896 332h0M1894 332h0M1894 332h0M1916 331h0M1858 331h0M1876 331h0M1895 331h0M1895 331h0M1900 331h0M1927 331h0M1896 331h0M1889 330h0M1890 330h0M1889 330h0M1894 330h0M1890 330h0M1828 330h0M1894 330h0M1883 329h0M1889 329h0M1910 329h0M1890 329h0M1943 329h0M1896 329h0M1894 328h0M1940 328h0M1912 328h0M1896 328h0M1886 328h0M1887 328h0M1888 328h0M1888 328h0M1895 328h0M1889 327h0M1896 327h0M1855 327h0M1908 327h0M1872 327h0M1931 327h0M1918 327h0M1900 326h0M1926 326h0M1933 326h0M1889 326h0M1902 326h0M1909 326h0M1897 326h0M1928 325h0M1883 325h0M1887 325h0M1886 325h0M1924 325h0M1930 325h0M1867 325h0M1942 324h0M1886 324h0M1889 324h0M1898 324h0M1895 324h0M1896 324h0M1858 324h0M1888 323h0M1888 323h0M1927 323h0M1896 323h0M1877 323h0M1886 323h0M1897 323h0M1897 322h0M1895 322h0M1954 322h0M1894 322h0M1888 322h0M1895 322h0M1886 322h0M1909 321h0M1896 321h0M1858 321h0M1885 321h0M1820 321h0M1884 320h0M1897 320h0M1883 320h0M1898 320h0M1895 320h0M1884 320h0M1896 319h0M1887 319h0M1894 319h0M1866 319h0M1886 319h0M1886 319h0M1952 319h0M1867 318h0M1885 318h0M1885 318h0M1887 318h0M1895 318h0M1943 318h0M1889 317h0M1886 317h0M1896 317h0M1897 317h0M1887 317h0M1844 316h0M1887 316h0M1896 316h0M1859 316h0M1899 316h0M1886 315h0M1896 315h0M1896 315h0M1905 315h0M1886 315h0M1881 314h0M1935 314h0M1853 314h0M1896 314h0M1898 313h0M1887 313h0M1888 313h0M1889 313h0M1888 312h0M1895 312h0M1954 312h0M1889 312h0M1887 311h0M1921 311h0M1896 311h0M1885 311h0M1889 310h0M1885 310h0M1894 310h0M1898 310h0M1905 309h0M1903 309h0M1865 309h0M1895 308h0M1887 308h0M1904 308h0M1854 307h0M1889 307h0M1901 307h0M1909 307h0M1936 307h0M1901 306h0M1901 305h0M1883 305h0M1898 305h0M1906 305h0M1885 304h0M1899 304h0M1884 304h0M1899 303h0M1886 303h0M1897 302h0M1897 302h0M1889 302h0M1926 301h0M1875 301h0M1889 300h0M1899 300h0M1886 300h0M1888 300h0M1887 299h0M1928 299h0M1902 298h0M1900 298h0M1899 298h0M1919 297h0M1900 297h0M1884 296h0M1815 296h0M1898 295h0M1887 295h0M1880 294h0M1905 294h0M1897 293h0M1962 293h0M1897 293h0M1887 292h0M1880 292h0M1909 291h0M1888 291h0M1898 291h0M1883 291h0M1899 290h0M1885 289h0M1898 289h0M1903 289h0M1896 288h0M1881 288h0M1822 287h0M1913 287h0M1901 287h0M1899 286h0M1905 286h0M1883 285h0M1878 284h0M1908 283h0M1888 282h0M1900 282h0M1901 281h0M1882 281h0M1887 280h0M1897 280h0M1904 279h0M1886 279h0M1887 278h0M1886 278h0M1883 278h0M1907 277h0M1888 276h0M1885 276h0M1818 275h0M1900 275h0M1908 273h0M1901 273h0M1908 272h0M1871 270h0M1883 270h0M1906 269h0M1908 268h0M1864 267h0M1879 266h0M1884 265h0M1880 264h0M1915 263h0M1903 262h0M1904 262h0M1904 261h0M1879 259h0M1905 258h0M1899 258h0M1906 256h0M1884 256h0M1902 254h0M1883 253h0M1884 252h0M1912 251h0M1915 249h0M1903 247h0M1906 245h0M1879 241h0M1884 239h0M1903 238h0M1908 235h0M1903 232h0M1879 227h0M1900 225h0M1910 223h0M1872 219h0M1880 215h0M1908 211h0M1906 208h0M1907 200h0" stroke="#bdbdbd" stroke-opacity=".5" stroke-width="9.2" stroke-linecap="round"/><path d="M1892 362h0M1892 362h0M1892 362h0M1892 362h0M1892 362h0M1892 362h0M1892 362h0M1892 362h0M1892 362h0M1892 362h0M1892 361h0M1892 361h0M1892 361h0M1892 361h0M1892 361h0M1893 361h0M1892 361h0M1892 361h0M1892 361h0M1892 361h0M1892 361h0M1892 361h0M1896 361h0M1892 361h0M1892 361h0M1892 361h0M1892 361h0M1892 361h0M1892 361h0M1892 361h0M1893 361h0M1893 361h0M1892 361h0M1895 360h0M1892 360h0M1892 360h0M1892 360h0M1895 360h0M1892 360h0M1889 360h0M1892 360h0M1892 360h0M1894 360h0M1894 360h0M1892 360h0M1885 360h0M1893 360h0M1892 360h0M1892 360h0M1892 360h0M1894 360h0M1890 359h0M1888 359h0M1892 359h0M1892 359h0M1889 359h0M1893 359h0M1895 359h0M1892 359h0M1890 359h0M1893 359h0M1892 359h0M1897 359h0M1893 359h0M1892 359h0M1893 359h0M1892 359h0M1888 359h0M1897 359h0M1892 358h0M1892 358h0M1892 358h0M1890 358h0M1893 358h0M1893 358h0M1893 358h0M1892 358h0M1892 358h0M1892 358h0M1893 358h0M1893 358h0M1893 358h0M1893 358h0M1899 358h0M1898 358h0M1897 357h0M1892 357h0M1887 357h0M1887 357h0M1894 357h0M1887 357h0M1893 357h0M1889 357h0M1892 357h0M1893 357h0M1883 357h0M1892 357h0M1893 357h0M1896 357h0M1892 356h0M1893 356h0M1893 356h0M1886 356h0M1878 356h0M1885 356h0M1893 356h0M1887 356h0M1896 356h0M1900 356h0M1891 356h0M1898 356h0M1893 356h0M1893 356h0M1904 356h0M1891 355h0M1882 355h0M1893 355h0M1896 355h0M1894 355h0M1891 355h0M1899 355h0M1894 355h0M1891 355h0M1893 355h0M1899 355h0M1889 355h0M1894 355h0M1891 354h0M1881 354h0M1891 354h0M1891 354h0M1894 354h0M1892 354h0M1892 354h0M1883 354h0M1891 354h0M1894 354h0M1877 354h0M1890 354h0M1894 354h0M1903 354h0M1891 354h0M1894 354h0M1892 353h0M1894 353h0M1892 353h0M1891 353h0M1891 353h0M1898 353h0M1887 353h0M1891 353h0M1890 353h0M1882 353h0M1894 353h0M1892 353h0M1896 353h0M1890 353h0M1893 353h0M1909 353h0M1891 353h0M1894 352h0M1902 352h0M1893 352h0M1894 352h0M1910 352h0M1893 352h0M1893 352h0M1893 352h0M1891 352h0M1891 352h0M1890 352h0M1883 352h0M1891 352h0M1893 352h0M1882 352h0M1891 351h0M1890 351h0M1905 351h0M1894 351h0M1894 351h0M1881 351h0M1893 351h0M1895 351h0M1874 351h0M1894 351h0M1890 351h0M1894 351h0M1893 350h0M1891 350h0M1885 350h0M1881 350h0M1898 350h0M1874 350h0M1882 350h0M1894 350h0M1893 350h0M1891 350h0M1890 350h0M1894 350h0M1895 349h0M1906 349h0M1891 349h0M1884 349h0M1902 349h0M1884 349h0M1895 349h0M1867 349h0M1890 349h0M1894 349h0M1905 349h0M1882 349h0M1890 349h0M1890 349h0M1891 348h0M1894 348h0M1894 348h0M1907 348h0M1884 348h0M1896 348h0M1894 348h0M1894 348h0M1912 348h0M1892 348h0M1891 348h0M1869 347h0M1890 347h0M1891 347h0M1876 347h0M1884 347h0M1873 347h0M1890 347h0M1880 347h0M1877 347h0M1889 347h0M1890 347h0M1873 347h0M1870 347h0M1891 346h0M1891 346h0M1891 346h0M1895 346h0M1895 346h0M1895 346h0M1879 346h0M1894 346h0M1889 346h0M1876 346h0M1854 346h0M1905 346h0M1915 346h0M1895 346h0M1873 345h0M1901 345h0M1867 345h0M1894 345h0M1890 345h0M1890 345h0M1908 345h0M1871 345h0M1887 345h0M1894 345h0M1895 345h0M1894 344h0M1931 344h0M1905 344h0M1900 344h0M1890 344h0M1890 344h0M1912 344h0M1879 344h0M1867 344h0M1894 344h0M1898 344h0M1903 344h0M1890 343h0M1894 343h0M1886 343h0M1904 343h0M1887 343h0M1891 343h0M1890 343h0M1879 343h0M1877 343h0M1895 343h0M1893 343h0M1905 342h0M1894 342h0M1889 342h0M1872 342h0M1844 342h0M1876 342h0M1906 342h0M1894 342h0M1894 342h0M1888 342h0M1895 342h0M1894 341h0M1895 341h0M1891 341h0M1875 341h0M1894 341h0M1879 341h0M1894 341h0M1895 341h0M1893 341h0M1887 341h0M1914 341h0M1896 340h0M1894 340h0M1890 340h0M1890 340h0M1891 340h0M1894 340h0M1877 340h0M1894 340h0M1850 340h0M1889 340h0M1896 340h0M1884 339h0M1888 339h0M1894 339h0M1862 339h0M1913 339h0M1928 339h0M1896 339h0M1913 339h0M1881 339h0M1890 338h0M1900 338h0M1898 338h0M1887 338h0M1891 338h0M1889 338h0M1895 338h0M1916 337h0M1930 337h0M1854 337h0M1854 337h0M1874 337h0M1898 337h0M1888 337h0M1899 337h0M1867 337h0M1895 337h0M1869 337h0M1863 336h0M1897 336h0M1862 336h0M1895 336h0M1896 336h0M1925 336h0M1918 336h0M1910 336h0M1889 336h0M1894 335h0M1894 335h0M1887 335h0M1869 335h0M1919 335h0M1894 335h0M1889 335h0M1894 335h0M1895 335h0M1888 335h0M1917 334h0M1888 334h0M1895 334h0M1925 334h0M1894 334h0M1897 334h0M1896 334h0M1895 334h0M1889 333h0M1894 333h0M1890 333h0M1927 333h0M1899 333h0M1898 333h0M1920 333h0M1924 333h0M1890 333h0M1896 333h0M1868 332h0M1876 332h0M1852 332h0M1889 332h0M1862 332h0M1900 332h0M1924 332h0M1888 332h0M1875 331h0M1894 331h0M1889 331h0M1895 331h0M1895 331h0M1919 331h0M1888 331h0M1890 331h0M1895 331h0M1931 330h0M1894 330h0M1852 330h0M1887 330h0M1929 330h0M1854 330h0M1895 329h0M1916 329h0M1888 329h0M1962 329h0M1896 329h0M1887 329h0M1890 329h0M1889 328h0M1895 328h0M1895 328h0M1936 328h0M1889 328h0M1856 328h0M1890 328h0M1928 328h0M1923 328h0M1888 327h0M1859 327h0M1918 327h0M1888 327h0M1897 327h0M1954 327h0M1896 327h0M1896 326h0M1859 326h0M1884 326h0M1895 326h0M1890 326h0M1887 326h0M1888 326h0M1888 325h0M1895 325h0M1896 325h0M1889 325h0M1920 325h0M1926 325h0M1886 325h0M1926 324h0M1886 324h0M1895 324h0M1863 324h0M1952 324h0M1856 324h0M1914 324h0M1857 323h0M1845 323h0M1931 323h0M1876 323h0M1852 323h0M1890 323h0M1890 323h0M1886 322h0M1920 322h0M1895 322h0M1896 322h0M1960 322h0M1900 322h0M1887 322h0M1897 321h0M1896 321h0M1888 321h0M1888 321h0M1887 321h0M1890 320h0M1896 320h0M1888 320h0M1861 320h0M1889 320h0M1885 320h0M1889 319h0M1896 319h0M1889 319h0M1895 319h0M1886 319h0M1895 319h0M1887 319h0M1879 318h0M1819 318h0M1889 318h0M1883 318h0M1884 318h0M1899 318h0M1811 317h0M1899 317h0M1886 317h0M1895 317h0M1845 317h0M1886 316h0M1903 316h0M1886 316h0M1890 316h0M1860 316h0M1897 315h0M1888 315h0M1897 315h0M1827 315h0M1901 315h0M1897 314h0M1883 314h0M1896 314h0M1895 313h0M1901 313h0M1902 313h0M1917 313h0M1871 313h0M1851 312h0M1849 312h0M1896 312h0M1889 312h0M1898 311h0M1882 311h0M1882 311h0M1921 311h0M1934 310h0M1886 310h0M1889 310h0M1848 309h0M1896 309h0M1878 309h0M1897 309h0M1858 308h0M1887 308h0M1897 307h0M1929 307h0M1899 307h0M1888 307h0M1904 307h0M1901 306h0M1900 306h0M1887 305h0M1882 305h0M1895 305h0M1909 305h0M1896 304h0M1896 304h0M1967 304h0M1897 303h0M1905 302h0M1885 302h0M1885 302h0M1825 301h0M1885 301h0M1898 301h0M1899 300h0M1875 300h0M1906 300h0M1883 299h0M1897 299h0M1901 299h0M1886 298h0M1895 298h0M1889 297h0M1900 297h0M1898 297h0M1900 296h0M1902 295h0M1899 295h0M1896 294h0M1895 294h0M1887 294h0M1878 293h0M1825 293h0M1885 293h0M1900 292h0M1919 292h0M1886 291h0M1881 291h0M1885 291h0M1883 291h0M1827 290h0M1907 289h0M1900 289h0M1942 289h0M1887 288h0M1878 288h0M1907 287h0M1879 287h0M1888 287h0M1886 286h0M1884 286h0M1965 285h0M1900 284h0M1900 283h0M1899 282h0M1900 282h0M1824 281h0M1900 281h0M1899 280h0M1907 280h0M1877 279h0M1885 279h0M1882 278h0M1905 278h0M1873 277h0M1888 277h0M1878 276h0M1962 276h0M1882 275h0M1868 275h0M1887 273h0M1907 272h0M1906 272h0M1886 270h0M1881 269h0M1883 269h0M1903 268h0M1880 267h0M1896 266h0M1898 265h0M1885 264h0M1888 263h0M1880 262h0M1883 262h0M1876 261h0M1880 259h0M1902 258h0M1901 258h0M1911 256h0M1884 255h0M1907 254h0M1886 253h0M1876 252h0M1900 251h0M1900 248h0M1906 246h0M1871 245h0M1904 241h0M1914 239h0M1883 238h0M1875 235h0M1907 231h0M1873 227h0M1906 225h0M1907 222h0M1852 219h0M1875 214h0M1914 209h0M1872 207h0M1922 200h0" stroke="#bdbdbd" stroke-opacity=".5" stroke-width="9.2" stroke-linecap="round"/><path d="M1892 362h0M1892 362h0M1892 362h0M1892 362h0M1892 362h0M1892 362h0M1892 362h0M1892 362h0M1892 362h0M1892 362h0M1893 361h0M1893 361h0M1892 361h0M1893 361h0M1892 361h0M1892 361h0M1893 361h0M1893 361h0M1892 361h0M1895 361h0M1892 361h0M1892 361h0M1891 361h0M1894 361h0M1893 361h0M1892 361h0M1890 361h0M1892 361h0M1892 361h0M1892 361h0M1892 361h0M1890 361h0M1892 361h0M1893 360h0M1895 360h0M1894 360h0M1894 360h0M1892 360h0M1892 360h0M1892 360h0M1893 360h0M1892 360h0M1895 360h0M1893 360h0M1892 360h0M1893 360h0M1889 360h0M1892 360h0M1898 360h0M1893 360h0M1891 360h0M1892 359h0M1890 359h0M1890 359h0M1892 359h0M1890 359h0M1893 359h0M1893 359h0M1893 359h0M1893 359h0M1892 359h0M1892 359h0M1892 359h0M1893 359h0M1892 359h0M1896 359h0M1892 359h0M1893 359h0M1896 359h0M1895 358h0M1886 358h0M1893 358h0M1893 358h0M1893 358h0M1893 358h0M1893 358h0M1893 358h0M1892 358h0M1892 358h0M1893 358h0M1894 358h0M1893 358h0M1899 358h0M1893 358h0M1892 358h0M1891 357h0M1891 357h0M1891 357h0M1892 357h0M1888 357h0M1894 357h0M1893 357h0M1891 357h0M1888 357h0M1896 357h0M1893 357h0M1893 357h0M1884 357h0M1892 357h0M1891 356h0M1890 356h0M1891 356h0M1897 356h0M1889 356h0M1891 356h0M1899 356h0M1891 356h0M1896 356h0M1893 356h0M1898 356h0M1892 356h0M1884 356h0M1893 356h0M1884 356h0M1889 355h0M1885 355h0M1892 355h0M1893 355h0M1902 355h0M1893 355h0M1894 355h0M1886 355h0M1883 355h0M1889 355h0M1890 355h0M1893 355h0M1904 354h0M1891 354h0M1888 354h0M1894 354h0M1891 354h0M1893 354h0M1904 354h0M1891 354h0M1883 354h0M1897 354h0M1893 354h0M1894 354h0M1891 354h0M1891 354h0M1897 354h0M1884 354h0M1893 354h0M1891 353h0M1895 353h0M1895 353h0M1893 353h0M1881 353h0M1891 353h0M1890 353h0M1891 353h0M1891 353h0M1891 353h0M1882 353h0M1891 353h0M1894 353h0M1901 353h0M1894 353h0M1889 353h0M1894 353h0M1894 352h0M1902 352h0M1893 352h0M1898 352h0M1901 352h0M1893 352h0M1901 352h0M1881 352h0M1894 352h0M1888 352h0M1893 352h0M1893 352h0M1907 352h0M1890 352h0M1892 352h0M1900 351h0M1891 351h0M1877 351h0M1889 351h0M1894 351h0M1888 351h0M1891 351h0M1916 351h0M1885 351h0M1880 351h0M1871 351h0M1892 351h0M1890 350h0M1914 350h0M1891 350h0M1890 350h0M1891 350h0M1904 350h0M1893 350h0M1893 350h0M1865 350h0M1879 350h0M1894 350h0M1894 350h0M1888 349h0M1891 349h0M1891 349h0M1872 349h0M1878 349h0M1893 349h0M1911 349h0M1869 349h0M1890 349h0M1895 349h0M1890 349h0M1891 349h0M1906 349h0M1883 349h0M1890 348h0M1890 348h0M1882 348h0M1880 348h0M1902 348h0M1881 348h0M1894 348h0M1902 348h0M1890 348h0M1876 348h0M1890 348h0M1890 347h0M1895 347h0M1909 347h0M1895 347h0M1906 347h0M1890 347h0M1880 347h0M1873 347h0M1910 347h0M1891 347h0M1895 347h0M1910 347h0M1917 347h0M1905 346h0M1890 346h0M1894 346h0M1876 346h0M1889 346h0M1887 346h0M1890 346h0M1905 346h0M1894 346h0M1891 346h0M1877 346h0M1893 346h0M1891 346h0M1880 345h0M1893 345h0M1948 345h0M1907 345h0M1894 345h0M1907 345h0M1913 345h0M1890 345h0M1889 345h0M1913 345h0M1889 345h0M1880 345h0M1921 344h0M1894 344h0M1895 344h0M1868 344h0M1886 344h0M1875 344h0M1887 344h0M1894 344h0M1875 344h0M1890 344h0M1895 344h0M1887 344h0M1890 343h0M1890 343h0M1916 343h0M1895 343h0M1881 343h0M1880 343h0M1896 343h0M1895 343h0M1891 343h0M1889 343h0M1890 343h0M1896 342h0M1866 342h0M1889 342h0M1913 342h0M1907 342h0M1887 342h0M1858 342h0M1891 342h0M1927 342h0M1894 342h0M1894 342h0M1895 341h0M1890 341h0M1895 341h0M1915 341h0M1894 341h0M1888 341h0M1897 341h0M1896 341h0M1868 341h0M1898 341h0M1910 341h0M1895 340h0M1912 340h0M1893 340h0M1894 340h0M1889 340h0M1877 340h0M1894 340h0M1894 340h0M1922 340h0M1890 340h0M1893 339h0M1894 339h0M1891 339h0M1896 339h0M1890 339h0M1895 339h0M1909 339h0M1891 339h0M1895 339h0M1888 339h0M1894 338h0M1889 338h0M1894 338h0M1889 338h0M1894 338h0M1896 338h0M1917 338h0M1897 337h0M1894 337h0M1952 337h0M1889 337h0M1917 337h0M1898 337h0M1884 337h0M1898 337h0M1904 337h0M1896 337h0M1895 337h0M1895 336h0M1890 336h0M1889 336h0M1925 336h0M1888 336h0M1890 336h0M1891 336h0M1895 336h0M1897 336h0M1866 335h0M1888 335h0M1890 335h0M1894 335h0M1888 335h0M1938 335h0M1896 335h0M1917 335h0M1895 335h0M1890 334h0M1897 334h0M1929 334h0M1922 334h0M1944 334h0M1891 334h0M1894 334h0M1895 334h0M1919 334h0M1895 333h0M1918 333h0M1839 333h0M1886 333h0M1891 333h0M1889 333h0M1936 333h0M1888 333h0M1869 333h0M1888 332h0M1896 332h0M1889 332h0M1930 332h0M1894 332h0M1887 332h0M1888 332h0M1895 332h0M1887 332h0M1870 331h0M1897 331h0M1896 331h0M1894 331h0M1889 331h0M1860 331h0M1904 331h0M1894 331h0M1863 331h0M1914 330h0M1899 330h0M1903 330h0M1913 330h0M1913 330h0M1896 330h0M1888 329h0M1888 329h0M1897 329h0M1862 329h0M1870 329h0M1894 329h0M1924 329h0M1896 328h0M1888 328h0M1851 328h0M1889 328h0M1907 328h0M1857 328h0M1890 328h0M1886 328h0M1889 328h0M1889 327h0M1888 327h0M1888 327h0M1896 327h0M1896 327h0M1868 327h0M1914 327h0M1886 326h0M1897 326h0M1890 326h0M1887 326h0M1885 326h0M1896 326h0M1888 326h0M1888 325h0M1895 325h0M1898 325h0M1897 325h0M1894 325h0M1888 325h0M1890 325h0M1890 324h0M1876 324h0M1898 324h0M1903 324h0M1887 324h0M1904 324h0M1898 324h0M1898 323h0M1896 323h0M1887 323h0M1880 323h0M1896 323h0M1859 323h0M1939 323h0M1877 322h0M1888 322h0M1890 322h0M1888 322h0M1895 322h0M1888 322h0M1889 321h0M1897 321h0M1887 321h0M1899 321h0M1888 321h0M1896 321h0M1888 320h0M1923 320h0M1915 320h0M1901 320h0M1887 320h0M1888 320h0M1897 319h0M1883 319h0M1897 319h0M1888 319h0M1886 319h0M1895 319h0M1858 319h0M1888 318h0M1898 318h0M1898 318h0M1887 318h0M1815 318h0M1900 318h0M1894 317h0M1899 317h0M1885 317h0M1896 317h0M1902 317h0M1890 316h0M1888 316h0M1900 316h0M1886 316h0M1897 316h0M1888 315h0M1891 315h0M1814 315h0M1887 315h0M1919 315h0M1864 314h0M1884 314h0M1886 314h0M1900 313h0M1889 313h0M1898 313h0M1899 313h0M1877 312h0M1897 312h0M1887 312h0M1890 312h0M1896 312h0M1849 311h0M1894 311h0M1888 311h0M1960 311h0M1894 310h0M1830 310h0M1885 310h0M1900 309h0M1898 309h0M1901 309h0M1887 309h0M1878 308h0M1961 308h0M1888 307h0M1900 307h0M1898 307h0M1952 307h0M1886 307h0M1900 306h0M1898 306h0M1902 305h0M1896 305h0M1900 305h0M1949 305h0M1883 304h0M1879 304h0M1887 304h0M1884 303h0M1885 302h0M1881 302h0M1888 302h0M1899 301h0M1896 301h0M1898 301h0M1888 300h0M1882 300h0M1875 300h0M1883 299h0M1885 299h0M1895 298h0M1903 298h0M1857 298h0M1900 297h0M1928 297h0M1901 296h0M1885 296h0M1902 295h0M1895 295h0M1902 294h0M1902 294h0M1903 293h0M1882 293h0M1926 293h0M1884 292h0M1901 292h0M1885 292h0M1886 291h0M1896 291h0M1905 291h0M1900 291h0M1908 290h0M1883 289h0M1884 289h0M1880 289h0M1902 288h0M1908 288h0M1887 287h0M1887 287h0M1885 286h0M1883 286h0M1887 286h0M1898 285h0M1904 284h0M1848 283h0M1889 282h0M1881 282h0M1882 281h0M1899 281h0M1884 280h0M1879 280h0M1910 279h0M1899 279h0M1882 278h0M1898 278h0M1882 277h0M1902 277h0M1887 276h0M1901 276h0M1885 275h0M1902 274h0M1908 273h0M1865 272h0M1885 271h0M1899 270h0M1880 269h0M1900 269h0M1881 267h0M1886 267h0M1883 265h0M1882 265h0M1902 264h0M1899 262h0M1904 262h0M1901 262h0M1882 260h0M1870 259h0M1854 258h0M1904 257h0M1899 256h0M1908 255h0M1883 254h0M1880 253h0M1914 252h0M1877 250h0M1880 248h0M1900 246h0M1900 244h0M1880 240h0M1882 239h0M1903 237h0M1907 234h0M1904 230h0M1910 226h0M1875 223h0M1887 222h0M1861 216h0M1915 214h0M1908 209h0M1905 206h0M1851 197h0" stroke="#bdbdbd" stroke-opacity=".5" stroke-width="9.2" stroke-linecap="round"/><path d="M1892 362h0M1892 362h0M1892 362h0M1892 362h0M1892 362h0M1892 362h0M1892 362h0M1892 362h0M1893 362h0M1892 361h0M1892 361h0M1892 361h0M1891 361h0M1892 361h0M1892 361h0M1891 361h0M1892 361h0M1893 361h0M1892 361h0M1892 361h0M1893 361h0M1892 361h0M1892 361h0M1892 361h0M1892 361h0M1892 361h0M1892 361h0M1892 361h0M1890 361h0M1894 361h0M1892 361h0M1892 361h0M1891 360h0M1892 360h0M1892 360h0M1892 360h0M1892 360h0M1893 360h0M1892 360h0M1892 360h0M1889 360h0M1894 360h0M1897 360h0M1896 360h0M1893 360h0M1891 360h0M1890 360h0M1892 360h0M1896 360h0M1891 360h0M1892 360h0M1893 359h0M1886 359h0M1895 359h0M1888 359h0M1893 359h0M1893 359h0M1893 359h0M1893 359h0M1895 359h0M1893 359h0M1893 359h0M1892 359h0M1897 359h0M1896 359h0M1892 359h0M1893 359h0M1892 359h0M1890 359h0M1892 358h0M1892 358h0M1892 358h0M1891 358h0M1887 358h0M1892 358h0M1893 358h0M1899 358h0M1897 358h0M1890 358h0M1892 358h0M1891 358h0M1895 358h0M1891 358h0M1899 358h0M1892 358h0M1892 357h0M1889 357h0M1888 357h0M1898 357h0M1893 357h0M1891 357h0M1885 357h0M1892 357h0M1893 357h0M1893 357h0M1893 357h0M1892 357h0M1891 357h0M1893 356h0M1891 356h0M1897 356h0M1892 356h0M1892 356h0M1893 356h0M1901 356h0M1894 356h0M1896 356h0M1893 356h0M1899 356h0M1891 356h0M1893 356h0M1891 356h0M1894 356h0M1885 356h0M1891 355h0M1893 355h0M1893 355h0M1891 355h0M1894 355h0M1892 355h0M1891 355h0M1884 355h0M1891 355h0M1891 355h0M1891 355h0M1896 355h0M1879 354h0M1890 354h0M1892 354h0M1892 354h0M1893 354h0M1894 354h0M1894 354h0M1883 354h0M1903 354h0M1904 354h0M1890 354h0M1899 354h0M1900 354h0M1894 354h0M1894 354h0M1902 354h0M1899 354h0M1884 353h0M1893 353h0M1882 353h0M1890 353h0M1893 353h0M1898 353h0M1871 353h0M1883 353h0M1895 353h0M1893 353h0M1893 353h0M1900 353h0M1891 353h0M1887 353h0M1893 353h0M1903 353h0M1909 352h0M1880 352h0M1891 352h0M1894 352h0M1894 352h0M1894 352h0M1895 352h0M1889 352h0M1895 352h0M1891 352h0M1894 352h0M1884 352h0M1891 352h0M1879 352h0M1913 352h0M1893 352h0M1895 351h0M1871 351h0M1893 351h0M1893 351h0M1894 351h0M1901 351h0M1909 351h0M1891 351h0M1894 351h0M1891 351h0M1894 351h0M1884 351h0M1890 350h0M1890 350h0M1895 350h0M1891 350h0M1901 350h0M1890 350h0M1903 350h0M1894 350h0M1893 350h0M1879 350h0M1895 350h0M1890 350h0M1898 349h0M1891 349h0M1890 349h0M1891 349h0M1911 349h0M1890 349h0M1890 349h0M1894 349h0M1882 349h0M1907 349h0M1894 349h0M1895 349h0M1891 349h0M1891 348h0M1890 348h0M1895 348h0M1885 348h0M1894 348h0M1891 348h0M1894 348h0M1896 348h0M1894 348h0M1928 348h0M1894 348h0M1894 348h0M1890 347h0M1891 347h0M1890 347h0M1920 347h0M1895 347h0M1899 347h0M1890 347h0M1879 347h0M1910 347h0M1920 347h0M1883 347h0M1894 347h0M1894 347h0M1912 346h0M1891 346h0M1890 346h0M1891 346h0M1894 346h0M1894 346h0M1895 346h0M1893 346h0M1894 346h0M1883 346h0M1894 346h0M1873 346h0M1894 346h0M1878 345h0M1895 345h0M1890 345h0M1890 345h0M1893 345h0M1890 345h0M1894 345h0M1894 345h0M1894 345h0M1889 345h0M1893 345h0M1891 345h0M1893 344h0M1895 344h0M1934 344h0M1896 344h0M1895 344h0M1890 344h0M1903 344h0M1890 344h0M1893 344h0M1890 344h0M1893 344h0M1889 344h0M1881 343h0M1914 343h0M1897 343h0M1894 343h0M1911 343h0M1890 343h0M1894 343h0M1895 343h0M1894 343h0M1889 343h0M1890 343h0M1891 342h0M1887 342h0M1910 342h0M1895 342h0M1905 342h0M1920 342h0M1893 342h0M1895 342h0M1891 342h0M1902 342h0M1894 342h0M1872 341h0M1866 341h0M1890 341h0M1873 341h0M1894 341h0M1875 341h0M1872 341h0M1873 341h0M1906 341h0M1895 341h0M1888 341h0M1890 340h0M1873 340h0M1889 340h0M1869 340h0M1919 340h0M1880 340h0M1887 340h0M1913 340h0M1896 340h0M1919 340h0M1896 339h0M1897 339h0M1888 339h0M1893 339h0M1870 339h0M1942 339h0M1894 339h0M1894 339h0M1876 339h0M1889 339h0M1895 338h0M1904 338h0M1861 338h0M1894 338h0M1897 338h0M1898 338h0M1889 338h0M1863 337h0M1896 337h0M1889 337h0M1889 337h0M1896 337h0M1861 337h0M1891 337h0M1861 337h0M1916 337h0M1886 337h0M1894 337h0M1888 336h0M1894 336h0M1874 336h0M1888 336h0M1896 336h0M1914 336h0M1887 336h0M1935 336h0M1882 336h0M1896 335h0M1896 335h0M1888 335h0M1894 335h0M1855 335h0M1860 335h0M1888 335h0M1889 335h0M1894 335h0M1897 334h0M1875 334h0M1896 334h0M1884 334h0M1863 334h0M1888 334h0M1888 334h0M1890 334h0M1889 334h0M1894 333h0M1896 333h0M1871 333h0M1897 333h0M1898 333h0M1896 333h0M1889 333h0M1883 333h0M1919 333h0M1937 332h0M1894 332h0M1897 332h0M1894 332h0M1888 332h0M1895 332h0M1878 332h0M1896 332h0M1877 332h0M1885 331h0M1890 331h0M1920 331h0M1905 331h0M1896 331h0M1896 331h0M1880 331h0M1889 331h0M1918 330h0M1925 330h0M1887 330h0M1897 330h0M1870 330h0M1884 330h0M1890 330h0M1897 329h0M1935 329h0M1927 329h0M1887 329h0M1905 329h0M1895 329h0M1890 329h0M1895 328h0M1929 328h0M1898 328h0M1880 328h0M1897 328h0M1895 328h0M1895 328h0M1883 328h0M1894 328h0M1887 327h0M1887 327h0M1895 327h0M1931 327h0M1917 327h0M1913 327h0M1896 327h0M1896 326h0M1864 326h0M1888 326h0M1882 326h0M1923 326h0M1897 326h0M1887 326h0M1866 325h0M1887 325h0M1889 325h0M1858 325h0M1886 325h0M1887 325h0M1900 324h0M1896 324h0M1885 324h0M1897 324h0M1896 324h0M1895 324h0M1897 324h0M1897 324h0M1894 323h0M1895 323h0M1900 323h0M1888 323h0M1888 323h0M1899 323h0M1886 323h0M1926 322h0M1896 322h0M1897 322h0M1950 322h0M1847 322h0M1897 322h0M1888 321h0M1888 321h0M1882 321h0M1887 321h0M1843 321h0M1895 321h0M1896 320h0M1886 320h0M1881 320h0M1886 320h0M1895 320h0M1899 320h0M1889 319h0M1899 319h0M1886 319h0M1884 319h0M1889 319h0M1906 319h0M1888 319h0M1889 318h0M1909 318h0M1920 318h0M1874 318h0M1895 318h0M1899 318h0M1887 317h0M1890 317h0M1869 317h0M1896 317h0M1937 317h0M1887 316h0M1902 316h0M1896 316h0M1828 316h0M1900 316h0M1948 315h0M1901 315h0M1908 315h0M1890 315h0M1889 315h0M1886 314h0M1953 314h0M1896 314h0M1899 313h0M1888 313h0M1870 313h0M1842 313h0M1890 312h0M1896 312h0M1863 312h0M1897 312h0M1903 311h0M1889 311h0M1945 311h0M1897 311h0M1932 311h0M1906 310h0M1885 310h0M1914 310h0M1889 309h0M1888 309h0M1904 309h0M1898 309h0M1889 308h0M1903 308h0M1883 307h0M1918 307h0M1905 307h0M1897 307h0M1899 307h0M1848 306h0M1896 306h0M1940 305h0M1931 305h0M1897 305h0M1896 305h0M1894 304h0M1900 304h0M1888 304h0M1898 303h0M1855 302h0M1897 302h0M1886 302h0M1945 301h0M1913 301h0M1885 301h0M1931 300h0M1838 300h0M1885 300h0M1887 299h0M1886 299h0M1897 298h0M1884 298h0M1884 298h0M1905 297h0M1903 297h0M1888 296h0M1883 296h0M1817 295h0M1897 295h0M1887 294h0M1900 294h0M1888 293h0M1895 293h0M1901 293h0M1896 292h0M1897 292h0M1903 291h0M1901 291h0M1859 291h0M1879 291h0M1899 291h0M1886 290h0M1906 289h0M1887 289h0M1905 288h0M1887 288h0M1886 288h0M1897 287h0M1900 287h0M1904 286h0M1901 286h0M1885 285h0M1882 285h0M1874 283h0M1906 283h0M1878 282h0M1929 282h0M1900 281h0M1903 281h0M1899 280h0M1899 280h0M1907 279h0M1864 279h0M1910 278h0M1916 278h0M1916 277h0M1876 277h0M1903 276h0M1907 276h0M1901 275h0M1884 274h0M1900 273h0M1899 272h0M1885 271h0M1874 270h0M1898 269h0M1872 268h0M1901 267h0M1886 266h0M1901 265h0M1900 264h0M1903 263h0M1904 262h0M1884 262h0M1908 262h0M1885 260h0M1896 259h0M1887 258h0M1885 257h0M1886 256h0M1883 255h0M1902 254h0M1902 253h0M1885 252h0M1903 250h0M1906 248h0M1899 246h0M1921 243h0M1933 240h0M1900 239h0M1875 237h0M1871 234h0M1904 228h0M1873 226h0M1902 223h0M1879 221h0M1925 216h0M1899 213h0M1910 208h0M1884 205h0M1884 196h0" stroke="#bdbdbd" stroke-opacity=".5" stroke-width="9.2" stroke-linecap="round"/><path d="M1909.6 110h0M1833 136.1h0M1829.8 194.1h0M1815.8 200.7h0M1818.9 212.8h0M1779.5 207.2h0M1783.9 298.1h0M1800.8 299.8h0M1804.4 305.1h0M1809.3 304.2h0M1826.2 297.9h0M1831.7 296.2h0M1824.5 305.9h0M1846.7 303.4h0M1798.4 343.3h0M1805.2 347.4h0M1801.3 330h0M1820.1 341.6h0M1841.9 346.5h0M1991.8 276.8h0M1985.8 281.7h0M1984.6 290.1h0M1964 293.8h0M1980.9 310.7h0M1985.8 320.4h0M1999.5 307.1h0M2068 309h0M2090.9 302.2h0M1977.3 332.4h0M1965.7 336.1h0M1944.7 348.2h0M1906 194.1h0M1898.7 205h0M1883 194.6h0M1885.4 189.8h0M1867.3 222.4h0M1902.3 227.8h0M1904.8 232.1h0M1831 280.5h0M1838.3 278h0M1844.3 284.1h0M1851.6 275.6h0M1862.5 272h0M1953.1 281.7h0M1960.4 286.5h0M1964 303.4h0M1967.6 319.1h0M1955.5 314.3h0M1822.6 320.4h0M1827.4 314.3h0M1837.1 319.1h0M1948.3 296.2h0M1941 299.8h0" stroke="#bdbdbd" stroke-opacity=".5" stroke-width="9.2" stroke-linecap="round"/><path d="M1949.3 68.9h0M2042.6 125.7h0M1990.6 151.6h0M1978.5 165.1h0M1965.9 169.2h0M1977.8 172.4h0M1914.4 217.1h0M1933.1 221.2h0M1933.1 233.8h0M1915.6 237.7h0M1914 239.4h0M1954.3 238.9h0M1965.7 247.1h0M1920.5 253.9h0M1918.8 260.6h0M1933.8 259.9h0M1931.4 267.2h0M1939.1 274.9h0" stroke="#d9777a" stroke-width="9.4" stroke-linecap="round"/><rect x="1764.1" y="54.4" width="341.8" height="322.1" fill="none" stroke="#6a6a6a" stroke-width="1.3"/><path d="M1764.1 362h-6M1764.1 295h-6M1764.1 228h-6M1764.1 161h-6M1764.1 94h-6" stroke="#6a6a6a" stroke-width="1.3"/><text x="1753.1" y="369.7" font-size="21.5" text-anchor="end">0</text><text x="1753.1" y="302.7" font-size="21.5" text-anchor="end">1</text><text x="1753.1" y="235.7" font-size="21.5" text-anchor="end">2</text><text x="1753.1" y="168.7" font-size="21.5" text-anchor="end">3</text><text x="1753.1" y="101.7" font-size="21.5" text-anchor="end">4</text><path d="M1818 376.5v6M1892.2 376.5v6M1966.4 376.5v6M2040.6 376.5v6" stroke="#6a6a6a" stroke-width="1.3"/><text x="1818" y="404.3" font-size="21.5" text-anchor="middle">−2</text><text x="1892.2" y="404.3" font-size="21.5" text-anchor="middle">0</text><text x="1966.4" y="404.3" font-size="21.5" text-anchor="middle">2</text><text x="2040.6" y="404.3" font-size="21.5" text-anchor="middle">4</text><text x="1811.7" y="37.5" font-size="24.5">Supernatant: <tspan font-family="'Liberation Serif','Times New Roman',serif" font-size="26" fill="#6b9be8">II</tspan><tspan font-size="20" fill="#6b9be8" dx="1.5" dy="7">a</tspan><tspan dy="-7"> vs </tspan><tspan font-family="'Liberation Serif','Times New Roman',serif" font-size="26" fill="#6b9be8">II</tspan><tspan font-size="20" fill="#6b9be8" dx="1.5" dy="7">n</tspan></text><text transform="rotate(-90 1722.8 216)" x="1722.8" y="216" font-size="24.5" text-anchor="middle">log<tspan font-size="17.1" dy="4.9">2</tspan><tspan dy="-4.9">(Fold change)</tspan></text><text x="1935" y="434.5" font-size="24.5" text-anchor="middle">log<tspan font-size="17.1" dy="4.9">10</tspan><tspan dy="-4.9">P</tspan></text><path d="M205.3 623.4H185V624.8H205.3M205.3 622H174V624.1H185M205.3 628.9H178V630.3H205.3M205.3 627.5H174.4V629.6H178M205.3 626.1H167.3V628.6H174.4M174 623H160.9V627.4H167.3M205.3 620.6H147.9V625.2H160.9M205.3 619.2H146V622.9H147.9M205.3 635.9H185.7V637.3H205.3M205.3 634.5H174.8V636.6H185.7M205.3 638.6H171.1V640H205.3M174.8 635.5H164.5V639.3H171.1M205.3 633.1H158.2V637.4H164.5M205.3 631.7H153.2V635.3H158.2M205.3 644.2H180.5V645.6H205.3M205.3 642.8H161.3V644.9H180.5M205.3 647H170.1V648.4H205.3M205.3 649.8H170.1V651.1H205.3M170.1 647.7H162.4V650.5H170.1M205.3 655.3H180V656.7H205.3M205.3 653.9H178.2V656H180M205.3 652.5H170.7V655H178.2M205.3 659.5H181.9V660.9H205.3M205.3 658.1H163.7V660.2H181.9M170.7 653.8H160.9V659.1H163.7M162.4 649.1H157.7V656.4H160.9M161.3 643.9H147.9V652.8H157.7M205.3 641.4H141.3V648.3H147.9M153.2 633.5H116.6V644.9H141.3M205.3 662.3H159.4V663.6H205.3M205.3 666.4H176.2V667.8H205.3M205.3 665H172.2V667.1H176.2M205.3 670.6H181.1V672H205.3M205.3 669.2H165.9V671.3H181.1M172.2 666.1H164.1V670.2H165.9M205.3 674.8H184V676.2H205.3M205.3 673.4H176.6V675.5H184M205.3 677.5H170.2V678.9H205.3M176.6 674.4H167.8V678.2H170.2M205.3 681.7H173.7V683.1H205.3M205.3 680.3H166.9V682.4H173.7M167.8 676.3H155.5V681.4H166.9M164.1 668.2H154V678.8H155.5M159.4 663H151.2V673.5H154M205.3 687.3H172.1V688.7H205.3M205.3 685.9H162.9V688H172.1M205.3 684.5H159.9V686.9H162.9M205.3 692.8H182.9V694.2H205.3M205.3 691.4H177.1V693.5H182.9M205.3 690H167.9V692.5H177.1M205.3 697H178.2V698.4H205.3M205.3 695.6H160.4V697.7H178.2M167.9 691.3H158V696.6H160.4M159.9 685.7H155.1V694H158M205.3 701.2H185.5V702.5H205.3M205.3 703.9H179.2V705.3H205.3M185.5 701.9H173.7V704.6H179.2M205.3 709.5H183.7V710.9H205.3M205.3 708.1H172.5V710.2H183.7M205.3 706.7H169.8V709.1H172.5M173.7 703.2H166.5V707.9H169.8M205.3 699.8H149.5V705.6H166.5M155.1 689.8H147.9V702.7H149.5M205.3 715H181V716.4H205.3M205.3 713.7H174.1V715.7H181M205.3 722H183.4V723.4H205.3M205.3 720.6H180.3V722.7H183.4M205.3 719.2H170.2V721.6H180.3M205.3 717.8H166.8V720.4H170.2M174.1 714.7H166.1V719.1H166.8M205.3 726.2H174.5V727.6H205.3M205.3 724.8H163.4V726.9H174.5M166.1 716.9H158.5V725.8H163.4M205.3 712.3H145.6V721.4H158.5M147.9 696.3H139.4V716.8H145.6M151.2 668.2H134.4V706.5H139.4M205.3 734.5H176.5V735.9H205.3M205.3 740.1H183.4V741.4H205.3M205.3 738.7H176.9V740.8H183.4M205.3 737.3H173.1V739.7H176.9M176.5 735.2H166.8V738.5H173.1M205.3 733.1H162.1V736.8H166.8M205.3 731.7H160V735H162.1M205.3 744.2H174V745.6H205.3M205.3 742.8H168.6V744.9H174M205.3 749.8H179.2V751.2H205.3M205.3 748.4H170.7V750.5H179.2M205.3 747H164.1V749.4H170.7M168.6 743.9H157.3V748.2H164.1M160 733.3H153.9V746H157.3M205.3 730.3H151.5V739.7H153.9M205.3 728.9H148.2V735H151.5M205.3 752.6H166.7V753.9H205.3M205.3 755.3H179.4V756.7H205.3M205.3 758.1H178.3V759.5H205.3M179.4 756H165.2V758.8H178.3M205.3 763.7H179.5V765.1H205.3M205.3 762.3H171.7V764.4H179.5M205.3 767.8H175.6V769.2H205.3M205.3 766.5H169.1V768.5H175.6M171.7 763.3H165V767.5H169.1M205.3 760.9H161.2V765.4H165M165.2 757.4H159.6V763.2H161.2M166.7 753.3H149.2V760.3H159.6M205.3 773.4H179.3V774.8H205.3M205.3 776.2H175.9V777.6H205.3M179.3 774.1H168.6V776.9H175.9M205.3 779H177V780.3H205.3M205.3 783.1H177.3V784.5H205.3M205.3 781.7H168.2V783.8H177.3M177 779.6H165.1V782.8H168.2M168.6 775.5H160.5V781.2H165.1M205.3 787.3H184.9V788.7H205.3M205.3 790.1H184.9V791.5H205.3M184.9 788H177.2V790.8H184.9M205.3 792.8H187.6V794.2H205.3M205.3 795.6H180.6V797H205.3M187.6 793.5H173.2V796.3H180.6M177.2 789.4H166.3V794.9H173.2M205.3 785.9H160.4V792.2H166.3M160.5 778.3H157.6V789H160.4M205.3 772H149.3V783.7H157.6M205.3 770.6H146.2V777.8H149.3M205.3 799.8H180.8V801.2H205.3M205.3 804H184.4V805.3H205.3M205.3 802.6H178.7V804.7H184.4M180.8 800.5H177.2V803.6H178.7M205.3 810.9H185.5V812.3H205.3M205.3 809.5H181V811.6H185.5M205.3 808.1H174.7V810.6H181M205.3 806.7H172.9V809.3H174.7M177.2 802H170.9V808H172.9M205.3 815.1H178.6V816.5H205.3M205.3 813.7H168.3V815.8H178.6M170.9 805H157.8V814.7H168.3M205.3 820.6H178.4V822H205.3M205.3 819.2H166.5V821.3H178.4M205.3 823.4H175.2V824.8H205.3M205.3 829H179.3V830.4H205.3M205.3 827.6H174.8V829.7H179.3M205.3 826.2H172.3V828.6H174.8M175.2 824.1H165.6V827.4H172.3M166.5 820.3H162.7V825.8H165.6M205.3 817.9H158.3V823H162.7M205.3 833.1H186.2V834.5H205.3M205.3 831.7H183.7V833.8H186.2M205.3 837.3H183.5V838.7H205.3M205.3 835.9H178.6V838H183.5M183.7 832.8H165.9V837H178.6M205.3 840.1H173.9V841.5H205.3M205.3 844.2H175.6V845.6H205.3M205.3 842.9H173.4V844.9H175.6M173.9 840.8H161V843.9H173.4M165.9 834.9H156.2V842.3H161M158.3 820.4H153.5V838.6H156.2M157.8 809.9H150.4V829.5H153.5M205.3 798.4H144.9V819.7H150.4M146.2 774.2H144.2V809.1H144.9M205.3 852.6H185.6V854H205.3M205.3 851.2H172.4V853.3H185.6M205.3 849.8H170.6V852.2H172.4M205.3 856.7H180.5V858.1H205.3M205.3 860.9H184.8V862.3H205.3M205.3 859.5H176.9V861.6H184.8M180.5 857.4H166.3V860.6H176.9M205.3 855.4H159.1V859H166.3M170.6 851H155.6V857.2H159.1M205.3 848.4H151.2V854.1H155.6M205.3 847H142.9V851.3H151.2M144.2 791.6H138.4V849.1H142.9M149.2 756.8H133.2V820.4H138.4M148.2 732H122.3V788.6H133.2M134.4 687.4H115.8V760.3H122.3M116.6 639.2H107.6V723.8H115.8M146 621H86.5V681.5H107.6" fill="none" stroke="#a3a3a3" stroke-width="1.1"/><path d="M205.3 899.3H172.8V900.7H205.3M205.3 902.1H171.4V903.4H205.3M172.8 900H149.3V902.7H171.4M205.3 907.6H159.8V909H205.3M205.3 906.2H156.4V908.3H159.8M205.3 904.8H145V907.2H156.4M149.3 901.4H140V906H145M205.3 911.7H154.3V913.1H205.3M205.3 914.5H154.9V915.9H205.3M205.3 920H159.5V921.4H205.3M205.3 918.6H154.8V920.7H159.5M205.3 917.2H145V919.7H154.8M154.9 915.2H136.7V918.4H145M154.3 912.4H129.1V916.8H136.7M205.3 910.3H123.5V914.6H129.1M205.3 924.1H163.1V925.5H205.3M205.3 926.9H165.2V928.3H205.3M205.3 931.1H171.5V932.4H205.3M205.3 929.7H158.6V931.7H171.5M165.2 927.6H153.3V930.7H158.6M163.1 924.8H139.9V929.2H153.3M205.3 922.8H139.5V927H139.9M205.3 935.2H158V936.6H205.3M205.3 933.8H151.1V935.9H158M205.3 938H162.1V939.3H205.3M205.3 940.7H166V942.1H205.3M205.3 946.2H173.8V947.6H205.3M205.3 944.9H165.7V946.9H173.8M205.3 943.5H157.7V945.9H165.7M166 941.4H154.4V944.7H157.7M162.1 938.6H145.5V943H154.4M151.1 934.8H138.7V940.8H145.5M139.5 924.9H128.9V937.8H138.7M205.3 949H163.6V950.4H205.3M205.3 953.1H165.4V954.5H205.3M205.3 951.8H155.7V953.8H165.4M163.6 949.7H142.2V952.8H155.7M205.3 955.9H158.2V957.3H205.3M205.3 961.4H172.1V962.8H205.3M205.3 960H163.6V962.1H172.1M205.3 958.7H161.8V961.1H163.6M205.3 964.2H159.5V965.6H205.3M161.8 959.9H148.5V964.9H159.5M158.2 956.6H142.2V962.4H148.5M142.2 951.2H128.6V959.5H142.2M128.9 931.4H123.7V955.4H128.6M205.3 968.3H160.4V969.7H205.3M205.3 967H149.7V969H160.4M205.3 973.9H177V975.2H205.3M205.3 972.5H160.1V974.5H177M205.3 971.1H149V973.5H160.1M149.7 968H144.3V972.3H149M205.3 978H171.8V979.4H205.3M205.3 976.6H161.3V978.7H171.8M205.3 980.8H173V982.1H205.3M205.3 986.3H177.4V987.7H205.3M205.3 984.9H166.4V987H177.4M205.3 983.5H161.6V985.9H166.4M173 981.5H154.4V984.7H161.6M161.3 977.7H147.9V983.1H154.4M205.3 989H170.3V990.4H205.3M205.3 991.8H159V993.2H205.3M170.3 989.7H146.6V992.5H159M147.9 980.4H142.5V991.1H146.6M144.3 970.1H135V985.7H142.5M205.3 997.3H171.2V998.7H205.3M205.3 996H155.1V998H171.2M205.3 1000.1H163.7V1001.5H205.3M205.3 1002.9H174.2V1004.2H205.3M205.3 1005.6H168.2V1007H205.3M174.2 1003.5H160.3V1006.3H168.2M163.7 1000.8H153.3V1004.9H160.3M155.1 997H148.1V1002.9H153.3M205.3 994.6H131.9V999.9H148.1M135 977.9H120.4V997.2H131.9M123.7 943.4H112.4V987.6H120.4M123.5 912.5H105.8V965.5H112.4M140 903.7H93.3V939H105.8M205.3 1008.4H165.2V1009.8H205.3M205.3 1012.5H165.7V1013.9H205.3M205.3 1016.7H179.8V1018H205.3M205.3 1015.3H164.3V1017.4H179.8M165.7 1013.2H150.9V1016.3H164.3M205.3 1011.1H143.5V1014.8H150.9M165.2 1009.1H137.8V1013H143.5M205.3 1020.8H166.5V1022.2H205.3M205.3 1023.6H160V1024.9H205.3M166.5 1021.5H153.2V1024.3H160M205.3 1019.4H136.2V1022.9H153.2M137.8 1011H128.4V1021.2H136.2M205.3 1031.9H179.4V1033.2H205.3M205.3 1030.5H160.7V1032.5H179.4M205.3 1029.1H156.2V1031.5H160.7M205.3 1036H166.9V1037.4H205.3M205.3 1034.6H151.7V1036.7H166.9M156.2 1030.3H146.3V1035.7H151.7M205.3 1027.7H139.9V1033H146.3M205.3 1026.3H136V1030.3H139.9M205.3 1041.5H168.3V1042.9H205.3M205.3 1040.1H159V1042.2H168.3M205.3 1044.3H155.3V1045.7H205.3M205.3 1047H169.4V1048.4H205.3M205.3 1049.8H158.4V1051.2H205.3M169.4 1047.7H151V1050.5H158.4M155.3 1045H140.8V1049.1H151M159 1041.2H137.7V1047H140.8M205.3 1038.8H130.3V1044.1H137.7M205.3 1056.7H173.7V1058.1H205.3M205.3 1055.3H166V1057.4H173.7M205.3 1053.9H162.1V1056.4H166M205.3 1060.9H163.6V1062.2H205.3M205.3 1059.5H159.2V1061.5H163.6M162.1 1055.2H143V1060.5H159.2M205.3 1052.6H127.9V1057.8H143M130.3 1041.4H118.3V1055.2H127.9M205.3 1065H165.4V1066.4H205.3M205.3 1063.6H147.8V1065.7H165.4M205.3 1069.1H149V1070.5H205.3M205.3 1067.8H132V1069.8H149M147.8 1064.6H126.3V1068.8H132M205.3 1071.9H182.9V1073.3H205.3M205.3 1076H160V1077.4H205.3M205.3 1074.7H154.9V1076.7H160M182.9 1072.6H140.4V1075.7H154.9M205.3 1081.6H173.9V1082.9H205.3M205.3 1080.2H171.5V1082.3H173.9M205.3 1084.3H161.2V1085.7H205.3M171.5 1081.2H158.4V1085H161.2M205.3 1089.8H178V1091.2H205.3M205.3 1088.5H159.5V1090.5H178M205.3 1087.1H156.7V1089.5H159.5M158.4 1083.1H144.1V1088.3H156.7M205.3 1078.8H140.3V1085.7H144.1M205.3 1096.8H178.6V1098.1H205.3M205.3 1099.5H174.4V1100.9H205.3M178.6 1097.4H168.8V1100.2H174.4M205.3 1095.4H163.6V1098.8H168.8M205.3 1094H158.6V1097.1H163.6M205.3 1092.6H153V1095.5H158.6M205.3 1103.7H175.6V1105H205.3M205.3 1102.3H151.8V1104.3H175.6M153 1094.1H143.8V1103.3H151.8M205.3 1106.4H178.2V1107.8H205.3M205.3 1110.6H164.9V1111.9H205.3M205.3 1109.2H154.7V1111.3H164.9M178.2 1107.1H148.1V1110.2H154.7M205.3 1114.7H163.6V1116.1H205.3M205.3 1113.3H153V1115.4H163.6M205.3 1120.2H167.4V1121.6H205.3M205.3 1118.8H162.6V1120.9H167.4M205.3 1117.5H151.5V1119.9H162.6M153 1114.4H144.8V1118.7H151.5M148.1 1108.7H141.1V1116.5H144.8M143.8 1098.7H139.6V1112.6H141.1M140.3 1082.3H131.2V1105.6H139.6M140.4 1074.1H123.5V1093.9H131.2M126.3 1066.7H114.9V1084H123.5M118.3 1048.3H104.6V1075.4H114.9M136 1028.3H90.8V1061.8H104.6M128.4 1016.1H87.7V1045.1H90.8M93.3 921.3H87.2V1030.6H87.7" fill="none" stroke="#a3a3a3" stroke-width="1.1"/><rect x="210.8" y="618" width="102.2" height="245.5" fill="none" stroke="#000" stroke-width="3"/><rect x="551.6" y="898.1" width="102.2" height="224.7" fill="none" stroke="#000" stroke-width="3"/><text x="345.5" y="544" font-size="28.7" text-anchor="middle">Pellet</text><text x="257.5" y="598" font-size="26.5" fill="#e07a82" style="font-family:'Liberation Serif','Times New Roman',serif" stroke="#e07a82" stroke-width=".45">I</text><text x="362.3" y="598" fill="#6b9be8"><tspan font-family="'Liberation Serif','Times New Roman',serif" font-size="26.5" stroke="#6b9be8" stroke-width=".45">II</tspan><tspan font-size="20" dx=".5" dy="7">n</tspan></text><text x="479.7" y="598" fill="#6b9be8"><tspan font-family="'Liberation Serif','Times New Roman',serif" font-size="26.5" stroke="#6b9be8" stroke-width=".45">II</tspan><tspan font-size="20" dx=".5" dy="7">a</tspan></text><text x="589.5" y="598" font-size="26.5" fill="#ee98f0" style="font-family:'Liberation Serif','Times New Roman',serif" stroke="#ee98f0" stroke-width=".45">III</text><text x="57.5" y="740.8" font-size="28.7" text-anchor="middle" fill="#6a9fd3" transform="rotate(-90 57.5 740.8)">Descending</text><text x="57.5" y="1010.5" font-size="28.7" text-anchor="middle" fill="#d97a82" transform="rotate(-90 57.5 1010.5)">Ascending</text><text x="202.3" y="1150.5" font-size="24.9" text-anchor="end">Replicate</text><text x="228.2" y="1151.5" font-size="24.5" text-anchor="middle">1</text><text x="261.9" y="1151.5" font-size="24.5" text-anchor="middle">2</text><text x="295.6" y="1151.5" font-size="24.5" text-anchor="middle">3</text><text x="341.8" y="1151.5" font-size="24.5" text-anchor="middle">1</text><text x="375.5" y="1151.5" font-size="24.5" text-anchor="middle">2</text><text x="409.2" y="1151.5" font-size="24.5" text-anchor="middle">3</text><text x="455.4" y="1151.5" font-size="24.5" text-anchor="middle">1</text><text x="489.1" y="1151.5" font-size="24.5" text-anchor="middle">2</text><text x="522.8" y="1151.5" font-size="24.5" text-anchor="middle">3</text><text x="569" y="1151.5" font-size="24.5" text-anchor="middle">1</text><text x="602.7" y="1151.5" font-size="24.5" text-anchor="middle">2</text><text x="636.4" y="1151.5" font-size="24.5" text-anchor="middle">3</text><path d="M914.2 618.4H888.8V620H914.2M914.2 623.3H895.4V624.9H914.2M914.2 621.6H881.7V624.1H895.4M888.8 619.2H879.4V622.9H881.7M914.2 626.5H900.1V628.1H914.2M914.2 631.4H891.5V633H914.2M914.2 629.7H881.2V632.2H891.5M900.1 627.3H872.5V631H881.2M879.4 621H866.8V629.1H872.5M914.2 634.6H881.3V636.2H914.2M914.2 642.7H899.3V644.3H914.2M914.2 645.9H894.2V647.6H914.2M899.3 643.5H885.7V646.7H894.2M914.2 641.1H880.2V645.1H885.7M914.2 639.5H875.2V643.1H880.2M914.2 637.8H864.4V641.3H875.2M881.3 635.4H862.9V639.6H864.4M866.8 625.1H830.3V637.5H862.9M914.2 650.8H895.1V652.4H914.2M914.2 654H892.2V655.7H914.2M895.1 651.6H885.2V654.8H892.2M914.2 658.9H889.7V660.5H914.2M914.2 657.3H881.9V659.7H889.7M885.2 653.2H877.3V658.5H881.9M914.2 649.2H869.8V655.9H877.3M914.2 665.4H888.2V667H914.2M914.2 663.7H878.3V666.2H888.2M914.2 662.1H874.9V665H878.3M914.2 671.8H892.6V673.5H914.2M914.2 670.2H885.3V672.7H892.6M914.2 668.6H879.8V671.4H885.3M914.2 676.7H894.2V678.3H914.2M914.2 675.1H879.7V677.5H894.2M879.8 670H874.6V676.3H879.7M874.9 663.5H863.5V673.2H874.6M869.8 652.5H855.2V668.4H863.5M914.2 679.9H895.2V681.6H914.2M914.2 683.2H886.9V684.8H914.2M895.2 680.7H882.5V684H886.9M914.2 688H888.1V689.7H914.2M914.2 686.4H886.9V688.8H888.1M914.2 694.5H897.2V696.1H914.2M914.2 692.9H886.5V695.3H897.2M914.2 691.3H882.6V694.1H886.5M886.9 687.6H872.9V692.7H882.6M882.5 682.4H866.4V690.2H872.9M914.2 697.7H889.3V699.4H914.2M914.2 702.6H889.3V704.2H914.2M914.2 701H886.4V703.4H889.3M889.3 698.6H881.1V702.2H886.4M914.2 705.8H881.9V707.5H914.2M914.2 709.1H889.7V710.7H914.2M914.2 712.3H887.2V713.9H914.2M889.7 709.9H875.3V713.1H887.2M881.9 706.7H871V711.5H875.3M881.1 700.4H868.3V709.1H871M914.2 718.8H893.6V720.4H914.2M914.2 717.2H888V719.6H893.6M914.2 725.3H895.1V726.9H914.2M914.2 723.7H892V726.1H895.1M914.2 722H884.2V724.9H892M888 718.4H877V723.5H884.2M914.2 715.6H874.7V720.9H877M914.2 730.1H899.4V731.8H914.2M914.2 728.5H888.5V730.9H899.4M914.2 735H883.3V736.6H914.2M914.2 733.4H878V735.8H883.3M888.5 729.7H873.9V734.6H878M914.2 738.2H885.3V739.8H914.2M914.2 743.1H892.8V744.7H914.2M914.2 741.5H888.4V743.9H892.8M914.2 747.9H898.5V749.6H914.2M914.2 746.3H883.2V748.8H898.5M888.4 742.7H875.6V747.5H883.2M885.3 739H871.8V745.1H875.6M873.9 732.2H863.9V742.1H871.8M874.7 718.2H859.6V737.1H863.9M868.3 704.7H850.9V727.7H859.6M866.4 686.3H833.7V716.2H850.9M914.2 754.4H896.3V756H914.2M914.2 752.8H889V755.2H896.3M914.2 751.2H877.9V754H889M914.2 759.3H894.1V760.9H914.2M914.2 757.7H893.6V760.1H894.1M914.2 764.1H898.7V765.8H914.2M914.2 762.5H887.3V764.9H898.7M893.6 758.9H883.6V763.7H887.3M914.2 769H889.4V770.6H914.2M914.2 767.4H882.5V769.8H889.4M914.2 773.9H886.5V775.5H914.2M914.2 772.2H880.9V774.7H886.5M882.5 768.6H870.1V773.4H880.9M883.6 761.3H869.8V771H870.1M877.9 752.6H868.9V766.2H869.8M914.2 780.3H900V781.9H914.2M914.2 778.7H891.7V781.1H900M914.2 783.6H890.3V785.2H914.2M891.7 779.9H882.4V784.4H890.3M914.2 777.1H877.9V782.1H882.4M914.2 786.8H885.6V788.4H914.2M914.2 793.3H885.6V794.9H914.2M914.2 791.7H884.5V794.1H885.6M914.2 790H875.1V792.9H884.5M885.6 787.6H871.1V791.5H875.1M877.9 779.6H863.8V789.5H871.1M868.9 759.4H852.1V784.6H863.8M914.2 796.5H877.9V798.1H914.2M914.2 803H893.8V804.6H914.2M914.2 801.4H886.8V803.8H893.8M914.2 806.2H880.6V807.9H914.2M886.8 802.6H875.2V807H880.6M914.2 799.8H872.8V804.8H875.2M914.2 809.5H886V811.1H914.2M914.2 812.7H879.7V814.3H914.2M886 810.3H867.3V813.5H879.7M872.8 802.3H861.9V811.9H867.3M877.9 797.3H851.8V807.1H861.9M914.2 815.9H879.9V817.6H914.2M914.2 820.8H886.5V822.4H914.2M914.2 819.2H875.9V821.6H886.5M879.9 816.8H862.3V820.4H875.9M914.2 824H882.7V825.7H914.2M914.2 827.3H894.4V828.9H914.2M914.2 830.5H893.6V832.1H914.2M894.4 828.1H890.8V831.3H893.6M914.2 837H895V838.6H914.2M914.2 835.4H887.9V837.8H895M914.2 833.8H884.1V836.6H887.9M890.8 829.7H876.5V835.2H884.1M882.7 824.9H868.1V832.4H876.5M914.2 840.2H891.5V841.9H914.2M914.2 843.5H887.2V845.1H914.2M914.2 848.3H901.6V850H914.2M914.2 851.6H899.7V853.2H914.2M901.6 849.1H896.6V852.4H899.7M914.2 846.7H881.4V850.8H896.6M887.2 844.3H880V848.7H881.4M891.5 841H866.2V846.5H880M868.1 828.6H856.6V843.8H866.2M862.3 818.6H846.7V836.2H856.6M851.8 802.2H842.9V827.4H846.7M852.1 772H832.3V814.8H842.9M833.7 701.2H818.8V793.4H832.3M855.2 660.4H811.7V747.3H818.8M830.3 631.3H795V703.9H811.7" fill="none" stroke="#8f8f8f" stroke-width="0.7"/><path d="M914.2 893H901.7V894.7H914.2M914.2 891.4H893.3V893.9H901.7M914.2 896.3H889.9V897.9H914.2M893.3 892.6H889.3V897.1H889.9M914.2 889.8H878.4V894.9H889.3M914.2 899.5H883.8V901.1H914.2M914.2 906H894.6V907.6H914.2M914.2 904.4H885.8V906.8H894.6M914.2 902.8H880.6V905.6H885.8M883.8 900.3H871V904.2H880.6M878.4 892.3H865.5V902.2H871M914.2 910.8H882.2V912.5H914.2M914.2 909.2H877.9V911.7H882.2M914.2 915.7H895.2V917.3H914.2M914.2 914.1H885.9V916.5H895.2M914.2 922.2H894.9V923.8H914.2M914.2 920.6H889.1V923H894.9M914.2 918.9H884V921.8H889.1M885.9 915.3H874.8V920.3H884M877.9 910.4H865.5V917.8H874.8M865.5 897.3H847.9V914.1H865.5M914.2 925.4H891.6V927H914.2M914.2 930.3H884.9V931.9H914.2M914.2 928.6H877.7V931.1H884.9M891.6 926.2H875.9V929.9H877.7M914.2 936.7H888.2V938.4H914.2M914.2 935.1H884.7V937.5H888.2M914.2 940H891.9V941.6H914.2M914.2 946.4H899.2V948.1H914.2M914.2 944.8H895.9V947.2H899.2M914.2 943.2H889.4V946H895.9M891.9 940.8H883.2V944.6H889.4M884.7 936.3H876.8V942.7H883.2M914.2 933.5H866.6V939.5H876.8M875.9 928H857.3V936.5H866.6M914.2 951.3H893.1V952.9H914.2M914.2 949.7H882.8V952.1H893.1M914.2 956.1H886.9V957.8H914.2M914.2 954.5H880.8V957H886.9M882.8 950.9H873.8V955.7H880.8M914.2 961H895.7V962.6H914.2M914.2 964.2H890.7V965.9H914.2M895.7 961.8H878.1V965H890.7M914.2 959.4H873.4V963.4H878.1M873.8 953.3H860V961.4H873.4M914.2 969.1H883.5V970.7H914.2M914.2 967.5H880.6V969.9H883.5M914.2 973.9H888.2V975.6H914.2M914.2 972.3H877.8V974.8H888.2M880.6 968.7H870.6V973.5H877.8M914.2 978.8H889.1V980.4H914.2M914.2 977.2H888.6V979.6H889.1M914.2 983.7H892.2V985.3H914.2M914.2 982H880.5V984.5H892.2M914.2 990.1H898.3V991.7H914.2M914.2 995H900.6V996.6H914.2M914.2 993.4H892.7V995.8H900.6M898.3 990.9H885.4V994.6H892.7M914.2 988.5H883.5V992.8H885.4M914.2 986.9H877.9V990.6H883.5M880.5 983.3H870.2V988.8H877.9M888.6 978.4H866.8V986H870.2M870.6 971.1H853.5V982.2H866.8M860 957.4H836.2V976.7H853.5M857.3 932.3H830.4V967H836.2M847.9 905.7H814.4V949.6H830.4M914.2 999.8H888.9V1001.5H914.2M914.2 1003.1H900.7V1004.7H914.2M914.2 1006.3H895.9V1007.9H914.2M900.7 1003.9H886.3V1007.1H895.9M888.9 1000.6H875V1005.5H886.3M914.2 998.2H871.7V1003.1H875M914.2 1011.2H889.1V1012.8H914.2M914.2 1016H890.7V1017.6H914.2M914.2 1014.4H881.9V1016.8H890.7M889.1 1012H876.4V1015.6H881.9M914.2 1009.5H868.7V1013.8H876.4M871.7 1000.6H862.4V1011.7H868.7M914.2 1020.9H896.2V1022.5H914.2M914.2 1019.3H885V1021.7H896.2M914.2 1025.7H891.8V1027.3H914.2M914.2 1024.1H890.1V1026.5H891.8M914.2 1029H888.7V1030.6H914.2M890.1 1025.3H879.4V1029.8H888.7M885 1020.5H876.5V1027.5H879.4M914.2 1033.8H881.9V1035.4H914.2M914.2 1032.2H871.9V1034.6H881.9M876.5 1024H866.9V1033.4H871.9M914.2 1038.7H896.9V1040.3H914.2M914.2 1037.1H890.4V1039.5H896.9M914.2 1043.5H893.3V1045.1H914.2M914.2 1041.9H887.4V1044.3H893.3M890.4 1038.3H879V1043.1H887.4M914.2 1046.8H887.3V1048.4H914.2M914.2 1051.6H891.5V1053.2H914.2M914.2 1050H884.9V1052.4H891.5M887.3 1047.6H875.8V1051.2H884.9M879 1040.7H867.5V1049.4H875.8M914.2 1054.9H879.5V1056.5H914.2M914.2 1064.6H900.4V1066.2H914.2M914.2 1062.9H891.1V1065.4H900.4M914.2 1061.3H889.4V1064.2H891.1M914.2 1059.7H881.2V1062.7H889.4M914.2 1058.1H870.8V1061.2H881.2M879.5 1055.7H864V1059.7H870.8M867.5 1045H860.9V1057.7H864M866.9 1028.7H839.2V1051.3H860.9M914.2 1069.4H893.1V1071H914.2M914.2 1067.8H878.9V1070.2H893.1M914.2 1072.6H890V1074.3H914.2M914.2 1077.5H890.8V1079.1H914.2M914.2 1075.9H884.3V1078.3H890.8M890 1073.5H873.5V1077.1H884.3M878.9 1069H872.3V1075.3H873.5M914.2 1085.6H882.7V1087.2H914.2M914.2 1084H881.3V1086.4H882.7M914.2 1082.4H880V1085.2H881.3M914.2 1080.7H860.6V1083.8H880M872.3 1072.1H859.1V1082.3H860.6M914.2 1088.8H885.7V1090.4H914.2M914.2 1092.1H885.1V1093.7H914.2M885.7 1089.6H877.5V1092.9H885.1M914.2 1096.9H886.7V1098.5H914.2M914.2 1095.3H871.7V1097.7H886.7M914.2 1101.8H897.4V1103.4H914.2M914.2 1100.2H882.4V1102.6H897.4M914.2 1108.2H898.9V1109.9H914.2M914.2 1106.6H894.2V1109.1H898.9M914.2 1105H878V1107.8H894.2M882.4 1101.4H870.9V1106.4H878M871.7 1096.5H868.1V1103.9H870.9M914.2 1111.5H889.2V1113.1H914.2M914.2 1119.6H900V1121.2H914.2M914.2 1118H893.7V1120.4H900M914.2 1116.3H886.7V1119.2H893.7M914.2 1114.7H884.2V1117.8H886.7M889.2 1112.3H866.8V1116.2H884.2M868.1 1100.2H855.9V1114.3H866.8M877.5 1091.3H852.7V1107.2H855.9M859.1 1077.2H834.7V1099.2H852.7M839.2 1040H821.7V1088.2H834.7M862.4 1006.2H808.5V1064.1H821.7M814.4 927.7H796.8V1035.1H808.5" fill="none" stroke="#8f8f8f" stroke-width="0.7"/><rect x="919.8" y="617.1" width="102.5" height="237.4" fill="none" stroke="#000" stroke-width="3"/><rect x="1260" y="888.5" width="102.5" height="234" fill="none" stroke="#000" stroke-width="3"/><text x="1054" y="544" font-size="28.7" text-anchor="middle">Total cell lysate</text><text x="962.4" y="598" font-size="26.5" fill="#e07a82" style="font-family:'Liberation Serif','Times New Roman',serif" stroke="#e07a82" stroke-width=".45">I</text><text x="1067.7" y="598" fill="#6b9be8"><tspan font-family="'Liberation Serif','Times New Roman',serif" font-size="26.5" stroke="#6b9be8" stroke-width=".45">II</tspan><tspan font-size="20" dx=".5" dy="7">n</tspan></text><text x="1184.6" y="598" fill="#6b9be8"><tspan font-family="'Liberation Serif','Times New Roman',serif" font-size="26.5" stroke="#6b9be8" stroke-width=".45">II</tspan><tspan font-size="20" dx=".5" dy="7">a</tspan></text><text x="1295" y="598" font-size="26.5" fill="#ee98f0" style="font-family:'Liberation Serif','Times New Roman',serif" stroke="#ee98f0" stroke-width=".45">III</text><text x="765.5" y="735.8" font-size="28.7" text-anchor="middle" fill="#6a9fd3" transform="rotate(-90 765.5 735.8)">Descending</text><text x="765.5" y="1005.5" font-size="28.7" text-anchor="middle" fill="#d97a82" transform="rotate(-90 765.5 1005.5)">Ascending</text><text x="911.3" y="1150.5" font-size="24.9" text-anchor="end">Replicate</text><text x="937.2" y="1151.5" font-size="24.5" text-anchor="middle">1</text><text x="971" y="1151.5" font-size="24.5" text-anchor="middle">2</text><text x="1004.9" y="1151.5" font-size="24.5" text-anchor="middle">3</text><text x="1050.6" y="1151.5" font-size="24.5" text-anchor="middle">1</text><text x="1084.5" y="1151.5" font-size="24.5" text-anchor="middle">2</text><text x="1118.3" y="1151.5" font-size="24.5" text-anchor="middle">3</text><text x="1164" y="1151.5" font-size="24.5" text-anchor="middle">1</text><text x="1197.8" y="1151.5" font-size="24.5" text-anchor="middle">2</text><text x="1231.7" y="1151.5" font-size="24.5" text-anchor="middle">3</text><text x="1277.4" y="1151.5" font-size="24.5" text-anchor="middle">1</text><text x="1311.2" y="1151.5" font-size="24.5" text-anchor="middle">2</text><text x="1345.1" y="1151.5" font-size="24.5" text-anchor="middle">3</text><path d="M1622.3 618.8H1589.6V620.5H1622.3M1622.3 623.8H1600.7V625.4H1622.3M1622.3 622.1H1588.5V624.6H1600.7M1622.3 627H1583.8V628.7H1622.3M1588.5 623.3H1579V627.9H1583.8M1589.6 619.6H1564.4V625.6H1579M1622.3 636.9H1603.8V638.6H1622.3M1622.3 635.3H1594.2V637.7H1603.8M1622.3 633.6H1590V636.5H1594.2M1622.3 632H1580.1V635.1H1590M1622.3 641.8H1598.9V643.5H1622.3M1622.3 640.2H1588.7V642.7H1598.9M1622.3 646.8H1597.5V648.4H1622.3M1622.3 645.1H1582.3V647.6H1597.5M1588.7 641.4H1574.3V646.4H1582.3M1580.1 633.5H1570.4V643.9H1574.3M1622.3 630.3H1562.5V638.7H1570.4M1564.4 622.6H1538.2V634.5H1562.5M1622.3 651.7H1596.9V653.4H1622.3M1622.3 650.1H1588.8V652.5H1596.9M1622.3 656.6H1593.7V658.3H1622.3M1622.3 655H1587V657.5H1593.7M1588.8 651.3H1577V656.2H1587M1622.3 663.2H1605.3V664.9H1622.3M1622.3 661.6H1593.8V664H1605.3M1622.3 659.9H1583.9V662.8H1593.8M1622.3 669.8H1597.7V671.4H1622.3M1622.3 668.2H1582.3V670.6H1597.7M1622.3 666.5H1569.4V669.4H1582.3M1583.9 661.4H1564.5V667.9H1569.4M1577 653.8H1562.6V664.7H1564.5M1622.3 676.4H1592V678H1622.3M1622.3 674.7H1579.2V677.2H1592M1622.3 673.1H1566.6V676H1579.2M1622.3 681.3H1597.2V683H1622.3M1622.3 684.6H1600.3V686.2H1622.3M1622.3 689.5H1599.8V691.2H1622.3M1622.3 687.9H1591.4V690.4H1599.8M1600.3 685.4H1589.4V689.1H1591.4M1597.2 682.1H1582.5V687.3H1589.4M1622.3 679.7H1576.4V684.7H1582.5M1622.3 692.8H1594.6V694.5H1622.3M1622.3 697.8H1601.2V699.4H1622.3M1622.3 696.1H1592V698.6H1601.2M1594.6 693.6H1585.1V697.3H1592M1622.3 702.7H1595.7V704.3H1622.3M1622.3 701H1589.4V703.5H1595.7M1622.3 707.6H1593.5V709.3H1622.3M1622.3 706H1580V708.4H1593.5M1589.4 702.3H1572.7V707.2H1580M1585.1 695.5H1570.3V704.7H1572.7M1576.4 682.2H1564.5V700.1H1570.3M1566.6 674.5H1552V691.2H1564.5M1562.6 659.2H1533.5V682.8H1552M1622.3 710.9H1604.7V712.6H1622.3M1622.3 714.2H1599.1V715.8H1622.3M1604.7 711.7H1593.1V715H1599.1M1622.3 717.5H1600.3V719.1H1622.3M1622.3 722.4H1602.5V724.1H1622.3M1622.3 720.8H1594.1V723.2H1602.5M1600.3 718.3H1585.3V722H1594.1M1622.3 725.7H1602.1V727.4H1622.3M1622.3 729H1589V730.6H1622.3M1602.1 726.5H1584.4V729.8H1589M1585.3 720.2H1575.7V728.2H1584.4M1593.1 713.4H1572.9V724.2H1575.7M1622.3 732.3H1592.5V733.9H1622.3M1622.3 737.2H1598.8V738.9H1622.3M1622.3 735.6H1592V738H1598.8M1622.3 743.8H1601.1V745.4H1622.3M1622.3 742.2H1593.4V744.6H1601.1M1622.3 740.5H1583.3V743.4H1593.4M1592 736.8H1580.3V741.9H1583.3M1622.3 748.7H1599.7V750.4H1622.3M1622.3 753.7H1599.7V755.3H1622.3M1622.3 752H1595.9V754.5H1599.7M1599.7 749.6H1592.2V753.3H1595.9M1622.3 757H1591.4V758.6H1622.3M1592.2 751.4H1583.4V757.8H1591.4M1622.3 747.1H1579.9V754.6H1583.4M1580.3 739.4H1574.7V750.8H1579.9M1592.5 733.1H1570.4V745.1H1574.7M1622.3 763.5H1602.9V765.2H1622.3M1622.3 761.9H1581V764.4H1602.9M1622.3 760.2H1561.7V763.1H1581M1570.4 739.1H1552.6V761.7H1561.7M1572.9 718.8H1529V750.4H1552.6M1533.5 671H1508.9V734.6H1529M1538.2 628.6H1507V702.8H1508.9" fill="none" stroke="#8f8f8f" stroke-width="0.7"/><path d="M1622.3 803.5H1600.9V805.1H1622.3M1622.3 806.7H1598.5V808.4H1622.3M1600.9 804.3H1588V807.6H1598.5M1622.3 801.8H1580.9V805.9H1588M1622.3 811.7H1583.6V813.3H1622.3M1622.3 810H1574.9V812.5H1583.6M1580.9 803.9H1568.5V811.3H1574.9M1622.3 816.6H1599.2V818.2H1622.3M1622.3 821.5H1601.3V823.1H1622.3M1622.3 819.9H1590.3V822.3H1601.3M1599.2 817.4H1582.6V821.1H1590.3M1622.3 814.9H1572.9V819.2H1582.6M1622.3 828.1H1594.5V829.7H1622.3M1622.3 833H1595.9V834.6H1622.3M1622.3 831.3H1591V833.8H1595.9M1594.5 828.9H1583.3V832.6H1591M1622.3 826.4H1578.7V830.7H1583.3M1622.3 824.8H1571.6V828.6H1578.7M1572.9 817.1H1566.7V826.7H1571.6M1568.5 807.6H1550.2V821.9H1566.7M1622.3 836.3H1589.4V837.9H1622.3M1622.3 841.2H1601.1V842.8H1622.3M1622.3 839.5H1586.7V842H1601.1M1622.3 844.5H1592.6V846.1H1622.3M1622.3 849.4H1601.7V851H1622.3M1622.3 847.7H1591.8V850.2H1601.7M1592.6 845.3H1585.6V849H1591.8M1586.7 840.8H1574.4V847.1H1585.6M1589.4 837.1H1567.5V844H1574.4M1622.3 852.7H1590.8V854.3H1622.3M1622.3 856H1603.1V857.6H1622.3M1622.3 860.9H1602.3V862.5H1622.3M1622.3 859.2H1593.8V861.7H1602.3M1603.1 856.8H1583V860.5H1593.8M1590.8 853.5H1578.7V858.6H1583M1622.3 864.2H1596.5V865.8H1622.3M1622.3 867.4H1595.1V869.1H1622.3M1596.5 865H1577.9V868.3H1595.1M1578.7 856.1H1567.9V866.6H1577.9M1622.3 870.7H1590.2V872.4H1622.3M1622.3 874H1589.3V875.6H1622.3M1622.3 885.5H1606.8V887.1H1622.3M1622.3 883.8H1598.9V886.3H1606.8M1622.3 882.2H1591.1V885.1H1598.9M1622.3 880.6H1583.9V883.6H1591.1M1622.3 878.9H1582.1V882.1H1583.9M1622.3 877.3H1574.5V880.5H1582.1M1589.3 874.8H1565.9V878.9H1574.5M1590.2 871.5H1559.8V876.9H1565.9M1567.9 861.3H1539.3V874.2H1559.8M1567.5 840.5H1527.3V867.8H1539.3M1550.2 814.7H1518.2V854.1H1527.3M1622.3 892H1592.1V893.7H1622.3M1622.3 890.4H1587.6V892.9H1592.1M1622.3 888.8H1578.7V891.6H1587.6M1622.3 898.6H1597.3V900.2H1622.3M1622.3 897H1593.6V899.4H1597.3M1622.3 895.3H1589.1V898.2H1593.6M1622.3 903.5H1601.4V905.2H1622.3M1622.3 901.9H1592.9V904.3H1601.4M1622.3 908.4H1596.5V910.1H1622.3M1622.3 906.8H1591.7V909.3H1596.5M1592.9 903.1H1581.7V908H1591.7M1589.1 896.8H1573.5V905.6H1581.7M1578.7 890.2H1558.2V901.2H1573.5M1622.3 913.4H1594.2V915H1622.3M1622.3 911.7H1578.6V914.2H1594.2M1622.3 919.9H1598.1V921.6H1622.3M1622.3 918.3H1585.9V920.7H1598.1M1622.3 916.6H1571.3V919.5H1585.9M1578.6 913H1566.9V918.1H1571.3M1622.3 924.8H1595.7V926.5H1622.3M1622.3 923.2H1584.8V925.7H1595.7M1622.3 931.4H1603.5V933H1622.3M1622.3 929.8H1589.1V932.2H1603.5M1622.3 928.1H1577.4V931H1589.1M1584.8 924.4H1571.6V929.6H1577.4M1622.3 936.3H1599.8V938H1622.3M1622.3 934.7H1596.8V937.1H1599.8M1622.3 939.6H1599.4V941.2H1622.3M1622.3 944.5H1601.9V946.2H1622.3M1622.3 942.9H1599.1V945.3H1601.9M1599.4 940.4H1588.7V944.1H1599.1M1596.8 935.9H1587V942.3H1588.7M1622.3 949.4H1594.3V951.1H1622.3M1622.3 947.8H1583.6V950.3H1594.3M1587 939.1H1577.4V949H1583.6M1622.3 957.6H1608.7V959.3H1622.3M1622.3 956H1602.2V958.5H1608.7M1622.3 954.4H1589.2V957.2H1602.2M1622.3 952.7H1582.7V955.8H1589.2M1622.3 960.9H1584.3V962.6H1622.3M1622.3 965.9H1602V967.5H1622.3M1622.3 969.1H1601.4V970.8H1622.3M1602 966.7H1590.1V970H1601.4M1622.3 964.2H1579.9V968.3H1590.1M1584.3 961.8H1574.4V966.3H1579.9M1582.7 954.3H1568.7V964H1574.4M1577.4 944.1H1561.4V959.1H1568.7M1571.6 927H1553.1V951.6H1561.4M1566.9 915.5H1546.3V939.3H1553.1M1558.2 895.7H1527.4V927.4H1546.3M1622.3 974.1H1595.9V975.7H1622.3M1622.3 972.4H1582.5V974.9H1595.9M1622.3 979H1585.6V980.6H1622.3M1622.3 977.3H1575.5V979.8H1585.6M1582.5 973.6H1571.6V978.6H1575.5M1622.3 985.5H1589V987.2H1622.3M1622.3 983.9H1576.2V986.4H1589M1622.3 982.3H1571.5V985.1H1576.2M1571.6 976.1H1560.9V983.7H1571.5M1622.3 988.8H1586.9V990.5H1622.3M1622.3 992.1H1600.4V993.7H1622.3M1622.3 995.4H1601.1V997H1622.3M1622.3 998.7H1600.2V1000.3H1622.3M1601.1 996.2H1592.6V999.5H1600.2M1600.4 992.9H1587.9V997.8H1592.6M1622.3 1003.6H1593.1V1005.2H1622.3M1622.3 1001.9H1587V1004.4H1593.1M1587.9 995.4H1573.3V1003.2H1587M1622.3 1006.9H1591.3V1008.5H1622.3M1622.3 1011.8H1596.3V1013.4H1622.3M1622.3 1010.1H1588.9V1012.6H1596.3M1591.3 1007.7H1573.1V1011.4H1588.9M1622.3 1016.7H1600.5V1018.3H1622.3M1622.3 1015.1H1594.2V1017.5H1600.5M1622.3 1020H1589.7V1021.6H1622.3M1594.2 1016.3H1580.8V1020.8H1589.7M1622.3 1024.9H1596.6V1026.5H1622.3M1622.3 1023.3H1594.6V1025.7H1596.6M1622.3 1029.8H1595.8V1031.5H1622.3M1622.3 1028.2H1583.7V1030.6H1595.8M1594.6 1024.5H1579.4V1029.4H1583.7M1580.8 1018.5H1567.9V1027H1579.4M1573.1 1009.5H1564.6V1022.7H1567.9M1573.3 999.3H1562.1V1016.1H1564.6M1586.9 989.6H1557.3V1007.7H1562.1M1622.3 1034.7H1586.5V1036.4H1622.3M1622.3 1033.1H1584.1V1035.6H1586.5M1622.3 1038H1589V1039.7H1622.3M1622.3 1042.9H1594.7V1044.6H1622.3M1622.3 1041.3H1593.3V1043.8H1594.7M1622.3 1047.9H1591.7V1049.5H1622.3M1622.3 1046.2H1586.3V1048.7H1591.7M1593.3 1042.5H1577.4V1047.5H1586.3M1589 1038.8H1573.7V1045H1577.4M1584.1 1034.3H1555V1041.9H1573.7M1557.3 998.7H1547.4V1038.1H1555M1560.9 979.9H1535.7V1018.4H1547.4M1622.3 1052.8H1582V1054.4H1622.3M1622.3 1051.1H1577.2V1053.6H1582M1622.3 1059.3H1593.6V1061H1622.3M1622.3 1057.7H1586.4V1060.2H1593.6M1622.3 1056.1H1574.1V1058.9H1586.4M1577.2 1052.4H1559.1V1057.5H1574.1M1622.3 1065.9H1609.8V1067.5H1622.3M1622.3 1064.3H1599.6V1066.7H1609.8M1622.3 1062.6H1593V1065.5H1599.6M1622.3 1069.2H1590.1V1070.8H1622.3M1593 1064.1H1574.7V1070H1590.1M1622.3 1072.5H1602.4V1074.1H1622.3M1622.3 1079H1600.1V1080.7H1622.3M1622.3 1077.4H1586.7V1079.9H1600.1M1622.3 1075.8H1577.2V1078.6H1586.7M1602.4 1073.3H1568V1077.2H1577.2M1574.7 1067H1550.2V1075.2H1568M1622.3 1084H1580.9V1085.6H1622.3M1622.3 1082.3H1555.9V1084.8H1580.9M1622.3 1087.2H1593.7V1088.9H1622.3M1622.3 1090.5H1604.9V1092.2H1622.3M1622.3 1093.8H1597.1V1095.4H1622.3M1604.9 1091.3H1585.7V1094.6H1597.1M1593.7 1088.1H1568.7V1093H1585.7M1622.3 1098.7H1593.5V1100.4H1622.3M1622.3 1097.1H1587.7V1099.5H1593.5M1622.3 1105.3H1603V1106.9H1622.3M1622.3 1103.6H1592.5V1106.1H1603M1622.3 1102H1587.2V1104.9H1592.5M1622.3 1108.6H1593.5V1110.2H1622.3M1622.3 1111.8H1597.3V1113.5H1622.3M1622.3 1115.1H1594.3V1116.8H1622.3M1597.3 1112.7H1587.2V1115.9H1594.3M1593.5 1109.4H1580.6V1114.3H1587.2M1587.2 1103.4H1575.2V1111.8H1580.6M1587.7 1098.3H1572.5V1107.6H1575.2M1622.3 1120H1583.3V1121.7H1622.3M1622.3 1118.4H1568.4V1120.9H1583.3M1572.5 1103H1560V1119.6H1568.4M1568.7 1090.5H1553.1V1111.3H1560M1555.9 1083.5H1546.3V1100.9H1553.1M1550.2 1071.1H1538.9V1092.2H1546.3M1559.1 1054.9H1532.7V1081.7H1538.9M1535.7 999.1H1520.6V1068.3H1532.7M1527.4 911.5H1514.1V1033.7H1520.6M1518.2 834.4H1504.3V972.6H1514.1" fill="none" stroke="#8f8f8f" stroke-width="0.7"/><rect x="1628.2" y="617.5" width="102.5" height="149" fill="none" stroke="#000" stroke-width="3"/><rect x="1968.7" y="800.5" width="102.5" height="322.5" fill="none" stroke="#000" stroke-width="3"/><text x="1762.5" y="544" font-size="28.7" text-anchor="middle">Supernatant</text><text x="1673.1" y="598" font-size="26.5" fill="#e07a82" style="font-family:'Liberation Serif','Times New Roman',serif" stroke="#e07a82" stroke-width=".45">I</text><text x="1777.7" y="598" fill="#6b9be8"><tspan font-family="'Liberation Serif','Times New Roman',serif" font-size="26.5" stroke="#6b9be8" stroke-width=".45">II</tspan><tspan font-size="20" dx=".5" dy="7">n</tspan></text><text x="1895.4" y="598" fill="#6b9be8"><tspan font-family="'Liberation Serif','Times New Roman',serif" font-size="26.5" stroke="#6b9be8" stroke-width=".45">II</tspan><tspan font-size="20" dx=".5" dy="7">a</tspan></text><text x="2005" y="598" font-size="26.5" fill="#ee98f0" style="font-family:'Liberation Serif','Times New Roman',serif" stroke="#ee98f0" stroke-width=".45">III</text><text x="1475.5" y="692" font-size="28.7" text-anchor="middle" fill="#6a9fd3" transform="rotate(-90 1475.5 692)">Descending</text><text x="1475.5" y="961.8" font-size="28.7" text-anchor="middle" fill="#d97a82" transform="rotate(-90 1475.5 961.8)">Ascending</text><text x="1619.7" y="1150.5" font-size="24.9" text-anchor="end">Replicate</text><text x="1645.6" y="1151.5" font-size="24.5" text-anchor="middle">1</text><text x="1679.5" y="1151.5" font-size="24.5" text-anchor="middle">2</text><text x="1713.3" y="1151.5" font-size="24.5" text-anchor="middle">3</text><text x="1759.1" y="1151.5" font-size="24.5" text-anchor="middle">1</text><text x="1793" y="1151.5" font-size="24.5" text-anchor="middle">2</text><text x="1826.8" y="1151.5" font-size="24.5" text-anchor="middle">3</text><text x="1872.6" y="1151.5" font-size="24.5" text-anchor="middle">1</text><text x="1906.5" y="1151.5" font-size="24.5" text-anchor="middle">2</text><text x="1940.3" y="1151.5" font-size="24.5" text-anchor="middle">3</text><text x="1986.1" y="1151.5" font-size="24.5" text-anchor="middle">1</text><text x="2020" y="1151.5" font-size="24.5" text-anchor="middle">2</text><text x="2053.8" y="1151.5" font-size="24.5" text-anchor="middle">3</text><path d="M38.5 545.8v12M38.5 572v12" stroke="#fff" stroke-width="3"/><path d="M199.2 545.8v12M199.2 572v12" stroke="#fff" stroke-width="3"/><text x="119.2" y="523.5" font-size="20.6" text-anchor="middle">Abundance</text><text x="36.9" y="609" font-size="20" text-anchor="middle">−3</text><text x="118.9" y="609" font-size="20" text-anchor="middle">0</text><text x="200.2" y="609" font-size="20" text-anchor="middle">3</text><ellipse cx="392" cy="1480" rx="150" ry="62" transform="rotate(-52 392 1480)" fill="url(#rg)" filter="url(#spk)"/><ellipse cx="440" cy="1420" rx="70" ry="40" transform="rotate(-52 440 1420)" fill="url(#rg)" filter="url(#spk)"/><path transform="translate(392 1476)" d="M-10 26L-15 25M-10 26L-5 28M-10 26L-9 20M6 -38L9 -36M6 -38L5 -30M6 -38L12 -32M33 -29L34 -29M33 -29L31 -24M33 -29L30 -23M34 -29L31 -24M34 -29L30 -23M27 -63L36 -47M27 -63L7 -64M27 -63L44 -78M87 -63L83 -85M87 -63L71 -79M87 -63L104 -44M-11 41L-6 33M-11 41L-17 32M-11 41L-22 41M-13 -41L-13 -38M-13 -41L-4 -32M-13 -41L-5 -29M12 -32L17 -32M12 -32L13 -27M12 -32L9 -36M-20 8L-22 6M-20 8L-6 10M-20 8L-10 18M-15 25L-17 32M-15 25L-9 20M-23 -22L-22 -13M-23 -22L-11 -18M-23 -22L-10 -15M-33 -2L-22 6M-33 -2L-43 8M-33 -2L-22 -13M-53 59L-59 53M-53 59L-42 56M-53 59L-40 65M43 -28L43 -26M-35 23L-38 23M-35 23L-42 29M-35 23L-35 39M-28 45L-28 38M-28 45L-23 40M-28 45L-22 41M35 -40L34 -37M35 -40L38 -37M35 -40L36 -47M31 -24L30 -23M22 -94L31 -102M22 -94L44 -78M-83 101L-87 69M-83 101L-50 113M-83 101L-64 70M17 -32L21 -30M17 -32L13 -27M-4 -32L-5 -29M-4 -32L5 -30M-4 -32L-13 -38M-59 53L-51 43M-59 53L-58 39M-23 40L-22 41M-23 40L-28 38M-23 40L-24 35M-24 35L-28 38M-24 35L-22 41M-42 56L-40 65M-42 56L-51 43M-28 38L-35 39M-38 23L-42 29M-38 23L-35 39M-2 -6L-4 -7M-2 -6L-4 -5M-2 -6L-1 -1M-6 -3L-4 -5M-6 -3L-4 -7M-6 -3L-1 -1M9 -36L5 -30M52 -14L40 -13M52 -14L55 -26M20 41L24 37M20 41L12 39M20 41L12 37M83 -85L71 -79M83 -85L54 -74M-78 46L-68 36M-78 46L-64 31M24 37L35 37M24 37L12 37M34 -13L34 -15M34 -13L40 -13M34 -13L30 -23M-22 6L-6 10M-5 -29L5 -30M-5 -29L-13 -38M1 20L-5 28M1 20L-9 20M1 20L-10 18M10 9L17 -4M10 9L-1 -1M-6 33L-5 28M-51 43L-58 39M14 -7L13 -11M14 -7L17 -4M14 -7L4 -13M40 -13L34 -15M-48 8L-43 8M21 -30L24 -30M21 -30L13 -27M-1 -1L-4 3M-1 -1L-4 -5M-68 36L-64 31M-68 36L-58 39M55 -26L58 -31M38 -37L34 -37M3 -14L4 -13M3 -14L0 -15M-4 -5L-4 -7M31 -102L44 -78M31 -102L54 -74M-40 65L-23 55M104 -44L70 -32M54 -74L53 -68M54 -74L51 -66M54 -74L44 -78M17 -4L13 -11M13 -27L5 -30M-87 69L-64 70M4 -13L0 -15M12 37L12 39M12 37L14 28M-9 -10L-10 -15M-11 81L-21 80M-11 81L2 72M-11 81L-23 55M51 -66L53 -68M51 -66L44 -78M12 39L14 28M71 -79L53 -68M-9 20L-10 18M58 -31L70 -32M-37 103L-50 113M-37 103L-21 80M-64 31L-58 39M-4 3L-6 10M36 -47L34 -37M-11 -18L-10 -15M-50 113L-21 80M-21 54L-23 55M2 72L-21 80M53 -68L44 -78" fill="none" stroke="#777" stroke-opacity="0.07" stroke-width="0.5"/><path transform="translate(392 1480)" d="M-10 22h0M6 -42h0M33 -33h0M34 -33h0M27 -67h0M87 -67h0M-11 37h0M-13 -45h0M12 -36h0M-20 4h0M-15 21h0M-23 -26h0M-33 -6h0M-53 55h0M43 -32h0M-35 19h0M-28 41h0M35 -44h0M31 -28h0M22 -98h0M-83 97h0M17 -36h0M-4 -36h0M-59 49h0M43 -30h0M-23 36h0M-24 31h0M-42 52h0M-28 34h0M-38 19h0M-2 -10h0M-6 -7h0M9 -40h0M52 -18h0M20 37h0M83 -89h0M-78 42h0M24 33h0M34 -17h0M-22 2h0M-5 -33h0M1 16h0M10 5h0M-6 29h0M-13 -42h0M-51 39h0M30 -27h0M14 -11h0M40 -17h0M-48 4h0M21 -34h0M-1 -5h0M-68 32h0M55 -30h0M38 -41h0M3 -18h0M-4 -9h0M-17 28h0M31 -106h0M34 -19h0M-40 61h0M-4 -11h0M-43 4h0M104 -48h0M54 -78h0M17 -8h0M-35 35h0M13 -31h0M-87 65h0M4 -17h0M12 33h0M-9 -14h0M35 33h0M-11 77h0M51 -70h0M12 35h0M0 -19h0M71 -83h0M13 -15h0M-9 16h0M-5 24h0M58 -35h0M70 -36h0M18 -44h0M7 -68h0M-22 37h0M-37 99h0M-64 27h0M-42 25h0M-4 -1h0M36 -51h0M-11 -22h0M5 -34h0M-50 109h0M-58 35h0M-21 50h0M-64 66h0M54 -1h0M-10 14h0M2 68h0M-6 6h0M-10 -19h0M-22 -17h0M53 -72h0M14 24h0M-21 76h0M44 -82h0M24 -34h0M34 -41h0M-23 51h0" stroke="#777" stroke-opacity="0.1" stroke-width="1.6" stroke-linecap="round"/><ellipse cx="536.7" cy="1368" rx="51" ry="51" transform="rotate(0 536.7 1368)" fill="#555" fill-opacity="0.16" filter="url(#tx)"/><path transform="translate(536 1367)" d="M52 2L50 13M52 2L37 37M52 2L1 52M52 2L-42 29M52 2L-48 16M52 2L-35 -36M52 2L-27 -42M52 2L-12 -48M52 2L12 -49M52 2L38 -34M52 2L43 -27M52 2L49 -14M52 2L27 -11M52 2L6 23M52 2L1 42M52 2L-37 -8M52 2L-11 -39M52 2L-13 -36M52 2L-4 17M50 13L37 37M50 13L1 52M50 13L-14 50M50 13L-29 43M50 13L-48 16M50 13L-50 -2M50 13L-43 -25M50 13L-27 -42M50 13L12 -49M50 13L25 -44M50 13L38 -34M50 13L49 -14M50 13L27 -11M50 13L6 23M50 13L-2 26M50 13L-13 -36M50 13L17 43M50 13L-35 -8M50 13L-4 17M50 13L13 27M44 28L11 51M44 28L1 52M44 28L-48 16M44 28L-49 -9M44 28L-12 -48M44 28L2 -50M44 28L12 -49M44 28L25 -44M44 28L43 -27M44 28L49 -14M44 28L27 -11M44 28L6 23M44 28L1 42M44 28L-2 26M44 28L-37 -8M44 28L-11 -39M44 28L-13 -36M44 28L-18 -33M44 28L13 27M37 37L-29 43M37 37L-48 16M37 37L-49 -9M37 37L-35 -36M37 37L2 -50M37 37L12 -49M37 37L43 -27M37 37L27 -11M37 37L6 23M37 37L-37 -8M37 37L-11 -39M37 37L-13 -36M37 37L17 43M37 37L-35 -8M37 37L-18 -33M37 37L13 27M30 43L-14 50M30 43L-29 43M30 43L-36 37M30 43L-48 16M30 43L-49 -9M30 43L25 -44M30 43L27 -11M30 43L1 42M30 43L20 -35M30 43L-2 26M30 43L4 -32M30 43L-13 -36M30 43L17 43M30 43L-18 -33M30 43L11 8M30 43L13 27M11 51L1 52M11 51L-14 50M11 51L-29 43M11 51L-36 37M11 51L-42 29M11 51L-50 -2M11 51L-49 -9M11 51L-12 -48M11 51L2 -50M11 51L25 -44M11 51L38 -34M11 51L49 -14M11 51L6 23M11 51L-2 26M11 51L-37 -8M11 51L-11 -39M11 51L4 -32M11 51L17 43M11 51L-35 -8M11 51L-18 -33M11 51L11 8M11 51L-4 17M11 51L0 -30M11 51L13 27M1 52L-36 37M1 52L-42 29M1 52L-48 16M1 52L-50 -2M1 52L-49 -9M1 52L-43 -25M1 52L-27 -42M1 52L2 -50M1 52L38 -34M1 52L49 -14M1 52L6 23M1 52L1 42M1 52L20 -35M1 52L-13 -36M1 52L17 43M1 52L11 8M1 52L0 -30M-14 50L-29 43M-14 50L-36 37M-14 50L-50 -2M-14 50L-43 -25M-14 50L-35 -36M-14 50L12 -49M-14 50L25 -44M-14 50L49 -14M-14 50L1 42M-14 50L-11 -39M-14 50L-13 -36M-14 50L-18 -33M-14 50L11 8M-14 50L-4 17M-14 50L0 -30M-29 43L-36 37M-29 43L-42 29M-29 43L-35 -36M-29 43L-27 -42M-29 43L2 -50M-29 43L12 -49M-29 43L25 -44M-29 43L38 -34M-29 43L49 -14M-29 43L6 23M-29 43L1 42M-29 43L20 -35M-29 43L-37 -8M-29 43L-11 -39M-29 43L17 43M-29 43L-35 -8M-29 43L11 8M-29 43L-4 17M-29 43L13 27M-36 37L-42 29M-36 37L-49 -9M-36 37L-27 -42M-36 37L25 -44M-36 37L38 -34M-36 37L6 23M-36 37L4 -32M-36 37L17 43M-36 37L-18 -33M-36 37L11 8M-36 37L-4 17M-36 37L13 27M-42 29L-48 16M-42 29L-50 -2M-42 29L-49 -9M-42 29L-12 -48M-42 29L12 -49M-42 29L25 -44M-42 29L43 -27M-42 29L6 23M-42 29L1 42M-42 29L20 -35M-42 29L-2 26M-42 29L-13 -36M-42 29L17 43M-42 29L-35 -8M-42 29L11 8M-42 29L0 -30M-48 16L-49 -9M-48 16L-43 -25M-48 16L-35 -36M-48 16L2 -50M-48 16L12 -49M-48 16L25 -44M-48 16L27 -11M-48 16L6 23M-48 16L1 42M-48 16L20 -35M-48 16L-2 26M-48 16L-37 -8M-48 16L-13 -36M-48 16L17 43M-48 16L-35 -8M-48 16L0 -30M-48 16L13 27M-50 -2L-49 -9M-50 -2L-27 -42M-50 -2L2 -50M-50 -2L12 -49M-50 -2L25 -44M-50 -2L38 -34M-50 -2L43 -27M-50 -2L49 -14M-50 -2L27 -11M-50 -2L6 23M-50 -2L-37 -8M-50 -2L-11 -39M-50 -2L-13 -36M-50 -2L-35 -8M-50 -2L11 8M-50 -2L-4 17M-49 -9L-43 -25M-49 -9L-35 -36M-49 -9L-12 -48M-49 -9L25 -44M-49 -9L38 -34M-49 -9L43 -27M-49 -9L1 42M-49 -9L20 -35M-49 -9L-11 -39M-49 -9L17 43M-43 -25L-35 -36M-43 -25L-27 -42M-43 -25L12 -49M-43 -25L25 -44M-43 -25L43 -27M-43 -25L-2 26M-43 -25L-37 -8M-43 -25L-11 -39M-43 -25L13 27M-35 -36L-27 -42M-35 -36L2 -50M-35 -36L12 -49M-35 -36L25 -44M-35 -36L6 23M-35 -36L1 42M-35 -36L20 -35M-35 -36L-37 -8M-35 -36L4 -32M-35 -36L17 43M-35 -36L-35 -8M-35 -36L11 8M-35 -36L0 -30M-35 -36L13 27M-27 -42L2 -50M-27 -42L25 -44M-27 -42L38 -34M-27 -42L43 -27M-27 -42L6 23M-27 -42L20 -35M-27 -42L-2 26M-27 -42L-37 -8M-27 -42L-11 -39M-27 -42L4 -32M-27 -42L17 43M-27 -42L-18 -33M-27 -42L11 8M-12 -48L2 -50M-12 -48L12 -49M-12 -48L43 -27M-12 -48L6 23M-12 -48L20 -35M-12 -48L-2 26M-12 -48L-37 -8M-12 -48L-11 -39M-12 -48L11 8M-12 -48L-4 17M2 -50L38 -34M2 -50L27 -11M2 -50L6 23M2 -50L20 -35M2 -50L4 -32M2 -50L17 43M2 -50L-35 -8M2 -50L11 8M2 -50L0 -30M12 -49L25 -44M12 -49L49 -14M12 -49L27 -11M12 -49L6 23M12 -49L1 42M12 -49L20 -35M12 -49L-2 26M12 -49L-11 -39M12 -49L-13 -36M12 -49L17 43M12 -49L-18 -33M12 -49L11 8M12 -49L13 27M25 -44L38 -34M25 -44L43 -27M25 -44L49 -14M25 -44L6 23M25 -44L1 42M25 -44L-13 -36M25 -44L-35 -8M25 -44L-18 -33M25 -44L11 8M25 -44L-4 17M25 -44L0 -30M25 -44L13 27M38 -34L6 23M38 -34L-37 -8M38 -34L4 -32M38 -34L17 43M38 -34L-35 -8M38 -34L-18 -33M38 -34L11 8M38 -34L0 -30M38 -34L13 27M43 -27L6 23M43 -27L1 42M43 -27L20 -35M43 -27L-2 26M43 -27L-37 -8M43 -27L-11 -39M43 -27L4 -32M43 -27L-13 -36M43 -27L-35 -8M43 -27L-18 -33M43 -27L11 8M43 -27L0 -30M43 -27L13 27M49 -14L6 23M49 -14L1 42M49 -14L-2 26M49 -14L-37 -8M49 -14L-18 -33M49 -14L-4 17M49 -14L13 27M27 -11L6 23M27 -11L1 42M27 -11L20 -35M27 -11L-37 -8M27 -11L4 -32M27 -11L17 43M27 -11L-35 -8M27 -11L-18 -33M27 -11L11 8M27 -11L-4 17M27 -11L13 27M6 23L1 42M6 23L20 -35M6 23L-2 26M6 23L-37 -8M6 23L-13 -36M6 23L-35 -8M6 23L-18 -33M6 23L0 -30M6 23L13 27M1 42L20 -35M1 42L-2 26M1 42L-37 -8M1 42L-11 -39M1 42L4 -32M1 42L-13 -36M1 42L-18 -33M20 -35L-37 -8M20 -35L-11 -39M20 -35L-13 -36M20 -35L17 43M20 -35L0 -30M20 -35L13 27M-2 26L-37 -8M-2 26L-13 -36M-2 26L0 -30M-37 -8L-13 -36M-37 -8L17 43M-37 -8L-18 -33M-37 -8L-4 17M-37 -8L0 -30M-37 -8L13 27M-11 -39L4 -32M-11 -39L-35 -8M-11 -39L11 8M-11 -39L0 -30M4 -32L-35 -8M4 -32L-18 -33M4 -32L-4 17M4 -32L0 -30M-13 -36L17 43M-13 -36L-35 -8M-13 -36L-18 -33M-13 -36L11 8M-13 -36L-4 17M-13 -36L0 -30M17 43L-18 -33M17 43L11 8M17 43L0 -30M17 43L13 27M-35 -8L-18 -33M-35 -8L11 8M-35 -8L-4 17M-18 -33L11 8M-18 -33L-4 17M-18 -33L0 -30M-18 -33L13 27M11 8L-4 17M11 8L0 -30M-4 17L0 -30M-4 17L13 27M0 -30L13 27" fill="none" stroke="#6a6a6a" stroke-opacity="0.09" stroke-width="0.6"/><path d="M587.7 1369h0M586.3 1379.8h0M580.1 1394.8h0M572.7 1404.1h0M565.6 1410h0M547.4 1417.9h0M536.9 1419h0M522 1416.8h0M507.3 1409.6h0M500.2 1403.6h0M494 1395.8h0M487.9 1382.9h0M485.8 1365.4h0M486.6 1358.4h0M492.9 1341.9h0M501.3 1331.3h0M508.7 1325.4h0M523.9 1318.6h0M538.1 1317h0M548 1318.3h0M561.1 1323.2h0M573.7 1332.9h0M579.1 1339.7h0M585.3 1352.6h0M563.1 1356h0M542.4 1390.1h0M537.3 1408.9h0M556.3 1332h0M534.2 1392.7h0M499.3 1359h0M525.4 1327.7h0M539.8 1335.4h0M522.7 1330.7h0M552.6 1410.2h0M501.4 1359.3h0M518.5 1334.2h0M547.4 1374.6h0M531.6 1383.8h0M536.1 1336.6h0M548.7 1394.4h0" stroke="#a392f3" stroke-opacity="0.95" stroke-width="3.2" stroke-linecap="round"/><ellipse cx="290" cy="1660" rx="34" ry="21.1" transform="rotate(31.5 290 1660)" fill="#555" fill-opacity="0.4" filter="url(#tx)"/><path transform="translate(291 1662)" d="M28 16L2 22M28 16L-9 18M28 16L-30 -3M28 16L-32 -15M28 16L-26 -24M28 16L-15 -27M28 16L-2 -25M28 16L25 -6M28 16L1 18M28 16L24 13M28 16L7 12M28 16L7 0M28 16L-17 5M28 16L-7 -14M28 16L-1 -4M28 16L17 -4M28 16L-22 -4M28 16L-16 -9M28 16L-20 -4M28 16L3 13M21 22L2 22M21 22L-9 18M21 22L-22 8M21 22L-30 -3M21 22L-32 -15M21 22L14 -17M21 22L30 5M21 22L1 18M21 22L24 13M21 22L7 12M21 22L7 0M21 22L-7 -14M21 22L-1 -4M21 22L17 -4M21 22L19 12M21 22L-22 -4M21 22L-16 -9M2 22L-22 8M2 22L-30 -3M2 22L-32 -15M2 22L-15 -27M2 22L-2 -25M2 22L14 -17M2 22L25 -6M2 22L1 18M2 22L24 13M2 22L7 12M2 22L7 0M2 22L-7 -14M2 22L-1 -4M2 22L19 12M2 22L-22 -4M2 22L-16 -9M2 22L-20 -4M2 22L3 13M-9 18L-26 -24M-9 18L-15 -27M-9 18L-2 -25M-9 18L30 5M-9 18L1 18M-9 18L24 13M-9 18L7 0M-9 18L-7 -14M-9 18L-1 -4M-9 18L17 -4M-9 18L19 12M-9 18L-20 -4M-9 18L3 13M-22 8L-26 -24M-22 8L-15 -27M-22 8L-2 -25M-22 8L14 -17M-22 8L25 -6M-22 8L30 5M-22 8L24 13M-22 8L7 12M-22 8L7 0M-22 8L-17 5M-22 8L-7 -14M-22 8L-1 -4M-22 8L17 -4M-22 8L-20 -4M-22 8L3 13M-30 -3L-26 -24M-30 -3L-15 -27M-30 -3L14 -17M-30 -3L30 5M-30 -3L1 18M-30 -3L24 13M-30 -3L7 12M-30 -3L7 0M-30 -3L-17 5M-30 -3L-7 -14M-30 -3L-1 -4M-30 -3L19 12M-30 -3L-22 -4M-30 -3L-16 -9M-30 -3L3 13M-32 -15L-26 -24M-32 -15L-15 -27M-32 -15L-2 -25M-32 -15L14 -17M-32 -15L30 5M-32 -15L24 13M-32 -15L7 12M-32 -15L7 0M-32 -15L-7 -14M-32 -15L17 -4M-32 -15L19 12M-32 -15L-22 -4M-32 -15L-16 -9M-32 -15L-20 -4M-32 -15L3 13M-26 -24L-15 -27M-26 -24L14 -17M-26 -24L25 -6M-26 -24L1 18M-26 -24L24 13M-26 -24L7 12M-26 -24L-17 5M-26 -24L-7 -14M-26 -24L17 -4M-26 -24L-22 -4M-26 -24L-16 -9M-26 -24L-20 -4M-26 -24L3 13M-15 -27L-2 -25M-15 -27L14 -17M-15 -27L25 -6M-15 -27L30 5M-15 -27L1 18M-15 -27L24 13M-15 -27L7 12M-15 -27L-17 5M-15 -27L-1 -4M-15 -27L19 12M-15 -27L-22 -4M-15 -27L-16 -9M-2 -25L14 -17M-2 -25L25 -6M-2 -25L30 5M-2 -25L1 18M-2 -25L7 12M-2 -25L7 0M-2 -25L-17 5M-2 -25L-7 -14M-2 -25L-1 -4M-2 -25L19 12M-2 -25L-20 -4M14 -17L25 -6M14 -17L30 5M14 -17L24 13M14 -17L7 12M14 -17L-17 5M14 -17L-1 -4M14 -17L17 -4M14 -17L19 12M14 -17L-16 -9M14 -17L-20 -4M14 -17L3 13M25 -6L30 5M25 -6L1 18M25 -6L24 13M25 -6L7 12M25 -6L7 0M25 -6L-17 5M25 -6L-7 -14M25 -6L-1 -4M25 -6L17 -4M25 -6L19 12M25 -6L-22 -4M25 -6L-20 -4M25 -6L3 13M30 5L1 18M30 5L24 13M30 5L7 12M30 5L7 0M30 5L-17 5M30 5L-7 -14M30 5L19 12M30 5L-22 -4M30 5L-16 -9M1 18L24 13M1 18L7 0M1 18L-17 5M1 18L-1 -4M1 18L17 -4M1 18L19 12M1 18L-22 -4M1 18L-16 -9M1 18L-20 -4M24 13L7 0M24 13L-17 5M24 13L-7 -14M24 13L19 12M24 13L-16 -9M24 13L-20 -4M7 12L7 0M7 12L-17 5M7 12L-7 -14M7 12L-1 -4M7 12L17 -4M7 12L19 12M7 12L-22 -4M7 12L-16 -9M7 12L-20 -4M7 0L-17 5M7 0L19 12M7 0L-16 -9M7 0L3 13M-17 5L-1 -4M-17 5L17 -4M-17 5L19 12M-17 5L-22 -4M-7 -14L-1 -4M-7 -14L17 -4M-7 -14L19 12M-7 -14L-22 -4M-7 -14L-16 -9M-7 -14L-20 -4M-7 -14L3 13M-1 -4L17 -4M-1 -4L19 12M-1 -4L-22 -4M-1 -4L-16 -9M-1 -4L-20 -4M-1 -4L3 13M17 -4L19 12M17 -4L-16 -9M17 -4L-20 -4M17 -4L3 13M19 12L-22 -4M19 12L-16 -9M19 12L3 13M-22 -4L-16 -9M-22 -4L-20 -4M-22 -4L3 13M-16 -9L-20 -4" fill="none" stroke="#6a6a6a" stroke-opacity="0.2" stroke-width="0.6"/><path d="M319 1677.7h0M312 1683.6h0M293.5 1684.1h0M281.8 1679.6h0M268.7 1669.8h0M261.1 1658.9h0M259.2 1647h0M264.8 1638.2h0M275.9 1634.8h0M289.1 1636.6h0M305.3 1644.9h0M316 1655.9h0M320.8 1667.2h0M292.2 1679.9h0M314.8 1675.1h0M297.9 1674.1h0M298.3 1662.1h0M274.5 1667.2h0M284.1 1647.9h0M290.4 1658.3h0M308.1 1657.8h0M309.9 1674.3h0M269.4 1657.7h0M275.3 1653h0M270.7 1658.4h0M293.6 1675.4h0" stroke="#a392f3" stroke-opacity="0.95" stroke-width="2" stroke-linecap="round"/><ellipse cx="325" cy="1690" rx="32" ry="25.6" transform="rotate(-11.5 325 1690)" fill="#555" fill-opacity="0.08" filter="url(#tx)"/><path transform="translate(327 1689)" d="M29 -7L7 25M29 -7L-33 -2M29 -7L-24 -16M29 -7L19 -20M29 -7L14 -4M29 -7L4 0M29 -7L-14 11M25 13L7 25M25 13L-14 26M25 13L-33 -2M25 13L19 -20M25 13L20 0M25 13L-11 -1M25 13L-9 -6M7 25L-14 26M7 25L-24 -16M7 25L19 -20M7 25L20 0M-14 26L-31 14M-14 26L-33 -2M-14 26L-24 -16M-14 26L19 -20M-14 26L1 -8M-14 26L4 0M-14 26L-11 -1M-14 26L-9 -6M-31 14L-33 -2M-31 14L-24 -16M-31 14L-11 -1M-33 -2L-24 -16M-33 -2L19 -20M-33 -2L4 0M-33 -2L-11 -1M-24 -16L-9 -6M-2 -25L19 -20M-2 -25L1 -8M-2 -25L14 -4M-2 -25L4 0M-2 -25L20 0M19 -20L1 -8M19 -20L20 0M19 -20L-11 -1M1 -8L14 -4M1 -8L20 0M1 -8L-11 -1M14 -4L20 0M14 -4L-9 -6M4 0L20 0M20 0L-11 -1M20 0L-9 -6M-11 -1L-9 -6" fill="none" stroke="#6a6a6a" stroke-opacity="0.12" stroke-width="0.5"/><path transform="translate(153 1594)" d="M-13 -228L34 -212M-13 -228L44 -232M-13 -228L11 -183M44 -232L65 -181M44 -232L62 -186M44 -232L11 -183M34 -212L-13 -228M34 -212L65 -181M34 -212L11 -183M11 -183L47 -128M11 -183L65 -181M11 -183L-14 -112M-27 -175L-30 -163M-27 -175L-14 -112M-27 -175L-13 -228M-30 -163L34 -212M-30 -163L-41 -104M-30 -163L-1 -124M65 -181L20 -119M65 -181L47 -128M65 -181L44 -232M62 -186L47 -128M62 -186L34 -212M62 -186L44 -232M-1 -124L50 -71M-1 -124L-27 -175M-1 -124L-41 -104M-41 -104L-14 -112M-41 -104L-1 -124M-41 -104L-27 -175M47 -128L20 -119M47 -128L50 -71M47 -128L-30 -163M51 -127L-14 -112M51 -127L29 -83M51 -127L65 -181M63 -110L62 -186M63 -110L20 -119M63 -110L50 -71M20 -119L-14 -112M20 -119L62 -47M20 -119L-30 -163M-14 -112L-1 -124M-14 -112L51 -127M-14 -112L-34 -62M36 -76L51 -127M36 -76L-34 -62M36 -76L-7 -6M29 -83L32 -38M29 -83L41 -68M29 -83L63 -110M50 -71L51 -127M50 -71L62 -47M50 -71L63 -110M41 -68L62 -47M41 -68L43 13M41 -68L-14 -112M-34 -62L-7 13M-34 -62L32 -38M-34 -62L-1 -124M62 -47L-7 -6M62 -47L41 -68M62 -47L43 13M32 -38L50 -71M32 -38L-5 20M32 -38L-28 13M14 -19L-5 20M14 -19L18 58M14 -19L41 -68M60 -17L-7 -6M60 -17L36 -76M60 -17L-5 20M-56 -7L-35 58M-56 -7L-28 13M-56 -7L-20 62M-7 -6L-29 61M-7 -6L62 -47M-7 -6L-28 13M-49 10L-34 -62M-49 10L-63 94M-49 10L18 58M-7 13L-11 31M-7 13L43 13M-7 13L-20 62M-28 13L-34 -62M-28 13L-5 20M-28 13L18 58M-5 20L-56 84M-5 20L-20 62M-5 20L-18 94M43 13L29 90M43 13L-7 -6M43 13L41 -68M-64 32L-47 112M-64 32L-24 88M-64 32L-18 94M-11 31L19 106M-11 31L14 -19M-11 31L32 -38M18 58L-24 88M18 58L27 114M18 58L-11 31M-55 51L-8 100M-55 51L-24 88M-55 51L-7 -6M0 53L-65 90M0 53L35 97M0 53L-20 62M-29 61L-5 20M-29 61L-8 100M-29 61L-27 112M-20 62L-27 144M-20 62L43 13M-20 62L-56 84M-35 58L0 53M-35 58L-11 31M-35 58L-56 -7M-56 84L-64 32M-56 84L-29 61M-56 84L-27 112M-18 94L-35 58M-18 94L-63 94M-18 94L16 150M-8 100L16 150M-8 100L0 53M-8 100L-29 61M35 97L-27 144M35 97L-47 112M35 97L-27 112M29 90L-5 20M29 90L-56 84M29 90L-27 112M-24 88L-27 112M-24 88L0 53M-24 88L-15 119M-27 112L-63 94M-27 112L-68 120M-27 112L29 90M-40 112L29 90M-40 112L-65 90M-40 112L18 58M8 114L27 114M8 114L18 58M8 114L-63 94M27 114L0 53M27 114L-27 112M27 114L-47 112M-47 112L-68 120M-47 112L19 106M-47 112L29 90M-49 143L-15 119M-49 143L-24 88M-49 143L-63 94M-27 144L31 180M-27 144L-24 88M-27 144L-29 61M2 141L-40 112M2 141L-20 62M2 141L-68 120M16 150L2 141M16 150L19 106M16 150L8 114M31 180L19 106M31 180L16 150M31 180L28 118M-7 184L19 106M-7 184L8 114M-7 184L28 118M-68 120L-18 94M-68 120L-35 58M-68 120L-65 90M-65 90L-63 94M-65 90L-11 31M-65 90L-40 112M-63 94L2 141M-63 94L-18 94M-63 94L-29 61M-15 119L19 106M-15 119L0 53M-15 119L-18 94M19 106L18 58M19 106L-40 112M19 106L-35 58M28 118L-24 88M28 118L-8 100M28 118L-27 144M-13 -228L-27 -175M-13 -228L10 -183M10 -183L65 -181M-27 -175L65 -181M-41 -104L47 -128M47 -128L63 -47M35 -76L32 -38M14 -19L60 -17M-64 32L18 58" fill="none" stroke="#c4c4c4" stroke-opacity="0.45" stroke-width="0.8"/><text x="118" y="1375" font-size="22" fill="#f0f0f0" font-style="italic">Psmd4</text><text x="153" y="1380" font-size="22" fill="#f0f0f0" font-style="italic">Ecpas</text><text x="145" y="1402" font-size="20" fill="#f0f0f0" font-style="italic">Dnajb6</text><text x="150" y="1418" font-size="18" fill="#f0f0f0" font-style="italic">Ubqln2</text><text x="128" y="1425" font-size="20" fill="#f0f0f0" font-style="italic">Psmc3</text><text x="130" y="1437" font-size="20" fill="#f0f0f0" font-style="italic">Psmc6</text><text x="150" y="1438" font-size="16" fill="#f0f0f0" font-style="italic">Hsp</text><text x="175" y="1467" font-size="19" fill="#f0f0f0" font-style="italic">Hap1</text><text x="155" y="1462" font-size="14" fill="#f0f0f0" font-style="italic">Sti1</text><text x="140" y="1478" font-size="19" fill="#f0f0f0" font-style="italic">Dnaja</text><text x="113" y="1481" font-size="22" fill="#f0f0f0" font-style="italic">Psmc5</text><text x="120" y="1498" font-size="19" fill="#f0f0f0" font-style="italic">Psmc6</text><text x="138" y="1519" font-size="13" fill="#f0f0f0" font-style="italic">Dnajc7</text><text x="168" y="1525" font-size="16" fill="#f0f0f0" font-style="italic">Ipo5</text><text x="127" y="1535" font-size="15" fill="#f0f0f0" font-style="italic">Hap1</text><text x="154" y="1546" font-size="16" fill="#f0f0f0" font-style="italic">Psmc4</text><text x="160" y="1557" font-size="15" fill="#f0f0f0" font-style="italic">Psmd6</text><text x="125" y="1580" font-size="15" fill="#f0f0f0" font-style="italic">St13</text><text x="176" y="1580" font-size="14" fill="#f0f0f0" font-style="italic">Hsp90ab1</text><text x="90" y="1597" font-size="21" fill="#f0f0f0" font-style="italic">Nbr1</text><text x="132" y="1597" font-size="21" fill="#f0f0f0" font-style="italic">Ubqln4</text><text x="90" y="1632" font-size="20" fill="#f0f0f0" font-style="italic">Psmc1</text><text x="100" y="1655" font-size="15" fill="#f0f0f0" font-style="italic">Eif4</text><text x="110" y="1667" font-size="15" fill="#f0f0f0" font-style="italic">Dnaj</text><text x="108" y="1700" font-size="22" fill="#f0f0f0" font-style="italic">Dnaja</text><text x="140" y="1707" font-size="20" fill="#f0f0f0" font-style="italic">Dnajb</text><text x="90" y="1723" font-size="13" fill="#f0f0f0" font-style="italic">Celf1</text><text x="108" y="1731" font-size="13" fill="#f0f0f0" font-style="italic">Pcbp</text><text x="92" y="1760" font-size="13" fill="#f0f0f0" font-style="italic">Pcbp1</text><text x="130" y="1747" font-size="15" fill="#f0f0f0" font-style="italic">Eef1a1</text><text x="160" y="1776" font-size="12" fill="#f0f0f0" font-style="italic">Gbp</text><text x="122" y="1802" font-size="11" fill="#f0f0f0" font-style="italic">Arl8</text><path d="M140.1 1365.8h0M163.5 1411h0M89.1 1625.9h0" stroke="#a392f3" stroke-opacity="0.9" stroke-width="10.6" stroke-linecap="round"/><path d="M196.6 1362.5h0M187.4 1382.3h0M146 1587.5h0" stroke="#a392f3" stroke-opacity="0.9" stroke-width="3" stroke-linecap="round"/><path d="M126.1 1418.6h0" stroke="#a392f3" stroke-opacity="0.9" stroke-width="9.8" stroke-linecap="round"/><path d="M122.8 1431.3h0M218.1 1413.1h0" stroke="#a392f3" stroke-opacity="0.9" stroke-width="9.2" stroke-linecap="round"/><path d="M215 1408h0M202.7 1522.7h0M179.8 1708h0" stroke="#a392f3" stroke-opacity="0.9" stroke-width="4" stroke-linecap="round"/><path d="M152.5 1470h0M171.2 1651.8h0" stroke="#a392f3" stroke-opacity="0.9" stroke-width="10" stroke-linecap="round"/><path d="M112.1 1490.3h0" stroke="#a392f3" stroke-opacity="0.9" stroke-width="9.6" stroke-linecap="round"/><path d="M200.3 1465.9h0M204 1467h0" stroke="#a392f3" stroke-opacity="0.9" stroke-width="4.4" stroke-linecap="round"/><path d="M216 1484h0" stroke="#a392f3" stroke-opacity="0.9" stroke-width="6" stroke-linecap="round"/><path d="M173 1475h0M139 1482h0" stroke="#a392f3" stroke-opacity="0.9" stroke-width="2.4" stroke-linecap="round"/><path d="M188.7 1517.8h0M167 1574.7h0M213.1 1577.1h0" stroke="#a392f3" stroke-opacity="0.9" stroke-width="7.6" stroke-linecap="round"/><path d="M181.8 1510.9h0M97.2 1586.7h0M125.3 1607.4h0M97.2 1678.4h0" stroke="#a392f3" stroke-opacity="0.9" stroke-width="5" stroke-linecap="round"/><path d="M193.7 1526h0M147.5 1614h0M196.4 1607.4h0M132.7 1656.2h0" stroke="#a392f3" stroke-opacity="0.9" stroke-width="3.6" stroke-linecap="round"/><path d="M118.7 1531.8h0" stroke="#a392f3" stroke-opacity="0.9" stroke-width="2" stroke-linecap="round"/><path d="M215.4 1547.1h0M185.4 1556.5h0M126.1 1705.5h0" stroke="#a392f3" stroke-opacity="0.9" stroke-width="6.6" stroke-linecap="round"/><path d="M103.9 1604.4h0" stroke="#b99a2e" stroke-opacity="0.9" stroke-width="7" stroke-linecap="round"/><path d="M146 1606.6h0" stroke="#b99a2e" stroke-opacity="0.9" stroke-width="7.6" stroke-linecap="round"/><path d="M142.3 1625.1h0" stroke="#a392f3" stroke-opacity="0.9" stroke-width="7" stroke-linecap="round"/><path d="M97.9 1644.8h0" stroke="#b99a2e" stroke-opacity="0.9" stroke-width="6" stroke-linecap="round"/><path d="M153.4 1646.9h0M145.3 1693.7h0" stroke="#b99a2e" stroke-opacity="0.9" stroke-width="6.6" stroke-linecap="round"/><path d="M123.8 1654.7h0" stroke="#b99a2e" stroke-opacity="0.9" stroke-width="4" stroke-linecap="round"/><path d="M117.9 1652.5h0M106.1 1705.8h0" stroke="#e86ce4" stroke-opacity="0.9" stroke-width="3" stroke-linecap="round"/><path d="M135 1688h0" stroke="#e86ce4" stroke-opacity="0.9" stroke-width="5.6" stroke-linecap="round"/><path d="M187.8 1690.7h0" stroke="#e86ce4" stroke-opacity="0.9" stroke-width="6" stroke-linecap="round"/><path d="M181.6 1684.3h0" stroke="#63cf9f" stroke-opacity="0.9" stroke-width="3" stroke-linecap="round"/><path d="M129 1682h0M125.8 1737.6h0" stroke="#6cc133" stroke-opacity="0.9" stroke-width="3" stroke-linecap="round"/><path d="M113.2 1706.5h0M155.4 1735.4h0" stroke="#6cc133" stroke-opacity="0.9" stroke-width="6.6" stroke-linecap="round"/><path d="M160.8 1708h0" stroke="#e86ce4" stroke-opacity="0.9" stroke-width="6.6" stroke-linecap="round"/><path d="M103.9 1736.9h0" stroke="#6cc133" stroke-opacity="0.9" stroke-width="6" stroke-linecap="round"/><path d="M169 1744.3h0" stroke="#e86ce4" stroke-opacity="0.9" stroke-width="4" stroke-linecap="round"/><path d="M184.2 1773.6h0" stroke="#6cc133" stroke-opacity="0.9" stroke-width="3.6" stroke-linecap="round"/><path d="M146 1778.3h0M181 1712h0" stroke="#63cf9f" stroke-opacity="0.9" stroke-width="2" stroke-linecap="round"/><path d="M84.6 1714h0M88.3 1683.6h0M89.8 1688h0M138 1713h0M172 1700h0" stroke="#6cc133" stroke-opacity="0.9" stroke-width="2" stroke-linecap="round"/><rect x="72.7" y="1268" width="603.7" height="559.2" fill="none" stroke="#6a6a6a" stroke-width="1.3"/><path d="M72.7 1293.7h-6M72.7 1497.2h-6M72.7 1700.4h-6" stroke="#6a6a6a" stroke-width="1.3"/><text x="61.7" y="1301.4" font-size="21.5" text-anchor="end">6</text><text x="61.7" y="1504.9" font-size="21.5" text-anchor="end">4</text><text x="61.7" y="1708.1" font-size="21.5" text-anchor="end">2</text><path d="M100.2 1827.2v6M210 1827.2v6M319.8 1827.2v6M429.6 1827.2v6M539.4 1827.2v6M649.2 1827.2v6" stroke="#6a6a6a" stroke-width="1.3"/><text x="100.2" y="1854.3" font-size="21.5" text-anchor="middle">0</text><text x="210" y="1854.3" font-size="21.5" text-anchor="middle">10</text><text x="319.8" y="1854.3" font-size="21.5" text-anchor="middle">20</text><text x="429.6" y="1854.3" font-size="21.5" text-anchor="middle">30</text><text x="539.4" y="1854.3" font-size="21.5" text-anchor="middle">40</text><text x="649.2" y="1854.3" font-size="21.5" text-anchor="middle">50</text><text x="375" y="1251.6" font-size="25" text-anchor="middle">Enrichment analysis of P−cluster−A</text><text transform="rotate(-90 31 1547.2)" x="31" y="1547.2" font-size="25" text-anchor="middle">log<tspan font-size="17.5" dy="5">2</tspan><tspan dy="-5">(Fold enrichment)</tspan></text><text x="373" y="1885.5" font-size="25" text-anchor="middle">log<tspan font-size="17.5" dy="5">10</tspan><tspan dy="-5">P</tspan></text><text x="450.6" y="1305.8" font-size="16.6">Proteasome complex</text><text x="130" y="1351.1" font-size="16.6">Proteasome assembly</text><text x="165.6" y="1403.9" font-size="16.6">Regulation of inclusion body assembly</text><text x="141.5" y="1452.4" font-size="16.6">Inclusion body assembly</text><text x="122.4" y="1508.7" font-size="16.6">Chaperone−Mediated protein folding</text><text x="289.6" y="1556.9" font-size="16.6">Autophagosome</text><text x="99.5" y="1572.2" font-size="16.6">Inclusion body</text><text x="232.2" y="1601.7" font-size="16.6">Unfolded protein binding</text><text x="95.6" y="1643.7" font-size="16.6">Translation regulator activity</text><text x="105.2" y="1679.3" font-size="16.6">Chaperone binding</text><text x="138.5" y="1724.8" font-size="16.6">Cytoplasmic ribonucleoprotein granule</text><text x="94.9" y="1757.7" font-size="16.6">mRNA binding</text><text x="169.1" y="1800.6" font-size="16.6">GTP binding</text><path d="M459 1543h0" stroke="#e06a6a" stroke-opacity="1" stroke-width="19" stroke-linecap="round"/><path d="M459 1590.2h0" stroke="#b99a2e" stroke-opacity="1" stroke-width="19" stroke-linecap="round"/><path d="M459 1638h0" stroke="#6cc133" stroke-opacity="1" stroke-width="19" stroke-linecap="round"/><path d="M459 1685h0" stroke="#63cf9f" stroke-opacity="1" stroke-width="19" stroke-linecap="round"/><path d="M459 1732.5h0" stroke="#a392f3" stroke-opacity="1" stroke-width="19" stroke-linecap="round"/><path d="M459 1779.6h0" stroke="#e86ce4" stroke-opacity="1" stroke-width="19" stroke-linecap="round"/><text x="475.1" y="1548.9" font-size="16.6">Cell cycle</text><text x="475.1" y="1596.8" font-size="16.6">Translation initiation</text><text x="475.1" y="1617" font-size="16.6">and regulation</text><text x="475.1" y="1643.9" font-size="16.6">mRNA processing</text><text x="475.1" y="1690.9" font-size="16.6">Nucleotide binding</text><text x="475.1" y="1738.4" font-size="16.6">Quality control</text><text x="475.1" y="1785.5" font-size="16.6">Biomolecular condensates</text><ellipse cx="1149.5" cy="1362.6" rx="48" ry="48" transform="rotate(0 1149.5 1362.6)" fill="#555" fill-opacity="0.12" filter="url(#tx)"/><path transform="translate(1147 1367)" d="M50 -6L-33 28M50 -6L-39 19M50 -6L-45 -12M50 -6L-29 -40M50 -6L-2 -52M50 -6L15 0M48 10L-33 28M48 10L-39 19M48 10L11 -52M48 10L17 22M48 10L-15 22M48 10L-13 11M40 25L15 42M40 25L-15 40M40 25L-39 -28M40 25L-29 -40M40 25L-2 -52M40 25L32 -43M40 25L48 -19M40 25L-30 -22M40 25L-14 -17M40 25L-15 22M40 25L-22 -35M40 25L39 3M40 25L-13 11M40 25L27 16M26 37L15 42M26 37L1 44M26 37L-39 -28M26 37L-29 -40M26 37L-2 -52M26 37L-14 -17M26 37L-17 21M26 37L-13 11M15 42L1 44M15 42L-44 6M15 42L-45 -12M15 42L-39 -28M15 42L-2 -52M15 42L41 -33M15 42L15 0M15 42L17 22M15 42L-22 -35M1 44L-15 40M1 44L-39 19M1 44L-39 -28M1 44L-29 -40M1 44L-13 -50M1 44L41 -33M1 44L-30 -22M1 44L-17 21M-15 40L-29 -40M-15 40L11 -52M-15 40L-30 -22M-15 40L17 22M-33 28L-39 19M-33 28L-45 -12M-33 28L-29 -40M-33 28L11 -52M-33 28L32 -43M-33 28L-14 -17M-33 28L-6 6M-33 28L-15 22M-33 28L39 3M-39 19L-44 6M-39 19L-39 -28M-39 19L-13 -50M-39 19L-2 -52M-39 19L11 -52M-39 19L-30 -22M-39 19L17 22M-44 6L32 -43M-44 6L-30 -22M-44 6L15 0M-44 6L-6 6M-44 6L-17 21M-44 6L27 16M-45 -12L-39 -28M-45 -12L11 -52M-45 -12L-6 6M-45 -12L27 16M-39 -28L32 -43M-39 -28L-14 -17M-39 -28L-22 -35M-29 -40L-14 -17M-29 -40L15 0M-29 -40L-17 21M-29 -40L39 3M-29 -40L27 16M-13 -50L-6 6M-13 -50L-22 -35M-2 -52L32 -43M-2 -52L41 -33M-2 -52L15 0M-2 -52L-6 6M-2 -52L17 22M-2 -52L-15 22M11 -52L-17 21M11 -52L27 16M32 -43L15 0M32 -43L-6 6M32 -43L-15 22M32 -43L-22 -35M32 -43L27 16M41 -33L48 -19M41 -33L-13 11M41 -33L27 16M48 -19L-30 -22M48 -19L-22 -35M48 -19L-13 11M-30 -22L-14 -17M-30 -22L-17 21M-30 -22L27 16M-14 -17L-17 21M-14 -17L-15 22M-14 -17L-13 11M-14 -17L27 16M-6 6L27 16M17 22L-22 -35M17 22L-13 11M17 22L27 16M-17 21L39 3M-15 22L27 16M39 3L-13 11M-13 11L27 16" fill="none" stroke="#6a6a6a" stroke-opacity="0.14" stroke-width="0.6"/><path d="M1197.5 1361.2h0M1195.4 1376.8h0M1187.3 1392.2h0M1173.2 1404.3h0M1162 1408.9h0M1148.2 1410.6h0M1132 1407.3h0M1114 1394.9h0M1107.7 1386.2h0M1102.7 1373.3h0M1102 1355.4h0M1107.6 1339.1h0M1117.5 1326.8h0M1134.4 1317h0M1145.1 1314.8h0M1157.7 1315.3h0M1178.7 1324.5h0M1187.8 1333.7h0M1195.1 1347.7h0M1117.3 1344.8h0M1133.2 1350h0M1162 1367h0M1141.2 1372.6h0M1163.9 1388.8h0M1129.7 1388h0M1131.8 1389.3h0M1124.8 1331.5h0M1185.9 1370.4h0M1134.5 1377.9h0M1173.6 1382.9h0" stroke="#a392f3" stroke-opacity="0.95" stroke-width="3.2" stroke-linecap="round"/><ellipse cx="1149.5" cy="1453.3" rx="48" ry="48" transform="rotate(0 1149.5 1453.3)" fill="#555" fill-opacity="0.12" filter="url(#tx)"/><path transform="translate(1151 1459)" d="M46 -8L-32 -43M46 -8L-24 -48M46 -8L23 -47M46 -8L16 -27M46 -8L-10 36M46 -8L-17 3M46 -8L12 12M44 10L36 24M44 10L-42 19M44 10L-49 1M44 10L-43 -31M44 10L9 -53M44 10L23 -47M44 10L44 -21M44 10L4 -37M44 10L-2 28M44 10L-10 36M44 10L-11 16M44 10L-16 -35M44 10L12 12M36 24L25 34M36 24L10 41M36 24L-7 42M36 24L-21 38M36 24L-34 29M36 24L-49 -13M36 24L-43 -31M36 24L23 -47M36 24L26 8M36 24L16 -27M36 24L4 -37M36 24L13 29M36 24L12 12M25 34L-7 42M25 34L-34 29M25 34L-43 -31M25 34L-32 -43M25 34L-24 -48M25 34L9 -53M25 34L44 -21M25 34L4 -37M25 34L-11 16M10 41L-49 -13M10 41L-32 -43M10 41L9 -53M10 41L44 -21M10 41L26 8M10 41L16 -27M10 41L13 29M10 41L-11 16M10 41L-27 -2M10 41L-17 3M-7 42L-49 1M-7 42L-49 -13M-7 42L-43 -31M-7 42L-32 -43M-7 42L-24 -48M-7 42L-2 -54M-7 42L44 -21M-7 42L26 8M-7 42L-16 -35M-21 38L-49 -13M-21 38L-32 -43M-21 38L36 -36M-21 38L44 -21M-21 38L26 8M-21 38L4 -37M-21 38L-2 28M-21 38L-10 36M-21 38L-11 16M-21 38L-17 3M-34 29L-24 -48M-34 29L-2 -54M-34 29L36 -36M-34 29L13 29M-34 29L-2 28M-34 29L-27 -2M-34 29L12 12M-42 19L-49 -13M-42 19L-24 -48M-42 19L13 29M-42 19L-2 28M-42 19L-10 36M-49 1L9 -53M-49 1L44 -21M-49 1L16 -27M-49 1L12 12M-49 -13L-32 -43M-49 -13L-2 -54M-43 -31L-24 -48M-43 -31L-2 -54M-43 -31L16 -27M-43 -31L-27 -2M-43 -31L-16 -35M-43 -31L12 12M-32 -43L-24 -48M-32 -43L4 -37M-32 -43L-10 36M-32 -43L-11 16M-32 -43L-16 -35M-32 -43L12 12M-24 -48L-2 -54M-24 -48L13 29M-24 -48L-10 36M-24 -48L-11 16M-2 -54L9 -53M-2 -54L36 -36M-2 -54L16 -27M-2 -54L13 29M-2 -54L12 12M9 -53L26 8M9 -53L-16 -35M23 -47L26 8M23 -47L4 -37M23 -47L-2 28M23 -47L-11 16M23 -47L-16 -35M23 -47L12 12M36 -36L26 8M44 -21L4 -37M44 -21L-10 36M26 8L16 -27M26 8L-11 16M26 8L-27 -2M26 8L-17 3M26 8L12 12M16 -27L-2 28M16 -27L-16 -35M4 -37L12 12M13 29L-2 28M13 29L-17 3M13 29L12 12M-2 28L12 12M-10 36L-11 16M-10 36L-27 -2M-11 16L-27 -2M-11 16L-17 3M-17 3L12 12" fill="none" stroke="#6a6a6a" stroke-opacity="0.14" stroke-width="0.6"/><path d="M1197.5 1451.3h0M1194.7 1469.4h0M1187.5 1482.6h0M1175.9 1493.3h0M1160.5 1500h0M1143.9 1500.9h0M1129.8 1497h0M1116.7 1488.3h0M1108.7 1478.5h0M1101.9 1459.8h0M1102 1446.1h0M1108.5 1428.3h0M1119.4 1415.9h0M1126.7 1411h0M1148.7 1405.3h0M1159.7 1406.3h0M1173.6 1411.8h0M1187 1423.3h0M1195.1 1438.3h0M1176.7 1466.6h0M1167.4 1432.3h0M1154.8 1422h0M1164 1488.1h0M1149.2 1486.7h0M1141.5 1495.4h0M1139.7 1475.1h0M1123.6 1457.3h0M1134.7 1424.3h0M1134.1 1462.2h0M1163 1470.8h0" stroke="#a392f3" stroke-opacity="0.95" stroke-width="3.2" stroke-linecap="round"/><ellipse cx="1000" cy="1508" rx="77.5" ry="52.7" transform="rotate(-43 1000 1508)" fill="#555" fill-opacity="0.26" filter="url(#tx)"/><path transform="translate(1000 1513)" d="M57 -58L64 -47M57 -58L67 -26M57 -58L23 44M57 -58L5 54M57 -58L-30 60M57 -58L-43 -36M57 -58L6 -68M57 -58L46 -66M57 -58L57 -19M57 -58L-4 -46M57 -58L-37 38M57 -58L-17 -40M57 -58L-18 53M57 -58L-9 13M57 -58L47 -11M57 -58L3 39M57 -58L-14 -19M64 -47L42 27M64 -47L-30 60M64 -47L-31 -48M64 -47L34 -70M64 -47L46 -66M64 -47L57 -19M64 -47L-37 38M64 -47L-13 11M64 -47L-46 33M64 -47L41 1M64 -47L52 -4M67 -26L65 -13M67 -26L58 4M67 -26L42 27M67 -26L23 44M67 -26L5 54M67 -26L-43 57M67 -26L-31 -48M67 -26L6 -68M67 -26L45 -40M67 -26L-48 44M67 -26L-8 -11M67 -26L-4 -46M67 -26L-19 33M67 -26L41 1M67 -26L-9 13M67 -26L-7 27M67 -26L51 -4M65 -13L-65 33M65 -13L29 -34M65 -13L41 1M65 -13L-9 13M65 -13L52 -4M58 4L42 27M58 4L5 54M58 4L-30 60M58 4L-31 -48M58 4L45 -40M58 4L-27 49M58 4L51 -4M58 4L-14 -19M42 27L5 54M42 27L-43 -36M42 27L-10 -61M42 27L17 -57M42 27L29 -34M42 27L-8 -11M42 27L-43 5M42 27L-50 8M42 27L47 -11M23 44L-57 -18M23 44L-43 -36M23 44L6 -68M23 44L17 -57M23 44L-4 -46M23 44L-37 38M23 44L-50 32M23 44L27 -30M23 44L41 1M23 44L3 39M23 44L-14 -19M23 44L52 -4M5 54L-10 -61M5 54L6 -68M5 54L46 -66M5 54L29 -34M5 54L57 -19M5 54L-50 8M5 54L-18 53M5 54L41 1M5 54L-7 27M-14 60L17 -57M-14 60L-48 44M-14 60L-8 -11M-14 60L-4 -46M-14 60L-13 11M-14 60L57 -31M-14 60L-50 32M-14 60L-17 -40M-14 60L-19 33M-14 60L41 1M-14 60L-27 49M-14 60L-7 27M-14 60L47 -11M-14 60L52 -4M-30 60L-65 33M-30 60L-67 18M-30 60L-65 3M-30 60L-57 -18M-30 60L-31 -48M-30 60L34 -70M-30 60L45 -40M-30 60L17 -57M-30 60L29 -34M-30 60L-43 5M-30 60L-13 11M-30 60L41 1M-30 60L-9 13M-30 60L-7 27M-30 60L47 -11M-30 60L52 -4M-43 57L-48 39M-43 57L-4 -46M-43 57L-17 -40M-43 57L-18 53M-43 57L-27 49M-43 57L-9 13M-43 57L-7 27M-43 57L3 39M-43 57L51 -4M-58 47L-37 38M-58 47L-50 32M-58 47L-46 33M-58 47L41 1M-58 47L-9 13M-58 47L-7 27M-58 47L3 39M-58 47L-14 -19M-65 33L45 -40M-65 33L-48 39M-65 33L29 -34M-65 33L-43 5M-65 33L-13 11M-65 33L-50 32M-65 33L-18 53M-65 33L-46 33M-65 33L-27 49M-65 33L52 -4M-67 18L-65 3M-67 18L-57 -18M-67 18L-31 -48M-67 18L-10 -61M-67 18L34 -70M-67 18L57 -19M-67 18L-4 -46M-67 18L-37 38M-67 18L-13 11M-67 18L-50 32M-67 18L27 -30M-67 18L3 39M-67 18L51 -4M-67 18L-14 -19M-65 3L34 -70M-65 3L-48 44M-65 3L-37 38M-65 3L-13 11M-65 3L-17 -40M-65 3L-18 53M-65 3L27 -30M-65 3L41 1M-65 3L47 -11M-65 3L-14 -19M-57 -18L-10 -61M-57 -18L45 -40M-57 -18L-48 44M-57 -18L-37 38M-57 -18L-43 5M-57 -18L-13 11M-57 -18L-9 13M-57 -18L-7 27M-57 -18L-14 -19M-43 -36L-10 -61M-43 -36L-48 39M-43 -36L29 -34M-43 -36L-4 -46M-43 -36L-43 5M-43 -36L-13 11M-43 -36L-18 53M-43 -36L-27 49M-43 -36L47 -11M-43 -36L-14 -19M-31 -48L-10 -61M-31 -48L45 -40M-31 -48L-4 -46M-31 -48L-43 5M-31 -48L-13 11M-31 -48L-50 8M-31 -48L-19 33M-31 -48L-7 27M-31 -48L3 39M-31 -48L51 -4M-31 -48L-14 -19M-10 -61L-48 44M-10 -61L-13 11M-10 -61L-17 -40M-10 -61L-50 8M-10 -61L-18 53M-10 -61L-7 27M-10 -61L-14 -19M-10 -61L52 -4M6 -68L17 -57M6 -68L-48 44M6 -68L57 -31M6 -68L-50 8M6 -68L27 -30M6 -68L-19 33M6 -68L-9 13M6 -68L-7 27M6 -68L52 -4M34 -70L57 -31M34 -70L-50 8M34 -70L-19 33M34 -70L-14 -19M46 -66L45 -40M46 -66L29 -34M46 -66L-8 -11M46 -66L-13 11M46 -66L-50 8M46 -66L-7 27M46 -66L-14 -19M45 -40L-48 39M45 -40L57 -19M45 -40L-8 -11M45 -40L-4 -46M45 -40L-37 38M45 -40L27 -30M45 -40L52 -4M17 -57L-48 44M17 -57L-8 -11M17 -57L-50 8M17 -57L-19 33M17 -57L-27 49M17 -57L-9 13M17 -57L47 -11M-48 39L29 -34M-48 39L57 -31M-48 39L27 -30M-48 39L-9 13M-48 39L-14 -19M-48 39L52 -4M29 -34L57 -19M29 -34L-8 -11M29 -34L-4 -46M29 -34L-37 38M29 -34L52 -4M57 -19L-4 -46M57 -19L-37 38M57 -19L-50 32M57 -19L-46 33M57 -19L47 -11M57 -19L52 -4M-48 44L57 -31M-48 44L-18 53M-48 44L-27 49M-48 44L3 39M-48 44L51 -4M-8 -11L-43 5M-8 -11L-18 53M-8 -11L41 1M-8 -11L-9 13M-4 -46L-43 5M-4 -46L57 -31M-4 -46L-17 -40M-4 -46L-27 49M-4 -46L47 -11M-4 -46L51 -4M-4 -46L-14 -19M-37 38L-13 11M-37 38L-17 -40M-37 38L-18 53M-37 38L27 -30M-37 38L-14 -19M-37 38L52 -4M-43 5L27 -30M-13 11L-50 8M-13 11L-46 33M-13 11L-19 33M-13 11L51 -4M-13 11L52 -4M57 -31L-50 32M57 -31L-50 8M57 -31L-27 49M57 -31L51 -4M-50 32L-50 8M-50 32L41 1M-50 32L47 -11M-50 32L3 39M-17 -40L-7 27M-17 -40L3 39M-50 8L-18 53M-50 8L-46 33M-50 8L-19 33M-50 8L-9 13M-18 53L-46 33M-18 53L-7 27M-18 53L52 -4M-46 33L41 1M-46 33L-7 27M-46 33L47 -11M-46 33L-14 -19M27 -30L41 1M27 -30L3 39M27 -30L52 -4M-19 33L-7 27M-19 33L3 39M-19 33L51 -4M41 1L-9 13M41 1L47 -11M41 1L51 -4M41 1L52 -4M-27 49L47 -11M-27 49L3 39M-27 49L51 -4M-9 13L3 39M-7 27L47 -11M47 -11L51 -4M51 -4L-14 -19M-14 -19L52 -4" fill="none" stroke="#6a6a6a" stroke-opacity="0.12" stroke-width="0.6"/><path d="M1056.9 1455.4h0M1058.2 1517.5h0M985.5 1572.6h0M935 1546.3h0M957.1 1476.6h0M1033.6 1443.3h0M951.5 1551.9h0M992.4 1501.6h0M987.2 1524h0M949.9 1520.7h0M981 1546h0M993 1539.7h0M986.5 1494.5h0" stroke="#5ebde6" stroke-opacity="0.95" stroke-width="2.8" stroke-linecap="round"/><path d="M1063.7 1466.1h0M1067 1487.1h0M1042.3 1540.1h0M1023.4 1556.7h0M970.5 1573.2h0M956.6 1569.9h0M932.9 1531.4h0M935.1 1515.7h0M969 1465.1h0M989.7 1451.6h0M1046.1 1447.3h0M1045.1 1472.8h0M1029 1478.9h0M1057 1493.5h0M995.6 1466.7h0M963.1 1550.6h0M1056.6 1482.2h0M950.4 1544.9h0M982.3 1565.8h0M954.2 1546.1h0M1040.9 1514.1h0M973.1 1562.1h0M1047.3 1502.2h0M1003.4 1552.4h0M1052.4 1508.9h0" stroke="#8a8a8a" stroke-opacity="0.95" stroke-width="2.8" stroke-linecap="round"/><path d="M1065.1 1499.5h0M1004.9 1566.9h0M942.3 1559.7h0M943.4 1495.4h0M1005.9 1445.3h0M1016.7 1455.7h0M952.3 1557.3h0M957.4 1518.3h0M982.8 1472.9h0M1026.7 1482.6h0M991.1 1526.5h0M1051 1509.4h0" stroke="#a392f3" stroke-opacity="0.95" stroke-width="2.8" stroke-linecap="round"/><ellipse cx="994.6" cy="1483.1" rx="45" ry="45" transform="rotate(0 994.6 1483.1)" fill="#555" fill-opacity="0.15" filter="url(#tx)"/><path transform="translate(998 1484)" d="M42 -3L-48 -4M42 -3L-41 -26M42 -3L33 -28M42 -3L0 -26M42 -3L14 -36M42 -3L1 3M42 -3L23 4M42 -3L-15 -13M42 -3L-21 31M33 25L-21 41M33 25L-48 -4M33 25L-17 -44M33 25L33 -28M33 25L-37 4M33 25L14 -36M33 25L9 4M33 25L16 -2M8 43L-39 26M8 43L13 -43M8 43L33 -28M8 43L-37 4M8 43L7 12M8 43L5 31M8 43L-19 -34M8 43L-5 7M8 43L23 4M8 43L22 15M8 43L16 -2M-21 41L-39 26M-21 41L-41 -26M-21 41L-17 -44M-21 41L1 3M-21 41L34 -13M-21 41L-5 7M-21 41L-21 31M-39 26L-48 -4M-39 26L0 -26M-39 26L-19 -34M-39 26L34 -13M-39 26L9 4M-39 26L22 15M-48 -4L-17 -44M-48 -4L33 -28M-48 -4L34 -13M-48 -4L-15 -13M-48 -4L9 4M-48 -4L-21 31M-41 -26L-17 -44M-41 -26L-19 -34M-41 -26L34 -13M-41 -26L-5 7M-41 -26L22 15M-41 -26L-21 31M-17 -44L13 -43M-17 -44L-37 4M-17 -44L7 12M-17 -44L16 -2M13 -43L0 -26M13 -43L-5 7M13 -43L23 4M13 -43L9 4M13 -43L22 15M13 -43L16 -2M33 -28L-37 4M33 -28L5 31M33 -28L34 -13M33 -28L23 4M33 -28L16 -2M33 -28L-21 31M-37 4L7 12M-37 4L0 -26M-37 4L-19 -34M-37 4L-11 30M-37 4L9 4M-37 4L22 15M7 12L0 -26M7 12L14 -36M7 12L34 -13M0 -26L14 -36M0 -26L5 31M0 -26L-19 -34M0 -26L34 -13M0 -26L23 4M0 -26L-15 -13M14 -36L5 31M14 -36L-19 -34M14 -36L22 15M5 31L-19 -34M5 31L1 3M5 31L34 -13M5 31L16 -2M-19 -34L23 4M-19 -34L-15 -13M-19 -34L22 15M-19 -34L-21 31M1 3L34 -13M1 3L-15 -13M1 3L9 4M1 3L-21 31M-11 30L23 4M-11 30L9 4M-11 30L22 15M-11 30L-21 31M34 -13L-5 7M34 -13L-15 -13M34 -13L22 15M34 -13L-21 31M-5 7L-21 31M23 4L9 4M-15 -13L9 4M22 15L-21 31" fill="none" stroke="#6a6a6a" stroke-opacity="0.12" stroke-width="0.6"/><path d="M1039.5 1480.9h0M977 1524.5h0M957.4 1457.7h0M1030.5 1456h0M997.6 1458.3h0M979.4 1449.8h0M1032.1 1471.3h0M983.3 1471h0M1013.6 1481.5h0" stroke="#5ebde6" stroke-opacity="0.95" stroke-width="2.6" stroke-linecap="round"/><path d="M1031.2 1509.2h0M1005.8 1526.7h0M958.9 1510.5h0M949.7 1480.2h0M980.8 1440.3h0M1010.7 1441.1h0M961 1488.5h0M1005 1496.2h0M1012 1448.1h0M1002.7 1514.8h0M999.4 1487.2h0M986.7 1513.8h0M993.4 1491.1h0M1020.8 1488.3h0M1006.9 1487.6h0M1019.6 1499h0M976.8 1515.3h0" stroke="#8a8a8a" stroke-opacity="0.95" stroke-width="2.6" stroke-linecap="round"/><ellipse cx="967.8" cy="1555.8" rx="45" ry="36" transform="rotate(0 967.8 1555.8)" fill="#555" fill-opacity="0.15" filter="url(#tx)"/><path transform="translate(963 1554)" d="M50 3L43 21M50 3L-37 -11M50 3L-2 -2M50 3L-1 10M50 3L-13 17M50 3L17 -13M43 21L10 -34M43 21L40 -20M43 21L-13 17M43 21L-21 -11M13 37L-37 -11M-20 32L-36 16M-20 32L10 -34M-20 32L-19 3M-20 32L-1 10M-20 32L-35 0M-20 32L-21 -11M-20 32L15 18M-20 32L8 -17M-20 32L-18 6M-20 32L-13 -8M-20 32L10 -23M-36 16L-37 -11M-36 16L40 -20M-36 16L-2 -2M-36 16L-5 1M-36 16L27 4M-36 16L-21 -11M-36 16L-13 -8M-37 -11L-5 1M-37 -11L27 4M-37 -11L-13 -8M-15 -31L-21 -11M-15 -31L-13 -8M-15 -31L10 -23M10 -34L-1 10M10 -34L-13 17M10 -34L27 4M10 -34L-21 -11M10 -34L-18 6M10 -34L10 -23M40 -20L-19 3M40 -20L-1 10M40 -20L27 4M40 -20L15 18M-19 3L-2 -2M-19 3L35 -3M-19 3L8 -17M-19 3L-13 -8M-2 -2L-1 10M-2 -2L-5 1M-2 -2L15 18M-2 -2L8 -17M-1 10L35 -3M-1 10L17 -13M-1 10L-13 -8M35 -3L27 4M35 -3L-21 -11M35 -3L8 -17M35 -3L-18 6M-35 0L17 -13M-13 17L-5 1M-13 17L27 4M-13 17L15 18M-13 17L10 -23M-5 1L15 18M-5 1L-18 6M27 4L8 -17M-21 -11L15 18M-21 -11L8 -17M15 18L-13 -8M8 -17L17 -13M8 -17L-13 -8M-13 -8L10 -23" fill="none" stroke="#6a6a6a" stroke-opacity="0.12" stroke-width="0.6"/><path d="M1012.7 1557.3h0M1006.2 1574.6h0M942.5 1585.6h0M926.5 1570.2h0M948.3 1523.3h0M973 1520h0M944.4 1556.8h0M961.2 1551.8h0M998.2 1551.3h0M928 1554.2h0M958.2 1554.7h0M989.8 1558.5h0M977.7 1571.9h0M970.7 1537.3h0M979.9 1540.6h0M950.4 1546.4h0" stroke="#8a8a8a" stroke-opacity="0.95" stroke-width="2.4" stroke-linecap="round"/><path d="M976.3 1591.1h0M925.5 1543.4h0M1003.4 1533.8h0M961.6 1563.5h0M949.6 1571.2h0M941.7 1542.8h0M945.5 1560h0M972.6 1531.2h0" stroke="#e06a6a" stroke-opacity="0.95" stroke-width="2.4" stroke-linecap="round"/><ellipse cx="975.4" cy="1617" rx="32" ry="28.8" transform="rotate(0 975.4 1617)" fill="#555" fill-opacity="0.2" filter="url(#tx)"/><path transform="translate(976 1613)" d="M31 3L2 33M31 3L-26 -14M31 3L-4 -12M28 18L4 17M28 18L-4 -10M28 18L-18 -1M28 18L11 -18M28 18L8 3M15 29L-31 -6M15 29L4 -24M15 29L28 -9M15 29L24 13M15 29L-18 -1M15 29L11 -18M15 29L8 3M2 33L-26 21M2 33L-31 -6M2 33L16 2M2 33L-4 -10M2 33L3 24M-12 31L28 -9M-12 31L1 -20M-12 31L8 3M-26 21L-32 10M-26 21L-31 -6M-26 21L-12 -23M-26 21L16 2M-26 21L3 24M-26 21L-4 -12M-26 21L1 -20M-26 21L11 -18M-32 10L-31 -6M-32 10L4 -24M-32 10L-4 -10M-32 10L-4 -12M-32 10L11 -18M-32 10L8 3M-31 -6L28 -9M-31 -6L16 2M-31 -6L-4 -10M-31 -6L-18 -1M-31 -6L11 -18M-26 -14L17 -20M-26 -14L28 -9M-26 -14L16 2M-26 -14L-4 -10M-26 -14L-18 -1M-26 -14L3 24M-26 -14L8 3M-12 -23L24 13M-12 -23L16 2M-12 -23L-4 -10M-12 -23L-18 -1M-12 -23L-4 -12M-12 -23L1 -20M4 -24L17 -20M4 -24L24 13M4 -24L4 17M4 -24L-4 -10M4 -24L11 -18M4 -24L-18 15M4 -24L8 3M17 -20L24 13M17 -20L16 2M17 -20L-4 -10M17 -20L-18 -1M17 -20L3 24M17 -20L-4 -12M17 -20L1 -20M17 -20L11 -18M17 -20L8 3M28 -9L4 17M28 -9L1 -20M28 -9L8 3M24 13L-4 -10M24 13L-18 -1M24 13L1 -20M24 13L-18 15M16 2L-18 -1M16 2L-4 -12M16 2L-18 15M16 2L8 3M4 17L-4 -10M4 17L3 24M4 17L-4 -12M-4 -10L3 24M-4 -10L-4 -12M-4 -10L-18 15M-4 -10L8 3M-18 -1L3 24M-18 -1L8 3M3 24L8 3M-4 -12L8 3M11 -18L-18 15" fill="none" stroke="#6a6a6a" stroke-opacity="0.14" stroke-width="0.6"/><path d="M1007.4 1615.8h0M1003.5 1630.8h0M977.9 1645.7h0M963.5 1643.7h0M944.1 1622.9h0M945.3 1607.2h0M964.3 1590h0M980.2 1588.5h0M1003.8 1603.6h0M999.8 1626.2h0M980.3 1630.1h0M972 1602.5h0M979.1 1636.8h0M971.8 1600.9h0M987.1 1595h0M958.1 1627.8h0" stroke="#5ebde6" stroke-opacity="0.95" stroke-width="3.2" stroke-linecap="round"/><path d="M991.2 1642.1h0M950 1634.4h0M950.1 1599.4h0M992.7 1592.7h0M992.3 1615.4h0M958.3 1611.6h0M976.8 1593.5h0M984 1615.6h0" stroke="#8a8a8a" stroke-opacity="0.95" stroke-width="3.2" stroke-linecap="round"/><ellipse cx="916.1" cy="1706.9" rx="20" ry="20" transform="rotate(0 916.1 1706.9)" fill="#555" fill-opacity="0.4" filter="url(#tx)"/><path transform="translate(916 1708)" d="M20 -1L13 14M20 -1L7 18M20 -1L-13 14M20 -1L-20 -1M20 -1L-18 -9M20 -1L-15 -15M20 -1L1 -21M20 -1L13 -16M20 -1L8 3M20 -1L-12 -5M20 -1L2 16M20 -1L10 -13M18 7L13 14M18 7L0 19M18 7L-8 17M18 7L-18 7M18 7L-20 -1M18 7L-18 -9M18 7L-8 -19M18 7L13 -16M18 7L13 -5M18 7L14 6M13 14L7 18M13 14L0 19M13 14L-18 -9M13 14L-15 -15M13 14L-8 -19M13 14L8 3M13 14L-9 12M13 14L-14 -4M13 14L2 16M13 14L14 6M7 18L-8 17M7 18L-20 -1M7 18L-18 -9M7 18L-15 -15M7 18L-8 -19M7 18L1 -21M7 18L8 -19M7 18L19 -8M7 18L8 3M7 18L-12 -5M7 18L13 -5M7 18L-14 -4M7 18L10 -13M7 18L14 6M0 19L-8 17M0 19L-13 14M0 19L-18 7M0 19L-18 -9M0 19L-15 -15M0 19L-8 -19M0 19L8 -19M0 19L8 3M0 19L2 16M0 19L10 -13M-8 17L-13 14M-8 17L-18 7M-8 17L-20 -1M-8 17L-18 -9M-8 17L-15 -15M-8 17L8 3M-8 17L-12 -5M-8 17L13 -5M-8 17L2 16M-8 17L14 6M-13 14L-18 7M-13 14L-18 -9M-13 14L-15 -15M-13 14L1 -21M-13 14L13 -16M-13 14L8 3M-13 14L-12 -5M-13 14L-9 12M-13 14L-14 -4M-13 14L14 6M-18 7L-20 -1M-18 7L-18 -9M-18 7L-15 -15M-18 7L1 -21M-18 7L8 -19M-18 7L13 -16M-18 7L8 3M-18 7L-12 -5M-18 7L13 -5M-18 7L-14 -4M-18 7L2 16M-18 7L10 -13M-18 7L14 6M-20 -1L-18 -9M-20 -1L-15 -15M-20 -1L-8 -19M-20 -1L1 -21M-20 -1L13 -16M-20 -1L8 3M-20 -1L13 -5M-20 -1L-14 -4M-20 -1L2 16M-20 -1L10 -13M-20 -1L14 6M-18 -9L-15 -15M-18 -9L1 -21M-18 -9L13 -16M-18 -9L19 -8M-18 -9L8 3M-18 -9L-12 -5M-18 -9L-9 12M-18 -9L13 -5M-18 -9L10 -13M-15 -15L-8 -19M-15 -15L1 -21M-15 -15L8 -19M-15 -15L13 -16M-15 -15L19 -8M-15 -15L8 3M-15 -15L-14 -4M-15 -15L2 16M-15 -15L10 -13M-15 -15L14 6M-8 -19L8 -19M-8 -19L13 -16M-8 -19L19 -8M-8 -19L-12 -5M-8 -19L2 16M-8 -19L10 -13M1 -21L8 3M1 -21L-12 -5M1 -21L-9 12M1 -21L13 -5M1 -21L-14 -4M1 -21L2 16M1 -21L14 6M8 -19L8 3M8 -19L-12 -5M8 -19L-9 12M8 -19L13 -5M8 -19L-14 -4M8 -19L2 16M8 -19L14 6M13 -16L19 -8M13 -16L8 3M13 -16L-12 -5M13 -16L-9 12M13 -16L13 -5M13 -16L-14 -4M13 -16L2 16M13 -16L14 6M19 -8L8 3M19 -8L-9 12M19 -8L2 16M19 -8L10 -13M19 -8L14 6M8 3L-12 -5M8 3L-9 12M8 3L13 -5M8 3L2 16M8 3L10 -13M8 3L14 6M-12 -5L-9 12M-12 -5L13 -5M-12 -5L-14 -4M-12 -5L2 16M-12 -5L10 -13M-12 -5L14 6M-9 12L13 -5M-9 12L-14 -4M-9 12L2 16M-9 12L10 -13M-9 12L14 6M13 -5L-14 -4M2 16L10 -13M10 -13L14 6" fill="none" stroke="#6a6a6a" stroke-opacity="0.25" stroke-width="0.6"/><path d="M936.1 1707.2h0M934.4 1715h0M929.1 1722.1h0M922.5 1725.8h0M916 1726.9h0M908.2 1725.2h0M902.9 1721.8h0M897.8 1714.9h0M896.1 1706.6h0M898 1698.5h0M901.4 1693.3h0M907.7 1688.7h0M916.7 1686.9h0M924.5 1688.7h0M929.5 1692h0M934.7 1699.5h0M924.2 1710.8h0M904.3 1702.7h0M907 1720h0M929.4 1703.4h0M901.6 1704.4h0M917.5 1723.8h0M925.9 1694.8h0M930.4 1713.6h0" stroke="#5ebde6" stroke-opacity="0.95" stroke-width="3.6" stroke-linecap="round"/><path transform="translate(908 1726)" d="M-19 0L-18 -5M-19 0L-13 1M-19 0L-23 -7M-59 -35L-48 -10M-59 -35L-25 -51M-59 -35L-22 -16M-23 -7L-18 -5M-23 -7L-22 -16M20 8L21 9M20 8L25 11M20 8L11 3M-13 -6L-18 -5M-13 -6L-7 -5M-13 -6L-13 1M-7 -5L-2 -3M-7 -5L-13 1M-22 -16L-16 -16M-22 -16L-18 -5M-2 -3L3 -8M-2 -3L1 5M-31 -1L-18 -5M9 -7L3 -8M9 -7L11 3M-13 1L-18 -5M38 -16L31 -6M38 -16L33 -4M38 -16L21 -12M-19 39L-15 42M-19 39L-27 24M-19 39L-13 13M-13 -26L-16 -16M-13 -26L-3 -18M11 3L1 5M21 9L25 11M-13 13L-21 9M-53 8L-45 7M-53 8L-42 10M-53 8L-48 -10M-48 -10L-45 7M41 14L37 4M41 14L53 7M41 14L25 11M-27 24L-21 9M57 -8L53 7M57 -8L37 4M-3 -18L3 -8M31 -6L33 -4M31 -6L37 4M31 -6L21 -12M16 32L19 26M16 32L25 11M-45 7L-42 10M53 7L37 4M19 26L25 11M21 -12L33 -4M25 11L37 4M33 -4L37 4" fill="none" stroke="#777" stroke-opacity="0.08" stroke-width="0.5"/><path transform="translate(906 1727)" d="M-17 -1h0M-57 -36h0M-21 -8h0M22 7h0M-11 -7h0M-5 -6h0M-20 -17h0M0 -4h0M-29 -2h0M11 -8h0M-11 0h0M40 -17h0M-17 38h0M-11 -27h0M13 2h0M23 8h0M-11 12h0M-14 -17h0M-51 7h0M-46 -11h0M43 13h0M-25 23h0M59 -9h0M-23 -52h0M-1 -19h0M33 -7h0M18 31h0M-13 41h0M-43 6h0M-40 9h0M55 6h0M21 25h0M-19 8h0M3 4h0M23 -13h0M5 -9h0M-16 -6h0M27 10h0M35 -5h0M39 3h0" stroke="#777" stroke-opacity="0.15" stroke-width="1.6" stroke-linecap="round"/><path transform="translate(834 1605)" d="M27 -210L-15 -160M27 -210L73 -204M27 -210L41 -164M-15 -160L-1 -173M-15 -160L18 -131M-15 -160L41 -164M18 -131L41 -164M18 -131L63 -125M18 -131L-30 -108M63 -125L41 -164M63 -125L62 -113M63 -125L18 -79M-30 -108L-15 -160M-30 -108L18 -79M-30 -108L18 -131M41 -164L63 -125M41 -164L62 -113M41 -164L27 -210M73 -204L41 -164M73 -204L27 -210M-1 -173L-15 -160M-1 -173L41 -164M-1 -173L18 -131M62 -113L18 -131M62 -113L63 -125M62 -113L41 -164M18 -79L63 -125M18 -79L18 -131M18 -79L4 -43M-21 55L20 78M-21 55L-15 98M-21 55L-66 75M-25 98L-33 155M-25 98L-69 94M-25 98L-55 48M23 35L12 57M23 35L-6 36M23 35L41 36M41 36L-21 55M41 36L23 35M41 36L-6 36M12 57L-21 55M12 57L20 78M12 57L1 -6M20 78L41 36M20 78L-21 55M20 78L53 59M1 -6L12 57M1 -6L4 -43M1 -6L-6 36M-6 36L23 35M-6 36L-6 83M-6 36L-44 94M-66 75L-21 55M-66 75L-25 98M-66 75L-69 94M-55 48L-28 64M-55 48L-6 83M-55 48L12 57M-6 83L-6 36M-6 83L-55 48M-6 83L30 142M-69 94L-44 94M-69 94L-21 55M-69 94L-55 48M-28 64L-69 94M-28 64L-66 75M-28 64L-44 94M30 142L20 78M30 142L-20 123M30 142L-15 98M-15 98L-55 48M-15 98L-33 155M-15 98L-44 94M-44 94L-33 155M-44 94L12 57M-44 94L-69 94M-20 123L-69 94M-20 123L-25 98M-20 123L-44 94M-33 155L-15 98M-33 155L30 142M-33 155L-25 98M53 59L23 35M53 59L20 78M53 59L-6 36M4 -43L1 -6M4 -43L18 -79" fill="none" stroke="#c8c8c8" stroke-opacity="0.4" stroke-width="0.8"/><text x="835.8" y="1408.5" font-size="21" fill="#f1f1f1" font-style="italic">Psmd4</text><text x="860.7" y="1404.7" font-size="21" fill="#f1f1f1" font-style="italic">Adrm1</text><text x="833.9" y="1435.3" font-size="21" fill="#f1f1f1" font-style="italic">Psmg2</text><text x="810.9" y="1447.9" font-size="20" fill="#f1f1f1" font-style="italic">Psme4</text><text x="881.7" y="1447.9" font-size="21" fill="#f1f1f1" font-style="italic">Ecpas</text><text x="841.5" y="1455.5" font-size="20" fill="#f1f1f1" font-style="italic">Rad23a</text><text x="870.2" y="1476.2" font-size="19" fill="#f1f1f1" font-style="italic">Psmd13</text><text x="853" y="1496.5" font-size="21" fill="#f1f1f1" font-style="italic">Adrm1</text><text x="805.2" y="1502.2" font-size="21" fill="#f1f1f1" font-style="italic">Rad23b</text><text x="830.1" y="1523.3" font-size="22" fill="#f1f1f1" font-style="italic">Ecpas</text><text x="822.4" y="1575.7" font-size="22" fill="#f1f1f1" font-style="italic">St13</text><text x="776.5" y="1589.4" font-size="21" fill="#f1f1f1" font-style="italic">Dnajc18</text><text x="817.8" y="1607.4" font-size="15" fill="#f1f1f1" font-style="italic">Ybx1</text><text x="776.5" y="1630.4" font-size="16" fill="#f1f1f1" font-style="italic">Eif2b4</text><text x="778.4" y="1657.2" font-size="16" fill="#f1f1f1" font-style="italic">Eif2b2</text><text x="776.5" y="1672.5" font-size="18" fill="#f1f1f1" font-style="italic">Eif5</text><text x="770.8" y="1685.8" font-size="18" fill="#f1f1f1" font-style="italic">Eif2b4</text><text x="810.9" y="1685.8" font-size="18" fill="#f1f1f1" font-style="italic">Eif4e2</text><text x="839.6" y="1657.2" font-size="16" fill="#f1f1f1" font-style="italic">Eif4a1</text><text x="770.8" y="1697.3" font-size="14" fill="#f1f1f1" font-style="italic">Ube2</text><text x="782.2" y="1714.5" font-size="18" fill="#f1f1f1" font-style="italic">Eif3</text><text x="814.8" y="1710.7" font-size="13" fill="#f1f1f1" font-style="italic">Sqstm1</text><text x="788" y="1733.7" font-size="13" fill="#f1f1f1" font-style="italic">Sgtb</text><text x="788" y="1758.5" font-size="13" fill="#f1f1f1" font-style="italic">Dnajc18</text><text x="830.1" y="1749" font-size="13" fill="#f1f1f1" font-style="italic">Bcl2l1</text><path d="M860.7 1395.1h0M818.6 1444.8h0" stroke="#a392f3" stroke-opacity="0.9" stroke-width="9.6" stroke-linecap="round"/><path d="M851.9 1474.3h0" stroke="#a392f3" stroke-opacity="0.9" stroke-width="9" stroke-linecap="round"/><path d="M896.6 1480.4h0" stroke="#a392f3" stroke-opacity="0.9" stroke-width="7" stroke-linecap="round"/><path d="M804.1 1496.9h0" stroke="#a392f3" stroke-opacity="0.9" stroke-width="6.6" stroke-linecap="round"/><path d="M875.2 1441h0M895.9 1491.5h0" stroke="#a392f3" stroke-opacity="0.9" stroke-width="5" stroke-linecap="round"/><path d="M906.6 1400.8h0" stroke="#a392f3" stroke-opacity="0.9" stroke-width="4.4" stroke-linecap="round"/><path d="M833.1 1432.2h0M852.3 1525.9h0" stroke="#a392f3" stroke-opacity="0.9" stroke-width="3" stroke-linecap="round"/><path d="M812.9 1660.2h0M809 1703.1h0M856.8 1639.9h0" stroke="#b99a2e" stroke-opacity="0.9" stroke-width="8" stroke-linecap="round"/><path d="M874.8 1640.7h0" stroke="#b99a2e" stroke-opacity="0.9" stroke-width="6.4" stroke-linecap="round"/><path d="M846.1 1661.7h0" stroke="#b99a2e" stroke-opacity="0.9" stroke-width="5.6" stroke-linecap="round"/><path d="M854.2 1682.8h0M828.2 1640.7h0" stroke="#b99a2e" stroke-opacity="0.9" stroke-width="5" stroke-linecap="round"/><path d="M835 1599h0" stroke="#b99a2e" stroke-opacity="0.9" stroke-width="4" stroke-linecap="round"/><path d="M768.1 1680.1h0M828.2 1687.8h0" stroke="#b99a2e" stroke-opacity="0.9" stroke-width="3" stroke-linecap="round"/><path d="M779.2 1653.3h0" stroke="#b99a2e" stroke-opacity="0.9" stroke-width="2" stroke-linecap="round"/><path d="M765 1699.2h0M806 1669h0" stroke="#5ebde6" stroke-opacity="0.9" stroke-width="6" stroke-linecap="round"/><path d="M864.5 1747.1h0" stroke="#5ebde6" stroke-opacity="0.9" stroke-width="4.4" stroke-linecap="round"/><path d="M819.4 1703.1h0" stroke="#5ebde6" stroke-opacity="0.9" stroke-width="3.6" stroke-linecap="round"/><path d="M789.9 1699.2h0M814 1727.9h0M887.5 1664h0" stroke="#5ebde6" stroke-opacity="0.9" stroke-width="3" stroke-linecap="round"/><path d="M800.6 1760.4h0" stroke="#5ebde6" stroke-opacity="0.9" stroke-width="2.4" stroke-linecap="round"/><path d="M918.1 1581.4h0" stroke="#e06a6a" stroke-opacity="0.9" stroke-width="5" stroke-linecap="round"/><path d="M837.7 1561.5h0" stroke="#8a8a8a" stroke-opacity="0.9" stroke-width="2.4" stroke-linecap="round"/><rect x="781.5" y="1268" width="604" height="559.2" fill="none" stroke="#6a6a6a" stroke-width="1.3"/><path d="M781.5 1410.8h-6M781.5 1566.5h-6M781.5 1723.3h-6" stroke="#6a6a6a" stroke-width="1.3"/><text x="770.5" y="1418.5" font-size="21.5" text-anchor="end">6</text><text x="770.5" y="1574.2" font-size="21.5" text-anchor="end">4</text><text x="770.5" y="1731" font-size="21.5" text-anchor="end">2</text><path d="M888.6 1827.2v6M1006 1827.2v6M1123.4 1827.2v6M1240.8 1827.2v6M1358.2 1827.2v6" stroke="#6a6a6a" stroke-width="1.3"/><text x="888.6" y="1854.3" font-size="21.5" text-anchor="middle">10</text><text x="1006" y="1854.3" font-size="21.5" text-anchor="middle">20</text><text x="1123.4" y="1854.3" font-size="21.5" text-anchor="middle">30</text><text x="1240.8" y="1854.3" font-size="21.5" text-anchor="middle">40</text><text x="1358.2" y="1854.3" font-size="21.5" text-anchor="middle">50</text><text x="1083.7" y="1251.6" font-size="25" text-anchor="middle">Enrichment analysis of T−cluster−A</text><text transform="rotate(-90 740.7 1547.2)" x="740.7" y="1547.2" font-size="25" text-anchor="middle">log<tspan font-size="17.5" dy="5">2</tspan><tspan dy="-5">(Fold enrichment)</tspan></text><text x="1080.6" y="1885.5" font-size="25" text-anchor="middle">log<tspan font-size="17.5" dy="5">10</tspan><tspan dy="-5">P</tspan></text><text x="1039.3" y="1303.3" font-size="16.6">Proteasome regulatory particle</text><text x="826.2" y="1367.1" font-size="16.6">Proteasome assembly</text><text x="1070.3" y="1378.6" font-size="16.6">Proteasome complex</text><text x="808.6" y="1420.7" font-size="16.6">Proteasome binding</text><text x="921.1" y="1452.4" font-size="16.6">P53−Independent DNA Damage Response</text><text x="788.8" y="1487.7" font-size="16.6">P53−Dependent G1 DNA Damage Response</text><text x="983.1" y="1520.2" font-size="16.6">Cellular response to hypoxia</text><text x="802.1" y="1543.1" font-size="16.6">Cellular response to chemical stress</text><text x="908.5" y="1569.1" font-size="16.6">G1/S Transition</text><text x="832" y="1612" font-size="16.6">Translational initiation</text><text x="798.7" y="1642.6" font-size="16.6">Translation regulator activity</text><text x="807.9" y="1676.2" font-size="16.6">Cellular responses to external stimuli</text><text x="790.3" y="1725.2" font-size="16.6">Cellular responses to stress</text><text x="848.4" y="1770" font-size="16.6">Response to endoplasmic reticulum stress</text><path d="M1109.3 1587.5h0" stroke="#5ebde6" stroke-opacity="1" stroke-width="19" stroke-linecap="round"/><path d="M1109.3 1635h0" stroke="#a392f3" stroke-opacity="1" stroke-width="19" stroke-linecap="round"/><path d="M1109.3 1682h0" stroke="#b99a2e" stroke-opacity="1" stroke-width="19" stroke-linecap="round"/><path d="M1109.3 1729h0" stroke="#e06a6a" stroke-opacity="1" stroke-width="19" stroke-linecap="round"/><text x="1124.6" y="1593.4" font-size="16.6">Stress response</text><text x="1124.6" y="1640.9" font-size="16.6">Quality control</text><text x="1124.6" y="1687.9" font-size="16.6">Translation initiation and regulation</text><text x="1124.6" y="1734.9" font-size="16.6">Cell cycle</text><ellipse cx="1576.5" cy="1525.2" rx="70" ry="70" transform="rotate(0 1576.5 1525.2)" fill="url(#rb)" filter="url(#spk)"/><ellipse cx="1599.5" cy="1597.9" rx="45" ry="40" transform="rotate(0 1599.5 1597.9)" fill="url(#rb)" filter="url(#spk)"/><path transform="translate(1570 1519)" d="M8 12L13 11M8 12L9 2M8 12L3 22M3 -4L0 1M3 -4L7 -9M3 -4L2 -11M22 12L26 19M22 12L13 11M22 12L24 -1M17 -38L16 -31M17 -38L10 -47M17 -38L35 -37M-11 -9L-14 -11M-11 -9L-14 -10M-11 -9L-20 -9M29 0L24 -1M29 0L26 -6M29 0L18 -7M-5 8L-11 8M-5 8L0 1M-5 8L-15 9M16 -31L10 -47M16 -31L35 -37M23 -13L18 -7M23 -13L26 -6M23 -13L24 -1M13 11L9 2M-22 30L-24 21M-22 30L-18 18M-22 30L-11 18M-24 21L-18 18M-24 21L-18 13M26 -6L24 -1M43 -18L41 -22M43 -18L51 -28M43 -18L35 -37M-34 -1L-40 3M-34 -1L-22 -3M-34 -1L-26 9M-22 -3L-19 -4M-22 -3L-21 -7M-22 -3L-20 -9M15 38L3 22M15 38L26 19M15 38L-6 22M0 1L9 2M26 19L37 16M26 19L39 18M3 22L-6 22M3 22L-11 18M-24 -15L-24 -16M-24 -15L-20 -9M-24 -15L-21 -7M-14 -10L-14 -11M-14 -10L-20 -9M24 -1L18 -7M35 -37L41 -22M35 -37L51 -28M-11 18L-6 22M-11 18L-18 18M-11 18L-18 13M2 -11L7 -9M-51 15L-40 3M-51 15L-48 -2M-26 9L-19 12M-26 9L-18 13M-26 9L-15 9M-24 -16L-20 -9M-24 -16L-21 -7M51 -28L41 -22M-21 -7L-20 -9M-21 -7L-19 -4M-48 -2L-40 3M7 -9L18 -7M-19 -4L-20 -9M-14 -11L-20 -9M-18 13L-19 12M-18 13L-18 18M-18 13L-15 9M-6 22L-18 18M-15 9L-11 8M-15 9L-19 12M39 18L37 16M39 18L53 12M53 12L37 16M-19 12L-18 18" fill="none" stroke="#8ab" stroke-opacity="0.07" stroke-width="0.5"/><path transform="translate(1576 1517)" d="M2 14h0M-3 -2h0M16 14h0M11 -36h0M-17 -7h0M23 2h0M-11 10h0M10 -29h0M17 -11h0M7 13h0M-28 32h0M-30 23h0M20 -4h0M37 -16h0M-40 1h0M-28 -1h0M9 40h0M-6 3h0M20 21h0M-3 24h0M-30 -13h0M-20 -8h0M18 1h0M29 -35h0M-17 20h0M-4 -9h0M-57 17h0M-32 11h0M-30 -14h0M45 -26h0M-27 -5h0M-54 0h0M1 -7h0M-25 -2h0M-20 -9h0M-24 15h0M-12 24h0M-26 -7h0M-21 11h0M33 20h0M47 14h0M-46 5h0M31 18h0M3 4h0M4 -45h0M-25 14h0M35 -20h0M-17 10h0M12 -5h0M-24 20h0" stroke="#8ab" stroke-opacity="0.12" stroke-width="1.6" stroke-linecap="round"/><path transform="translate(1601 1598)" d="M-22 -1L-19 -7M-22 -1L-31 -6M-22 -1L-17 12M10 -27L9 -21M10 -27L-3 -32M10 -27L13 -11M-29 -15L-31 -6M-29 -15L-19 -7M-29 -15L-14 -19M19 18L15 12M19 18L12 15M19 18L27 13M5 7L4 2M5 7L0 9M5 7L8 12M-14 -19L-8 -25M-14 -19L-19 -7M8 12L12 15M8 12L12 7M-3 -32L-8 -25M4 2L8 -1M4 2L0 9M-17 12L-11 13M-17 12L0 9M27 13L15 12M27 13L12 15M1 -9L8 -1M1 -9L13 -11M9 -21L13 -11M15 12L12 15M15 12L12 7M0 16L2 16M0 16L0 9M-11 13L0 9M8 -1L12 7M0 9L2 16M-31 -6L-19 -7" fill="none" stroke="#8ab" stroke-opacity="0.07" stroke-width="0.5"/><path transform="translate(1599 1597)" d="M-20 0h0M12 -26h0M-27 -14h0M21 19h0M7 8h0M-12 -18h0M10 13h0M-1 -31h0M6 3h0M-15 13h0M29 14h0M3 -8h0M11 -20h0M17 13h0M2 17h0M-9 14h0M10 0h0M15 -10h0M-6 -24h0M2 10h0M14 8h0M14 16h0M-29 -5h0M-17 -6h0M4 17h0" stroke="#8ab" stroke-opacity="0.12" stroke-width="1.6" stroke-linecap="round"/><ellipse cx="1852.9" cy="1374.3" rx="47" ry="47" transform="rotate(0 1852.9 1374.3)" fill="#555" fill-opacity="0.3" filter="url(#tx)"/><path transform="translate(1853 1376)" d="M47 -4L30 34M47 -4L-29 36M47 -4L-44 15M47 -4L40 -27M47 -4L23 7M47 -4L-16 -6M47 -4L-11 11M47 -4L-15 -24M47 -4L-10 16M44 13L11 44M44 13L-8 45M44 13L-18 42M44 13L-29 36M44 13L-46 -13M44 13L-38 -30M44 13L-3 -49M44 13L32 -36M44 13L40 -27M44 13L45 -14M44 13L-31 22M44 13L23 7M44 13L-21 14M44 13L9 -2M44 13L-33 12M44 13L-16 -6M44 13L36 18M44 13L12 -32M40 23L-20 -44M40 23L-3 -49M40 23L16 -46M40 23L36 18M40 23L-22 -2M40 23L-10 16M30 34L11 44M30 34L-18 42M30 34L-46 -13M30 34L-20 -44M30 34L5 -48M30 34L16 -46M30 34L31 14M30 34L-31 22M30 34L-21 14M30 34L-15 -39M30 34L-15 -24M30 34L12 -32M19 41L-8 45M19 41L-18 42M19 41L-41 21M19 41L-46 -13M19 41L-29 -39M19 41L-20 -44M19 41L-3 -49M19 41L32 -36M19 41L45 -14M19 41L9 -9M19 41L23 7M19 41L-22 -2M19 41L17 -3M11 44L-3 -49M11 44L5 -48M11 44L45 -14M11 44L31 14M11 44L23 7M11 44L9 -2M11 44L-15 -39M11 44L17 -3M-8 45L-29 36M-8 45L-47 2M-8 45L-46 -13M-8 45L-3 -49M-8 45L45 -14M-8 45L31 14M-8 45L9 -9M-8 45L23 7M-8 45L9 -2M-8 45L-16 -6M-8 45L-11 11M-8 45L-22 -2M-8 45L-15 -24M-8 45L-10 16M-8 45L12 -32M-18 42L-41 21M-18 42L-47 2M-18 42L-29 -39M-18 42L32 -36M-18 42L40 -27M-18 42L31 14M-18 42L9 -9M-18 42L23 7M-18 42L-21 14M-18 42L34 -19M-18 42L-22 -2M-29 36L-41 21M-29 36L-47 2M-29 36L-38 -30M-29 36L-29 -39M-29 36L-3 -49M-29 36L40 -27M-29 36L9 -9M-29 36L23 7M-29 36L-21 14M-29 36L9 -2M-29 36L-33 12M-29 36L-15 -39M-29 36L-16 -6M-41 21L-3 -49M-41 21L16 -46M-41 21L40 -27M-41 21L34 -19M-41 21L-15 -39M-41 21L36 18M-41 21L-15 -24M-44 15L-46 -13M-44 15L-38 -30M-44 15L32 -36M-44 15L45 -14M-44 15L31 14M-44 15L-31 22M-44 15L34 -19M-44 15L9 -2M-44 15L-33 12M-44 15L17 -3M-44 15L-10 16M-47 2L-3 -49M-47 2L5 -48M-47 2L-31 22M-47 2L23 7M-47 2L17 -3M-47 2L-8 -14M-46 -13L-3 -49M-46 -13L45 -14M-46 -13L-31 22M-46 -13L-21 14M-46 -13L9 -2M-46 -13L-16 -6M-46 -13L36 18M-46 -13L-10 16M-38 -30L16 -46M-38 -30L32 -36M-38 -30L-31 22M-38 -30L23 7M-38 -30L34 -19M-38 -30L9 -2M-38 -30L-33 12M-38 -30L-15 -39M-38 -30L17 -3M-38 -30L-10 16M-29 -39L32 -36M-29 -39L-21 14M-29 -39L9 -2M-29 -39L-22 -2M-29 -39L-10 16M-20 -44L23 7M-20 -44L34 -19M-20 -44L9 -2M-20 -44L-33 12M-20 -44L36 18M-20 -44L-22 -2M-3 -49L5 -48M-3 -49L9 -9M-3 -49L-31 22M-3 -49L23 7M-3 -49L36 18M-3 -49L-15 -24M-3 -49L17 -3M5 -48L32 -36M5 -48L40 -27M5 -48L9 -9M5 -48L23 7M5 -48L-33 12M5 -48L-15 -39M5 -48L-22 -2M16 -46L32 -36M16 -46L9 -2M16 -46L-15 -39M16 -46L-16 -6M16 -46L-15 -24M32 -36L40 -27M32 -36L45 -14M32 -36L-33 12M32 -36L-15 -24M32 -36L12 -32M40 -27L9 -9M40 -27L-31 22M40 -27L34 -19M40 -27L-33 12M40 -27L-15 -39M40 -27L-16 -6M40 -27L36 18M40 -27L-15 -24M45 -14L23 7M45 -14L-16 -6M45 -14L-15 -24M45 -14L12 -32M31 14L-31 22M31 14L23 7M31 14L-21 14M31 14L34 -19M31 14L9 -2M31 14L-33 12M31 14L36 18M31 14L-15 -24M9 -9L23 7M9 -9L9 -2M9 -9L-33 12M-31 22L23 7M-31 22L9 -2M-31 22L-33 12M-31 22L-16 -6M-31 22L-11 11M-31 22L36 18M23 7L-10 16M-21 14L-11 11M-21 14L-8 -14M-21 14L12 -32M34 -19L9 -2M34 -19L-15 -39M34 -19L36 18M34 -19L17 -3M9 -2L-33 12M9 -2L-15 -39M9 -2L-16 -6M9 -2L36 18M-33 12L-15 -39M-33 12L-11 11M-33 12L-8 -14M-33 12L12 -32M-15 -39L-10 16M-15 -39L12 -32M-16 -6L-15 -24M-16 -6L17 -3M-11 11L17 -3M-11 11L-8 -14M36 18L-22 -2M36 18L-15 -24M36 18L12 -32M-22 -2L-15 -24M-22 -2L17 -3M17 -3L12 -32M-10 16L-8 -14" fill="none" stroke="#6a6a6a" stroke-opacity="0.12" stroke-width="0.6"/><path d="M1899.8 1371.7h0M1883.1 1410.3h0M1845 1420.6h0M1812 1397.5h0M1807.3 1363h0M1833 1331.7h0M1868.5 1330h0M1898.2 1361.8h0M1821.7 1398.1h0M1887.1 1357.3h0M1837.6 1336.6h0M1889.2 1393.7h0M1870.3 1372.8h0M1865.3 1344.1h0" stroke="#b99a2e" stroke-opacity="0.95" stroke-width="3" stroke-linecap="round"/><path d="M1897.4 1389.3h0M1892.9 1399h0M1871.7 1417.4h0M1864.1 1420h0M1835.5 1417.9h0M1824.4 1411.7h0M1809 1391.1h0M1806 1378h0M1815.2 1346.2h0M1823.8 1337.4h0M1850.4 1327.4h0M1857.8 1327.6h0M1884.9 1339.8h0M1892.7 1349.3h0M1883.8 1389.8h0M1862.2 1366.7h0M1875.8 1383.4h0M1831.7 1390.3h0M1862.1 1373.8h0M1819.9 1387.8h0M1836.6 1369.9h0M1841.7 1387.4h0M1830.6 1373.7h0M1837.8 1351.6h0M1842.6 1392.5h0M1845.4 1361.9h0" stroke="#8a8a8a" stroke-opacity="0.95" stroke-width="3" stroke-linecap="round"/><ellipse cx="1819.3" cy="1435.7" rx="51" ry="51" transform="rotate(0 1819.3 1435.7)" fill="#555" fill-opacity="0.42" filter="url(#tx)"/><path transform="translate(1822 1435)" d="M48 1L-28 45M48 1L-40 35M48 1L-49 23M48 1L14 -47M48 1L4 42M48 1L33 -25M48 1L-31 -30M48 1L21 -17M48 1L38 -5M48 1L24 20M46 14L40 28M46 14L34 36M46 14L11 50M46 14L-3 52M46 14L-16 50M46 14L-28 45M46 14L-49 23M46 14L-52 -13M46 14L47 -12M46 14L4 42M46 14L27 34M46 14L28 -14M46 14L-29 -17M46 14L21 -17M46 14L16 25M40 28L34 36M40 28L-53 11M40 28L-38 -36M40 28L14 -47M40 28L23 -43M40 28L42 -24M40 28L27 34M40 28L-44 -17M40 28L-6 -31M40 28L5 31M34 36L-3 52M34 36L-28 45M34 36L-40 35M34 36L-52 -13M34 36L-2 -50M34 36L-44 -17M34 36L33 -25M34 36L-30 -32M34 36L14 6M34 36L38 -5M25 44L-28 45M25 44L-49 23M25 44L-53 11M25 44L-54 1M25 44L14 -47M25 44L4 42M25 44L-22 -17M25 44L33 -25M25 44L14 6M25 44L-25 25M25 44L5 31M11 50L-3 52M11 50L-46 -26M11 50L14 -47M11 50L47 -12M11 50L-25 25M11 50L-6 -31M11 50L24 20M11 50L16 25M-3 52L-16 50M-3 52L-40 35M-3 52L-54 1M-3 52L-46 -26M-3 52L-30 -42M-3 52L-2 -50M-3 52L23 -43M-3 52L35 -34M-3 52L4 42M-3 52L7 -19M-16 50L-49 23M-16 50L-54 1M-16 50L-52 -13M-16 50L-38 -36M-16 50L14 -47M-16 50L42 -24M-16 50L28 -14M-16 50L-3 25M-16 50L7 -19M-16 50L14 6M-16 50L24 20M-16 50L3 -1M-28 45L-49 23M-28 45L-53 11M-28 45L-30 -42M-28 45L14 -47M-28 45L23 -43M-28 45L35 -34M-28 45L-22 -17M-28 45L28 -14M-28 45L33 -25M-28 45L-25 25M-28 45L-6 -31M-28 45L24 20M-40 35L-53 11M-40 35L-38 -36M-40 35L23 -43M-40 35L27 34M-40 35L-3 25M-40 35L7 -19M-40 35L-25 25M-40 35L21 -17M-40 35L38 -5M-40 35L5 31M-49 23L-38 -36M-49 23L-30 -42M-49 23L4 42M-49 23L-3 25M-49 23L16 25M-53 11L-2 -50M-53 11L47 -12M-53 11L-22 -17M-53 11L-30 -32M-53 11L-31 -30M-53 11L21 -17M-53 11L38 -5M-54 1L-22 -17M-54 1L-44 -17M-54 1L-31 -30M-54 1L14 6M-54 1L-29 -17M-54 1L-6 -31M-54 1L3 -1M-52 -13L-38 -36M-52 -13L-2 -50M-52 -13L47 -12M-52 -13L-30 -32M-52 -13L-31 -30M-52 -13L-25 25M-52 -13L38 -5M-52 -13L5 31M-46 -26L-38 -36M-46 -26L47 -12M-46 -26L4 42M-46 -26L27 34M-46 -26L-30 -32M-46 -26L21 -17M-46 -26L38 -5M-46 -26L3 -1M-46 -26L5 31M-38 -36L47 -12M-38 -36L4 42M-38 -36L-44 -17M-38 -36L33 -25M-38 -36L-30 -32M-38 -36L14 6M-38 -36L-25 25M-38 -36L21 -17M-38 -36L5 31M-38 -36L16 25M-30 -42L-19 -47M-30 -42L-2 -50M-30 -42L14 -47M-30 -42L47 -12M-30 -42L4 42M-30 -42L28 -14M-30 -42L-3 25M-30 -42L14 6M-30 -42L-6 -31M-19 -47L35 -34M-19 -47L4 42M-19 -47L-22 -17M-19 -47L27 34M-19 -47L-30 -32M-19 -47L38 -5M-19 -47L3 -1M-19 -47L5 31M-2 -50L14 -47M-2 -50L47 -12M-2 -50L28 -14M-2 -50L33 -25M-2 -50L-25 25M-2 -50L21 -17M-2 -50L24 20M-2 -50L16 25M14 -47L23 -43M14 -47L4 42M14 -47L28 -14M14 -47L33 -25M14 -47L-30 -32M14 -47L14 6M14 -47L3 -1M23 -43L35 -34M23 -43L33 -25M23 -43L-29 -17M23 -43L38 -5M35 -34L42 -24M35 -34L-22 -17M35 -34L27 34M35 -34L-44 -17M35 -34L33 -25M35 -34L-30 -32M35 -34L21 -17M35 -34L24 20M35 -34L5 31M42 -24L4 42M42 -24L-22 -17M42 -24L28 -14M42 -24L-44 -17M42 -24L7 -19M42 -24L14 6M42 -24L-25 25M42 -24L21 -17M42 -24L-6 -31M42 -24L16 25M47 -12L27 34M47 -12L28 -14M47 -12L33 -25M47 -12L-30 -32M47 -12L-3 25M47 -12L21 -17M47 -12L38 -5M4 42L-22 -17M4 42L-30 -32M4 42L-29 -17M4 42L38 -5M4 42L3 -1M-22 -17L-44 -17M-22 -17L33 -25M-22 -17L-31 -30M-22 -17L-3 25M-22 -17L7 -19M-22 -17L-25 25M-22 -17L21 -17M-22 -17L24 20M-22 -17L16 25M27 34L-44 -17M27 34L33 -25M27 34L-30 -32M27 34L7 -19M27 34L38 -5M27 34L5 31M28 -14L-31 -30M28 -14L-3 25M28 -14L3 -1M-44 -17L7 -19M-44 -17L14 6M-44 -17L21 -17M-44 -17L38 -5M-44 -17L24 20M-44 -17L5 31M-44 -17L16 25M33 -25L-31 -30M33 -25L7 -19M33 -25L-25 25M33 -25L24 20M33 -25L3 -1M33 -25L5 31M-30 -32L-31 -30M-30 -32L7 -19M-30 -32L-29 -17M-30 -32L21 -17M-30 -32L38 -5M-30 -32L-6 -31M-31 -30L-3 25M-31 -30L7 -19M-31 -30L14 6M-31 -30L-25 25M-31 -30L-6 -31M-31 -30L3 -1M-31 -30L5 31M-3 25L-29 -17M-3 25L21 -17M-3 25L-6 -31M-3 25L3 -1M7 -19L3 -1M7 -19L16 25M14 6L38 -5M14 6L3 -1M-29 -17L5 31M-29 -17L16 25M-25 25L21 -17M21 -17L24 20M21 -17L3 -1M21 -17L5 31M38 -5L5 31M38 -5L16 25M24 20L16 25" fill="none" stroke="#6a6a6a" stroke-opacity="0.12" stroke-width="0.6"/><path d="M1870.3 1436.3h0M1862.5 1462.8h0M1846.7 1478.7h0M1819.2 1486.7h0M1794.2 1480.1h0M1773.3 1457.7h0M1768.3 1436.5h0M1775.6 1409.4h0M1791.5 1392.9h0M1819.5 1384.7h0M1845.4 1391.9h0M1863.7 1410.7h0M1826.3 1476.6h0M1849.2 1468.7h0M1777.6 1418.3h0M1791.5 1403.4h0M1819.5 1459.8h0M1836.2 1440.9h0M1797.4 1460.5h0M1860 1430.3h0M1845.7 1454.7h0M1827.4 1465.6h0" stroke="#5ebde6" stroke-opacity="0.95" stroke-width="3" stroke-linecap="round"/><path d="M1868.4 1449.4h0M1855.8 1471.3h0M1833.3 1484.7h0M1805.7 1484.8h0M1781.8 1470.3h0M1769.4 1446.4h0M1770.1 1422.3h0M1783.7 1399.2h0M1802.6 1387.5h0M1836.1 1387.5h0M1856.9 1401.2h0M1868.6 1422.8h0M1800.5 1418.5h0M1849.8 1420.7h0M1855.2 1410.2h0M1791.1 1404.5h0M1829.1 1415.9h0M1792.8 1418.2h0M1843.5 1417.9h0M1815.6 1403.8h0M1825 1434h0M1837.9 1460.5h0" stroke="#8a8a8a" stroke-opacity="0.95" stroke-width="3" stroke-linecap="round"/><ellipse cx="1922.9" cy="1424.3" rx="47" ry="47" transform="rotate(0 1922.9 1424.3)" fill="#555" fill-opacity="0.62" filter="url(#tx)"/><path transform="translate(1923 1423)" d="M47 -1L32 35M47 -1L22 43M47 -1L12 47M47 -1L-33 35M47 -1L-46 -10M47 -1L-39 -25M47 -1L-25 -39M47 -1L42 -20M47 -1L46 -8M47 -1L-4 -1M47 -1L-1 17M47 -1L1 -24M47 -1L-14 -33M47 -1L-6 -36M47 -1L29 -6M45 14L40 26M45 14L22 43M45 14L-1 48M45 14L-27 40M45 14L-40 26M45 14L-47 1M45 14L-39 -25M45 14L-35 -30M45 14L-25 -39M45 14L42 -20M45 14L-16 9M45 14L19 34M45 14L5 -26M45 14L-4 -1M45 14L-1 17M40 26L32 35M40 26L-15 46M40 26L-33 35M40 26L-40 26M40 26L-46 -10M40 26L-39 -25M40 26L-35 -30M40 26L0 -46M40 26L22 -40M40 26L32 -33M40 26L0 14M40 26L9 -14M40 26L5 -26M40 26L-27 -5M40 26L-28 8M32 35L-15 46M32 35L-27 40M32 35L-33 35M32 35L-40 26M32 35L-35 -30M32 35L32 -33M32 35L-16 9M32 35L40 0M32 35L0 14M32 35L-1 17M22 43L12 47M22 43L-40 26M22 43L-35 -30M22 43L-14 -44M22 43L32 -33M22 43L42 -20M22 43L40 0M22 43L0 14M22 43L37 -6M22 43L-27 -5M22 43L-36 11M22 43L-6 -36M22 43L29 -6M12 47L-15 46M12 47L-25 -39M12 47L12 -44M12 47L32 -33M12 47L46 -8M12 47L0 14M12 47L9 -14M12 47L37 -6M12 47L-6 -36M-1 48L-40 26M-1 48L19 34M-1 48L5 -26M-1 48L-4 -1M-1 48L-28 8M-1 48L-36 11M-1 48L29 -6M-15 46L-33 35M-15 46L-45 17M-15 46L-46 -10M-15 46L-14 -44M-15 46L0 -46M-15 46L42 -20M-15 46L46 -8M-15 46L40 0M-15 46L9 -14M-15 46L19 34M-15 46L5 -26M-15 46L-28 8M-15 46L-1 17M-15 46L-6 -36M-27 40L-47 1M-27 40L-46 -10M-27 40L-35 -30M-27 40L0 -46M-27 40L22 -40M-27 40L32 -33M-27 40L42 -20M-27 40L-16 9M-27 40L0 14M-27 40L19 34M-27 40L37 -6M-27 40L-4 -1M-33 35L-40 26M-33 35L-25 -39M-33 35L12 -44M-33 35L-16 9M-33 35L19 34M-33 35L-1 17M-33 35L-36 11M-33 35L1 -24M-40 26L-45 17M-40 26L-47 1M-40 26L-25 -39M-40 26L12 -44M-40 26L-16 9M-40 26L0 14M-40 26L5 -26M-40 26L-4 -1M-40 26L1 -24M-45 17L-47 1M-45 17L-46 -10M-45 17L-25 -39M-45 17L32 -33M-45 17L46 -8M-45 17L-16 9M-45 17L9 -14M-45 17L19 34M-45 17L-6 -36M-45 17L29 -6M-47 1L22 -40M-47 1L32 -33M-47 1L46 -8M-47 1L0 14M-47 1L9 -14M-47 1L37 -6M-47 1L-36 11M-46 -10L-39 -25M-46 -10L-35 -30M-46 -10L-25 -39M-46 -10L-16 9M-46 -10L0 14M-46 -10L19 34M-46 -10L5 -26M-46 -10L37 -6M-46 -10L-4 -1M-46 -10L-27 -5M-46 -10L-1 17M-46 -10L1 -24M-39 -25L-25 -39M-39 -25L32 -33M-39 -25L46 -8M-39 -25L-16 9M-39 -25L-27 -5M-39 -25L-28 8M-39 -25L-36 11M-35 -30L-14 -44M-35 -30L22 -40M-35 -30L40 0M-35 -30L-27 -5M-35 -30L-1 17M-35 -30L-14 -33M-25 -39L32 -33M-25 -39L-16 9M-25 -39L40 0M-25 -39L0 14M-25 -39L5 -26M-25 -39L37 -6M-25 -39L-27 -5M-14 -44L22 -40M-14 -44L-16 9M-14 -44L40 0M-14 -44L0 14M-14 -44L9 -14M-14 -44L19 34M-14 -44L-36 11M-14 -44L-14 -33M0 -46L32 -33M0 -46L46 -8M0 -46L40 0M0 -46L9 -14M0 -46L5 -26M0 -46L-27 -5M0 -46L-1 17M0 -46L1 -24M12 -44L32 -33M12 -44L42 -20M12 -44L46 -8M12 -44L-16 9M12 -44L40 0M12 -44L-1 17M12 -44L-14 -33M12 -44L-6 -36M22 -40L32 -33M22 -40L-16 9M22 -40L40 0M22 -40L0 14M22 -40L5 -26M22 -40L-36 11M22 -40L-14 -33M22 -40L-6 -36M32 -33L42 -20M32 -33L-16 9M32 -33L37 -6M32 -33L-4 -1M32 -33L-36 11M42 -20L40 0M42 -20L19 34M42 -20L37 -6M42 -20L-27 -5M42 -20L-28 8M42 -20L-36 11M42 -20L-6 -36M46 -8L0 14M46 -8L37 -6M-16 9L19 34M-16 9L5 -26M-16 9L37 -6M-16 9L-27 -5M-16 9L-28 8M-16 9L-1 17M-16 9L-36 11M-16 9L1 -24M-16 9L-14 -33M40 0L0 14M40 0L19 34M40 0L37 -6M40 0L-4 -1M40 0L-27 -5M40 0L-6 -36M40 0L29 -6M0 14L37 -6M0 14L-4 -1M0 14L-27 -5M0 14L-1 17M0 14L-36 11M0 14L-14 -33M9 -14L5 -26M9 -14L37 -6M9 -14L-28 8M9 -14L-1 17M9 -14L-6 -36M19 34L5 -26M19 34L-4 -1M19 34L-27 -5M19 34L1 -24M19 34L-14 -33M19 34L-6 -36M19 34L29 -6M5 -26L-4 -1M5 -26L-28 8M5 -26L-1 17M5 -26L-14 -33M5 -26L29 -6M37 -6L-27 -5M37 -6L-14 -33M37 -6L-6 -36M-4 -1L-27 -5M-4 -1L-28 8M-4 -1L-36 11M-4 -1L-14 -33M-4 -1L29 -6M-27 -5L1 -24M-27 -5L29 -6M-28 8L-1 17M-1 17L-36 11M-36 11L-14 -33M-36 11L-6 -36M1 -24L-6 -36" fill="none" stroke="#6a6a6a" stroke-opacity="0.16" stroke-width="0.6"/><path d="M1969.8 1421.7h0M1955.4 1458.3h0M1921.9 1471.3h0M1889.9 1457.8h0M1875.9 1423.7h0M1887.6 1393.3h0M1923.4 1377.3h0M1955.1 1390.1h0M1906.9 1432h0M1932 1409.2h0M1960.3 1417.1h0M1894.9 1431.1h0M1924.4 1399.2h0M1951.5 1417h0" stroke="#e9c12e" stroke-opacity="0.95" stroke-width="2.8" stroke-linecap="round"/><path d="M1968 1437.4h0M1945.4 1465.6h0M1908.3 1469h0M1883.2 1449.4h0M1877.4 1412.5h0M1898.4 1384.2h0M1934.6 1378.8h0M1964.7 1402.8h0M1962.9 1423.3h0M1941.7 1456.6h0M1919.1 1421.7h0M1922.3 1439.8h0M1909.1 1390.3h0" stroke="#b99a2e" stroke-opacity="0.95" stroke-width="2.8" stroke-linecap="round"/><path d="M1963.1 1448.6h0M1935 1469.7h0M1895.7 1462.7h0M1878.5 1439.6h0M1884.2 1397.6h0M1908.7 1379.5h0M1944.7 1382.6h0M1969 1415h0M1922.8 1437h0M1927.5 1396.8h0M1896.2 1417.9h0M1886.5 1433.6h0M1917.3 1386.5h0" stroke="#8a8a8a" stroke-opacity="0.95" stroke-width="2.8" stroke-linecap="round"/><ellipse cx="1925.7" cy="1446" rx="32" ry="32" transform="rotate(0 1925.7 1446)" fill="#3a3a3a" fill-opacity="0.6" filter="url(#tx)"/><path transform="translate(1926 1446)" d="M32 -1L9 31M32 -1L-14 29M32 -1L-27 18M32 -1L-28 -17M32 -1L5 0M32 -1L3 26M32 -1L21 -12M32 -1L14 -11M32 -1L14 -10M32 -1L-28 5M32 -1L-11 -2M32 -1L-5 -14M32 -1L-28 -6M32 -1L-8 4M32 -1L-9 -12M32 -1L15 14M32 -1L14 17M28 16L20 25M28 16L9 31M28 16L-5 32M28 16L-14 29M28 16L-27 18M28 16L-32 4M28 16L-31 -9M28 16L-28 -17M28 16L-18 -27M28 16L-3 -32M28 16L10 -30M28 16L20 -25M28 16L5 0M28 16L3 26M28 16L21 -12M28 16L14 -11M28 16L8 18M28 16L-28 5M28 16L-11 -2M28 16L-1 -17M20 25L-5 32M20 25L-14 29M20 25L-27 18M20 25L-32 4M20 25L-31 -9M20 25L-28 -17M20 25L-18 -27M20 25L10 -30M20 25L20 -25M20 25L30 -11M20 25L5 0M20 25L3 26M20 25L21 -12M20 25L14 -11M20 25L-28 5M20 25L-5 -14M20 25L-9 -12M20 25L14 17M9 31L-5 32M9 31L-14 29M9 31L-27 18M9 31L-32 4M9 31L-31 -9M9 31L-18 -27M9 31L-3 -32M9 31L30 -11M9 31L5 0M9 31L3 26M9 31L14 -11M9 31L14 -10M9 31L8 18M9 31L-28 5M9 31L-11 -2M9 31L-5 -14M9 31L-8 4M9 31L-9 -12M9 31L15 14M9 31L14 17M9 31L-1 -17M-5 32L-27 18M-5 32L-32 4M-5 32L-3 -32M-5 32L30 -11M-5 32L5 0M-5 32L3 26M-5 32L-28 5M-5 32L-11 -2M-5 32L-5 -14M-5 32L-28 -6M-5 32L-9 -12M-5 32L15 14M-5 32L14 17M-14 29L-27 18M-14 29L-32 4M-14 29L-31 -9M-14 29L-28 -17M-14 29L-3 -32M-14 29L10 -30M-14 29L20 -25M-14 29L30 -11M-14 29L21 -12M-14 29L14 -10M-14 29L-28 5M-14 29L-11 -2M-14 29L-28 -6M-14 29L-8 4M-14 29L15 14M-14 29L14 17M-14 29L-1 -17M-27 18L-3 -32M-27 18L20 -25M-27 18L3 26M-27 18L21 -12M-27 18L14 -11M-27 18L-28 5M-27 18L-11 -2M-27 18L-28 -6M-27 18L-9 -12M-27 18L15 14M-27 18L14 17M-32 4L-31 -9M-32 4L-28 -17M-32 4L-18 -27M-32 4L-3 -32M-32 4L20 -25M-32 4L30 -11M-32 4L21 -12M-32 4L14 -11M-32 4L-28 5M-32 4L-11 -2M-32 4L-28 -6M-32 4L-8 4M-32 4L-9 -12M-32 4L15 14M-32 4L14 17M-31 -9L-28 -17M-31 -9L-18 -27M-31 -9L-3 -32M-31 -9L20 -25M-31 -9L30 -11M-31 -9L21 -12M-31 -9L14 -11M-31 -9L8 18M-31 -9L-11 -2M-31 -9L-5 -14M-31 -9L-28 -6M-31 -9L-8 4M-31 -9L-9 -12M-31 -9L15 14M-31 -9L-1 -17M-28 -17L-18 -27M-28 -17L20 -25M-28 -17L30 -11M-28 -17L5 0M-28 -17L3 26M-28 -17L14 -11M-28 -17L-11 -2M-28 -17L-5 -14M-28 -17L-8 4M-28 -17L14 17M-28 -17L-1 -17M-18 -27L10 -30M-18 -27L20 -25M-18 -27L21 -12M-18 -27L14 -11M-18 -27L14 -10M-18 -27L-28 5M-18 -27L-11 -2M-18 -27L-28 -6M-18 -27L-9 -12M-18 -27L14 17M-18 -27L-1 -17M-3 -32L10 -30M-3 -32L20 -25M-3 -32L5 0M-3 -32L3 26M-3 -32L14 -10M-3 -32L8 18M-3 -32L-28 5M-3 -32L-11 -2M-3 -32L-8 4M-3 -32L15 14M-3 -32L14 17M-3 -32L-1 -17M10 -30L30 -11M10 -30L5 0M10 -30L3 26M10 -30L21 -12M10 -30L14 -11M10 -30L14 -10M10 -30L8 18M10 -30L-5 -14M10 -30L-9 -12M10 -30L14 17M10 -30L-1 -17M20 -25L5 0M20 -25L21 -12M20 -25L14 -10M20 -25L8 18M20 -25L-28 5M20 -25L-28 -6M20 -25L-8 4M20 -25L15 14M20 -25L14 17M30 -11L3 26M30 -11L21 -12M30 -11L14 -11M30 -11L14 -10M30 -11L-28 5M30 -11L-11 -2M30 -11L-5 -14M30 -11L-28 -6M30 -11L-9 -12M30 -11L14 17M5 0L21 -12M5 0L14 -11M5 0L14 -10M5 0L8 18M5 0L-11 -2M5 0L-8 4M5 0L15 14M3 26L14 -11M3 26L14 -10M3 26L8 18M3 26L-11 -2M3 26L15 14M3 26L-1 -17M21 -12L14 -11M21 -12L-5 -14M21 -12L-28 -6M21 -12L-8 4M21 -12L-9 -12M21 -12L14 17M21 -12L-1 -17M14 -11L14 -10M14 -11L-28 5M14 -11L-11 -2M14 -11L-8 4M14 -11L-9 -12M14 -11L14 17M14 -11L-1 -17M14 -10L-28 5M14 -10L-11 -2M14 -10L-5 -14M14 -10L15 14M14 -10L14 17M14 -10L-1 -17M8 18L-28 5M8 18L-8 4M8 18L-9 -12M8 18L15 14M8 18L-1 -17M-28 5L-5 -14M-28 5L-28 -6M-28 5L-9 -12M-28 5L15 14M-28 5L14 17M-28 5L-1 -17M-11 -2L-5 -14M-11 -2L-28 -6M-11 -2L-8 4M-11 -2L-9 -12M-11 -2L15 14M-11 -2L-1 -17M-5 -14L-28 -6M-5 -14L-9 -12M-5 -14L14 17M-5 -14L-1 -17M-28 -6L-9 -12M-28 -6L15 14M-8 4L-9 -12M-8 4L15 14M-8 4L14 17M-9 -12L-1 -17M14 17L-1 -17" fill="none" stroke="#6a6a6a" stroke-opacity="0.3" stroke-width="0.6"/><path d="M1957.7 1445.1h0M1945.9 1470.8h0M1920.7 1477.6h0M1899.2 1464h0M1894.9 1437.2h0M1908.5 1419h0M1936.1 1415.7h0M1955.7 1434.8h0M1929.4 1472.4h0M1939.6 1434.7h0M1934.3 1463.6h0M1915 1443.5h0M1897.7 1440.3h0M1916.5 1434.3h0M1940 1462.7h0" stroke="#e9c12e" stroke-opacity="0.95" stroke-width="2.4" stroke-linecap="round"/><path d="M1953.7 1461.5h0M1934.8 1476.7h0M1911.9 1474.9h0M1894 1450.4h0M1898.4 1429.3h0M1923.1 1414.1h0M1946.2 1421.4h0M1930.8 1446.1h0M1947.1 1433.9h0M1939.8 1436.5h0M1898.3 1451.3h0M1921 1432h0M1918.5 1449.6h0M1940.8 1460.5h0M1924.6 1428.6h0" stroke="#8a8a8a" stroke-opacity="0.95" stroke-width="2.4" stroke-linecap="round"/><ellipse cx="1861.4" cy="1527.1" rx="36" ry="36" transform="rotate(0 1861.4 1527.1)" fill="#555" fill-opacity="0.6" filter="url(#tx)"/><path transform="translate(1858 1530)" d="M39 -2L-6 32M39 -2L-18 26M39 -2L-31 7M39 -2L-16 -33M39 -2L8 -39M39 -2L16 -36M39 -2L38 -14M39 -2L-6 -1M39 -2L-21 7M39 -2L18 -5M39 -2L-3 -10M37 9L-32 -8M37 9L-27 -22M37 9L-16 -33M37 9L-6 -38M37 9L28 -29M37 9L38 -14M37 9L19 23M37 9L13 13M37 9L-9 13M37 9L2 -2M37 9L-6 -1M37 9L32 3M37 9L0 26M37 9L-21 7M37 9L-3 -10M27 25L22 28M27 25L6 33M27 25L-6 32M27 25L-28 14M27 25L-31 7M27 25L-32 -8M27 25L-27 -22M27 25L38 -14M27 25L14 6M27 25L2 -2M27 25L32 3M27 25L-3 -10M27 25L-9 0M27 25L-26 2M22 28L-28 14M22 28L-32 -8M22 28L13 13M22 28L-6 -1M22 28L0 26M22 28L-21 7M22 28L-3 -10M22 28L-26 2M6 33L-28 14M6 33L-16 -33M6 33L8 -39M6 33L28 -29M6 33L19 23M6 33L0 26M6 33L-21 7M6 33L18 -5M6 33L-3 -10M6 33L-9 0M6 33L4 -13M6 33L-5 0M-6 32L-18 26M-6 32L-31 7M-6 32L-32 -8M-6 32L-6 -38M-6 32L16 -36M-6 32L14 6M-6 32L-6 -1M-6 32L-21 7M-6 32L18 -5M-6 32L4 -13M-6 32L-26 2M-18 26L-28 14M-18 26L-27 -22M-18 26L-6 -38M-18 26L8 -39M-18 26L16 -36M-18 26L38 -14M-18 26L19 23M-18 26L13 13M-18 26L2 -2M-18 26L-6 -1M-18 26L32 3M-18 26L11 25M-18 26L0 26M-18 26L-21 7M-28 14L-31 7M-28 14L-32 -8M-28 14L-16 -33M-28 14L-6 -38M-28 14L28 -29M-28 14L19 23M-28 14L13 13M-28 14L-9 13M-28 14L2 -2M-28 14L-6 -1M-28 14L32 3M-28 14L11 25M-28 14L0 26M-28 14L-3 -10M-28 14L-9 0M-28 14L-5 0M-31 7L-32 -8M-31 7L-27 -22M-31 7L-16 -33M-31 7L-6 -38M-31 7L8 -39M-31 7L16 -36M-31 7L38 -14M-31 7L19 23M-31 7L-9 13M-31 7L14 6M-31 7L11 25M-31 7L0 26M-31 7L18 -5M-31 7L-9 0M-32 -8L-16 -33M-32 -8L-6 -38M-32 -8L16 -36M-32 -8L28 -29M-32 -8L38 -14M-32 -8L-9 13M-32 -8L4 -12M-32 -8L-6 -1M-32 -8L11 25M-32 -8L0 26M-32 -8L-21 7M-32 -8L-3 -10M-32 -8L4 -13M-32 -8L-5 0M-32 -8L-26 2M-27 -22L-6 -38M-27 -22L8 -39M-27 -22L38 -14M-27 -22L-9 13M-27 -22L14 6M-27 -22L-6 -1M-27 -22L18 -5M-27 -22L-3 -10M-27 -22L4 -13M-16 -33L-6 -38M-16 -33L8 -39M-16 -33L16 -36M-16 -33L28 -29M-16 -33L19 23M-16 -33L-9 13M-16 -33L4 -12M-16 -33L2 -2M-16 -33L-6 -1M-16 -33L11 25M-16 -33L-21 7M-16 -33L18 -5M-16 -33L4 -13M-16 -33L-5 0M-6 -38L8 -39M-6 -38L19 23M-6 -38L-9 13M-6 -38L-6 -1M-6 -38L-21 7M-6 -38L-9 0M-6 -38L4 -13M-6 -38L-5 0M-6 -38L-26 2M8 -39L16 -36M8 -39L38 -14M8 -39L-6 -1M8 -39L0 26M8 -39L-21 7M8 -39L-9 0M8 -39L-5 0M8 -39L-26 2M16 -36L19 23M16 -36L13 13M16 -36L-9 13M16 -36L4 -12M16 -36L-6 -1M16 -36L0 26M16 -36L-21 7M16 -36L18 -5M16 -36L-3 -10M16 -36L-9 0M16 -36L4 -13M16 -36L-26 2M28 -29L19 23M28 -29L13 13M28 -29L-9 13M28 -29L2 -2M28 -29L11 25M28 -29L-21 7M28 -29L-9 0M28 -29L-26 2M38 -14L-9 13M38 -14L4 -12M38 -14L2 -2M38 -14L18 -5M38 -14L-3 -10M38 -14L4 -13M19 23L13 13M19 23L-21 7M19 23L18 -5M19 23L-9 0M19 23L4 -13M19 23L-26 2M13 13L-9 13M13 13L2 -2M13 13L-6 -1M13 13L11 25M13 13L-21 7M13 13L18 -5M13 13L-9 0M13 13L-26 2M-9 13L-6 -1M-9 13L11 25M-9 13L18 -5M14 6L2 -2M14 6L11 25M14 6L0 26M14 6L18 -5M14 6L-3 -10M14 6L-5 0M4 -12L-6 -1M4 -12L32 3M4 -12L11 25M4 -12L-3 -10M4 -12L-9 0M4 -12L-26 2M2 -2L32 3M2 -2L11 25M2 -2L-21 7M2 -2L-9 0M2 -2L-26 2M-6 -1L11 25M-6 -1L0 26M-6 -1L-3 -10M-6 -1L-9 0M-6 -1L-5 0M-6 -1L-26 2M32 3L0 26M32 3L18 -5M32 3L4 -13M32 3L-26 2M11 25L0 26M11 25L-21 7M11 25L4 -13M11 25L-5 0M0 26L-21 7M0 26L-5 0M-21 7L-9 0M-21 7L-5 0M-21 7L-26 2M18 -5L-9 0M-3 -10L-9 0M-9 0L4 -13M-9 0L-26 2M-5 0L-26 2" fill="none" stroke="#6a6a6a" stroke-opacity="0.2" stroke-width="0.6"/><path d="M1897.4 1527.9h0M1884.6 1554.7h0M1863.5 1563h0M1840.2 1556.2h0M1826.8 1536.9h0M1830.7 1508.3h0M1851.7 1492.4h0M1874.4 1493.5h0M1895.6 1515.7h0M1871.3 1543.1h0M1871.7 1536.3h0M1860.1 1528.2h0M1889.7 1533.3h0M1858.1 1555.7h0M1875.9 1524.7h0M1848.8 1529.9h0M1853.3 1530h0" stroke="#5ebde6" stroke-opacity="0.95" stroke-width="2.8" stroke-linecap="round"/><path d="M1895.3 1539.1h0M1880 1557.9h0M1851.8 1561.8h0M1829.8 1544.4h0M1825.7 1522.2h0M1842.3 1496.6h0M1866.3 1491.4h0M1886.5 1501.2h0M1877.4 1552.7h0M1849.3 1543.1h0M1861.7 1518.2h0M1852.2 1529.4h0M1869.3 1555h0M1836.8 1536.5h0M1855.1 1520.3h0M1862.5 1516.6h0M1831.6 1532.4h0" stroke="#8a8a8a" stroke-opacity="0.95" stroke-width="2.8" stroke-linecap="round"/><ellipse cx="1876" cy="1482" rx="26" ry="26" transform="rotate(0 1876 1482)" fill="#555" fill-opacity="0.25" filter="url(#tx)"/><path transform="translate(1875 1484)" d="M27 -3L23 12M27 -3L-24 6M27 -3L23 -15M27 -3L1 18M27 -3L16 -9M27 -3L-3 14M27 -3L-17 0M27 -3L-10 5M23 12L12 21M23 12L-17 17M23 12L-15 -22M23 12L-4 -23M23 12L16 -9M23 12L-3 14M23 12L-17 0M23 12L-21 1M12 21L-1 24M12 21L-17 17M12 21L-24 -9M12 21L1 -28M12 21L11 -26M12 21L23 -15M12 21L-4 -23M12 21L3 20M12 21L16 -9M12 21L-17 0M12 21L-21 1M12 21L-20 2M-1 24L-17 17M-1 24L1 -28M-1 24L11 -26M-1 24L1 18M-1 24L16 -9M-1 24L-3 14M-1 24L-17 0M-1 24L18 -16M-17 17L-24 -9M-17 17L1 -28M-17 17L11 -26M-17 17L23 -15M-17 17L1 18M-17 17L-4 -23M-17 17L3 20M-17 17L16 -9M-17 17L-10 5M-17 17L-20 2M-24 6L-15 -22M-24 6L3 20M-24 6L13 8M-24 6L-21 1M-24 -9L1 -28M-24 -9L23 -15M-24 -9L3 20M-24 -9L16 -9M-24 -9L18 -16M-24 -9L-20 2M-15 -22L11 -26M-15 -22L23 -15M-15 -22L1 18M-15 -22L16 -9M-15 -22L-21 1M-15 -22L-10 5M-15 -22L18 -16M1 -28L-4 -23M1 -28L-21 1M11 -26L23 -15M11 -26L-17 0M11 -26L-10 5M11 -26L-20 2M23 -15L1 18M23 -15L-4 -23M23 -15L3 20M23 -15L-3 14M23 -15L-17 0M23 -15L18 -16M23 -15L-20 2M1 18L13 8M1 18L-17 0M-4 -23L3 20M-4 -23L-17 0M-4 -23L-21 1M-4 -23L18 -16M3 20L16 -9M3 20L-3 14M13 8L-17 0M13 8L-10 5M16 -9L-17 0M16 -9L-21 1M-17 0L-21 1M-21 1L-10 5M-21 1L-20 2M-10 5L18 -16M-10 5L-20 2" fill="none" stroke="#6a6a6a" stroke-opacity="0.16" stroke-width="0.6"/><path d="M1902 1481.1h0M1887.3 1505.4h0M1858.3 1501h0M1851.1 1474.6h0M1875.6 1456h0M1898.2 1468.5h0M1870.6 1461h0M1887.5 1492h0M1871.8 1497.9h0M1854.2 1485.3h0M1893.2 1467.7h0" stroke="#5ebde6" stroke-opacity="0.95" stroke-width="2.6" stroke-linecap="round"/><path d="M1897.6 1496.5h0M1873.7 1507.9h0M1851.2 1489.8h0M1859.7 1461.7h0M1886.2 1458.1h0M1876.2 1501.6h0M1878.3 1504.3h0M1891.3 1475.3h0M1857.7 1484.2h0M1865.1 1489.3h0M1855.1 1485.5h0" stroke="#8a8a8a" stroke-opacity="0.95" stroke-width="2.6" stroke-linecap="round"/><ellipse cx="1540.2" cy="1645.7" rx="27" ry="35.1" transform="rotate(0 1540.2 1645.7)" fill="#555" fill-opacity="0.2" filter="url(#tx)"/><path transform="translate(1542 1642)" d="M25 5L11 34M25 5L-17 33M25 5L12 -26M25 5L21 -15M25 5L5 -10M25 5L17 11M25 5L-26 4M25 5L-2 -8M25 5L3 -26M22 20L-1 -31M22 20L21 -15M22 20L19 14M22 20L5 -10M22 20L17 11M22 20L-26 4M22 20L-22 -11M22 20L17 -14M11 34L-1 39M11 34L-29 7M11 34L-25 -15M11 34L-1 -31M11 34L12 -26M11 34L21 -15M11 34L-26 4M11 34L-2 -8M11 34L17 -14M11 34L3 -26M-1 39L-17 33M-1 39L-25 -15M-1 39L-16 -26M-1 39L-1 -31M-1 39L12 -26M-1 39L19 14M-1 39L17 11M-1 39L3 0M-1 39L-26 4M-1 39L-2 -8M-1 39L-22 -11M-1 39L17 -14M-17 33L-25 -15M-17 33L-16 -26M-17 33L12 -26M-17 33L19 14M-17 33L17 11M-17 33L-2 -8M-17 33L3 -26M-25 21L-25 -15M-25 21L-1 -31M-25 21L19 14M-25 21L5 -10M-25 21L18 -6M-25 21L17 11M-25 21L3 0M-25 21L-2 -8M-25 21L3 -26M-29 7L-25 -15M-29 7L-16 -26M-29 7L19 14M-29 7L5 -10M-29 7L18 -6M-29 7L3 0M-29 7L-26 4M-29 7L17 -14M-25 -15L12 -26M-25 -15L21 -15M-25 -15L19 14M-25 -15L18 -6M-25 -15L-2 -8M-25 -15L-22 -11M-25 -15L17 -14M-16 -26L12 -26M-16 -26L21 -15M-16 -26L19 14M-16 -26L17 11M-16 -26L3 0M-16 -26L-22 -11M-16 -26L17 -14M-16 -26L3 -26M-1 -31L12 -26M-1 -31L17 11M-1 -31L-22 -11M-1 -31L17 -14M12 -26L5 -10M12 -26L3 0M12 -26L-26 4M12 -26L-2 -8M12 -26L3 -26M21 -15L5 -10M21 -15L17 11M21 -15L3 0M21 -15L-2 -8M21 -15L-22 -11M21 -15L17 -14M21 -15L3 -26M19 14L18 -6M19 14L-2 -8M19 14L-22 -11M5 -10L17 11M5 -10L3 0M5 -10L-26 4M5 -10L-2 -8M5 -10L-22 -11M5 -10L3 -26M18 -6L17 11M18 -6L3 0M18 -6L-22 -11M18 -6L3 -26M17 11L-26 4M17 11L-22 -11M17 11L17 -14M3 0L-26 4M3 0L-22 -11M3 0L3 -26M-26 4L-2 -8M-26 4L-22 -11M-26 4L17 -14M-2 -8L3 -26" fill="none" stroke="#6a6a6a" stroke-opacity="0.28" stroke-width="0.6"/><path d="M1567.1 1646.8h0M1553.2 1676.4h0M1525.2 1674.9h0M1513.3 1648.9h0M1526 1615.8h0M1554.3 1615.8h0M1561.3 1656h0M1559.8 1636.3h0M1545.3 1642.3h0M1540.1 1634h0M1558.6 1628h0" stroke="#8a8a8a" stroke-opacity="0.95" stroke-width="2.8" stroke-linecap="round"/><path d="M1564 1662.1h0M1540.9 1680.8h0M1516.8 1663.2h0M1517.2 1627.3h0M1541.1 1610.6h0M1563.2 1627.4h0M1546.8 1631.7h0M1558.9 1652.8h0M1516.4 1646h0M1520 1631h0M1544.9 1616h0" stroke="#a392f3" stroke-opacity="0.95" stroke-width="2.8" stroke-linecap="round"/><path transform="translate(1514 1687)" d="M-10 9L8 -1M-10 9L-35 57M-10 9L12 38M3 -17L30 28M3 -17L-10 9M3 -17L27 1M8 -1L-20 54M8 -1L-45 0M8 -1L-7 49M27 1L55 57M27 1L66 38M27 1L3 -17M30 28L-14 60M30 28L-3 79M30 28L8 -1M-3 32L43 41M-3 32L30 28M-3 32L-3 64M12 38L-35 57M12 38L-3 64M12 38L-10 9M-7 49L-45 0M-7 49L12 38M-7 49L8 -1M-6 43L3 -17M-6 43L-3 79M-6 43L-10 9M-20 54L-10 9M-20 54L30 28M-20 54L-3 32M66 38L27 1M66 38L30 28M66 38L43 41M55 57L-14 60M55 57L66 38M55 57L43 41M43 41L-20 54M43 41L-10 9M43 41L-6 43M-14 60L55 57M-14 60L-3 32M-14 60L12 38M-3 64L-6 43M-3 64L-3 79M-3 64L12 38M-35 57L-3 64M-35 57L-45 0M-35 57L12 38M-45 0L-35 57M-45 0L-3 32M-45 0L-14 60M-3 79L55 57M-3 79L-3 32M-3 79L-3 64M4 -132L-22 -137M4 -132L-4 -81M4 -132L8 -99M8 -99L4 -132M8 -99L-22 -137M8 -99L-33 -107M-33 -107L8 -99M-33 -107L-22 -137M-33 -107L-33 -85M-33 -85L-22 -137M-33 -85L-4 -81M-33 -85L-33 -107M-4 -81L3 -17M-4 -81L-33 -85M-4 -81L-22 -137M-22 -137L-33 -85M-22 -137L-4 -81M-22 -137L8 -99" fill="none" stroke="#c0c0c0" stroke-opacity="0.4" stroke-width="0.8"/><text x="1475.1" y="1561.5" font-size="20" fill="#eef2f4" font-style="italic">Rps6</text><text x="1509.6" y="1565.3" font-size="20" fill="#eef2f4" font-style="italic">Rps4x</text><text x="1482.8" y="1582.6" font-size="20" fill="#eef2f4" font-style="italic">Rps26</text><text x="1484.7" y="1604.7" font-size="20" fill="#eef2f4" font-style="italic">Rpl30</text><text x="1503.8" y="1617" font-size="20" fill="#eef2f4" font-style="italic">Rps3</text><text x="1478.9" y="1638" font-size="20" fill="#eef2f4" font-style="italic">Eav4</text><text x="1503.8" y="1683.9" font-size="18" fill="#eef2f4" font-style="italic">Smn</text><text x="1534.4" y="1697.3" font-size="18" fill="#eef2f4" font-style="italic">Pcbp2</text><text x="1544" y="1714.5" font-size="18" fill="#eef2f4" font-style="italic">Prpf19</text><text x="1496.2" y="1716.4" font-size="14" fill="#eef2f4" font-style="italic">Ddx</text><text x="1519.1" y="1733.7" font-size="15" fill="#eef2f4" font-style="italic">Sf3a1</text><text x="1545.9" y="1747.8" font-size="17" fill="#eef2f4" font-style="italic">Eny1</text><text x="1473.2" y="1689.7" font-size="14" fill="#eef2f4" font-style="italic">Tfr2</text><path d="M1503.8 1696.2h0" stroke="#a392f3" stroke-opacity="0.9" stroke-width="8" stroke-linecap="round"/><path d="M1517.2 1669.8h0M1506.9 1735.6h0" stroke="#a392f3" stroke-opacity="0.9" stroke-width="5" stroke-linecap="round"/><path d="M1522.2 1685.8h0M1540.9 1687.8h0M1510.7 1719.1h0" stroke="#a392f3" stroke-opacity="0.9" stroke-width="3.6" stroke-linecap="round"/><path d="M1544 1714.5h0" stroke="#a392f3" stroke-opacity="0.9" stroke-width="4.4" stroke-linecap="round"/><path d="M1526 1724.9h0M1507.6 1729.8h0M1494.2 1741.3h0M1580.3 1724.9h0" stroke="#a392f3" stroke-opacity="0.9" stroke-width="3" stroke-linecap="round"/><path d="M1568.8 1744h0M1500 1747.1h0M1511.5 1750.9h0" stroke="#a392f3" stroke-opacity="0.9" stroke-width="2.4" stroke-linecap="round"/><path d="M1557.4 1727.9h0M1478.9 1744h0M1469.4 1686.6h0" stroke="#a392f3" stroke-opacity="0.9" stroke-width="2" stroke-linecap="round"/><path d="M1510.7 1766.2h0" stroke="#a392f3" stroke-opacity="0.9" stroke-width="1.6" stroke-linecap="round"/><path d="M1518.4 1555h0M1480.9 1602.4h0" stroke="#5ebde6" stroke-opacity="0.9" stroke-width="5" stroke-linecap="round"/><path d="M1522.2 1588.3h0" stroke="#5ebde6" stroke-opacity="0.9" stroke-width="6" stroke-linecap="round"/><path d="M1480.9 1579.9h0M1509.6 1605.5h0M1560.4 1478.5h0M1492.3 1550h0" stroke="#5ebde6" stroke-opacity="0.9" stroke-width="4" stroke-linecap="round"/><rect x="1490.4" y="1268" width="603.7" height="559.2" fill="none" stroke="#6a6a6a" stroke-width="1.3"/><path d="M1490.4 1293.7h-6M1490.4 1497.2h-6M1490.4 1700.4h-6" stroke="#6a6a6a" stroke-width="1.3"/><text x="1479.4" y="1301.4" font-size="21.5" text-anchor="end">6</text><text x="1479.4" y="1504.9" font-size="21.5" text-anchor="end">4</text><text x="1479.4" y="1708.1" font-size="21.5" text-anchor="end">2</text><path d="M1493.1 1827.2v6M1636.5 1827.2v6M1779.9 1827.2v6M1923.3 1827.2v6M2066.7 1827.2v6" stroke="#6a6a6a" stroke-width="1.3"/><text x="1493.1" y="1854.3" font-size="21.5" text-anchor="middle">0</text><text x="1636.5" y="1854.3" font-size="21.5" text-anchor="middle">20</text><text x="1779.9" y="1854.3" font-size="21.5" text-anchor="middle">40</text><text x="1923.3" y="1854.3" font-size="21.5" text-anchor="middle">60</text><text x="2066.7" y="1854.3" font-size="21.5" text-anchor="middle">80</text><text x="1792.6" y="1251.6" font-size="25" text-anchor="middle">Enrichment analysis of S−cluster−A</text><text transform="rotate(-90 1449 1547.2)" x="1449" y="1547.2" font-size="25" text-anchor="middle">log<tspan font-size="17.5" dy="5">2</tspan><tspan dy="-5">(Fold enrichment)</tspan></text><text x="1792.6" y="1885.5" font-size="25" text-anchor="middle">log<tspan font-size="17.5" dy="5">10</tspan><tspan dy="-5">P</tspan></text><text x="1768.9" y="1309" font-size="16.6">Mitochondrial ribosome</text><text x="1556.2" y="1361.4" font-size="16.6">Structural constituent of ribosome</text><text x="1934.2" y="1362.5" font-size="16.6">Ribosomal subunit</text><text x="1593" y="1481.9" font-size="16.6">Mitochondrial translation</text><text x="1941" y="1519.4" font-size="16.6">Translation</text><text x="1556.2" y="1574.9" font-size="16.6">rRNA processing</text><text x="1565.8" y="1633.4" font-size="16.6">Spliceosomal complex</text><text x="1582.2" y="1711.8" font-size="16.6">RNA splicing</text><path d="M1788.8 1689.7h0" stroke="#b99a2e" stroke-opacity="1" stroke-width="19" stroke-linecap="round"/><path d="M1788.8 1736.7h0" stroke="#6cc133" stroke-opacity="1" stroke-width="19" stroke-linecap="round"/><path d="M1788.8 1784.2h0" stroke="#e9c12e" stroke-opacity="1" stroke-width="19" stroke-linecap="round"/><text x="1804.1" y="1695.6" font-size="16.6">Translation initiation and regulation</text><text x="1804.1" y="1742.6" font-size="16.6">RNA processing</text><text x="1804.1" y="1790.1" font-size="16.6">Ribosome</text></svg></div></body></html>
